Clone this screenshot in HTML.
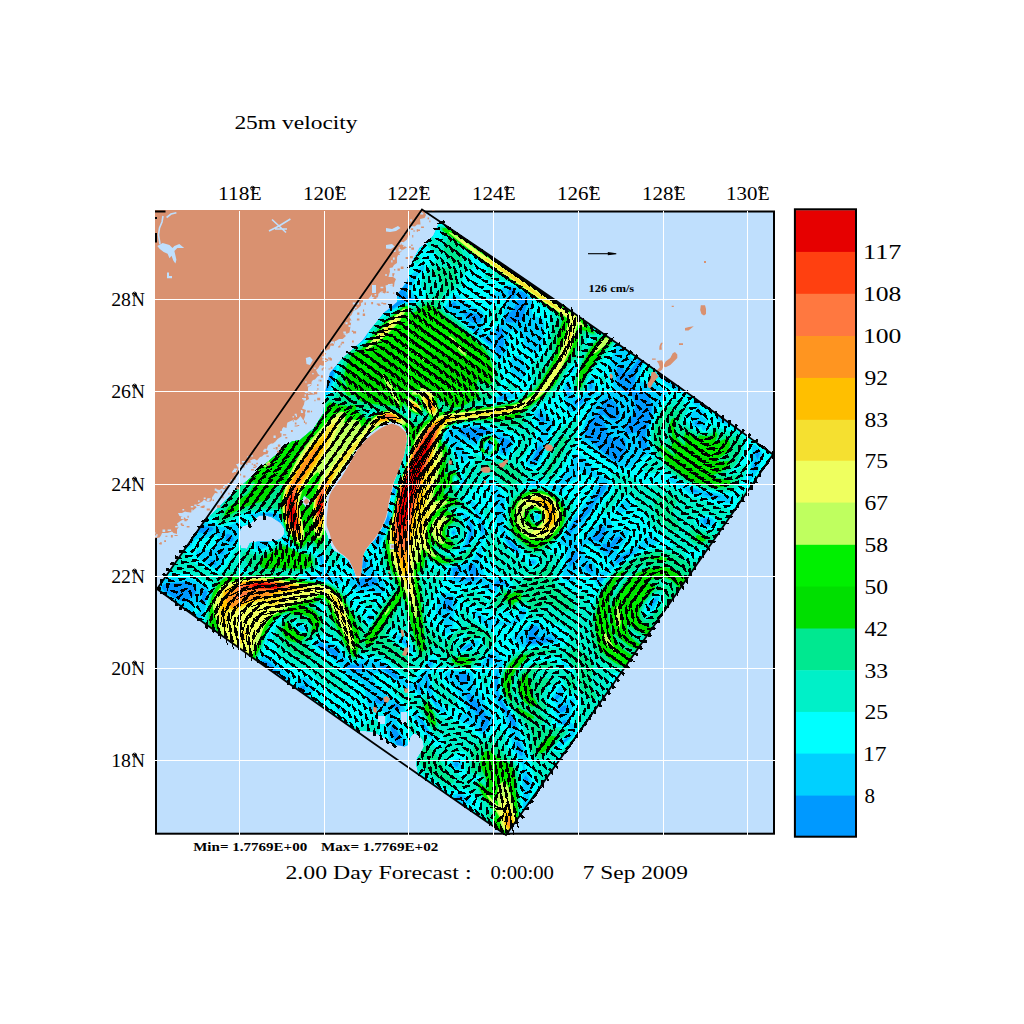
<!DOCTYPE html>
<html><head><meta charset="utf-8"><title>25m velocity</title>
<style>html,body{margin:0;padding:0;background:#fff}svg{display:block}text{font-family:"Liberation Serif",serif;fill:#000}</style>
</head><body>
<svg width="1024" height="1024" viewBox="0 0 1024 1024">
<rect width="1024" height="1024" fill="#fff"/>
<rect x="156" y="211.5" width="618" height="622.2" fill="#bfdffd" stroke="#000" stroke-width="2"/>
<clipPath id="dc"><path d="M439.5 221.5 466.4 239.4 510.6 269.5 554.7 299.8 598.6 330.4 642.4 361.1 686.1 392 729.6 423.2 773 454.5 740 502.3 706.9 550.1 673.6 597.7 640.3 645.3 606.9 692.9 573.4 740.3 539.7 787.7 506 835 462 804.7 417 773.3 418 771 416 764.2 417 758.4 421 752.5 424 746.6 423 740.8 420 736 414.2 733 410.3 736.9 408.4 744.7 404.5 746.6 394.7 744.7 388.8 740.8 381 736 374.2 732 365.4 731 357.6 730.4 330.8 713.1 287.2 682.2 243.7 651.3 200.3 620.2 157 589 166.3 576 180.5 555.7 191.1 540.5 199.8 528 211 515 223.6 502.4 236.3 489.7 251.5 477 261.7 467 277 454 292 441.5 300 440 314 428 323.5 413 325 392 330 372.5 343 358 357.5 345 362.5 340.6 370.3 329.7 384.4 312.5 397 302 397 295 400.5 290 407.4 281 410 268 413 260 420 247.5 427 243.5 434 234.5 439.5 221.5ZM393.1 420.4 400.3 423.1 406.2 431.3 407.6 438.2 406.1 447.2 404.4 455.9 401.2 464.3 398.7 471.7 393.9 483.5 392 492.7 390 501.6 388.4 510.4 386.8 517.6 382.5 527.8 378.4 534.4 374.7 539.7 370.1 545 366.6 549.4 364 554 362.7 559.2 362 568 360.9 576.8 357.8 579.7 355.4 576 353.8 571 351.3 566 348.7 561 343.6 556.4 338.9 553.2 334.4 551.2 331.5 547.1 328.9 540.9 327.1 535 324.9 529.9 323.9 526.7 323.9 518.3 324.5 510.2 325.1 502.2 326.3 495.3 328.9 489.6 332.5 484.6 335.3 480.2 338.9 475.8 343.2 468.9 347.7 461.6 352.1 454.4 356.4 447.6 361.3 441.8 366.7 435.8 371.8 431.8 376.9 428.1 381.7 424.9 386.9 422.3ZM239 533 242 526.6 250 523.4 255 519 259.4 515.6 266 515.5 272 517.2 281.2 523.4 284.4 529 284.4 534 280 539.5 270 541.5 258 541.5 250 543 247 549 241 548 238.5 540ZM400.5 712 407 712 407 724 400.5 724ZM378 715.4 385 715.4 385 724.2 378 724.2ZM304 495.5 312 501.5 306.5 508 301 501.5ZM389.5 543.5 395.5 543.5 395.5 549.5 389.5 549.5Z" clip-rule="evenodd"/></clipPath><g clip-path="url(#dc)" fill-rule="evenodd"><rect x="140" y="195" width="650" height="655" fill="#0099ff"/><path d="M141.5 199.2 199.5 239.7 203.5 241.4 205.5 240.5 205.2 238.5 201.5 235.2 146.1 196.5 151.5 195.5 222.5 196.5 227.5 199.6 233.5 196.1 241.5 195.3 297.5 195.1 325.5 196.3 337.5 195.2 365.5 195.1 386.6 196.5 395.5 199.5 397.5 199.1 400.4 196.5 405.5 195.7 439.5 195.2 461.9 196.5 457.6 202.5 457.5 204.5 459.5 206.6 467.5 204 473.5 206.1 479.5 205.4 480.6 204.5 477.5 200.9 468.3 196.5 475.5 195.6 583.5 195.1 649.5 195.8 654.9 196.5 653.5 199.1 645.5 202.5 644.6 204.5 644.8 206.5 647.5 209.3 650.7 208.5 654.1 202.5 656.7 200.5 663.5 200.4 669.5 205.2 673.5 205.7 675.6 204.5 681.1 196.5 689.5 196 692.9 196.5 683.2 210.5 683.4 212.5 685 214.5 687.5 216 689.5 216.1 691.5 214.5 704 196.5 711.5 195.9 716.5 196.5 698.7 222.5 700.3 226.5 703.5 227.9 708.2 226.5 729.1 196.5 737.5 196.5 713.9 230.5 713.4 232.5 717.5 234.8 744.4 196.5 755.5 195.3 769.5 195.4 773.4 196.5 737.2 248.5 737.5 249.5 739.5 250.2 777.1 196.5 779.5 195.4 787.5 195 789 196.5 788.8 416.5 787.5 426.3 784.1 426.5 783 428.5 783.5 430.5 787.5 433.2 788.2 436.5 787.7 458.5 783.3 462.5 787.5 466.2 788.5 478.5 787.5 484.8 783.5 483.9 781.5 484.5 781.3 486.5 782.8 488.5 787.5 491.1 788.6 496.5 789 558.5 787.5 574.6 779.5 571 775.5 571.4 773.5 572.5 767.5 580.2 763.5 582.8 762.5 578.5 764.9 568.5 763.9 566.5 761.5 564.6 757.4 564.5 741.5 580.6 737.1 590.5 731.1 596.5 731.3 600.5 736.7 608.5 738.2 614.5 737.5 617.5 735.5 620.3 727.8 626.5 728.1 640.5 727.1 644.5 723.5 647.6 719.5 648.3 717.2 646.5 712.3 636.5 709.5 634.9 707.5 635.4 705.5 637.1 704.1 640.5 705.5 648.5 703.5 650.5 699.5 650.3 695.5 651.5 678.6 664.5 669.7 672.5 671.5 673.3 681.5 667.9 690.7 660.5 697.5 658.3 701.5 658.7 707.5 662.7 713.5 664.8 727.5 664.3 731.5 663 733.5 660.2 734.3 656.5 730.2 646.5 730.3 642.5 744.9 616.5 747 600.5 759.5 589.2 761.5 590.1 765.5 595.4 769.5 595 775 592.5 775 584.5 776.7 580.5 781.5 577.3 783.5 576.9 785.5 578.3 786.5 584.5 775.8 592.5 779.5 595.6 787.5 599.2 788.4 602.5 788.9 622.5 787.5 656.2 782.2 652.5 775.5 644.9 773.5 645.2 768.2 650.5 766.8 654.5 768.1 656.5 771.5 658.6 781.5 661.9 787.5 664.9 788.4 670.5 788.5 750.5 787.5 752.7 773.5 743 771.4 742.5 771.4 744.5 787.5 756 788.5 758.5 788.8 810.5 787.5 828 739.5 794.6 737.5 794 735.5 795.3 733.2 800.5 734.9 802.5 787.5 839.1 788.4 848.5 787.5 849.4 759.5 848.7 737.5 849.8 717.5 849.6 712.4 848.5 703.5 842.9 701.6 844.5 702.3 846.5 704.9 848.5 695.5 849.7 682.6 848.5 682.7 846.5 681.5 845.4 679.5 845.5 675.5 848.5 657.5 849.6 613.5 849 585.5 849.8 569.5 849 555.5 849.9 495.5 849.8 482.7 848.5 491.1 844.5 492.5 842.5 491.5 840.8 489.5 840.3 481.5 843.5 471.5 845.1 469 846.5 469 848.5 465.5 849.2 447.5 849.9 433.5 849.2 430.8 848.5 423.5 843.1 419.8 838.5 416.2 824.5 418.8 814.5 411.4 804.5 398.3 792.5 397.2 788.5 398.2 786.5 403.9 782.5 399.2 778.5 393.5 776.4 391.5 776.5 389.5 778.5 391 786.5 390.5 796.5 391.5 802.2 403.5 811.5 411.5 814.9 414.2 820.5 413.9 840.5 413.3 842.5 407.5 848.9 397.5 849.7 381.8 848.5 383.5 844.5 382.7 842.5 381.5 842.3 378 844.5 376.9 848.5 369.5 849.7 329.5 849.8 313.5 848.6 257.5 849.4 227.5 848.6 241 828.5 239.5 821.2 237.5 820.1 232.8 824.5 216.2 848.5 205.5 849 203.4 848.5 230.5 810.5 231.3 808.5 230.7 806.5 227.5 804.9 197.4 848.5 189.5 849.8 173.5 849.1 172.2 848.5 204.3 802.5 204.9 800.5 203.5 798.6 200.6 800.5 167.1 848.5 161.5 849.6 141.5 849.9 140.1 848.5 140.5 776.5 141.5 771.3 148.7 760.5 148.9 758.5 147.5 758.1 145.5 759.1 141.5 764.1 140.2 754.5 140.6 706.5 141.5 702.1 143.5 702.9 145.5 702.3 146.6 698.5 145.5 696.4 141.5 695.5 140.3 684.5 140.8 670.5 141.5 668.7 145.3 666.5 145.7 664.5 141.5 663.5 140.3 654.5 140.8 604.5 140 538.5 141.1 520.5 140.2 478.5 141.5 466.8 149.5 465.8 150.3 462.5 147.5 456.9 143.5 454.8 141.5 455.5 140.9 448.5 140 376.5 141 298.5 141.5 294.6 163.5 309.1 167.5 309.3 169.1 308.5 169.7 306.5 168 304.5 141.5 286.8 140.1 278.5 140.2 252.5 141.5 246.8 177.5 271.9 181.5 273.2 183.3 272.5 141.5 242.8 140.3 238.5 140.3 222.5 141.5 217.8 191.5 252.7 195.5 253.6 196 252.5 192.9 248.5 141.5 212.7 140.5 206.5ZM251.5 202.5 249.5 203 248.5 204.5 249.5 207.1 251.5 206.5 252.6 204.5ZM441.5 209.2 439.5 209.2 437.5 210.8 433.8 216.5 432.2 220.5 433.5 221.8 437.5 220.2 442.1 216.5 443 212.5ZM617.5 208.6 616.1 210.5 617.5 215.1 627.5 222.1 629.5 222.8 631.5 222 632.3 220.5 631.2 218.5 623.5 213.7 619.5 209.3ZM269.5 214.1 267.5 215.8 267.5 218 269.8 216.5ZM518.2 214.5 515.5 213.4 505.6 218.5 505.1 220.5 507.5 221.9 511.5 221 516.1 218.5 518 216.5ZM449.5 215.4 446 216.5 444.5 218.5 445.2 222.5 447.5 224.1 449.5 223.4 451.4 218.5 451 216.5ZM473.5 216.8 471.5 217.9 470.3 226.5 466.6 234.5 466.8 236.5 469.5 238.9 471.6 238.5 477.5 224.8 476.3 220.5ZM553.5 216.8 551.5 216.9 548.7 222.5 548.4 228.5 549.5 234.4 552.3 230.5 554.5 224.5 554.8 220.5ZM651.5 238.5 653.5 240.3 663.5 237.8 671.5 239.8 681.5 241 686.5 240.5 688.2 238.5 670.4 232.5 666.5 230.5 661.5 225.6 659.5 226.3ZM340.2 228.5 347.5 237 351.5 239.3 352 238.5 347.5 232.1 343.5 228.6 341.5 227.7ZM423.5 230.7 420.7 232.5 419.4 234.5 419.5 236.5 421.5 237.1 423.5 235.2 424.6 232.5ZM493.5 235.7 490.5 236.5 480.2 246.5 481.7 248.5 491.5 253.4 495.2 252.5 498.5 246.5 496.8 238.5 495.5 236.5ZM547.5 240.5 545.5 243.1 543.1 250.5 542.5 254.5 543.5 257.2 545.5 256 547.5 250.8ZM512.6 242.5 509.5 242.1 505.5 243.3 500 246.5 503.5 247.8 507.5 247.4 511.9 244.5ZM699.5 243.6 697.8 244.5 697.1 246.5 698.1 250.5 704.2 254.5 705.3 256.5 705.3 262.5 702.1 274.5 703.3 276.5 705.5 276.3 707.5 274.9 708.6 272.5 710.8 262.5 710.9 256.5 705.1 246.5 703 244.5ZM273.5 249.6 270.3 252.5 270 254.5 271.5 256.7 275.6 256.5 277.4 254.5 276.1 250.5ZM221.5 257.9 220.7 270.5 217.5 276.5 216.9 280.5 219.1 282.5 241.5 293.3 244.9 292.5 243 290.5 235.5 287.3 224.7 278.5 221.9 272.5 222.5 260.5ZM378 262.5 377.5 264.5 378.4 266.5 383.5 271.1 385.5 271.2 389.6 266.5 389.5 264.2 381.5 261.7ZM634.4 262.5 633.5 261.4 631.5 261.1 623.5 263.7 613.5 263.4 606.4 266.5 611.3 268.5 615.5 268.5 625.5 266 631.5 265.6 633.6 264.5ZM685.5 262 681.5 262 679.5 264.5 681.5 270.8 683.5 270.4 686.6 264.5ZM289.5 263 289.3 264.5 295.5 270.1 297.9 270.5 298.7 268.5 297.5 267.2ZM337.5 264.8 335.5 264.8 334.2 266.5 334.2 270.5 335.5 271.4 339.2 268.5 339 266.5ZM562.9 282.5 569.5 292 573.5 294.3 575.9 292.5 578.3 288.5 586.1 284.5 589.5 274.4 597.2 268.5 595.5 267.8 591.7 268.5 585.5 273.4 575.5 275.9 571.5 266.4 569.5 264.8 567.5 264.7 564.6 266.5 562.5 270.5 561.7 276.5ZM184.6 274.5 189.5 277.8 194.4 278.5 195 276.5 191.5 274.4 187.5 273.8ZM719.5 278 717.5 277.3 713.5 279 712.4 282.5 713.5 284.9 715.5 285.8 718.4 284.5 720.1 280.5ZM331.5 279.1 327.1 292.5 326.9 296.5 329.5 299 335.5 299.6 340.1 296.5 341.3 294.5 333.5 279.6ZM359.5 278.9 359.1 280.5 361.5 283.2 365.5 285.6 367.5 285.6 368.3 284.5 365.3 280.5ZM413.4 298.5 406.6 294.5 406.5 290.5 408.5 284.5 408.4 282.5 407.5 282.2 396.9 294.5 400.8 300.5 391.5 304.5 381.8 304.5 373.5 298.6 361.5 298.6 357.4 300.5 359.5 302.7 371.5 307 378 310.5 383.5 311.4 391.5 309.2 405.5 301.4 412.4 300.5ZM647.5 281.5 647.5 286.9 649.5 291.6 651.5 291.9 652.4 288.5 651.5 285 649.5 281.9ZM685.7 282.5 687.4 286.5 689.5 288.6 693.5 290.6 697.8 290.5 695.5 284.9 693.5 282.6 687.5 281.5ZM372.3 288.5 373.5 293 375.5 296 379.5 295.2 381.5 292.7 381.4 290.5 379.5 288.1 375.5 287.3ZM511.5 288.1 509.5 288.8 507.8 292.5 511.5 300 513.5 298.9 516.4 292.5 515.5 289.8ZM285.5 288.8 283.5 289.2 282.6 296.5 280.5 302.5 280.9 304.5 283.5 306.3 285.5 305.3 286.6 302.5 286.2 290.5ZM523.9 292.5 521.5 291.3 519.5 291.5 518.9 292.5 518.2 298.5 516 304.5 512.5 310.5 507.5 314.1 505.4 318.5 505.5 322.2 517.5 322.4 521.2 320.5 522.6 318.5 528.4 298.5 528.4 296.5ZM699.5 292.5 701.1 294.5 705.5 296.9 708.7 296.5 709.5 294.5 708.3 292.5 705.5 291.5 701.5 291.4ZM625.5 298.6 623.5 298.2 621.5 299.5 618.2 304.5 614 314.5 599.6 328.5 601.5 329.7 613.9 324.5 615.4 322.5 617.1 314.5 622.2 308.5 625.5 302.5ZM673.5 299.7 671.5 297.9 667 298.5 664.4 302.5 662 310.5 653.5 313.8 647.5 314.6 645.5 313 643.1 308.5 641.5 307.8 639.5 308.6 636.1 312.5 635.1 316.5 639.5 328.2 641.5 328.8 645.5 327.5 659.5 317.7 665.5 310.5 673.7 304.5 674.4 302.5ZM450.2 306.5 455.5 307.4 457.1 306.5 455.5 302.8 453.5 302.1 451.5 303.5ZM723.4 304.5 722 306.5 723.5 310.2 725.5 311.2 727.8 310.5 729.1 308.5 728.8 306.5 726.3 304.5ZM215.5 304.7 211.5 306.3 210.9 308.5 213 318.5 215.5 320 220.4 316.5 224.2 310.5 223.7 308.5 221.5 306.6ZM462.6 312.5 469.5 320.5 473.5 323.2 477.5 323.6 479.5 322.7 481.1 320.5 480.8 316.5 477.5 314.2 463.5 311.2ZM683.5 311.1 681.5 311.2 679.5 313.2 672.8 326.5 673.5 329.7 677.5 329.6 679.5 331.3 679.2 334.5 675.4 344.5 675.5 346.5 677.5 347 685.5 335.6 696.4 322.5 697 320.5 694.5 316.5ZM321.5 314.2 320 316.5 320.3 318.5 323.5 321.6 324.5 320.5 324.5 318.5ZM155.5 320.9 153.5 321.7 145.7 334.5 144.1 340.5 143.9 348.5 145.2 354.5 152.4 366.5 159.5 386.1 163.5 391.7 164.4 388.5 164 384.5 155.2 362.5 151.5 348.5 151.5 344.4 156.3 324.5ZM468.4 324.5 473.5 330.4 477.5 333.2 478.7 332.5 473.5 325.9 469.5 323.3ZM361.5 325.1 359.5 324.8 358.9 326.5 361.4 332.5 360.9 336.5 357.5 340.3 353.3 342.5 358.8 342.5 361.9 340.5 365.2 336.5 365.7 330.5 363.5 326.5ZM707.5 325 705.5 325.3 703.7 328.5 703.5 334.5 705.5 336 707.5 333.5 709.5 328.5 709.4 326.5ZM501.5 326.9 496.5 330.5 496.1 332.5 497.5 342.5 495.5 348.5 497.5 354.1 499.5 353.6 501.5 351.3 503.9 344.5 503.9 336.5 502.6 328.5ZM750.3 328.5 747.5 327 743.5 328.1 741.6 330.5 740.9 334.5 741.5 335.2 745.5 334 749.8 330.5ZM205.2 332.5 201.5 332.3 197.5 335.6 184.8 356.5 184.1 360.5 185.5 363.7 187.5 365.4 189.5 366 191.5 365 198.9 352.5 205.5 338.5 206 334.5ZM243.1 332.5 239.5 332.2 235.5 334.1 217.5 347.1 205.2 354.5 194.4 370.5 194.2 374.5 195.5 377.8 197.5 379.2 199.5 379.2 203.3 376.5 209.5 364.6 219.5 350.4 227.5 347.4 233.5 349.1 237.5 347.1 241.7 342.5 243.7 338.5 244.1 334.5ZM272.9 336.5 275.5 338.2 278.5 336.5 278.6 334.5 275.5 333 273.4 334.5ZM482.5 336.5 487.5 342.2 491.5 344.8 492.4 344.5 492.4 342.5 489.5 338.9ZM625.5 335 624 338.5 625.5 341.1 627.6 336.5ZM666.3 336.5 663.5 337 659.5 339.7 655.5 344.8 657.5 344.9 663.5 341.2 666.1 338.5ZM265.5 347.3 263.5 347 261.5 348.3 258.4 352.5 250.6 368.5 251.5 371.3 253.5 371.6 265.1 352.5 266.2 348.5ZM307.5 347.4 305.9 350.5 307.5 352 309.4 348.5ZM701.5 348 699.5 347.5 697.5 348.9 695 352.5 695.5 354.7 699.5 355.9 702.8 354.5 702.7 350.5ZM643.5 355.2 639.5 358.3 631.5 368.9 627.5 372.7 625 372.5 621.5 365.7 619.5 365.2 617.1 368.5 616 374.5 616.8 380.5 619.5 386.6 623.5 391.5 632.4 396.5 635 402.5 635 408.5 631.5 417.4 626 424.5 625.2 428.5 625.8 432.5 627.5 434.2 637.5 432 641.4 448.5 643.4 450.5 645.5 450.8 647.6 448.5 645.3 434.5 651.5 414.1 651.8 406.5 649.6 398.5 647.5 394.7 643.5 392 636.9 390.5 635.1 388.5 634.2 384.5 636.1 374.5 644.7 356.5ZM323.5 357.6 322.3 358.5 322.1 360.5 327.9 366.5 329.9 370.5 329.6 374.5 324.8 388.5 325.5 390.5 327.5 390.8 333.7 374.5 334 368.5 331.5 362.4 326.6 358.5ZM715.2 364.5 715.4 366.5 717.5 369.2 721.5 370 723.2 368.5 722.5 366.5 719.5 364.3 717.5 363.8ZM223.5 366 221.5 366.6 220.5 368.5 218 378.5 218.3 382.5 219.5 384.6 221.5 385.8 223.5 385.5 225.6 382.5 225 370.5ZM760 366.5 757.5 365.8 753.5 367.2 751.3 370.5 751.5 373.4 755.5 374.7 759.5 373.2 761 370.5ZM661.3 370.5 660.4 372.5 661.5 374.5 669.5 381.3 675.5 383.8 676 382.5 663.5 370.5ZM295.9 372.5 294.5 374.5 291.1 386.5 291.5 391.3 293.5 391.7 297.8 386.5 297.5 372.8ZM733.3 374.5 734.2 376.5 737.5 377.5 743 376.5 743.8 374.5 737.5 373.4ZM591.5 381.5 589.5 383.6 589.5 389 591.5 388.9 592.7 386.5ZM567.5 386 566.5 388.5 567.5 394.5 569.5 396 569.5 389ZM306.6 398.5 309.5 399.1 314 396.5 314.2 394.5 311.5 392.8 307.5 393.2ZM238.7 396.5 237.5 396.1 235.8 398.5 233.9 406.5 223.9 424.5 223.5 426.7 225.5 429.6 227.5 430.1 230.3 428.5 234.8 418.5 239.8 402.5 240.1 398.5ZM498.4 398.5 499.5 399.7 501.5 399.6 510.9 396.5 501.5 395.6ZM605.5 398.4 603.4 400.5 600.2 410.5 595.5 414.9 591.5 420.5 585.5 432 585.1 434.5 587.6 438.5 610.3 458.5 613.5 460.6 617.5 461.5 620.2 460.5 626.1 448.5 625.3 440.5 623.5 437.6 611.5 438.4 607.5 431.6 601.4 416.5 603.5 414.3 609.5 419.2 615.5 420.5 619.1 418.5 620.2 412.5 617.9 406.5 614.8 402.5 609.5 398.6ZM573.4 402.5 574.2 404.5 577.5 405.7 581.5 403.7 584 400.5 583.5 399.3 573.5 400.5ZM214.1 406.5 211.5 407.8 209.7 410.5 208.7 414.5 209.5 415.8 211.5 415.6 213.9 412.5 215 408.5ZM750.8 406.5 751.2 408.5 753.5 409.1 755.3 408.5 756.2 406.5 753.5 405.1ZM726.5 410.5 725.3 412.5 729.5 418 733.5 419.3 736.2 418.5 737.5 416.9 737.3 414.5 733.5 410.8 729.5 409.1ZM537.5 414.1 539.5 418.9 543.5 422.5 544.8 420.5 543.4 416.5 539.5 413.2ZM279.5 414.9 275.5 417.1 271.4 422.5 271.5 424.9 275.5 422.8 280.6 416.5ZM694.4 422.5 695.5 425 699.5 425.5 701.7 422.5 697.5 420.7ZM458.9 430.5 461.4 434.5 475.5 442.2 477.5 441.1 481.5 435.4 485.5 433.8 494.1 432.5 485.5 428.9 477.5 427.4 461.8 428.5ZM499.5 436.3 499.2 438.5 501 444.5 500.6 450.5 501.4 452.5 505.5 453 510.6 442.5 509.5 440.2ZM489.5 443.6 488.4 444.5 489.5 450 491.7 446.5 491.5 444.2ZM541.5 445.3 539.5 446.3 537.5 449.2 532 460.5 531.8 462.5 533.5 463.2 535.5 462.5 538.9 458.5 542.1 450.5ZM195.5 449.4 193.5 449.9 191.1 452.5 190.3 462.5 191.5 466.7 195.5 468.8 197.3 468.5 197.8 462.5 201.7 454.5 199.5 450.7ZM755.5 449.8 755.2 454.5 757.5 459.7 759.6 454.5 759.3 452.5 757.5 450.1ZM367.5 455.2 365.5 456.5 362.6 464.5 356.5 470.5 357.5 472.2 364.4 468.5 367.9 464.5 369.8 458.5 369.2 456.5ZM755.5 459.7 752.8 466.5 752.7 470.5 753.5 471.8 757 466.5 757.2 462.5ZM201.5 471.5 200.8 472.5 203 476.5 208 480.5 208.3 478.5 206.5 474.5 203.5 471.8ZM605.5 483 603.5 482 601.5 483.4 593.2 500.5 573.5 521.7 567 532.5 566.6 536.5 569.5 535.3 577.5 524.5 589.3 512.5 596.1 500.5 601.5 495 605.8 488.5 606.5 484.5ZM529.5 484.5 533.5 485.7 537.6 484.5 533.5 482.9ZM393.5 488.9 392.6 492.5 395.5 494.9 395.5 490.2ZM689.3 490.5 693.5 492.3 703.6 492.5 697.5 491.5 697.1 490.5 691.5 488.9ZM704.2 494.5 715.5 497.6 719.5 497.8 721 496.5 709.5 493.7 705.5 493.4ZM363.5 500.2 360.2 504.5 361.5 506.5 367.5 505.1 369 506.5 369.2 514.5 371.5 517 372.8 516.5 376.3 504.5 373.5 502.6 369.5 502.3 365.5 500ZM771.5 505.2 769.5 505.8 767.5 508.4 763.4 522.5 763.4 528.5 765.5 529.6 767.5 529 769.7 526.5 776.5 512.5 775.6 508.5 773.5 506ZM259.5 514.5 275.5 516.6 277.5 518.5 277.8 522.5 279.5 525.8 280.1 522.5 279.5 520.4 277.6 518.5 276.6 514.5 269.5 513.5ZM387.5 513.2 386.7 518.5 385.2 520.5 385.5 523.7 387.5 524 389.5 522.6 389.6 518.5ZM704.3 518.5 703.3 520.5 704.6 524.5 708.4 524.5 711.1 520.5 707.5 518.2ZM174.8 534.5 179.5 538 181.8 542.5 183.5 543.7 185.5 543.6 191.5 533.2 193.5 531.8 205.5 533.2 211.5 531.1 213.7 528.5 211.5 526.9 203.5 526.3 197.5 522.4 191.5 521.6 189.1 522.5 188.5 526.5 187 528.5 176.2 532.5ZM469.5 522.1 469.3 534.5 466.3 544.5 467.5 545.4 471.5 539 472.7 534.5 471.6 524.5ZM481.5 522.5 481.5 531.9 483.5 533 483.9 528.5ZM605.5 528 603.5 526.5 599.5 528.6 592.1 536.5 591.8 538.5 594.2 540.5 599.5 541.8 601.3 540.5 604.9 532.5ZM453.5 531 452 532.5 453.5 534.3 455.1 532.5ZM226.3 534.5 225.4 538.5 226.7 540.5 229.5 542 231.5 542 233.2 540.5 233.7 538.5 231.5 535.1 227.5 533.8ZM362.8 534.5 363 536.5 365.5 538.8 369.5 539.8 373.5 539.5 377.5 542.1 379.5 541.8 381.6 538.5 379.5 536.1 375.5 536.1 365.5 532.5ZM621.5 536.7 619.5 536.2 615.5 537.8 612.8 540.5 611.5 543.2 609.5 544 603.5 543.8 602.6 544.5 604 550.5 607.5 553.2 609.5 553 612.8 546.5 617.5 544 621.3 540.5 622 538.5ZM507.3 538.5 506.9 540.5 509.4 544.5 515.5 550.7 517.5 551.4 518.3 550.5 517.2 548.5ZM729.5 545.9 727.5 546.3 726.7 548.5 727.5 552.5 729.5 551 730.6 548.5ZM219.1 550.5 219 552.5 221.4 554.5 223.5 553.4 223.5 551.3 221.5 549.5ZM575.5 551.5 572.8 552.5 570.2 556.5 569.1 562.5 569.5 567.6 577.5 558.3 578 554.5 577.1 552.5ZM633.5 551.6 629.5 551.8 618.3 558.5 615.4 562.5 617.5 562.9 631.2 554.5 633.7 552.5ZM319.5 554.1 318.2 554.5 320.3 558.5 321.5 564.5 322.5 562.5 322.1 558.5 320.9 554.5ZM354.1 556.5 353.5 558.5 354.1 560.5 361.5 567.2 363.5 568 365.5 567.4 366.6 564.5 366 562.5 361.5 557.6 357.5 555ZM209.5 560.1 210.5 562.5 213.5 564.7 215.5 565.2 216.3 564.5 216.1 562.5 213.5 560.1ZM723.5 558.8 719.5 559.7 717.5 561.6 716.3 564.5 717.5 568 719.5 567.8 722.9 564.5 724 560.5ZM530.8 562.5 533.5 563.7 534.7 562.5 533.5 561 531.5 561.3ZM480 576.5 479.9 574.5 473.5 563.6 467.6 566.5 467.5 568.5 470.1 574.5 469.5 576.7 467.5 578 463.5 578.2 461.5 577.4 458.6 572.5 460.7 568.5 459.5 567.7 455.5 567.4 452.3 568.5 453.3 572.5 452.2 576.5 455.5 578.4 463.5 578.9 465.5 580.5 469.5 580.7 477.5 579.1ZM586.9 564.5 585.2 566.5 586.6 570.5 589.5 572.8 592.9 572.5 593.3 570.5 591.5 566.7 589.5 564.9ZM711.5 573.8 709.5 574.9 708.8 576.5 709.5 578.5 711.5 579.3 713.3 576.5 712.7 574.5ZM151.5 574.7 149.5 575.6 148.3 578.5 148.3 580.5 149.5 581.9 151.5 581.3 153.1 578.5 152.9 576.5ZM305.4 576.5 311.5 578.6 327.5 579.5 330.6 578.5 323.5 577.3 313.5 577.3 309.5 576.1ZM603.5 575.9 599.5 577.1 598.6 578.5 599.5 581.6 602.1 580.5 603.5 578.5ZM357 584.5 358.9 586.5 361.5 587.3 369.5 586.8 375.8 584.5 377.1 582.5 377.1 580.5 373.5 577.1 365.5 577.1 358.8 580.5 357.1 582.5ZM508 584.5 503.5 581.2 499.5 580.2 497.5 580.7 493.6 584.5 493.3 588.5 495.5 590.6 497.5 584.6 499.5 583.3 503.5 583.8 507.5 585.8ZM161.9 586.5 162.2 588.5 163.9 590.5 173.5 597.4 183.5 601.9 185.5 601.8 193.2 596.5 196.7 590.5 195.8 586.5 193.7 584.5 187.5 582 167.5 583.5 163.6 584.5ZM205.5 590.1 202.4 592.5 201.9 600.5 203.5 605.9 205.5 601 207 592.5ZM656.2 598.5 652.6 600.5 649.8 604.5 649.5 606.6 651.5 606.1 656.3 600.5ZM447.5 598.5 445.5 598.9 443.2 602.5 443.9 606.5 447.5 611.8 449.5 611.3 452.6 602.5 451.5 600.2ZM185.5 608.8 185.1 616.5 187.1 622.5 193.5 628.4 195.5 629.1 197.5 628.5 199.1 626.5 199.3 622.5 197.5 620.6 192.9 618.5 187.5 609.9ZM523.5 610.2 522.2 612.5 522.2 614.5 523.5 615.3 524.9 612.5ZM712.8 610.5 712 612.5 716.1 626.5 717.5 627.6 721.5 628.1 726 626.5 727.2 624.5 727.3 620.5 725.6 614.5 720.7 610.5 715.5 609.7ZM154.8 614.5 155.3 616.5 157.5 618.3 159.5 617.7 159.8 616.5 157.5 613.9ZM371.5 617.6 369.5 617.2 368.8 618.5 369.5 620.7 371.5 618.8ZM695.5 620.8 691.3 626.5 690.3 632.5 691.9 632.5 696.1 626.5 696.7 622.5ZM526 640.5 526.2 642.5 527.5 643.9 531.5 644.3 547.5 642.2 551.5 640.5 551.9 638.5 549.5 636.9 541.5 638 537.5 636.5 538.5 628.5 537.2 626.5 535.5 625.7 532.7 626.5 530.6 628.5ZM177.5 632.4 179.5 636 195.5 651.6 211.5 661.6 214.3 662.5 214 660.5 209.5 654.9 200.7 648.5 183.5 631 179.5 630.3ZM401.5 640.5 409.5 647.8 410 646.5 407.5 643.2 403.5 640.2ZM317.5 644.2 319.5 647.1 327.5 650.8 335.5 657.3 338 656.5 338 652.5 335.5 649.4 329.5 648.1 321.5 643.3 319.5 642.9ZM472.7 644.5 468.6 644.5 462.2 648.5 463.5 649.4ZM493.5 654.4 491.5 654.5 487.1 658.5 485.8 660.5 487.5 662.3 492.4 658.5ZM259.5 662.4 254.7 668.5 254.1 672.5 255.5 675.6 257.5 676.1 265.5 674.5 269.5 675 274.9 678.5 277.5 685.3 279.5 684.6 282.7 680.5 282.6 678.5 278.6 674.5 273.5 666.5 269.5 662.8 265.5 661 261.5 661.2ZM431.5 662 429.2 662.5 428.1 664.5 428.9 666.5 431.6 664.5ZM346.3 666.5 347.5 668.6 351.5 671.3 357.5 672.4 362.3 670.5 364.1 666.5 363.5 664.5 361.5 663.4 355.5 665.5 347.5 664ZM378.4 664.5 379.5 666.5 393.5 677.3 397.5 679 398.7 678.5 396.4 674.5 387.5 667.1 381.5 664.3ZM182.2 672.5 182 674.5 185.5 680.2 187.5 681.6 193.5 683 199.5 689 203.5 689.2 208.4 686.5 205.5 683.4 197.5 680.1 189.5 673.4ZM225.5 672.5 226.5 674.5 229.5 676.2 231.3 674.5 227.5 671.4ZM497.5 671 495.5 675.9 494.7 682.5 497 696.5 500.4 704.5 508.1 716.5 511.5 725 513.5 727.5 515.5 727.1 516 724.5 515 720.5 502.3 702.5 498.5 694.5ZM457.9 674.5 457.4 676.5 461.5 683.8 463.5 685.1 465.5 684.2 468.9 678.5 468 674.5 463.5 673.5ZM751.5 674.3 749.5 674.2 747.4 676.5 742.7 688.5 743.5 688.6 750.5 680.5 752.4 676.5ZM425.5 674.6 425.5 680.2 429.5 693.3 430.3 692.5 427.5 677.8ZM725.5 677.1 723.5 679.8 720.7 690.5 712 702.5 711.5 706.6 713.5 706.3 716.9 702.5 722.6 690.5 726.6 684.5 727.5 680.1 727.2 678.5ZM419.5 681.9 417.2 686.5 419.5 691.4 420.6 686.5ZM407.1 684.5 407.5 687.2 409.5 688.7 410.7 688.5 411.5 686.5 409.5 684.8ZM304.7 686.5 303.5 685.4 299.5 686.8 295.5 691.7 293.5 696.7 295.5 696.7 304.1 690.5 305.1 688.5ZM693.5 684.6 682 696.5 680.9 698.5 681.5 699.2 685.5 697.2 692.8 690.5 695.1 686.5ZM273.5 689 271.5 690 269.5 692.5 269.6 694.5 271.5 696.5 273.5 696.4 275 694.5 275.4 690.5ZM741.5 688.7 724.3 708.5 723.5 712.8 727.5 710 738.6 696.5 742.2 690.5ZM467.5 692.2 466.2 694.5 466.9 698.5 473.8 710.5 481.1 718.5 479.9 728.5 481.5 730.6 483.5 730.7 486.1 728.5 488.3 724.5 489.3 720.5 488.8 718.5 471.5 694.4ZM559.5 691.5 555.6 696.5 554.8 698.5 555.5 699.2 557.5 699.2 560.1 696.5 560.9 692.5ZM375 700.5 375.5 702.6 379.5 703.9 384.6 702.5 386.2 700.5 383.5 697.8 379.5 696.7 375.8 698.5ZM432.1 698.5 435.5 705.1 437.3 704.5 433.5 698ZM231.5 700.1 227.8 702.5 226.4 706.5 232.5 716.5 229.5 738.5 227.4 746.5 228.4 748.5 231.5 749.8 236.2 748.5 236.9 746.5 237.2 736.5 239.7 726.5 239.8 716.5 239 708.5 237.5 704.6 233.6 700.5ZM289.5 701.4 285.3 704.5 284.4 706.5 285.5 708.7 287.5 708.2 289.1 706.5 290.4 702.5ZM391.5 704.5 392 706.5 395.5 709.8 397.5 709.9 400.3 708.5 400.2 706.5 397.5 704.2 393.5 703.4ZM565.5 705.3 561.5 706.5 559.1 708.5 558.3 710.5 561.5 712.4 565.5 710.8 567.2 706.5ZM635.5 714.5 633.5 714.1 627.5 716.8 619.5 717.3 617.5 718.6 615.7 722.5 615.9 728.5 615 730.5 609.5 736.3 604.6 746.5 604.3 750.5 607.5 753.2 611.7 752.5 617.5 746.6 621.5 744.2 627.5 744.3 628.7 746.5 622.2 756.5 620.8 760.5 621.5 766.4 623.5 769.3 626.3 770.5 623.2 776.5 612 780.5 608.1 788.5 605.5 790 599.5 789.7 595.5 786.3 593.5 786.5 591.5 788.5 590.8 790.5 591.5 793.2 595.5 794.5 597.9 796.5 599.3 800.5 599.7 806.5 601.5 808.6 605.5 807.8 609.5 804.9 614.8 796.5 623.5 785.6 636.8 774.5 648 762.5 651.5 756.7 653.5 744.5 652.9 740.5 651.5 738.3 643.5 733.4 637.5 726.4 635.8 722.5ZM421.5 719.6 419.9 720.5 427.5 732.9 428.3 732.5 428.1 730.5ZM565.5 720.2 563.5 720.5 561.8 722.5 563.5 724.5 566.9 722.5ZM305.5 721.2 303.7 724.5 304.2 726.5 305.5 728.2 307.5 728 308.6 724.5 307.5 722ZM255.5 724 252.4 724.5 249.5 727.2 245.1 740.5 238.2 748.5 239.7 752.5 243.5 755.6 245.5 755 258.2 730.5 257.8 726.5ZM391.5 724.5 390.6 728.5 393.6 738.5 397.5 745.2 403.5 751 404.2 750.5 403.6 746.5 398 732.5 393.5 725ZM315.5 732.4 313.2 734.5 312.3 740.5 313.5 742.9 321.2 746.5 322.9 748.5 323.6 752.5 321.5 758.5 321.5 762.5 323.5 765.8 325.5 766 327.2 762.5 328.3 754.5 331.5 750.5 332.7 746.5 321.5 733.3 319.5 732.2ZM568.7 738.5 567.5 737.8 561.3 742.5 561.5 743.5 563.5 743.1ZM517.5 741.1 516.1 742.5 516.4 746.5 519.5 754.4 521.5 756.3 522.7 754.5 521.9 748.5 519.5 743.1ZM681.5 746.7 678 748.5 677.6 750.5 679.5 752.2 683.3 750.5 683.7 748.5ZM717.4 756.5 723.5 757.2 729.5 762.7 733.5 762.5 745.9 758.5 731.5 751.5 723.5 752.5ZM638.8 754.5 637.9 758.5 635.6 762.5 631.5 766.9 627.5 769 628.9 764.5 631.5 760.4 637.5 753.6ZM693.5 754.1 690.3 756.5 690.2 758.5 693.5 761.1 695.9 760.5 697.3 758.5 695.5 754.7ZM265.5 756.3 257.6 768.5 257.1 770.5 259.5 772.9 262.8 770.5 264.7 766.5 266.1 760.5ZM716.7 758.5 715.5 757.6 706.3 760.5 703.2 762.5 702.9 764.5 705.5 766.5 707.5 766.3 710.6 764.5ZM455.5 762.1 453.8 764.5 455.5 766.5 457.5 766.8 458.6 764.5 457.8 762.5ZM565.5 766.3 565.2 770.5 567.5 771.5 567.5 768.4ZM599.5 764.5 598.6 768.5 599.5 771.2 601.5 772.9 603 770.5 603 768.5 601.5 765.3ZM665.5 765 663.5 765.3 660.7 768.5 660.2 772.5 661.5 774.7 665.5 772.8 667.8 770.5 667.8 766.5ZM525.5 775.6 523.8 778.5 525.5 785.2 527.5 784.9 528.6 782.5 527.9 778.5ZM273.5 778.4 272.1 780.5 273.2 784.5 279.5 790.3 281.5 791.1 282.6 790.5 282.6 786.5 279.5 781.8 275.5 778ZM212.2 788.5 213.5 790.5 215.5 790.2 220.7 784.5 225.5 784 229.5 785.1 239.3 790.5 245.5 795.7 247.5 794.6 245.5 791.9 238.2 786.5 223.5 778.8 221.5 779.2 218.7 782.5 213.5 786.1ZM657.5 780.3 653.5 782.7 643.5 797.3 640 804.5 640.4 808.5 641.5 809 643.5 807.3 648.1 796.5 656.3 784.5ZM681.5 782.9 679.5 784.8 676.2 792.5 670.9 800.5 670.5 802.5 671.5 803.4 675.5 801.3 686.2 792.5 687.3 790.5 685.6 786.5ZM713.8 788.5 711.5 786.5 709.5 786.4 702.5 788.5 700.3 790.5 703.6 792.5 709.5 794.3 712.5 792.5ZM352.3 792.5 352 794.5 355.5 798 359.5 800.6 361.5 800.3 362.3 798.5 359.5 794.9 355.5 792.4ZM456.7 796.5 456.8 798.5 459.5 800.3 461.5 800.2 463.3 798.5 461.8 796.5 459.5 795.5ZM549.8 798.5 550.7 800.5 553.5 802.8 557.5 803.5 559.5 802.5 559.2 800.5 555.5 797.6 551.5 797ZM297.5 800.7 295.2 802.5 292.3 812.5 284.9 828.5 287.5 831.3 307.5 844.9 308.6 844.5 307.6 842.5 302 836.5 297.7 828.5 297.5 812.5 299.7 802.5ZM583.4 804.5 581.5 803.1 579.5 803.6 574.2 806.5 573 808.5 575.5 810 577.5 809.4 582 806.5ZM453.5 810.5 454.9 814.5 463.5 821.9 469.5 826 473.5 826.9 472.1 824.5 455.5 810.2ZM241.5 811 239.5 811.1 237.5 812.5 239.5 818.5 243.5 816.8 244.9 814.5 244.1 812.5ZM381.5 814.2 379.5 814.2 376.3 816.5 375.1 818.5 375.5 820.7 377.5 821.8 381.5 820.5 382.9 816.5ZM549.5 817.7 547.5 816.9 545.5 817.8 541.8 822.5 539.2 828.5 540.6 830.5 543.5 830.3 548.4 824.5 550.4 820.5ZM330.3 822.5 333.5 825.5 349.5 833 353.5 833.6 355.7 832.5 343.5 827.6 333.5 821.7ZM561.5 825.5 558.7 828.5 555.7 836.5 557.5 839 567.5 846.3 569 844.5 565.2 836.5 567.4 830.5 567 828.5 565.5 826.4ZM387.5 827.1 385.2 830.5 385.5 837.2 387.5 837.3 389.5 835.6 390.8 832.5 389.9 828.5ZM691.5 831.7 689.8 834.5 691.5 836.8 693.2 834.5Z" fill="#00d0ff"/>
<path d="M141.5 204.8 197.5 243.9 203.5 245.3 207.5 244.1 209 242.5 208.9 238.5 205.5 234.5 151 196.5 184.2 196.5 215.5 218 219.5 216.2 237.5 196.4 303.5 195.9 308.6 196.5 308 200.5 308.9 202.5 311.5 203 321.5 200.6 329.5 199.6 331.6 196.5 335.5 195.9 377.6 196.5 393.8 204.5 397.8 208.5 403.5 218.1 405.5 218.8 407.5 217.1 408.1 214.5 405.9 202.5 407.1 196.5 431.5 195.7 444.4 196.5 442.9 202.5 435.7 208.5 427.5 222.7 417.6 232.5 416.3 236.5 417 240.5 419.5 241.2 423.5 239.3 430.5 228.5 437.5 223.9 441.5 223.6 451.9 226.5 457.5 213.2 459.5 211.8 463.5 211.7 465.5 213.1 467.3 218.5 466.8 224.5 463.6 232.5 463.6 234.5 465 236.5 480 248.5 490.3 254.5 495.5 256.2 513.5 246.4 528.9 228.5 530.5 224.5 524.2 220.5 522 212.5 519.9 210.5 515.5 210.3 507.5 213.5 501.5 213.9 476.7 196.5 519.5 195.5 587.5 195.6 605.5 196.5 621.5 195.8 633.5 196.5 638.9 204.5 642.3 212.5 645.5 213.6 653.5 213.5 656 214.5 656.8 216.5 655.7 224.5 647.7 240.5 647.7 242.5 649.5 244.3 657.5 246.4 663.4 252.5 667.5 253.7 668.7 252.5 669.8 246.5 673.5 244.4 687.5 244.9 690.7 246.5 692.1 248.5 693.1 254.5 692.8 256.5 691.5 257.4 677.5 258.4 674.5 260.5 676.4 276.5 680.6 286.5 689 292.5 703.5 299 713.5 301.5 715.5 303 720.1 312.5 721.5 313.9 725.5 315 731.5 313.8 733.5 311 733.6 306.5 731.5 298.6 729.5 297.9 719.5 298.6 717.5 297.5 716.6 294.5 717.2 292.5 723 286.5 724.5 278.5 727.9 268.5 727.5 267.2 725.5 266.4 717.5 271.1 714.8 270.5 713.8 266.5 714.2 256.5 710.2 244.5 709.8 240.5 711.5 239.8 719.5 239.8 722.7 238.5 752.1 196.5 763.5 195.8 770.9 196.5 736 246.5 735.2 248.5 735.5 250.5 737.5 252.2 739.5 252.1 779 196.5 787.5 195.5 788.5 196.5 788.3 414.5 787.5 422.8 783.5 422.9 781.5 424.1 779.7 426.5 778.9 430.5 779.3 434.5 781.5 438.2 787.5 443.3 787.5 447.1 781.5 454.5 776.1 458.5 774.7 460.5 775.5 464 777.5 466.4 787.5 472.2 787.6 478.5 787.5 479.5 777.5 478.1 775.5 479 774.3 482.5 775.4 486.5 778 490.5 787.5 495 788.5 556.5 787.5 570.8 773.5 567.1 761.5 559.2 757.5 557.6 755.5 558 737.5 577.9 733 586.5 726.8 594.5 725.2 600.5 723.5 603.4 717.5 604.9 707.5 604.3 703.5 603.3 697.5 599.9 692.9 614.5 686.3 624.5 685.1 632.5 682.8 638.5 677.7 644.5 670.3 650.5 671.5 651.5 679.5 647.4 697.3 632.5 702.3 622.5 705.5 619.9 707.5 622.5 707.5 624.6 705.6 628.5 700.7 634.5 697.3 644.5 685.1 656.5 669.5 668.8 654.8 678.5 652.6 682.5 652.9 684.5 655.5 686.2 661.5 685 691.4 664.5 695.5 663.1 699.5 663.5 707.5 668.5 717.5 672 719.5 673.8 720.4 676.5 719.5 685.1 716.1 692.5 709.5 702.5 707.7 708.5 709.5 711.1 717.5 709.2 719.5 715 721.5 716.9 723.5 716.4 754.6 680.5 756.6 676.5 755.9 672.5 753.5 669.7 745.5 668.1 742.8 666.5 740.5 654.5 736.6 644.5 736.9 640.5 739.5 634.5 749.2 620.5 751.9 608.5 753.5 606.7 755.5 606.3 761.5 609.9 763.5 610.1 766.2 608.5 769.6 602.5 773.5 600.2 781.5 600.4 787.5 603 788.5 616.5 787.5 631.9 783.5 628.3 779.5 627.2 775.7 634.5 769.5 639.2 761.8 648.5 760.5 652.5 761.9 656.5 765.5 659.8 779.5 666 787.5 671.1 788.4 686.5 788.4 742.5 787.6 750.5 771.5 740.3 768.9 740.5 768.1 742.5 771.5 747 787.5 758.2 788.3 766.5 787.5 780 761.5 761.8 753.5 754 743.5 749.7 737.5 744.7 723.5 746.8 712.2 754.5 705.5 756.9 701.5 755.6 697.5 750.9 689.5 749.7 685.5 744.9 683.5 744 679.5 744.5 676.2 746.5 674.4 748.5 673.3 752.5 673.5 754.6 675.5 756.2 683.5 756.8 689.5 764.4 696.8 766.5 703.5 771 707.5 770.9 717.5 766 719.5 766.2 725.5 770.2 729.5 769.8 739.5 766 745.5 765 753.5 765.5 757.5 767.1 787.5 788 788.2 806.5 787.5 821.9 742.7 790.5 739.5 789.4 735.5 791.1 732.6 794.5 729.1 804.5 729.2 810.5 725.5 811.2 721.5 814.6 716.2 822.5 715.6 826.5 747 848.5 731.5 849.3 717.5 848.8 705.5 841.1 703.5 840.7 699.6 842.5 698.9 848.5 685.8 848.5 687.5 842.5 693.5 838.8 695 836.5 695 832.5 693.5 828.7 691.5 828.7 689.3 830.5 685.5 840.2 679.5 841.5 677.5 840.9 675.8 838.5 673.1 826.5 671.5 824.2 667.5 822.4 666.4 826.5 666.1 840.5 664.5 844.5 661.5 848.4 646.6 848.5 648.6 844.5 648.6 840.5 641.1 828.5 639.8 824.5 640.4 818.5 647 810.5 650.5 800.5 653.5 795 665.5 778.9 669.5 776.2 673.5 774.9 674.6 780.5 673.4 788.5 666.1 800.5 661.6 810.5 661.5 814.8 665.5 817.9 670.6 810.5 679.5 804 687.5 800 699.5 797.5 703.5 798.4 704.9 800.5 704.3 804.5 699.5 814.5 701.5 816.2 706.8 810.5 711.7 800.5 716.9 792.5 718.6 788.5 718.7 784.5 717.5 782.1 713.5 781.2 697.5 784.5 691.5 784 681.5 774.6 675.5 774.4 671.5 762.9 669.5 760.5 661.5 759.9 658.7 758.5 657.3 752.5 658.6 744.5 658.1 738.5 654.6 732.5 642.9 720.5 641.4 716.5 640.5 704.5 639.5 702.7 631.5 707.5 629.5 708 627.4 706.5 629 700.5 637.5 692.2 638.7 686.5 635.5 682.3 631.5 680.5 625.5 679.3 621.5 680.4 621 682.5 622 694.5 620 708.5 613.4 718.5 610.7 726.5 601.3 744.5 599.9 748.5 599.6 756.5 595.8 762.5 597.6 778.5 596.4 780.5 589.4 786.5 585.4 796.5 576 802.5 567.5 805.6 561.5 797.8 555.5 794.3 547.5 793 544.8 794.5 544 796.5 544.5 800.5 547.6 806.5 547.7 808.5 543.5 812.7 537.3 822.5 535.6 826.5 535.5 831.3 537.5 834.1 539.5 834.9 547.5 835 565 848.5 553.5 849.4 509.5 849.4 488.8 848.5 495.2 844.5 496.5 842.5 496.5 840.5 493.5 837.8 484.8 834.5 476.5 824.5 466.3 816.5 460.3 810.5 457.5 806.5 458.2 804.5 469.5 803.5 471.6 802.5 470.8 800.5 466.9 796.5 459.5 793 453.4 794.5 452.8 796.5 455.3 804.5 451.5 806.8 450.6 808.5 451 812.5 453.5 816.1 465.5 827.8 480.3 836.5 479.3 838.5 475.5 839 463.5 834.9 455.8 834.5 455 836.5 455.8 838.5 463.3 848.5 449.5 849.3 435.3 848.5 425.5 840.5 421.1 834.5 420 826.5 423.6 812.5 422 808.5 413.6 798.5 412.5 794.5 417.5 793.6 429.5 796.9 433.5 797.1 438.3 794.5 440.4 792.5 440.7 790.5 436.2 786.5 429.5 782.7 425.5 781.5 415.5 781.1 407.5 779.1 397.5 773.9 383.5 769 373.5 763.2 369.5 764 365.5 767.8 364.4 770.5 365.2 774.5 375.5 782.5 383.5 784.7 385.5 787.5 386.4 792.5 386.1 800.5 384.9 804.5 383.5 806.7 373.9 814.5 371.7 818.5 371.9 822.5 373.2 824.5 379.5 827.7 381 830.5 381 834.5 379.5 838.2 374 844.5 373.3 848.5 347.5 849.4 322.3 848.5 313.3 842.5 309.4 838.5 305.6 832.5 305.5 828.7 306.6 826.5 313.5 819.5 319.5 819.6 329.4 826.5 349.5 835.8 355.5 836.8 359.5 836.4 362.6 834.5 362.2 832.5 347.5 826.8 335.5 820.3 321.5 817.5 313.5 812.1 311.5 812.2 307.5 814.4 305.5 813.7 303.7 810.5 304.3 804.5 303.1 800.5 299.5 796.9 291.5 796.4 289.5 793.5 286.1 784.5 279.5 774.2 277.5 772.8 269.5 773.4 267.8 772.5 268.9 762.5 274.1 744.5 274.3 732.5 273.5 726.4 271.5 724.5 265.5 723.8 259.5 718 257.5 717.2 249.5 718.4 247.5 717.9 244.9 714.5 241.4 700.5 237.5 696.2 233.5 694.9 227.5 696.9 222.4 702.5 218.4 720.5 223.5 727.4 224.9 732.5 225 736.5 222.5 744.5 222.8 746.5 225.5 750.7 235.5 754.9 243.5 760.8 247.5 762.5 250.1 762.5 253.5 754.5 257.5 749.8 259.5 751 257.8 758.5 252.4 766.5 254.3 772.5 259.5 776.3 265.5 776.7 269.1 784.5 277.5 794.6 281.5 797.5 289.5 798.5 290.1 800.5 289.8 808.5 287.5 814.7 283.5 821.8 277.1 828.5 277.2 830.5 280.5 836.5 265.5 841.1 261.5 841.3 255.5 832 247.5 825.2 247.1 822.5 249.5 820.8 251.5 820.8 258.2 824.5 261.5 825.3 264.8 824.5 265.7 822.5 264.8 820.5 261.5 818.2 253.5 817 245.5 809.3 235.5 806.6 229.5 801.3 227.5 800.7 225.5 801.6 219.5 812.7 194.4 848.5 185.5 849.3 174.9 848.5 205.7 804.5 209.5 796.7 211.5 795.1 218 792.5 223.5 788 227.5 787.6 238.7 792.5 247.5 800 249.5 800.4 251.2 798.5 249.7 794.5 245.5 789.7 235.5 782.9 221.5 775.8 219.4 776.5 211.2 784.5 206.8 792.5 198.5 798.5 163.6 848.5 141.5 849.4 140.6 848.5 140.4 822.5 141.5 775.7 153.5 759.5 164.9 752.5 163.5 750.4 155.5 751 147.5 754.8 141.5 760.4 140.5 734.5 141.5 706.9 147.5 707.6 153.5 706.1 162.8 698.5 163.5 694.5 161.5 690.8 141.5 689.4 141.5 672.3 145.5 671.3 157.5 664 163.5 662.9 164.7 664.5 165.2 668.5 165.1 686.5 165.5 687.3 171.9 688.5 174.6 692.5 175 696.5 171.5 701.9 170.9 704.5 171.5 708.5 173.5 710.2 175.5 709.7 177.3 706.5 177.7 698.5 178.7 696.5 185.5 690.8 189.5 690.2 195.5 693.2 203.5 693.3 215.5 690.6 217.9 686.5 217.1 684.5 201.5 677.1 191.5 669.9 175.5 661.7 165.5 659 161.5 653.3 159.5 652.8 155.5 653.7 143.5 659.6 141.5 659.9 140.8 612.5 141.5 607.2 145.6 606.5 141.4 598.5 140.5 534.5 141.5 526 143.5 525 144.9 522.5 145.4 514.5 147.5 506.5 145.5 500.2 143.5 498.3 141.5 498.2 141.2 474.5 141.5 472.2 145.5 473.2 151.5 478.5 155.5 479.8 157.9 478.5 158.8 474.5 152.1 456.5 145.3 448.5 141.5 441 140.6 426.5 140.5 376.5 141.5 353.6 144.8 360.5 151.5 370.6 155.5 383.8 157.8 396.5 155 410.5 155.4 416.5 157.5 419.3 161.5 420.3 166.8 418.5 168.9 416.5 170.4 412.5 171.2 406.5 171.1 392.5 169.4 386.5 161.2 370.5 159.4 364.5 158.8 358.5 160.2 352.5 165.4 344.5 163.4 334.5 166 318.5 167.5 315.7 173.5 311.5 174.9 308.5 174.5 306.5 171.5 303.6 162.7 298.5 141.5 283.8 140.5 272.5 141.5 248.9 177.5 273.9 189.5 280.2 197.5 281.7 202 280.5 202.2 278.5 195.5 273.2 181.9 268.5 141.5 240.4 140.7 230.5 141.5 220.3 193.5 256.7 197.5 257.3 199.4 252.5 197.5 246.9 193.5 243.2 141.5 207.1ZM253.5 199.5 249.5 199.6 245.9 202.5 245.7 206.5 247.5 210.3 251.5 209.2 254 206.5 254.8 202.5ZM615.5 205 613.2 208.5 614 218.5 627.5 227.3 629.5 227.6 633.5 226.1 637.8 220.5 637.8 216.5 627.5 211.9 619.5 205.5ZM477.8 212.5 479.5 210.9 482.1 210.5 491.5 213.9 497.5 217.8 501.5 224.5 503.5 225.9 507.5 225.8 517.5 223.3 519.5 223.8 520 226.5 518.1 232.5 513.5 237.1 505.5 239.3 503.2 238.5 499.5 232.8 497.5 231.3 485.5 230.6 483.5 228.2 478.3 216.5ZM555.5 209.3 549.5 210.7 546.3 214.5 543.5 220.5 544.6 234.5 538 258.5 538.4 262.5 539.5 264.6 541.5 265.4 545.5 264.6 552.1 260.5 553.1 258.5 551.7 246.5 552.1 240.5 557.1 226.5 559.4 216.5 559.1 212.5 557.5 210.1ZM269.5 211.5 266.3 214.5 265.7 216.5 266.1 220.5 267.5 221.5 271.2 216.5 271.6 212.5ZM663.8 212.5 665.5 211.1 669.5 210.6 677.5 212.2 683.5 217.7 693.1 222.5 694.8 226.5 694.9 230.5 692.4 232.5 687.5 233.2 681.5 232.6 676.3 230.5 668.5 224.5ZM332.8 224.5 335.5 228.5 349.5 241.6 355.5 244.5 357.5 242.7 350.5 232.5 341.5 223.8 335.5 222.4ZM583.5 222 575.5 228.1 571.8 234.5 571.6 240.5 573.5 244.6 575.5 246.2 577.5 246 581.5 243.4 585.4 238.5 584.7 224.5ZM241.5 223.4 237 228.5 233.8 236.5 235.5 237 240.5 230.5 242.1 226.5ZM261.5 231.6 257.2 236.5 249.8 256.5 249.5 261.1 251.5 263.6 253.5 264.1 255.4 262.5 256.4 254.5 261.4 244.5 263 236.5 262.5 232.5ZM285.5 239.1 281.5 240.1 268.5 248.5 266.7 250.5 263.5 259 259.5 262.8 255.6 264.5 257.4 270.5 260 274.5 275.9 290.5 277.6 294.5 276.5 304.5 279.5 308 283.5 309.7 287.2 308.5 288.7 306.5 291.1 286.5 289.5 283.9 281.5 278.6 277.7 274.5 274.2 268.5 273.6 264.5 275.5 262.4 279.5 262.5 287.5 267 295.5 273.1 297.5 273.6 299.5 273.1 301.5 270.5 300.1 266.5 286.2 256.5 282.2 252.5 281.5 248 287 240.5ZM411.5 248.2 409.5 247.3 407.5 247.9 396.9 256.5 391.5 259.2 379.5 258.1 375.5 259.3 373.5 262.5 374.3 266.5 381.5 276 383.5 277.5 385.5 276.6 393.5 267 408.7 254.5 411.5 250.5ZM555.6 262.5 557.5 276.5 560.3 284.5 569.5 296 575.5 297.8 578.4 296.5 582.1 292.5 587.9 288.5 595.4 278.5 601.1 274.5 607.3 272.5 635.5 267.8 637.5 265.7 638.1 262.5 637.5 259.5 635.5 258 623.5 260.4 613.5 259.6 587.5 259.8 583.5 258.3 575.5 249.9 573.5 249.6 558.3 258.5 556 260.5ZM223.5 250.6 220.1 254.5 215.5 272.4 208.8 280.5 209.3 282.5 214.1 286.5 237.5 294.9 245.5 295.8 251.5 295.4 251.9 294.5 249.6 292.5 235.9 284.5 227.1 276.5 225.2 272.5 224.7 268.5 225.9 252.5 225.5 250.8ZM697.5 258.4 699.5 259.2 701 262.5 700.1 268.5 697.5 273.1 695.5 274.8 691.5 275.3 689.3 272.5 689.7 268.5 693.5 258.7ZM316.9 314.5 320.5 322.5 323.5 324.5 325.5 324.4 327.3 322.5 327.3 320.5 324.5 308.5 325.1 306.5 327.5 305.5 337.5 305.7 345.5 303.2 349.5 303.3 365.5 309.9 373.5 315.1 377.5 315.7 391.5 311.1 403.5 303.4 413.5 302.4 419.8 298.5 412.2 292.5 411.2 290.5 411.5 287.8 418.1 274.5 423.5 270.5 424.6 266.5 423.5 264.8 421.5 265.9 417.5 270.1 407.5 277.1 397.5 288.4 393.5 291.2 389.5 292.1 386.8 290.5 381.5 283.5 373.5 282.8 365.5 277.6 345.5 269.7 339.5 262.6 335.5 261.8 333.5 263 331.5 266.5 326.8 284.5 322.3 294.5 320.7 302.5 317.4 308.5ZM339.5 274.6 343.5 273.6 349.5 276.9 362.3 288.5 363.6 290.5 363.5 292.5 355.5 294.5 351.5 293.9 347.5 291.8 341.8 286.5 339.1 282.5 337.9 278.5ZM645.5 273.1 642.8 274.5 641.6 278.5 642 284.5 644.2 294.5 643.8 298.5 642.6 300.5 631.5 307.5 629.7 306.5 630.5 300.5 629.2 296.5 625.5 294.4 621.5 295.1 618.3 298.5 609.5 312.6 599.5 322.1 596.4 326.5 596.5 328.5 599.5 332.9 607.5 328.7 611.5 327.8 615.5 328.6 618.7 332.5 618.5 340.5 609.3 364.5 613.5 386.5 613.3 390.5 611.5 392.1 597.5 394.1 593.5 378.1 591.5 377.1 588.9 380.5 586.1 392.5 581.5 396.9 577.5 397.6 573.5 395.4 569.3 380.5 567.5 379.7 565.5 382.3 563.6 388.5 564.1 394.5 567.2 408.5 569.5 412.4 575.5 411.5 587.7 404.5 591.5 398.5 595.5 394.6 596.4 396.5 596 398.5 591.5 406.5 581 432.5 581 438.5 583.5 442 609.5 463 615.5 465.8 625.5 467.9 629.5 467.9 631.5 466.9 637.5 460.7 648.7 454.5 650.5 452.5 650.7 448.5 648 436.5 649.4 428.5 657.5 407 660.2 402.5 667.4 394.5 665.1 390.5 661.5 387.5 653.5 383 643.5 382.4 641.5 381.3 640.1 378.5 640.3 372.5 643.3 364.5 649.5 354 653.5 350.2 669.5 340.8 671.5 341.2 672.2 350.5 673.5 352 675.5 351.9 680.6 348.5 689.5 336.8 693.5 334.3 695.8 334.5 697.3 336.5 697.6 340.5 695.8 344.5 689.9 352.5 689.1 356.5 689.9 358.5 693.5 360.3 703.5 362.1 707.4 364.5 710 368.5 711.4 376.5 713.5 379.5 717.5 379.6 720.3 376.5 723.5 375.6 725.5 376 727.7 378.5 727.4 380.5 722.8 382.5 721.1 384.5 721.4 390.5 725.1 400.5 724.8 404.5 720.8 410.5 719.5 415.3 715.9 416.5 716 418.5 718.1 420.5 725.5 424.9 729.5 423.7 735.5 424.9 739.2 424.5 741.5 423 742.1 420.5 741.7 412.5 731.6 404.5 729 400.5 730.7 388.5 730.4 382.5 734.5 380.5 743.5 379.5 765.5 380.7 767.8 386.5 769.5 388.1 771.5 387.4 773.5 384.5 773.7 382.5 771.5 380 768.1 378.5 767.8 372.5 769.6 368.5 776.2 362.5 778.3 358.5 771.5 357.8 755.5 361.6 751.5 363.6 747.2 368.5 743.5 370.7 733.5 370.8 729.5 369.6 721.5 362.5 711.5 357.7 707.3 352.5 706.2 348.5 706.3 344.5 713.3 328.5 714.1 324.5 713.5 322.3 711.5 320.4 703.5 317.6 688.8 308.5 682 302.5 675.5 294 661.5 290.4 651.5 276.6ZM453.5 295.4 445.1 306.5 445.3 308.5 461.5 320.1 471.5 330.5 489.8 346.5 499.5 360.4 504.2 356.5 506.9 352.5 509.5 333.1 511.5 330.5 517.7 330.5 522.1 332.5 524.7 346.5 529.5 351.8 535.5 352.8 540.7 348.5 542.6 342.5 544.1 326.5 543.7 320.5 541.5 317.7 533.5 316.3 532 312.5 532.3 298.5 528.1 294.5 519.4 288.5 511.5 285 507.5 284.8 504.1 286.5 499.5 291 491.3 294.5 489.2 296.5 488.8 300.5 491.5 302.6 499.5 299.5 503.5 300 505.2 302.5 505.7 306.5 501.5 322.6 497.5 326.2 492.7 328.5 487.5 334.5 483.5 332.9 481.1 330.5 485.1 324.5 484.7 316.5 483.3 312.5 481.5 310.8 469.5 305.1 457.5 295ZM211.5 298.7 208.4 300.5 206.5 304.5 205.5 321.1 202.7 324.5 195.5 330.4 190.7 336.5 181.5 352.5 180.1 356.5 180.1 360.5 182.6 366.5 188.3 374.5 191.1 382.5 192.8 384.5 197.5 386 207.5 384.4 211 386.5 213.5 390.5 214.5 394.5 214.1 396.5 206.4 412.5 206.1 416.5 207.5 419.1 211.5 420 215.5 418 222.3 406.5 223.5 400.3 225.5 398.6 227.5 400.1 227.5 405.4 223.5 415.6 218.8 422.5 218.6 426.5 220.5 430.5 223.5 432.9 227.5 434.4 233.5 434.4 236.1 432.5 238 422.5 244.6 404.5 245.8 398.5 243 392.5 234.5 386.5 231.4 382.5 228.5 372.5 228.5 366.5 229.6 362.5 232.9 358.5 247.5 347.8 251.5 346.7 252.9 348.5 252.7 352.5 248.1 366.5 247.9 370.5 249.5 373.8 251.5 375.2 255.3 374.5 268.7 352.5 271.6 344.5 273.5 342.5 280.5 338.5 281.7 334.5 280.7 332.5 277.8 330.5 272.4 330.5 268.7 332.5 265.5 339.4 263.5 340.6 257.5 341.1 255.5 339.1 253 328.5 248.1 324.5 243.5 323.7 239.5 325.2 223.5 338 217.5 340.8 213.5 340.9 212.1 338.5 213 330.5 215.5 326.5 226.7 314.5 228.9 308.5 227.5 305 223.5 301.5 219.5 299.6ZM669.5 316.7 670.6 318.5 669.4 324.5 665.5 332.1 645.5 349.4 633.5 357.9 631.5 358.3 630.7 356.5 631.5 350.5 633.7 344.5 637.5 338.5 655.5 324.1ZM357.5 318.7 355.5 318.6 353.5 319.9 353.3 322.5 358.1 332.5 357.4 336.5 355.5 337.9 351.5 338.4 341.5 334.4 339.8 336.5 343.5 341.8 348.6 344.5 353.5 345.4 359.5 344.1 364.4 340.5 368 334.5 368.2 330.5 366.7 324.5 363.5 321.1ZM755.5 326.1 753.5 324.5 747.5 322.7 741.5 323.7 739.3 326.5 733.6 340.5 733.5 345.1 735.5 346 737.5 345.1 744.5 338.5 753.5 332.4 756.5 328.5ZM309.5 344.3 307.5 344.9 304.4 348.5 303.8 352.5 305.5 354.7 309.5 353.3 311.6 350.5 311.7 346.5ZM333.5 358.9 325.5 354.3 321.5 354.6 319.3 356.5 318.7 358.5 319.9 362.5 325.6 368.5 327 372.5 323.5 382.3 321.5 385.5 319.5 386.7 315.5 385.9 309.5 381.9 303.5 379.5 301.5 377.4 298.4 368.5 297.5 367.8 295.5 368.8 292.4 374.5 288.8 384.5 286.4 398.5 284.3 404.5 280 410.5 273.5 415.9 267 424.5 265.9 428.5 267.5 430 271.5 429.3 285.5 417.4 305.5 405.6 320.1 398.5 323.5 394.5 327.5 394.2 329.5 393.1 336.5 370.5 336.2 364.5ZM515.5 355.8 511.6 358.5 510.2 364.5 510.5 370.5 513.5 375 517.5 377.6 521.5 378.6 523.5 377.6 525 374.5 525.6 368.5 525 364.5 521.5 357.9 519.5 356.3ZM575.5 364.9 571.5 369.7 570.7 372.5 571.5 373.5 573.5 372 575.5 368.4ZM659.5 368.6 657.3 372.5 657.7 376.5 665.5 384 679 392.5 687.5 394 688.5 392.5 688 390.5 684.7 386.5 663.5 367.4ZM494.7 400.5 497.5 401.7 511.5 398.7 515.6 396.5 515.9 394.5 501.5 391.4ZM695.5 399.9 691.6 402.5 697.1 406.5 697 408.5 687.2 416.5 692 418.5 692.2 424.5 693.5 426.5 697.5 428.2 701.5 426 701.6 428.5 703.5 431.1 708.2 426.5 702.7 424.5 707.8 420.5 701.8 416.5 705.1 412.5 699.7 408.5 698.6 406.5 699.5 406.2 700.4 402.5ZM746.3 408.5 748.1 410.5 753.5 411.4 757.5 410.1 759.5 406.5 757.5 403.5 751.5 403 748.2 404.5ZM541.5 408.2 535.6 410.5 533.5 414.5 539.5 426.5 540.7 434.5 539.6 438.5 531.5 454.4 526.4 462.5 527.5 465.2 531.5 467.2 535.5 466.1 540.6 460.5 544.8 450.5 548.8 434.5 554.6 424.5 554.8 422.5 543.5 409.3ZM444.6 436.5 444.7 438.5 451.7 444.5 457.5 456.3 461.5 460.1 463.5 460.9 467.5 460.3 468.3 456.5 460.8 444.5 460.5 442.5 461.5 441.9 471.5 444.2 475.5 446.4 477.5 444.4 480.1 438.5 483.5 435.7 489.5 434.1 493.5 434.8 497.5 438.2 500.3 444.5 500.1 448.5 498.6 452.5 499.5 454.4 505.5 456.1 508.7 454.5 514.3 442.5 513.3 438.5 509.5 436.1 491.5 428.2 477.5 425.3 453.5 426.9 447.5 431.1ZM391.1 430.5 388.6 430.5 386.5 432.5 384.9 438.5 385.5 442.5 387.5 443.2 388.9 442.5 391.5 439.2 392.4 432.5ZM193.5 441.7 189.5 444.9 186.2 450.5 186.2 456.5 188.3 466.5 211.5 487.8 213 486.5 212 472.5 217.5 466.1 217.9 460.5 215.5 456.3 206.6 446.5 197.5 442.3ZM489.5 441.9 487.3 442.5 485.5 446.3 485.5 448.5 487.5 450.9 489.5 451.1 492.1 448.5 492.4 444.5 491.5 442.4ZM755.5 445 753.5 444.7 752.1 446.5 752.4 458.5 749.2 472.5 744.2 482.5 743.8 484.5 745.5 485.1 749.5 481.9 758.2 470.5 762.7 454.5 761.1 450.5ZM369.5 452.8 367.5 452.2 365.5 452.8 358.9 464.5 348.9 474.5 344 484.5 345.5 485.8 349 480.5 353.5 477.1 363.5 473.1 371.5 471.8 372.6 470.5 373.1 458.5 371.5 454.5ZM575.5 453.7 573.5 455.1 572 458.5 571 466.5 563.5 472.3 560.4 480.5 555.5 483.7 547.4 486.5 559.5 493.1 562.8 492.5 567.5 483.6 577 478.5 578.1 476.5 578.4 472.5 579.5 471.8 593.5 476.9 595.6 478.5 596.1 484.5 590.6 496.5 573.5 517.3 559.1 542.5 559.5 544.8 565.5 545.6 567.1 546.5 567.4 548.5 562.8 574.5 563 578.5 564.4 580.5 569.5 582.5 573.5 581.5 574.9 578.5 575.5 571.9 577.5 569.4 579.5 570.3 583.4 574.5 593.5 578.9 597.5 586.1 601.5 583.9 608.5 572.5 612.3 568.5 641.5 549.8 654.9 544.5 657.7 542.5 657.7 540.5 653.5 536.5 649.5 535.9 645.5 538.3 638.6 544.5 621.5 552.7 617.5 553.7 616.7 552.5 617.2 550.5 624.1 542.5 629.7 530.5 627.5 529.8 617.5 532.1 613.5 532 611.5 529.3 611.4 522.5 609.5 519.8 605.5 520.5 597.5 524.9 585 536.5 581.5 541.5 577.5 541.9 575.5 541.1 575 538.5 579.6 528.5 590.7 516.5 597.8 504.5 608.4 490.5 609.9 486.5 609.1 482.5 605.9 478.5 597.5 474.2 589.5 463.3 581.5 455.8 577.5 453.6ZM482.6 456.5 485.5 457.7 489.5 456.5 483.5 455.7ZM373.5 472.2 373.3 474.5 374.9 478.5 379.5 485.7 381.5 487.2 383 482.5 381.5 477.9 377.5 473.8ZM240 474.5 235.5 473.3 231.5 475.5 230.5 478.5 231.5 483.6 233.5 483.7 237.5 480.6 240.1 476.5ZM463.5 476.1 461.8 480.5 458.7 484.5 459.5 486.4 462.2 484.5 464.1 480.5ZM667.3 478.5 672 482.5 681.5 487 689.5 493.6 727.5 503.2 731.5 502.7 732.6 500.5 732 498.5 729.5 496.3 685.5 485.8 673.5 478.4 669.5 477.3ZM524.9 486.5 529.5 487.2 538.2 486.5 544.2 484.5 537.5 481.5 533.5 481 527.5 483.2ZM491.5 483.5 490.5 484.5 490.4 488.5 495.5 501.4 497 522.5 498.1 526.5 507 544.5 514.9 552.5 519.5 554.5 521.5 552.5 520.7 550.5 511.7 540.5 503.9 528.5 503.3 522.5 505 502.5 504.4 498.5 495.5 485.4 493.5 483.7ZM393.5 486.5 391.5 490.5 391.4 494.5 393.5 496.2 395.5 496.4 395.8 488.5ZM363.5 497.4 358.1 502.5 357.4 506.5 358.7 508.5 364.8 512.5 369.5 520.7 373.5 522.4 375.5 520.9 378.7 502.5 377.5 500 365.5 497.1ZM467.5 500.2 476.8 514.5 479.5 528.9 481.4 546.5 479.5 548.1 473.9 558.5 469.5 562.3 465.5 564.2 453.1 566.5 447.4 568.5 449.8 572.5 448.6 578.5 451.5 581.5 463.5 584.7 469.5 585.3 481.5 584.4 483.5 585.8 486 590.5 495.5 593.3 497.5 592.1 498.4 586.5 499.5 585.1 501.5 584.7 507.5 587.9 509.5 588 510.6 586.5 510.1 584.5 503.5 579.2 497.5 578.5 489.5 582.4 487.5 582 486 580.5 483.9 572.5 479.6 564.5 481.5 554.4 482 542.5 485.4 532.5 485.3 526.5 475.5 503.7 471.5 500 469.5 499.4ZM773.5 499.1 769.5 499 765.5 502.4 758 524.5 757.9 530.5 759.5 532.8 763.5 535 769.5 534.8 775.6 532.5 785.5 516.7 785.2 512.5 783 508.5 777.5 502ZM629.5 501.6 625.5 500.5 621.5 503 617.5 508.5 617.5 512.3 619.5 512.9 623.5 512.2 629.5 509 630.9 506.5ZM172.4 508.5 170.5 510.5 171.3 512.5 178.5 518.5 180.1 522.5 179.3 524.5 173.5 528.7 170.1 534.5 170.6 538.5 175.5 541.3 181.5 546.4 187.5 547.8 191.1 546.5 192.6 542.5 195.5 539.3 205.5 537.7 213.5 535.3 217.5 535.8 218.5 538.5 217.5 542.2 209.5 550 198 550.5 195.9 552.5 197.2 556.5 205.5 563.6 215.5 569.6 217.5 570 219.5 569 222.1 562.5 227.5 556.2 230.5 548.5 235.5 544.1 237.7 540.5 241.5 526.5 240.7 522.5 237.5 521.9 227.5 526.2 221.5 527.2 217.5 525.8 213.5 522.6 209.5 523.3 205.7 522.5 200.2 516.5 190.9 514.5 181.5 505.4ZM389.5 509.7 387.5 510.3 383.8 522.5 379.5 529.6 377.5 530.3 365.5 528.6 361.5 530.3 359.6 532.5 359 536.5 361.5 542.4 365.5 544.5 371.5 543.4 373.5 544.4 374.9 546.5 375.5 551.4 379.5 546.2 389.5 523.6 391.8 514.5 391.5 511.4ZM248.4 516.5 274.9 518.5 276 524.5 281.5 531.3 282 530.5 279.5 514.9 277.5 513.3 269.5 512.1 259.5 512.4 249.6 514.5ZM461.5 511.5 460 512.5 466.3 522.5 467.8 532.5 464.8 542.5 457.5 552.7 463.5 550.7 468.4 546.5 472.5 540.5 474.6 532.5 474.3 526.5 471.9 520.5 466.9 514.5ZM537.5 513.7 534.8 516.5 535.5 519.4 537.5 520.2 539.4 518.5 539.8 516.5ZM698.9 520.5 701.5 525.3 707.5 526.9 710.6 526.5 715.4 522.5 712.1 518.5 707.5 516.7 701.5 517.6ZM333.5 520.1 331.5 521.1 331.1 528.5 333.5 532.5 335.5 532.5 342.1 528.5 344.1 526.5 344.4 524.5 341.5 521.9ZM453.5 528.9 451.5 530.5 450.8 532.5 451.5 534.4 453.5 536 455.5 535.4 456.8 532.5 455.5 529.6ZM283.5 533.2 284.3 542.5 290.4 546.5 292.5 546.5ZM265.5 534.8 261.5 535.2 257.5 539.8 255.5 544.5 256 548.5 259.5 549.4 263.5 548.6 268 546.5 269.7 544.5 267.5 537ZM733.5 540.7 729.5 539.7 723.5 539.7 721.1 540.5 719 542.5 717 552.5 712.9 558.5 711.5 567.3 706.7 574.5 707.3 578.5 709.5 581.3 711.5 582 714.4 580.5 717.5 574.2 725.3 566.5 732.8 554.5 736.5 546.5 735.9 542.5ZM584 544.5 587.5 543.8 593.5 545.2 597.5 548.2 603.5 555.6 610.2 558.5 611.4 560.5 609.7 566.5 607.5 569.4 601.5 572.2 598.1 570.5 593.1 562.5 585 556.5 583.1 550.5ZM350 554.5 347.3 560.5 348.1 564.5 352.2 568.5 353.8 572.5 352 576.5 347.9 580.5 347.6 582.5 353.5 589.3 357.5 591.6 371.5 591.7 381.5 593.5 383.5 592.7 385.9 588.5 381.2 576.5 373.3 568.5 372.6 564.5 373.1 558.5 371.5 557.3 367.5 559.3 365.5 558.9 363.7 556.5 361.5 549.7 359.5 548.9 355.5 549.5ZM301.8 576.5 307.5 578.8 325.5 581 337.5 584.5 342.8 582.5 343.4 580.5 335.5 574.8 327 572.5 323.4 556.5 321.5 553.9 319.5 553.4 316.4 554.5 319.5 562.5 320.6 572.5 322.9 574.5 315.5 575.1 302.4 574.5ZM528.4 560.5 528.5 562.5 531.5 565.7 535.5 564.8 536.8 562.5 536.4 560.5 533.5 558.9 529.5 559.4ZM149.4 572.5 144.9 580.5 143.5 587.2 145.5 588.3 153.5 588.7 179.5 607.5 181.8 614.5 181.8 622.5 180.8 624.5 175.5 628.8 174.3 632.5 176.1 636.5 191.8 652.5 197.5 657.3 219.5 669 225.5 677.6 234.7 680.5 241.5 684.8 245.5 685.8 253.5 685.8 263.5 682.8 265.5 683.5 266.3 684.5 265.8 692.5 267.5 696.8 271.5 700 273.5 700 276.7 698.5 280.9 690.5 291 680.5 291.4 676.5 281.5 669 269.5 656 265.5 654.8 261.5 656.4 255.1 664.5 249.3 668.5 249.1 672.5 247.5 675.4 243.5 677.2 239.5 677.2 235.5 675.6 217.5 661.6 201.2 642.5 199.1 636.5 201.7 628.5 202.6 616.5 206 606.5 209.3 588.5 207.5 586.7 203.5 585.8 193.5 580 187.5 578 169.5 578 159.5 579.2 157.5 578.1 153.5 572.2 151.5 571.5ZM445.5 592.6 441.5 594.3 439.5 597.2 437.6 602.5 436 612.5 436.9 614.5 441.5 617.9 443.2 620.5 445.5 632.5 447.5 633.8 449.6 632.5 453.3 626.5 453.9 612.5 457.5 602.5 456.4 598.5 454.6 596.5 449.5 593.6ZM658.5 596.5 655.5 596.4 650.8 600.5 646.5 606.5 645.9 608.5 646.5 610.5 647.5 611 653.5 609.7 659.3 598.5ZM195.5 604.9 197.5 605.3 198.8 608.5 198.4 612.5 197.5 613.6 195.5 613.4 193.6 610.5 193.5 607.6ZM526.5 612.5 525.5 608.7 521.5 608.4 519.5 606.5 519.5 613.6 517.5 617 511.5 620.8 505.5 622.1 501.5 621.5 491.5 615.4 489 618.5 487.5 619 485.5 618.4 477.5 611.8 475.5 610.8 474.1 612.5 477.3 618.5 481.1 622.5 489.5 628.6 493.5 630.1 495.4 628.5 495.5 626.3 497.5 625.2 511.5 625.3 517.5 623.5 523.5 618.3ZM149.5 609.4 149 610.5 154.4 618.5 157.5 620.6 161.5 620.4 162.6 616.5 160.1 612.5 155.5 610.2ZM371.5 613.8 368.5 614.5 367 616.5 367.2 620.5 369.5 622.9 372.9 618.5 373.3 616.5ZM504.4 614.5 509.5 615.6 513.3 614.5 511.5 613.2 505.5 613.7ZM681.5 619.9 679.5 621 677.5 624.5 677.5 627.3 681.3 624.5 682.4 622.5ZM301.2 624.5 298.5 626.5 298.2 628.5 301.5 631.3 305.5 630.5 306.2 628.5 302.7 626.5ZM511.8 638.5 517.5 642 521.5 646.5 523.5 647.1 551.5 644.3 557.4 642.5 558.5 640.5 557.7 636.5 555.5 633.9 545.5 629.4 541 624.5 537.5 622.6 533.5 622.9 529.9 624.5 521.5 631.6 513.3 636.5ZM270.3 632.5 269.5 632.4 267.1 638.5 266.6 642.5 267.5 644.7 270 638.5ZM395.9 636.5 398.3 640.5 411.5 651.9 413 650.5 411.5 645.9 405.5 638.8 399.5 635.4 397.5 635.3ZM315.5 640.7 313.7 642.5 315.5 646.5 329.5 656.2 338.8 664.5 347.5 674.3 361.7 682.5 364.5 688.5 366.8 702.5 370.1 708.5 373.5 710.5 383.5 711.2 385.8 712.5 386.6 714.5 386.2 726.5 389.8 742.5 392.6 746.5 403.8 756.5 407.5 758.2 409.5 755.6 408.5 746.5 406.3 740.5 397.8 724.5 396.2 718.5 396.6 716.5 398.5 714.5 405.2 710.5 404.9 708.5 401.5 704 391.5 697.7 378 686.5 373.7 680.5 373.5 674.5 377 672.5 381.5 673.7 401.5 684.5 407.5 690 415.5 691.1 419.5 695.3 421.5 693.5 423.5 685 435.5 707.2 439.5 711.4 444.4 712.5 445.6 710.5 439.5 704.1 433.5 694.8 429.6 680.5 429.1 672.5 434 664.5 433.5 659.3 431.5 658.7 427.5 662 421.5 675.7 419.5 675.3 417.5 676.8 415.5 682.6 413.5 684.1 405.5 680.4 393.5 669 383.5 662 377.5 660 367.5 659.7 363.5 658.5 361.5 658.7 357.5 663.1 353.5 663.1 348.5 660.5 343.7 656.5 339.5 647.2 337.5 645.2 321.5 640ZM479.5 642 477.5 640.3 471.5 641.8 463.5 645.8 458.8 650.5 459.5 651.6 461.5 651.7 471.5 648.6 477.5 645.2ZM787.5 640 787.5 645.5 785.5 642.5 786 640.5ZM495.5 649.6 491.5 651.7 487.5 655.6 481 664.5 481.3 666.5 483.5 666.9 491.5 664.3 493.5 664.7 494 668.5 492.8 684.5 494.1 696.5 496.6 702.5 504.8 716.5 507 724.5 510.5 732.5 512.4 746.5 523 766.5 521.8 778.5 523.3 798.5 522.8 814.5 523.5 819.8 525.5 817.6 529.3 796.5 532.5 786.5 532.4 782.5 524.3 766.5 526.5 758.5 526.4 754.5 520.3 736.5 518.4 722.5 505.2 704.5 499.8 692.5 498.7 684.5 499.2 676.5 503.7 660.5 499.5 657.1 497.8 650.5ZM560.8 662.5 567.5 667.2 569 666.5 563.5 661.9 561.5 661.6ZM447.5 672 445 674.5 445.4 678.5 452.1 684.5 458.3 692.5 464.1 702.5 467.5 710.5 467.1 712.5 465.5 713.6 457.5 715.7 457 716.5 458 718.5 463.5 722.8 473.5 726.3 479.5 733.5 481.5 734.3 485.5 733.6 489 730.5 492.9 724.5 493.4 718.5 475.5 686.5 472.4 672.5 453.5 670.6ZM741.2 672.5 741.9 678.5 739.5 685.4 727.5 699.6 723.5 703 722 702.5 733.5 675.4 737.5 672.3ZM305.5 677.6 301.5 677.8 296.8 680.5 288.5 696.5 281.7 704.5 281.3 710.5 283.5 712.4 289.5 709.7 294.5 702.5 299.2 698.5 311.5 694.5 313.2 690.5 312.8 686.5 309.9 680.5ZM698.8 680.5 695.5 679.5 691.5 681.8 676 698.5 674.4 702.5 674.8 704.5 677.5 705.2 681.5 703.3 693.5 693.1 698.3 686.5 699.3 682.5ZM561.5 686 559.5 686.9 551.2 698.5 551.3 700.5 557.4 704.5 554.6 710.5 554.5 712.5 558.8 716.5 558.9 718.5 556.9 722.5 557.2 724.5 567.5 725.4 571.1 728.5 571.4 730.5 569.3 734.5 558 744.5 557.1 746.5 559.5 747.3 571.5 737.9 574.3 734.5 575.4 730.5 573.5 724.5 570.4 722.5 570.3 712.5 574.3 704.5 574.8 700.5 573.5 698.5 571.5 698.4 565.5 700.8 562.1 700.5 563.5 690.5ZM767.5 689.9 765.5 689.9 764.3 692.5 765.5 695.8 768.4 694.5 768.8 692.5ZM336.1 706.5 337.4 710.5 341.5 711.8 342.4 710.5 341.5 708.3 339 706.5ZM413.4 714.5 413.8 716.5 424.4 732.5 431.5 739.2 432.9 738.5 430.8 732.5 421.5 716.9 417.5 713.9ZM305.5 717.4 302.4 720.5 301.5 724.5 302.4 730.5 305.4 736.5 306 744.5 307.5 746.9 313.5 750.6 316.5 754.5 319.5 769.6 321.5 771.6 327.5 774 330 782.5 333.5 786.3 337.5 787.7 343.5 788.1 345.1 786.5 342.2 780.5 337.8 774.5 332.9 770.5 331 766.5 331.4 760.5 338.6 750.5 339.8 746.5 339.2 744.5 325.5 730.4 321.5 728 313.5 725.1 309.5 719.3 307.5 717.7ZM184.9 732.5 184.8 734.5 187.5 736.7 201.5 732.7 205.5 733.3 209.5 736.9 211.5 736.5 206 728.5 199.5 724.3 195.5 724.1 191.5 725.4 187.4 728.5ZM459.5 757.8 453.5 760.2 451.4 762.5 451.2 764.5 455.5 769 459.5 770.2 461.2 768.5 461.3 760.5ZM563.5 760.2 560.1 764.5 559.9 768.5 561 772.5 563.5 776.5 565.5 778 570.8 778.5 572.7 776.5 572.9 774.5 570.1 764.5 567.5 760.9ZM605.5 759.8 611.5 759 615.5 761.7 616.6 768.5 615.5 771.5 613.5 773.3 609.5 774.3 607.5 772.8 604.8 762.5ZM652.8 770.5 653.1 772.5 651.8 776.5 638.7 798.5 634.5 808.5 633.1 822.5 636.3 838.5 635.9 842.5 634.7 844.5 631.5 846.3 627.5 847 611.5 845.1 607.5 846.4 605.3 848.5 585.5 849.2 574.3 848.5 575.5 841.9 582.6 836.5 583.5 834.5 583.2 832.5 580.7 830.5 573.5 827.8 567.5 821.9 557.5 820.5 555.5 818.6 551.8 810.5 553.4 808.5 565.5 807 568.7 812.5 571.5 814.3 587.5 809.2 595.5 815.3 599.5 816 605.5 815 611.8 810.5 629.3 786.5 647.5 771 651.5 769.4ZM317.5 774.2 313.5 775.3 312.7 776.5 313.5 779.3 315.5 779.8 317.9 778.5 318.5 776.5ZM345.8 788.5 349.2 796.5 353.5 800.3 359.5 804.3 361.5 804.4 364.2 802.5 365.5 798.5 363.5 794.1 355.5 789.2ZM395.5 818.3 403.5 819 406.7 820.5 408.6 822.5 410.5 830.5 409.8 838.5 405.6 844.5 404.1 848.5 386.3 848.5 393.9 834.5 394 820.5Z" fill="#00ffff"/>
<path d="M276.2 196.5 271.5 206.2 264.8 212.5 262.1 224.5 253.3 238.5 247.1 252.5 244.8 260.5 245.1 264.5 246.3 266.5 266.1 286.5 268.5 292.5 267.5 293.9 265.5 294.4 252 290.5 240.5 284.5 235.5 280.5 229 272.5 227.7 266.5 227.8 260.5 231 248.5 242.7 232.5 248.8 216.5 256 208.5 259.5 198.3 261.1 196.5ZM281.8 196.5 302.9 196.5 300.6 208.5 301.5 213.2 303.5 214.2 317.5 207.8 323.5 207.3 329.5 208.3 333.5 207.3 335.5 203.4 336.1 196.5 370.9 196.5 388.3 206.5 391.5 209.4 394.5 214.5 395.5 218.5 394.8 222.5 388.2 228.5 386.9 232.5 387.5 240.9 389.5 244.4 391.5 245.4 393.5 245 396.4 242.5 403.7 230.5 413.4 226.5 415.6 214.5 422.7 202.5 422.9 200.5 420.8 196.5 439.4 196.5 437.5 200 431.6 206.5 423.5 220.8 419.5 224.3 413.5 227.4 411.5 237.8 409.9 240.5 396.8 250.5 391.5 253.2 373.5 254.5 367.5 253.2 359.1 238.5 345.5 222 337.5 215.4 331.5 215.4 323.5 219.1 319.2 222.5 318.3 224.5 319.5 226.5 335.3 232.5 349.5 246.1 365.5 254.2 369.6 268.5 369.2 272.5 363.5 272.5 349.5 266.5 339.5 258 335.5 257.7 331.5 259.3 328.9 262.5 324.1 282.5 312.9 304.5 313 312.5 318.3 324.5 321.5 327.5 329.5 328.9 331.5 330 339.5 344.3 343.5 346.9 353.5 347.4 361.5 344.8 365.5 341.7 369.4 336.5 371.8 326.5 374.8 322.5 391.5 312.9 403.5 304.4 407.5 303.7 409.5 304.8 413.5 304.9 425.3 298.5 425.3 290.5 424.1 288.5 421 286.5 421 282.5 428.7 266.5 435.5 260.5 436.8 256.5 435.5 252.3 427.9 246.5 427.9 242.5 429.5 238 431.5 235.8 437.5 240.6 439.5 241.3 441.5 240.4 442.3 234.5 437.9 228.5 438.1 226.5 439.5 225.6 443.5 225.5 455.5 229.5 478.8 248.5 491.5 256.2 497.5 258.4 501.5 257.2 515.5 249 531.5 233.9 535.5 232.2 537.5 232.4 539.2 236.5 533.3 258.5 533.2 264.5 534.3 268.5 537.5 271.8 545.5 272.7 549.5 274.1 553.1 278.5 561.5 292.5 565.5 297.4 569.5 300 581.5 300.4 593.3 290.5 599.5 282.8 607.5 278.4 625.5 273.8 631.5 274.2 634.3 276.5 635.4 282.5 634.9 286.5 633.5 289.2 621.5 289.7 617.5 291.1 605.9 308.5 595.6 316.5 592.2 322.5 592.8 326.5 598.3 334.5 599.5 334.9 605.5 331.1 609.5 329.8 613.5 330.3 615.5 331.9 616.7 334.5 616.7 338.5 613.5 345.4 607.5 354.3 591.5 372.3 587.5 379.8 584.7 390.5 581.6 394.5 577.5 395.4 575.5 394.3 573.5 390.7 572.7 386.5 572.9 378.5 577.2 368.5 578.7 362.5 577.5 360.4 576.1 362.5 571.5 364.8 569.5 367.3 562.1 382.5 558.6 392.5 556.1 396.5 543.5 402.1 531.7 410.5 530.4 412.5 530 416.5 534.7 428.5 534.8 434.5 526.6 452.5 520.5 460.5 521.2 464.5 525.5 468.7 531.5 471.5 535.5 470.4 541.5 464.7 544.1 460.5 551.1 440.5 555.5 433.1 561.5 427.6 571.5 421.1 575.5 419.4 577.5 419.5 578.7 420.5 574.7 444.5 565.5 462.5 555.6 478.5 553.5 480.5 549.5 481.8 535.5 478.2 531.5 478.3 523.5 482.8 518.5 488.5 521.5 489.7 537.5 487.8 545.5 488.6 551.5 491 561.5 497.1 569.5 499.3 572.5 502.5 573.2 506.5 572.6 510.5 566.2 526.5 559.5 537.1 548.3 550.5 549.5 552.2 557.5 553.4 560.1 556.5 560.6 564.5 558.7 576.5 560.4 582.5 565.5 586.5 577.5 592.8 581.5 593.1 587.5 589.8 588.6 590.5 589.5 606.7 591.5 606.8 598.5 590.5 609.5 575.1 618.7 566.5 631.2 558.5 645.5 550.9 655.5 548.6 669.5 548.1 673.7 546.5 671.5 542.5 649.5 525.1 645.5 514.5 638.1 506.5 635 500.5 631.5 496.3 627.5 495.2 621.5 496.7 615.3 502.5 609.5 511 605.5 513.5 601.5 513.3 600.9 510.5 603.5 504.5 614.3 490.5 614.4 484.5 611.3 474.5 612.9 472.5 619.5 472.9 630.2 476.5 633.9 478.5 639.5 484.8 643.5 486.4 649.5 486.4 661.5 484.1 667.5 485.1 679.5 490.4 687.5 496.4 698.6 498.5 731.5 510.4 735.5 509.3 737.7 506.5 739.8 494.5 749.8 488.5 757.5 478.2 761.5 474.8 763.5 474.9 765.5 477.9 767.5 484.5 767.6 488.5 761.5 496.5 756.1 514.5 748.1 526.5 747.2 530.5 750.8 534.5 759.5 540.1 771.5 540.7 781.5 542.6 787.5 542.5 787.5 567 775.5 563.6 757.5 551 751.5 551.4 741.5 563.3 732.1 572.5 728.7 582.5 722.5 590.5 718.6 598.5 713.5 599.8 705.5 598.5 697.5 594.8 694.6 598.5 689.5 610.6 687.5 611.8 683.5 611.3 681.5 612.5 673.8 626.5 669.5 631.7 661.5 636.7 646.2 640.5 651.5 641.6 657.5 641.4 675.5 636.7 676.3 638.5 674.2 642.5 665 650.5 655.5 654.5 644.5 656.5 651.5 657.5 661.5 657 681.5 652.2 680.8 654.5 673.1 662.5 661.5 670.6 645.5 676.8 637.5 676.8 617.5 672.7 613.5 673 610.8 674.5 609.2 678.5 609.1 682.5 614.3 698.5 614.7 704.5 613.9 708.5 609.2 716.5 605.7 726.5 596.3 744.5 591.9 756.5 591.2 760.5 593.6 772.5 592.8 776.5 585.5 784.5 581.4 794.5 575.8 798.5 571.5 799.1 569.5 798.3 561.5 789.5 543.5 787 539.5 784.5 537.5 781.8 531.5 768.9 531.9 760.5 525.5 739.5 522.5 724.5 520.4 720.5 505.5 702.3 501.5 693.6 500 684.5 500.5 676.5 502.9 668.5 508.3 658.5 513.5 653 523.5 649.9 537.5 647.4 563.5 647.2 566.1 644.5 569.9 634.5 569.5 631.5 561.5 625.8 551.5 622.7 543.5 617.6 527.5 620.2 527 618.5 528.2 610.5 525.5 605.9 521.5 605.9 517.5 603.4 516.8 604.5 518 608.5 517.5 610.9 513.5 611.1 507.5 608.2 503.5 609.6 501.5 609.1 498.9 610.5 497.5 615.1 491.8 610.5 487.5 602.8 485.5 607.5 483.5 609.1 475.5 604.8 467.5 604.2 465.5 603.2 463.7 600.5 461.7 594.5 461.8 592.5 464.3 590.5 471.5 589.7 475.5 590.2 477.5 591.3 487.5 602.3 493.5 596.7 498.6 594.5 499.6 588.5 501.5 586.5 509.5 589.9 511.5 589 513.1 586.5 512.8 582.5 498.6 572.5 497.8 566.5 494.8 562.5 488 558.5 486.7 556.5 485.5 552 485.2 544.5 489.5 527.4 491.5 527.5 499.5 537.3 503.9 544.5 510.9 552.5 515.5 556.1 523.5 560.3 529.5 567.7 535.5 567.6 537.5 566.3 539.7 562.5 539.5 558.1 527.5 555.4 510.9 536.5 507.3 528.5 506.2 520.5 506.5 510.5 508.7 496.5 497.5 482.1 491.5 477.1 487.5 476 485 476.5 478.9 484.5 462.3 496.5 462.1 498.5 472.1 510.5 473.8 514.5 473.5 517.2 465.5 511.2 461.5 509.4 457.5 508.8 455.1 510.5 460.5 516.5 464 522.5 465.6 528.5 465.2 534.5 462.3 542.5 458.2 548.5 453.5 551.7 445.1 554.5 453.5 555.7 461.5 553.5 468.4 548.5 475.5 539.6 477.5 542.5 477.1 546.5 472.6 556.5 469.5 559.8 465.5 562.1 449.5 565.9 437.5 566 429.5 561.6 428.6 562.5 429.5 567.1 431.5 570 433.5 570.4 435.5 568.5 437.5 568.6 442.5 570.5 444.7 572.5 441.4 582.5 435.1 592.5 428.1 608.5 427 618.5 429.5 625.1 437.5 629.8 445.5 638.5 447.5 638 459.9 626.5 460.6 624.5 458.4 620.5 458.4 614.5 459.5 611.5 463.5 608.7 465.5 609.4 474.5 620.5 496.8 636.5 497.4 640.5 495.6 644.5 477.5 664.6 471.5 668.7 459.5 669.2 445.5 665.5 439.5 668.2 438.4 658.5 435.5 654.7 433.5 654.3 427.5 658.8 421.5 667.3 417.5 667.5 413.6 678.5 411.5 679.4 407.5 677.8 387.5 661.1 379.5 657.4 361.5 653.9 357.5 661 353.5 661.3 346 654.5 341.5 645.2 337.5 639.8 327.5 633.8 325.5 633.5 313.5 638.7 311.2 640.5 310.4 644.5 315.5 650.2 329.5 660.9 348.5 686.5 350 690.5 349.5 694.3 347.5 695.1 337.5 690.6 325.5 686.9 321.5 683.7 313.7 674.5 309.5 671.2 301.5 668 289.5 665.4 281.5 658.5 278.9 654.5 275.5 644.5 273.5 642.1 272.8 638.5 275.3 628.5 277.5 624.3 283.5 619.6 284.7 616.5 283.5 615.5 275.5 621.5 269.5 629.2 266.3 636.5 262.4 650.5 255.5 662 251.5 665.5 247.2 666.5 245.7 672.5 243.5 674.2 237.5 674 227.1 666.5 223.5 660.7 221.5 660.9 217.2 658.5 208.9 646.5 205.1 638.5 204.4 632.5 204.9 618.5 208.4 598.5 211.6 588.5 211.5 584.3 209.5 582.6 203.5 580.6 195.5 575.9 189.5 573.5 169.5 571.9 161.5 572.8 153.5 568.1 151.5 568.2 147.5 570.6 141.5 579.3 140.8 550.5 141.5 529.7 145.5 528.8 147.5 527.2 153.5 518.3 157.5 516.2 163.5 516.3 167.5 517.9 170.2 520.5 170.3 524.5 166.5 536.5 167.5 540.9 185.5 553.3 195.5 563.9 215.5 574.2 219.5 573.6 223.4 570.5 230.9 558.5 233.6 552.5 240.7 544.5 245.3 536.5 251.5 532.4 253.5 534.5 250.7 546.5 252.4 550.5 255.5 552.3 261.5 551.7 269.5 548.6 272.8 546.5 277.5 541.1 279.5 540.7 281.3 542.5 293.5 548.9 296.1 548.5 290.9 542.5 285.1 532.5 279.5 512.2 273.5 510.9 263.5 510.6 246.5 512.5 240.6 514.5 225.5 524.4 221.5 525.3 218.8 524.5 216.8 522.5 215.5 516.9 211.5 517.6 210 516.5 209.5 514.5 210.3 506.5 209.5 504.5 207.5 504 197.5 505.6 195.5 505.1 187.5 496.1 175.5 487.3 167.5 484.1 165.5 481.3 159.9 464.5 156.4 450.5 151.1 444.5 147.3 436.5 145.3 434.5 141.5 433.2 141.2 428.5 141.5 361.9 148.9 372.5 151.5 382.5 151.3 392.5 146.9 410.5 148.3 420.5 151.5 428.2 159.5 433.6 162.7 442.5 165.5 444.4 169.5 444.2 172.2 442.5 178.7 430.5 180.6 420.5 179 402.5 179.6 400.5 183.5 397.4 199.5 394.5 203.5 395.1 205.5 397.1 206.1 400.5 202.7 416.5 204 422.5 211 426.5 217.5 435.2 221.5 437.7 235.5 440.7 245.5 441.1 257.5 439.6 273.5 433.1 283.5 424.2 295.5 417.7 307.5 407.8 315.5 403.7 321.5 403 324.9 398.5 330.6 396.5 332.3 394.5 333.8 386.5 338.9 370.5 339.4 362.5 338.4 354.5 335.5 351.2 331.5 349.9 317.5 349.3 314.1 340.5 311.5 339.3 307.5 341.2 302.7 346.5 301.1 352.5 300.5 360.5 293.5 367 290.5 372.5 286.3 382.5 282.3 398.5 279.5 405.1 263.5 422.5 257.5 427.3 253.5 428.4 249.5 426.4 248.1 422.5 250.3 414.5 256.1 406.5 256.8 402.5 256.2 400.5 245.5 387.6 237.4 380.5 233.5 373.8 233.1 370.5 234.1 366.5 235.5 364.5 239.5 362.6 241.5 363 244.8 374.5 247.5 378 253.5 380.4 257.5 380.6 259.5 379.4 263.1 370.5 271.3 356.5 275.5 347.5 283.8 340.5 285.6 336.5 284.1 330.5 279.5 326.5 261.5 322.7 247.5 317.2 235.5 317.5 234.3 316.5 235.5 301.8 237.5 300.1 241.5 299.2 249.5 299.9 267.5 304.3 281.5 314 287.5 313.8 290.9 310.5 293.4 304.5 295.7 290.5 296 280.5 303 274.5 304.8 270.5 304.7 266.5 303.5 264.6 293 256.5 290.4 252.5 291.5 248.9 296.1 244.5 297 242.5 296.5 238.5 293.5 233.5 291.5 232.1 287.5 232.2 271.5 240.4 269.1 240.5 267.3 238.5 267 228.5 272.4 218.5 275 208.5 280.5 200.5ZM487.8 196.5 496.2 196.5 497.4 198.5 495.5 200.1 493.5 199.8ZM505.8 196.5 533.8 196.5 532.7 200.5 533.5 202.6 538.6 206.5 539.6 210.5 537.5 214.5 533.5 215.7 529.5 213.6 526.7 208.5 524 206.5 507.5 205.8 505.1 204.5 504 202.5ZM563.5 231 563.5 224.8 566.9 210.5 566.4 204.5 563.5 201.1 553.5 199.4 551.3 196.5 595.6 196.5 594.8 200.5 583.5 207.5ZM614.5 196.5 625.6 196.5 627.7 202.5 617.5 198.9ZM787.5 196 787.5 279.6 780.2 288.5 787.5 295.9 788.1 322.5 787.5 347.4 783.5 347.6 755.5 355.6 747.5 359.5 741.5 366.6 737.5 367.5 733.5 366.9 729.5 364.7 723.5 359.1 715.4 354.5 711.6 348.5 712.5 342.5 717.5 329.8 721.5 322.6 725.5 320.9 727.5 321 730.9 322.5 732.2 324.5 732.2 330.5 726.6 344.5 727.3 348.5 728.6 350.5 733.5 352.8 739.5 351.3 749.3 340.5 761.5 333.3 763.2 330.5 763.1 328.5 759.5 323.4 745.5 315.3 741.9 310.5 741.2 304.5 749.7 292.5 749.5 285.3 745.5 282.9 735.5 283.3 731.5 281.9 730.3 278.5 732.1 268.5 731.5 262.7 729.5 261 721.5 260.9 719.5 259.2 717.5 248.4 719.5 245.4 726.6 242.5 728.8 240.5 759.3 196.5 765.9 196.5 732.3 244.5 732.6 250.5 735 254.5 737.5 255 741.5 253.3 781.4 196.5ZM601.5 204.6 607.2 206.5 608.2 212.5 605.5 217.6 603.5 219.3 599.5 220 598 216.5 598 208.5 599.5 205.2ZM241.1 210.5 239.9 216.5 232.6 228.5 225.5 243.2 218.8 248.5 217.6 250.5 213.5 266.9 211.5 269.9 207.5 272.4 203.5 272 195.5 267 185.3 266.5 141.5 236.4 141.5 224.3 187.7 256.5 195.5 263.6 197.5 263.7 200.8 260.5 205.4 250.5 212.5 246.5 213.5 244.9 214 232.5 223.4 224.5 231.5 210.9 235.5 207.3 237.5 206.7 239.5 207.3ZM649.7 222.5 649.5 227.6 641.5 247.7 639.7 250.5 633.5 254.5 627.5 256.4 623.5 256.5 611.5 252.2 599.5 250.7 596.7 248.5 597.7 240.5 600 236.5 603.2 234.5 613.5 232.3 627.5 233.5 635.5 229.8 645.5 221.1 647.5 220.8ZM141.5 251.7 175.5 275.4 189.5 283.5 200.9 288.5 203 290.5 203.5 294.5 200.1 316.5 195.5 322.4 185.5 330.6 181.5 331.7 179.5 330.2 176.7 324.5 176.6 320.5 180.6 310.5 178.6 304.5 165.2 296.5 141.5 280ZM646.9 252.5 651.5 252.2 653.5 253.8 658.7 262.5 665.3 268.5 667.8 276.5 667 280.5 663.5 280.3 659.9 276.5 654.7 268.5 645.5 263.8 643.8 260.5 643.9 256.5ZM468.9 254.5 473.6 264.5 473.5 267.4 465.5 272.5 463.2 276.5 461.5 286.5 449.5 294.5 442.2 306.5 445 310.5 459.5 320.8 487.2 346.5 491.9 352.5 498 364.5 500.7 372.5 501.3 380.5 500.3 386.5 493.5 398.4 487.5 403.4 484.5 404.5 495.5 403.5 513.5 399.8 519.9 396.5 529.5 388 533.7 382.5 531.1 376.5 531.5 366.5 533.5 361.9 541.5 356.3 545.6 350.5 550.6 320.5 550.5 312.5 547.5 308.5 545.5 308.2 539.5 304.2 531.6 296.5 513.5 284.2 507.5 281.3 495.5 279.4 491.5 280.5 487.5 279.3 484.8 276.5 484.5 274.5 487.9 272.5 487.7 268.5 486.4 266.5 471.5 254.4ZM417.5 255.6 420.3 256.5 420.8 258.5 419.6 262.5 417.5 263.8 413.8 262.5 411.5 260.5 415 256.5ZM409.5 261.5 410.7 262.5 407.8 268.5 399.5 280.5 395.5 284.3 393.5 285.2 390.8 284.5 389.9 280.5 393.5 272.5 401.5 264.9 405.5 262.5ZM693 300.5 695.5 300.6 707.5 305.1 711.3 308.5 711.5 311.2 710.4 312.5 707.5 312.7 702 310.5 693.6 304.5 692.2 302.5ZM497.5 307.2 499.5 308.2 500.7 310.5 500.2 318.5 497.1 322.5 493.5 323.4 491.5 322.9 488.8 318.5 488.6 312.5 491.5 308.9ZM331.7 314.5 333.5 312.8 337.5 312.3 343.5 315 345.8 318.5 350 330.5 345.5 330.6 333.6 326.5 331.3 320.5ZM230.6 322.5 227.5 327.3 225.5 328.9 223.5 329 225.9 324.5 229.5 321.7ZM591.2 336.5 587.4 336.5 586.7 344.5 587.5 344.8 594.3 338.5ZM651.3 356.5 658.1 350.5 663.5 348 665.5 348 667.2 350.5 667.8 358.5 669.5 359.7 677.5 357.5 679.5 357.8 685.5 364.2 696.3 370.5 706.9 382.5 716.9 390.5 720.5 398.5 720.8 402.5 719.9 404.5 713.5 408 709.5 406.8 671.5 370.9 666.2 362.5 659.5 364.8 651.5 372.4 649.5 373.5 647.5 373.3 645.8 370.5 646 368.5ZM167.5 357.8 171.5 357.4 173.5 359.8 180.4 374.5 180.7 378.5 179.5 380.5 177.5 381 173.5 379.3 167.5 373 165.5 369.3 164.6 362.5ZM303.3 360.5 311.5 357.3 313.5 358.1 321.6 372.5 321.5 375.1 319.5 377.8 315.5 377.7 305.5 373.9 303.5 371.1 302.1 362.5ZM787.5 364.9 787.5 418.2 781.5 418.8 776.1 422.5 773.9 428.5 772.7 436.5 774.6 448.5 773.5 450.9 769.5 452.5 763.5 448 754.6 436.5 748.9 426.5 747.1 418.5 747.7 416.5 749.5 415.3 759.5 413.3 761.5 412.1 764.1 408.5 765.5 400.5 773.6 394.5 784.1 384.5 785.1 380.5 782.7 374.5 782.5 370.5 783.5 368.4ZM601.5 376 603.5 376.5 605.5 379.6 605.5 382.7 603.5 384.2 601.5 383.2 600 380.5 599.8 378.5ZM506 384.5 507.5 382 511.5 382.6 518.4 386.5 519 388.5 515.5 390.3 509.5 389.7 507.3 388.5ZM737.2 386.5 739.5 384.3 743.5 383.6 749.5 384 755.5 385.8 759.4 388.5 761.6 394.5 761.2 396.5 757.5 398.6 739.5 400.3 737 396.5 736.5 390.5ZM663.5 405 667.5 402.3 673.5 400 679.5 399.4 683.7 400.5 684.6 402.5 684 404.5 687.9 406.5 689.2 408.5 684.3 416.5 682.9 420.5 683.5 421.4 687.5 421.9 692.5 428.5 695.5 430.4 699.5 429.6 703.5 432.4 707.5 431.3 709.5 429.5 711.5 429.2 711.9 426.5 710.7 424.5 713.5 424.5 719.5 428.2 729.5 431 735.5 430.3 741.8 434.5 745.1 440.5 742.5 454.5 737.5 465.5 730 472.5 731.5 473.1 745.5 464.2 747.1 466.5 747.1 468.5 745.5 474.5 735.5 491.3 732.3 492.5 725.5 492.6 703.5 489 685.5 483.2 663.5 470.3 661.5 470.1 655.5 472.8 651.5 473.1 646.9 472.5 644.1 470.5 643.5 468.5 645 464.5 649.4 460.5 653.5 458.8 654.7 456.5 650.9 440.5 650.8 432.5 656.8 414.5ZM373.9 412.5 369.9 412.5 369.5 414.5 371.5 414.6ZM455.8 486.5 457.5 488.4 459.5 488.1 461.9 486.5 464.9 482.5 464.7 474.5 461.5 468.5 463.5 467.1 469.5 466.3 473.1 464.5 474 460.5 473.6 454.5 474.9 452.5 481.5 457.2 487.5 459.5 491.5 459.1 497.5 457 505.5 459 510.6 458.5 513.1 456.5 518.7 444.5 519.8 440.5 518.8 436.5 513.5 432.8 497.5 427.2 481.5 423.6 469.5 423.2 455.5 424.4 448.1 428.5 444.9 432.5 443.1 438.5 443.5 439.8 447.6 442.5 450.4 446.5 456.6 464.5 455.1 468.5 459.5 472.8 461.2 476.5 460.7 480.5ZM389.7 426.5 384.1 428.5 379.2 434.5 378.1 438.5 377.5 449.6 375.5 450.1 369.5 449 365.5 450.2 363.2 452.5 357.5 462.5 346.3 474.5 340.8 484.5 340.3 488.5 341.5 491.8 343.5 493 345.5 492.5 354.1 480.5 359.5 477.7 365.5 477.1 369.4 478.5 374.7 484.5 376.2 488.5 375.8 492.5 374.1 494.5 371.5 495.1 365.5 494.1 361.5 495 354.5 502.5 353.9 506.5 355.3 510.5 361.5 515.5 363.4 520.5 361.4 524.5 354.3 528.5 353 530.5 353.8 538.5 351.8 544.5 336.3 564.5 333.5 566.4 331.5 566.7 329.5 565.5 326.9 558.5 321.5 553 317.1 552.5 311.5 545.6 305.2 550.5 311.5 552.7 315.5 555.7 318 562.5 317.5 568.3 313.5 571.3 299.5 573.2 296.4 574.5 298.4 576.5 305.5 579.4 321.5 581.3 329.5 583.3 343.6 590.5 347.1 594.5 351.5 606.4 355.5 610.6 361.5 614.5 367.5 626.1 371.5 623.2 374.2 618.5 375.9 612.5 375.7 606.5 379.5 604.7 383.5 601 393.1 588.5 385.5 574 380.5 566.5 379.3 562.5 382.8 542.5 392 516.5 392.4 510.5 393.6 508.5 393.8 500.5 395.5 497.7 397.5 485.1 393.5 484.4 390.8 490.5 388.9 504.5 385.5 515.8 381.5 523.4 379.4 520.5 379.4 512.5 385.1 482.5 383.6 476.5 378.2 464.5 378.6 452.5 379.5 451.6 385.5 450.6 391.5 446.8 394.6 442.5 397.3 432.5 394.8 428.5ZM191.5 432.8 184.6 438.5 180 444.5 178.6 448.5 179.1 452.5 185 466.5 187.5 470.5 195.2 476.5 203.3 484.5 213.5 498 217.5 498.8 223.5 496.6 239.5 481.7 243.4 476.5 244.8 472.5 243.5 470.7 239.5 469.7 233.5 469.3 227.5 470.2 225.6 468.5 224.3 460.5 221.8 454.5 213.5 443 202.1 436.5 197.5 432.7ZM485.5 435.5 489.5 434.9 493.5 435.7 496.7 438.5 499 442.5 499.8 446.5 498.6 450.5 493.5 455.4 487.5 455.7 483.5 454.5 480.8 452.5 478.4 448.5 478.2 444.5 479.5 440.5 481.5 438ZM489.5 441 486.1 442.5 484.9 444.5 484.8 448.5 487.5 451.6 491.5 450.7 493.3 446.5 492.4 442.5ZM405.5 458.4 402.5 464.5 402.7 468.5 403.5 468.9 403.7 466.5 405.6 464.5ZM223.5 472.5 225.5 475.2 225.6 482.5 223.5 485.6 221.5 486.4 219.5 485.4 217.5 482.6 217 478.5 219.5 474.3ZM455.5 476.9 454.2 478.5 454.2 480.5 455.5 481.4 456.7 478.5ZM141.5 479.5 144.9 482.5 147.5 487.8 157.5 486.8 163.5 487.2 165.5 488.3 170.2 496.5 170.2 500.5 167.5 503 163.5 504.2 159.5 503.8 155.5 501.6 151.3 496.5 147.5 488.6 145.5 487.7 141.5 489ZM485.5 505.9 487.7 506.5 490.3 512.5 490.6 518.5 489.5 524.3 485.5 517.4 483.5 510.5 483.5 508.4ZM535.5 512.2 534 518.5 535.5 521.3 537.5 521.5 539.5 519.9 540.5 516.5 539.5 513.6 537.5 512.1ZM348.2 520.5 333.5 516.3 331.5 516.7 329.5 519.3 329 526.5 329.5 533.3 331.5 538.3 333.5 539.4 337.5 538.2 351.4 528.5 350.8 524.5ZM703.5 514.8 697.5 517.1 694.3 520.5 693.9 522.5 701.5 528.6 709.5 530.3 715.6 528.5 718.2 530.5 718.9 532.5 718.4 534.5 711.5 544.8 707.5 548 703.5 549.2 697.5 548.9 689.5 550.1 684.7 552.5 686.7 556.5 689.5 558.1 699.5 557.4 703.5 559.4 705.1 562.5 703.4 570.5 704.2 576.5 707.5 582.5 711.5 585.7 713.5 586 717.5 583.9 721.7 576.5 730.2 570.5 742.5 548.5 743.1 540.5 741.5 537.1 739.5 535.8 725.5 534.3 720.6 532.5 719.2 524.5 715.5 518.7 709.5 515.1ZM258.4 526.5 258.6 524.5 261.3 522.5 265.5 521.9 269.1 522.5 269.4 524.5 267.2 526.5ZM453.5 526.9 450.8 528.5 449.7 534.5 451.5 536.9 455.5 537.5 457.5 536.1 458.7 532.5 457 528.5ZM273.5 531.1 275.5 531.3 277.5 532.8 278.9 536.5 278.3 538.5 277.5 538.8 274.7 536.5 273.5 534.5ZM239.9 570.5 240.8 572.5 243.5 573.7 249.7 572.5 243.5 568.5 240.9 568.5ZM659.5 593.9 657.5 593.7 653.5 595.9 645.8 604.5 643.4 610.5 643.5 612.5 645.5 615.3 647.5 615.1 653.5 611.4 660.2 602.5 662 598.5 661.5 596.1ZM363.5 602 365.5 599.9 369.5 599.8 373.6 602.5 375.3 606.5 369.5 607.8 365.5 606.9 363.7 604.5ZM321.5 602.4 317.3 606.5 317.8 608.5 323.5 613.1 324.6 608.5 323.5 602.5ZM787.5 607.1 787.5 627.1 779.5 620.4 775.5 619.5 773.5 620.8 771.5 626.7 768.6 630.5 763.5 633.4 759.5 633.9 758.9 630.5 761.4 622.5 763.5 620.3 771.2 616.5 773.5 609.1 775.4 606.5 779.5 605.2ZM141.5 611.7 145.5 613.8 155.5 622.7 161.5 624.4 165.5 623.7 166.5 622.5 166.5 608.5 171.5 608.6 175.5 611.1 177.4 614.5 177.5 618.5 175.5 622.4 170.5 626.5 170.5 632.5 172.9 638.5 184.6 652.5 186.9 656.5 186.9 658.5 183.5 658.1 174.2 654.5 165.5 648.7 161.5 647.7 149.5 649.4 141.5 652.6 141.5 645.6 144.2 642.5 144.9 638.5 144 634.5 141.5 630.3ZM293.5 620.5 292.8 622.5 293.4 624.5 298.2 630.5 303.5 632.4 307.2 630.5 308.2 628.5 307.5 625.9 303.5 623.9 297.5 622.8ZM391 630.5 389.6 632.5 390 634.5 392.9 638.5 413.5 657.5 415.3 656.5 415.3 652.5 413.3 646.5 403.5 631.7 397.5 629.4ZM466.5 634.5 465.5 633.7 463.5 634.2 457.5 637.8 452.7 644.5 453.5 645.8ZM482.1 638.5 475.5 638.9 465.5 643.1 458.2 648.5 456.2 652.5 457.5 653.6 471.5 650.4 477.5 649.8 481.5 645.4 482.8 640.5ZM522.8 666.5 523.5 667.3 531.5 663.2 539.5 660.9 549.5 660.3 555.8 662.5 569.5 671.9 573.5 673.5 574.2 672.5 571.9 666.5 567.5 661.5 563.5 659 557.5 657.4 545.5 656.5 537.5 657.3 529.7 660.5ZM763.5 665.6 769.5 666.4 775.5 668.5 787.5 676.1 787.5 748.1 771.5 737.7 767.5 737.1 764.9 738.5 764.1 740.5 765.2 744.5 767.5 747.4 787.5 761.7 787.5 772.6 750.5 746.5 747.5 743.2 746.4 740.5 745.8 730.5 748.6 724.5 756.1 716.5 778.2 702.5 780.7 698.5 778.7 692.5 771.3 684.5 763.5 678.2 760.8 668.5 761.2 666.5ZM203.2 668.5 205.5 667.6 209.5 668.7 214.9 672.5 215.9 674.5 213.5 675.9 208.4 674.5 203.6 670.5ZM433.5 672.1 435.5 671.2 437.5 672.5 440.3 680.5 453.3 694.5 457.5 702.5 457.3 706.5 453.5 707.3 447.5 705.7 442.2 702.5 437.5 697.4 433.5 688.7 431.5 676.2ZM483.5 674.2 486.8 674.5 488.2 676.5 488.8 682.5 487.5 688 485.5 687.8 481.4 680.5 481.5 676.5ZM559.5 678.2 555.5 684.4 547 686.5 550.9 692.5 550.2 694.5 546.4 698.5 546.3 700.5 551.9 706.5 549.1 712.5 552.9 718.5 550.4 724.5 553.5 726.8 559.5 727.2 561.8 726.5 567.5 728.5 569.1 730.5 567.5 734.5 559.5 741 553.4 748.5 553.5 750.9 557.5 751.8 561.5 750.3 576.7 734.5 578 730.5 577.3 724.5 573.7 722.5 573.7 720.5 581.3 704.5 580 698.5 577.5 694.2 575.5 692.9 569.5 694.4 567.5 694 563.5 681.9 561.5 678.8ZM713.5 677.5 715.8 680.5 715.3 686.5 705.8 702.5 702.3 716.5 696.4 724.5 693.9 730.5 694.5 734.5 698 738.5 697.5 741.5 695.5 742.9 693.5 742.8 689.5 740.3 685.5 740.1 669.5 745 667.5 744.7 660 730.5 649.5 718.9 646.9 714.5 647.2 706.5 651.5 697.4 657.2 692.5 665.5 689.3 676.6 682.5 681.8 680.5 682.2 682.5 671 696.5 668.4 704.5 668.3 708.5 669.5 710.8 671.5 711.7 675.5 711.3 681.5 707.5 695.5 695.7 701.2 688.5 707.5 677.4 711.5 676.6ZM280.4 722.5 283.1 718.5 292.3 712.5 297.5 706.4 301.5 704 304.7 704.5 309.5 708.1 315.5 705.2 319.5 704.6 323.5 707.5 329.5 716.5 333.5 719.8 357.5 727.6 363.2 726.5 369.5 719.9 375.5 719.9 377.5 721.2 379.1 724.5 379.4 728.5 377.4 738.5 378.6 742.5 383.5 749 396.9 756.5 405.5 763 411.5 765.3 413.4 762.5 413.4 750.5 416 738.5 415.5 736.5 409.5 731.6 405.5 726.8 404 722.5 404.5 720.5 407.5 719.6 411.5 722 415.5 726.7 418.7 734.5 427.5 739.5 437.5 748.5 440.9 748.5 443.1 746.5 444.1 742.5 443.7 738.5 441.5 732.8 439.5 736.9 437.5 738.4 435.5 736.7 419.5 711.4 408.8 706.5 401.5 699.2 394.9 694.5 391.4 688.5 393.5 686.6 397.5 687.4 407.5 693.6 413.5 694.5 419.5 699.5 421.5 698.8 423.5 694.9 425.5 693.6 437.5 712.6 441.5 717.1 451.5 719.4 459.5 724.9 469.5 729.3 477.5 736.7 481.5 738 487.5 737.1 495.5 731.4 499.5 729.7 501.5 730.2 503.5 732.1 505.3 736.5 506.2 744.5 507.6 748.5 515.5 759.8 519.1 768.5 521.6 826.5 523.5 828.8 527.5 827.5 533.5 839.1 535.5 840.1 547.5 841.5 559.9 848.5 495.7 848.5 500.2 844.5 501 840.5 497.5 836.7 486 828.5 472.4 814.5 473.3 812.5 479.5 810.3 481.3 806.5 480.1 802.5 477.5 798.6 469.5 790.6 465.5 788.5 453.5 790.1 447.5 789.5 419.5 772.2 417.5 771.9 413.9 774.5 411.5 775 405.5 773.4 388.3 764.5 377.5 755.9 373.5 755.6 367.5 757 358.4 762.5 356.6 764.5 356.3 768.5 361.2 782.5 359.6 784.5 357.5 784.5 349.5 782.5 345.5 777.9 338.7 764.5 339.5 761.3 345.9 750.5 345.3 744.5 329.5 725.1 327.5 723.5 315.5 718.7 309.5 709 307.5 708.9 303.5 711.7 299.7 716.5 298.4 722.5 298.2 736.5 294.6 748.5 283.1 756.5 277.5 762.8 275.5 762.7 275.1 760.5 277.7 748.5 279.1 728.5ZM757.4 688.5 756.7 696.5 746.1 724.5 736.2 730.5 729.5 738.9 711.5 749.3 707.5 750 705.9 748.5 705.5 746.5 710.6 736.5 711.7 730.5 706.8 724.5 706.5 722.5 707.5 719.6 711.5 717.7 713.5 718.3 717.5 721.6 723.5 720 749.5 691.1 755.5 687.5ZM247.5 694.4 248.9 692.5 255.5 691.5 258.4 692.5 261.5 695.4 264.5 704.5 259.5 707.1 255.5 707.7 251.5 706.7 249 702.5ZM209.5 699.9 212.8 702.5 213.2 704.5 212.6 708.5 210.3 712.5 203.5 717.9 191.5 720.7 184.6 724.5 181 730.5 180.4 734.5 181 738.5 183.8 740.5 195.5 740.8 198.4 742.5 203.5 749.8 209.5 748.6 215.5 749.1 225.5 755.2 237.5 760.5 245.5 767.4 253.8 776.5 263.6 782.5 271.7 794.5 272.8 798.5 271.6 800.5 267.5 801.3 261.5 801 257.5 799.7 247.5 788.6 243.5 785.5 223.5 772.9 219.5 771.6 217.5 772.1 201.5 789.7 197.5 791.2 191.5 791 189.5 792.1 150 848.5 141.5 848.8 140.9 822.5 141.5 783.4 153.5 766.2 157.5 762.5 169.5 755.6 173.1 750.5 172.8 748.5 169.7 746.5 157.5 746.1 151.5 748.4 141.5 755.3 141.5 711.4 159.5 713.4 169.5 719.1 175.5 720.4 179.5 718.7 181.5 716.6 186.3 706.5 190 702.5 199.5 699.2 205.5 698.9ZM268.2 708.5 269.5 707.2 271.5 706.9 273.5 707.8 274 710.5 272 712.5 269.5 711.8ZM461.5 750.9 457.5 752.2 449.5 758.3 447.6 762.5 449.5 767.1 465.5 780.5 466.6 776.5 465.1 766.5 466.1 754.5 465.5 752.5ZM561.5 754.3 557.5 758 554.5 762.5 553.6 766.5 554.3 770.5 557.5 778.9 561.5 784.5 563.5 786.2 569.5 785.7 577.5 781.7 578.4 780.5 578.6 776.5 573.9 762.5 571.7 758.5 567.5 755.1 563.5 754ZM303.5 757.1 307.6 756.5 309.5 757.5 311.6 760.5 311.5 765.5 305.6 770.5 304.8 772.5 305.8 778.5 309.5 783.9 327.5 792.4 341.5 795.8 347.5 801.5 359.5 809.4 363.5 809.9 367.5 807.6 371.9 792.5 375.5 790.9 379.5 792 381.2 796.5 380.6 800.5 377.5 805.1 370 810.5 368.7 812.5 366.4 824.5 365.2 826.5 361.5 827.6 353.6 826.5 335.5 817.8 326.3 814.5 311.5 803.9 302.8 794.5 293.5 789.3 289.5 782.5 288.3 776.5 289.5 774 301 768.5ZM729.5 784.5 733.5 778.5 738.8 774.5 745.5 772.7 751.5 774.4 787.5 799.6 787.5 811.6 745.5 782.6 741.5 781.5 737.5 781.9 733.5 783.6 729.5 786.9ZM471.5 780.5 473.5 783.4 475.4 780.5 477.5 779.1 481.5 779.8 481.9 778.5 479.5 776.2 475.5 775.6 473.1 776.5 471.6 778.5ZM727.5 788 725 802.5 713.8 820.5 712 828.5 715.3 832.5 738.4 848.5 721.9 848.5 707.5 838.6 699.5 836.7 697.6 832.5 697.4 828.5 698.6 824.5 708.5 814.5 717.5 799.6 725.5 790.7 726.6 790.5ZM233.2 796.5 235.5 795.7 237.5 796.4 239.8 798.5 240.4 800.5 239.5 801.6 235.6 800.5ZM217.5 798.8 219.5 800.4 219.8 802.5 217.7 808.5 189.8 848.5 179.5 848.5 211.5 802.2 215.5 798.8ZM429.5 803.1 443.5 798.6 445.5 798.5 447.5 800.5 446.6 808.5 450.7 820.5 450 822.5 440.3 824.5 438.2 826.5 437.9 828.5 439.5 831.5 449.5 840.2 456.9 848.5 440.6 848.5 430.9 840.5 425.7 834.5 424.2 828.5 427.8 816.5 428 804.5ZM691.5 811 693.1 814.5 692.2 820.5 683.5 831.9 681.5 833 680.6 830.5 680.5 816.5 683.5 813.2ZM649.5 820.2 653.5 819.8 658.4 824.5 659.7 830.5 657.5 834 653.5 833 649.1 828.5 647.7 824.5 647.8 822.5ZM598.5 828.5 599.4 826.5 601.5 825.4 605.5 825.3 609.9 828.5 611.3 832.5 607.5 834.4 601.5 833.9 599.4 832.5ZM315 834.5 317.5 831.4 323.5 830.5 331.5 832.5 341.5 837.8 347.5 839.9 365.6 840.5 368.1 842.5 368.5 848.5 330.5 848.5 319.5 842.2 316.2 838.5ZM401.5 830.4 403.8 830.5 403.5 834.3 401.5 834.2ZM595.2 848.5 580.7 848.5 583.5 846.1 589.5 844.3 593.5 845.3Z" fill="#00f0c8"/>
<path d="M294 196.5 291.5 214.9 289.5 220.3 283.5 225.8 279.5 228.1 275.5 228.7 274.7 226.5 275.4 222.5 279.5 210.5 290.8 196.5ZM343.4 196.5 361.5 196.5 371.3 204.5 376.7 210.5 377.3 214.5 372.8 220.5 371.2 224.5 372.4 228.5 377.5 234.3 379.4 238.5 379.5 243.7 377.5 245.9 373.5 245.8 369.6 242.5 348.7 212.5 344.5 204.5ZM787.5 196.5 787.5 221.8 755.1 268.5 747.5 271.1 740.7 270.5 738.4 266.5 739.3 260.5 746.3 254.5 783.5 200.9ZM583.3 306.5 586.8 312.5 587.6 322.5 595.5 331.8 596.1 334.5 593.5 335.6 585.5 333.3 584.2 334.5 581.5 350.2 580.1 352.5 580 354.5 577.6 356.5 577.9 358.5 576.3 358.5 575.5 357.4 568.2 364.5 557.5 385.5 553.8 390.5 527.9 410.5 525.6 414.5 523.8 422.5 522.2 424.5 519.5 425.9 513.5 426.3 483.5 421.5 475.5 421.1 463.5 422.1 455.5 423.6 449.5 426.1 445.5 429.7 443.5 433.3 442 440.5 447 444.5 449.9 452.5 450.2 460.5 448.7 468.5 457.5 472.1 460.2 476.5 459.5 481.1 453.7 486.5 453 488.5 455.8 490.5 456.9 492.5 454.9 494.5 455.7 496.5 463 502.5 466.2 506.5 465.5 508.4 457.5 507 450.2 508.5 459.2 518.5 461.2 524.5 459.5 526.3 455.5 524.8 451.5 525.4 448.1 528.5 447.2 530.5 447.3 534.5 449.5 537.4 453.5 539.6 457.9 540.5 458.7 542.5 457 546.5 453.5 549.5 447.5 551.2 441.5 550.3 435.5 547.2 434.6 548.5 441.8 554.5 451.5 557.3 455.5 557.2 461.5 555.4 471.5 548.5 473 550.5 471.3 554.5 467.5 558.6 458.6 562.5 450.5 564.5 443.5 565 437.5 563.9 427.5 558.2 425.5 570.5 423.5 573.3 420.7 574.5 420 576.5 424.2 594.5 424 614.5 425.5 624.7 429.5 633.2 435.5 640.5 440 642.5 441.3 644.5 440.5 646.5 439.5 647 435.5 644.6 433.5 644.5 423.5 659 421.5 660.1 419.5 658.6 408.8 630.5 406.4 620.5 403.5 600 399.5 605 391.6 622.5 386.4 628.5 384.9 632.5 385.8 636.5 388.9 640.5 403.5 652.7 407.5 657.3 409.8 662.5 409.5 668.8 405.5 667.9 387.5 655.6 377.5 652 361.5 649.7 359.5 650.8 357.4 658.5 355.5 659.8 353.5 659.4 347.1 652.5 339.5 636.7 332.8 626.5 328.5 616.5 326.3 604.5 323.5 599.7 321.5 600 311.7 606.5 315.5 609 320.7 614.5 323.1 618.5 323.7 622.5 322.8 626.5 320.2 630.5 306.9 640.5 305.9 646.5 312.9 658.5 311.5 660 301.5 658.2 289.5 650.9 285.5 647.6 277.5 635.7 277.5 628.8 286 618.5 286.9 614.5 285.5 613.5 277.5 617.8 271.1 624.5 266.5 632.5 260.6 650.5 256.3 658.5 251.5 663.8 245.4 664.5 244.9 668.5 243.5 670.9 241.5 672.1 237.5 671.8 229.6 666.5 226.4 662.5 223.5 655 221.8 654.5 221.5 649 220.6 650.5 221.4 654.5 219.5 656.6 217.5 655.3 211 644.5 207.3 632.5 206.7 620.5 209.6 598.5 216.9 580.5 221.1 576.5 225.5 573.8 231.5 572 237.5 575.1 241.5 575.8 251.5 574.5 256.1 572.5 254.7 570.5 248.9 566.5 245.5 560.2 241.8 556.5 243.5 552.9 245.5 552.3 255.5 555.5 259.5 555 269.5 550.7 279.5 544.2 283.5 544.1 297.5 551.4 311.8 554.5 314.9 558.5 316 562.5 315.6 566.5 313.2 568.5 299.5 571.3 281.5 570.7 273.4 572.5 277 574.5 291.5 575.5 305.5 580.5 323.5 582.6 329.5 584.5 336.6 588.5 343.2 594.5 351.5 610.5 359.9 620.5 361.7 624.5 363.5 634 371.5 625.2 381 608.5 396.4 588.5 396.8 586.5 392.8 580.5 384.3 560.5 384.2 542.5 392.3 516.5 394.2 502.5 398.5 482.5 405.5 466 409.5 450.5 405.5 451.7 396.8 476.5 390.7 488.5 385.5 513 383.5 517.7 381.9 516.5 383.5 500.5 386.8 484.5 386.5 476.5 384.4 466.5 384.4 462.5 386.1 458.5 396.8 446.5 400.4 438.5 401.8 432.5 398.3 428.5 393.5 425.7 389.5 424.9 385.5 425.7 378.7 430.5 370.9 442.5 363.5 449.6 355.5 461.6 341.4 478.5 338 486.5 337.7 494.5 339.5 498.2 345.5 502.7 346.6 504.5 346.9 508.5 345.9 510.5 343.5 511.7 333.5 510.2 331.5 511.4 329.5 514.8 327.8 522.5 326.9 544.5 325.5 547.6 323.5 549.2 321.5 549.6 317.5 548.4 311.5 543.4 308 544.5 305.5 547.9 303.5 549 299.5 548.9 295.5 546.4 291.5 541.6 286.3 532.5 282.7 522.5 279.5 509.5 273.5 508.6 263.5 508.6 243.5 510.9 237.5 513.5 223.5 522.8 219.5 521.9 219 518.5 223.8 506.5 222.5 504.5 228.8 498.5 243.2 480.5 247.3 474.5 248.8 470.5 248.8 468.5 247.5 466.6 236.7 462.5 233.5 459.5 231.5 454.5 232.1 450.5 234.7 448.5 241.5 447.4 259.5 449.2 263.5 448.4 279.5 435.8 286.5 428.5 297.5 420.4 309.5 409.5 317.5 406.1 323.5 407.8 326.7 400.5 329.5 399.7 333.5 400.5 336.7 394.5 337.8 384.5 337 378.5 340.4 376.5 344.9 356.5 347.2 352.5 363.5 345.3 369.7 338.5 377.1 326.5 401.5 306.5 405.5 304.6 407.5 304.8 411.5 308 413.5 307.9 423.5 302.7 431 300.5 433.2 296.5 439.9 290.5 441 286.5 439.9 280.5 433.8 272.5 434.2 270.5 439.5 267.9 449.5 267.2 453.5 268.1 455.5 270.7 456.9 276.5 456 282.5 453.5 285.7 443.7 292.5 438.6 304.5 443.5 311.7 458.4 322.5 486.5 348.5 491.7 356.5 497.1 370.5 498.1 376.5 497.9 382.5 492.7 394.5 488.4 398.5 470.3 406.5 475.5 407.4 489.5 406.1 513.5 401.7 521.6 398.5 529.5 392.1 535.7 384.5 540.1 374.5 538.8 370.5 539.2 368.5 541.5 367.7 543.5 369.1 549.6 360.5 552.2 352.5 551 342.5 551.5 336.5 555.4 322.5 558.2 316.5 556.8 314.5 523.5 289.9 497.5 273.5 461.5 246.3 459.7 246.5 463 254.5 462.6 260.5 459.5 263.5 455.5 265 453.5 264.4 447.5 258.6 444 252.5 443.9 248.5 448.1 238.5 448 236.5 441.2 230.5 440 228.5 441.5 226.7 447.5 227.6 455.5 231.3 477.8 248.5 497.5 260.1 503.5 261.5 513.5 258 519.5 258.5 522 262.5 522.7 272.5 527.9 278.5 535.5 283 540.7 284.5 545.5 284.6 547.5 285.8 554.3 294.5 565.5 303.6 567.5 304.4 573.5 303.1 577.5 303.5ZM141.5 257.1 183.2 286.5 186.8 292.5 186.7 294.5 185.5 295.9 179.5 296 169.6 292.5 141.5 273.3ZM319.5 268.5 320.9 272.5 319.5 278.8 313.5 286.4 309.5 289.5 307.5 289.8 305.5 288.4 305.1 284.5 311.5 270.6 315.5 267.9ZM244.4 278.5 245.5 277.3 247.5 278.2 248.5 280.5 246.9 280.5ZM757.5 302.5 763.5 298.9 769.5 298.5 777.5 300.5 781.5 302.6 787.5 308.9 787.5 335.2 781.5 335.2 777.5 333.6 755.1 310.5 754.7 306.5ZM303.5 312.1 309.5 319.9 311 326.5 309.5 329.7 301.5 336.8 297.5 337.9 295.5 335.7 293.5 330.5 293.5 322.5 295.5 318.1 299.5 312.8 301.5 311.8ZM613.4 332.5 615.1 336.5 613.2 342.5 591.4 368.5 587.1 376.5 582.4 390.5 579.5 392.9 577.5 392.7 574.9 388.5 574.8 380.5 582.5 358.5 586.6 350.5 595.5 340.1 603.5 333.8 609.5 331.3ZM293.5 346.5 295.2 348.5 295.6 352.5 293.6 358.5 283.5 371.9 279.5 374.8 279 368.5 283.1 352.5 286.7 348.5 291.5 346.4ZM698.1 388.5 699.5 386.9 711 392.5 714.6 396.5 715.2 398.5 714.2 400.5 711.5 400.7 707.5 398.5 700.9 392.5ZM439.5 404.2 440.9 410.5 443.2 410.5 443 406.5ZM663.5 410.3 667.5 407.5 671.5 406.4 673.5 408.5 672.9 410.5 673.5 411 679.5 409.7 682.1 410.5 682.5 412.5 679.6 422.5 679.5 428.8 685.5 426 695.5 433.7 699.5 432.2 703.5 434.1 711.5 433.1 715.5 428 718.1 430.5 719.5 435 725.5 433.9 731.5 437 735.5 436.6 738.5 438.5 740.6 442.5 741 448.5 737.5 460.4 733.3 466.5 722.8 474.5 723.5 475.7 727.5 476.5 739.9 474.5 739 478.5 733.4 486.5 729.5 489.1 721.5 490.2 709.1 488.5 693.6 484.5 681.5 478.5 672.4 472.5 665.3 466.5 658.9 456.5 654.2 442.5 653.3 436.5 654.5 428.5 657.5 419.6ZM363.2 412.5 367.5 417.8 369.5 417.5 377.5 411.6 380.7 410.5 379.5 408.9 367.5 408.6 364 410.5ZM395.4 410.5 399.5 410.7 399.9 412.5 415.5 421.1 427.5 418 425.5 411.5 421.5 414.7 417.5 415.8 411.5 413.7 405.5 407.8 401.5 410.1ZM193.5 413.7 194.5 416.5 193.5 418.7 192 418.5 191.5 415.8ZM757.5 422.4 759.5 422.6 762.4 426.5 761.5 432.2 757.5 427.9 756.3 424.5ZM665.5 425 662.9 430.5 662.6 436.5 664.1 440.5 667.5 445.1 668 436.5ZM485.5 436.2 489.5 435.6 493.2 436.5 495.8 438.5 498.3 442.5 498.7 448.5 496.4 452.5 493.5 454.6 489.5 455.2 484.9 454.5 481.5 452 479.3 448.5 478.9 444.5 480.3 440.5ZM565.5 436.1 567.5 438.5 567.5 440.5 563.5 451.8 555 464.5 551.3 472.5 549.5 474.6 545.5 474.6 544.5 472.5 545.2 470.5 550.6 462.5 557.2 442.5 561.5 437.5ZM489.5 440.1 485.5 441.9 484.1 444.5 484 448.5 485.5 451.1 487.5 452.2 491.5 451.5 494 446.5 493.2 442.5ZM169.5 462.2 173.5 462.1 177.5 465.6 183.5 476.3 192.2 482.5 195.7 486.5 196.7 488.5 195.5 490.4 187.5 485.8 181.5 480.1 174 476.5 171.5 474.4 169.5 471.3 168.2 466.5ZM486.8 462.5 495.5 461.7 511.5 465 515.5 467.1 521.9 472.5 523.2 474.5 523 476.5 513.5 485.1 509.5 486.7 507.5 486 503.6 482.5 495.5 472.1 488.5 466.5 486.9 464.5ZM455.5 475.8 454.2 476.5 453 480.5 455.5 482.4 457.4 480.5 457.4 478.5ZM539.5 489.2 549.5 491.7 561.5 500.5 565 504.5 567 508.5 567.6 516.5 564.3 526.5 555.5 539 541.5 551.1 537.5 553.1 533.5 553.6 527.5 551.4 513.2 536.5 509.2 526.5 508.4 510.5 511.2 500.5 515.5 495.4 527.1 490.5ZM660.5 496.5 667.5 494.7 673.5 496.2 675.8 498.5 676.5 502.5 673 510.5 672.6 514.5 673.5 516.9 678.6 522.5 679.5 526.6 677.5 530.5 673.5 530.4 669.3 528.5 659.5 520.7 656.5 516.5 654 502.5 654.9 500.5ZM687.8 508.5 689.5 506.6 691.5 506.8 692.2 508.5 689.5 509.6ZM535.5 510.3 533.5 510.7 531.9 512.5 533 516.5 532.7 520.5 535.5 523 539.5 521.3 541.3 516.5 539.5 512.2ZM159.5 529.5 160.8 532.5 163.5 546.1 165.5 549.5 168.9 552.5 170 556.5 168.6 558.5 165.5 560.1 157.5 560.6 153.5 561.8 141.5 569.2 141.5 535.1 147.5 533.8 157.5 529.1ZM687.9 532.5 689.9 530.5 695.5 529.1 711.5 535.6 712.4 536.5 712.1 538.5 709.1 542.5 705.5 544.7 701.5 545.3 697.5 544.7 692.9 542.5 688.8 538.5 687.9 536.5ZM493.2 542.5 496.1 544.5 497.5 549.1 495.5 549.7 493 548.5 491.9 544.5ZM673.5 553.8 693.1 566.5 697.5 570.5 705.3 584.5 706.6 588.5 706.2 590.5 703.5 592.3 695.5 590.5 689.5 601.5 687.5 603.4 685.5 603.8 683.5 602.9 681.5 604.3 677.5 614.2 671.5 624.9 667.5 629.8 663.5 632.8 653.5 636.5 647.5 637 639.5 635 631.5 629.8 630.1 630.5 633.5 636.5 641.5 641.4 647.5 643.7 659.5 645.2 662.2 646.5 657.6 650.5 651 652.5 641.5 653.1 631.5 651.3 630.6 652.5 639.5 657 645.5 659 663.7 660.5 665.8 662.5 661.5 666.5 657.5 668.5 647.5 671.5 639.5 672.6 625.5 670.7 608.8 664.5 600.8 658.5 595.5 653.1 593 646.5 590.6 634.5 590.7 628.5 594.4 608.5 597.3 598.5 601 590.5 611.5 575.7 615.5 571.5 625.2 564.5 639.5 556.4 647.5 553.1 653.5 551.9 663.5 552ZM777.1 552.5 781.5 551.1 787.5 551.6 787.5 559.4 783.5 559 779.5 557.4 776.9 554.5ZM574.3 606.5 574 608.5 572.1 610.5 565.5 611.5 559.5 610.1 549.5 605.3 545.5 605 533.5 612.6 531.5 610.7 528.9 604.5 525.5 601.8 521.5 603.7 516.6 602.5 515.8 608.5 513.5 609 503.5 602.5 495.5 607.8 493.4 606.5 492.9 602.5 495.3 598.5 499.5 596.4 501.2 594.5 501.6 590.5 503.5 589.4 509.5 591.7 511.5 591.4 515.5 587.9 521.9 584.5 527.5 575 540.2 570.5 547.5 564.9 549.5 564.3 551.4 566.5 552.1 576.5 555 584.5 558.2 588.5 569.8 598.5ZM647.5 566.3 645.5 565.1 639.5 566.6 627.5 573.7 616.2 586.5 613.2 592.5 612.7 596.5 613.5 597.3 621.4 584.5 626.9 578.5 635.5 571.9ZM658.9 580.5 658.9 582.5 661.5 585.5 665.5 586 669.7 584.5 665.5 580.9ZM661.5 590.5 657.5 591 653.5 593.8 646.9 600.5 642.6 606.5 641.4 610.5 641.5 614.5 643.5 618.9 645.5 620.2 647.5 620.4 651.5 618.3 655.5 610.3 661.5 607.4 664.3 604.5 665.4 600.5 665 596.5ZM291.2 618.5 290.3 620.5 291.6 624.5 297.5 631.4 303.5 633.8 305.5 633.4 309 630.5 310 628.5 310 624.5 307.5 621.3 305.5 621.1 301.5 622.7 299.8 620.5 299.9 618.5 297.5 617.2 293.5 617.1ZM489.8 634.5 491.6 636.5 492.7 640.5 490.8 644.5 487.5 647.4 486.3 646.5 484.9 636.5 483.5 634.3 463.5 641 467.2 636.5 475.2 630.5 471.5 630.1 465.5 631.2 457.5 635.4 452.4 640.5 450.9 644.5 450.4 648.5 451.5 650.3 453.5 649.7 453.8 650.5 452.3 654.5 455.5 655.8 467.5 653.8 479.5 655.2 479.9 656.5 475.5 663.1 469.5 666.9 459.5 667.5 455 666.5 451.3 664.5 444.9 650.5 444.4 646.5 446.8 642.5 456.5 632.5 467.5 625.9 473.5 625 481.6 628.5ZM156.8 632.5 159.5 632.4 161.5 633.7 161.5 637.1 159.5 637.7 157.5 636.9 156.1 634.5ZM573.5 648.2 577.5 648.1 581.5 650.2 589.2 656.5 591.9 660.5 593.4 668.5 590.9 678.5 591 682.5 596.2 696.5 595.8 698.5 593.5 699.9 589.5 698.1 581.5 689 579.4 684.5 575.9 668.5 567.2 656.5 566.7 654.5ZM541.5 649.6 552.4 650.5 556.1 652.5 537.5 655.2 531.5 657.5 525.5 661.5 519.5 667.8 515.3 674.5 513.2 680.5 512.2 688.5 513.1 694.5 515.1 698.5 519.5 703 521.5 703.8 521.8 702.5 517.5 694.4 515.9 686.5 517.3 678.5 521 672.5 528.8 666.5 539.5 663.3 547.5 663.1 551.6 664.5 553 666.5 537.5 670.1 534.4 672.5 532.5 676.5 533.5 678.6 537.5 678.9 545.5 677.7 548.1 678.5 549.7 680.5 549.1 682.5 544.3 688.5 543.1 692.5 539.4 696.5 540.6 700.5 546.1 706.5 545.5 708.9 538.8 712.5 544.7 716.5 546 718.5 545.5 720.5 540.5 724.5 539.4 726.5 541.9 728.5 545.5 729.4 557.5 728.5 558.9 730.5 563.5 730.8 566 732.5 545.5 754.5 541.5 758 539.5 758.5 535.5 757.5 532.2 752.5 531.7 748.5 532.5 738.5 530 726.5 515.5 712.2 507.5 702.4 503.4 694.5 501.3 682.5 502.4 674.5 504.6 668.5 509.5 660.7 513.5 656.8 523.5 652.1 531.5 650.3ZM567.5 676.5 570 676.5 573.5 678.4 575.7 682.5 574.8 686.5 571.5 688.8 569.5 688.4 567.5 684.7 566.7 678.5ZM425.5 698.2 427.5 699.2 431.5 705.1 437.8 718.5 438.2 726.5 437.5 729.2 435.5 731.6 433.5 730.5 429.5 725.4 422.4 710.5 422 704.5ZM693.5 710 693.4 714.5 684.3 732.5 681.5 734.7 677.5 735.7 673.5 735 671.5 733.4 668.9 728.5 669.5 723.7 681.5 717 689.5 710.5ZM739.5 711.2 740.7 712.5 740.2 714.5 737.5 718.5 735.5 719.6 733.7 718.5 737.5 712.5ZM141.8 724.5 145.7 720.5 151.5 719.9 155.5 720.5 159.8 722.5 170.1 730.5 171.1 734.5 170.1 736.5 167.5 738 155.5 739 143.5 742.8 141.5 741.5ZM761.9 724.5 763.7 722.5 767.5 721.2 771.9 722.5 787.5 732.9 787.5 740.6 773.5 731.3 761.9 728.5 761.2 726.5ZM477.5 743.7 491.5 741.9 495.5 742.4 497.5 744.1 502.4 752.5 511.5 759.9 515.7 766.5 517.8 776.5 517.5 788.5 519 802.5 519.9 826.5 518 834.5 515.5 837.4 509.5 839 501.5 836 492.5 828.5 487.2 820.5 486.5 816.5 487.2 810.5 491.5 811.9 491.9 810.5 480.5 794.5 476.5 784.5 477.5 781.1 479.5 780.7 485.5 785.2 485.6 782.5 481.5 776.2 477.5 773.8 471.5 772.6 470.6 768.5 473.3 746.5ZM423.5 746.5 427.5 745.9 438.2 756.5 444.5 768.5 453.9 778.5 453.5 782.6 449.5 783.8 441.5 781 431.5 774.2 422.7 766.5 419.5 761.4 418.8 756.5 419.5 752.3ZM189.5 749.7 191.5 752.7 192.1 758.5 190.2 772.5 188.4 776.5 141.5 842.9 141.5 800.1 165.5 766.9 183.5 749.6 185.5 748.7ZM227.5 765.5 229.5 764.3 235.3 766.5 239.7 770.5 243.4 776.5 239.5 776.6 232 772.5 228.2 768.5ZM255.2 786.5 257.5 786.6 259.9 788.5 260.7 790.5 259.5 791.8 255.5 788.9ZM323.5 801 327.5 800.8 335.5 802.8 351.3 814.5 352.5 816.5 351.5 818.2 349.5 818.1 339.5 813.4 330.6 810.5 327.4 808.5 323.8 804.5 322.8 802.5Z" fill="#00e890"/>
<path d="M445.5 228 457.5 233.6 481.5 251.7 511.5 269.5 567.5 307.8 573.5 305.6 577.5 306.1 579.5 307.4 582.5 312.5 583.3 320.5 594.3 332.5 593.5 333.8 583.5 330.3 581.2 330.5 579.5 338.5 576.5 346.5 555 384.5 545.5 394.7 517.5 416 513.5 418.2 507.5 419.6 487.5 419.2 457.5 422.3 447.5 426.3 443.5 431.2 441.1 438.5 441 442.5 446.1 446.5 447.5 452.5 444.7 472.5 445.5 474.6 449.5 471.6 453.5 471.5 455.8 472.5 457.5 474.5 453.5 475.2 452.3 476.5 452 480.5 454 484.5 445.7 488.5 443.4 492.5 445.2 494.5 457.4 500.5 459.5 502.5 459.6 504.5 451.5 506 446 508.5 447 510.5 452.9 514.5 455.6 518.5 455.5 520.6 447.5 526.3 445 530.5 445.4 534.5 446.5 536.5 453.4 542.5 454.2 544.5 453.4 546.5 449.5 548.9 443.5 549.2 437.5 546.7 431.5 541.3 430.6 542.5 433.2 548.5 437.5 553.1 445.5 557.6 455.8 560.5 451.8 562.5 447.5 563.3 439.5 563 433.5 560.7 425.5 555.3 423.5 567.7 421.5 570.4 417.5 571.9 425.2 642.5 423.8 650.5 421.5 652.6 419.5 651.1 415.2 640.5 403.5 595 374.9 640.5 371.5 643.8 367.5 645 365.5 643.9 364.6 640.5 367 634.5 380.4 612.5 398.9 588.5 399.3 586.5 394.8 578.5 387.7 560.5 386.1 552.5 385.8 540.5 392.6 516.5 398.7 484.5 405.7 466.5 409.9 452.5 411.3 442.5 409.5 438.5 407.5 439.2 406.5 438.5 408 432.5 406.3 430.5 391.5 424 385.5 424.3 381.1 426.5 374.8 432.5 352.2 462.5 341.8 474.5 337.1 482.5 333.5 492.4 327.5 515.1 324.8 538.5 323.5 541.9 321.2 544.5 317.5 545 313.5 541 307.5 541.3 303.8 546.5 299.5 547.1 295.5 544.7 290.6 538.5 284.1 524.5 280.2 506.5 280.4 498.5 283.5 482.9 273.8 488.5 267.5 497.6 263.5 501.1 241.5 508 225.5 517.5 223.8 516.5 225.5 511.3 229.1 506.5 247 494.5 250.7 490.5 255 482.5 253.5 482.1 247.5 485.1 245.5 485.3 245 484.5 254.1 466.5 258.4 460.5 285.5 434.5 311.5 411.2 315.5 409.5 319.5 409.8 323.5 414.6 327.2 404.5 329.5 402.3 343.5 405.9 345.5 405.2 347.5 406.6 349.7 406.5 351.5 404.7 355.5 405 356.7 406.5 355.8 408.5 356.1 410.5 363.7 416.5 367.5 420.9 377.5 413 387.5 409.4 391.5 409.8 399.5 413.5 408.4 420.5 413.5 426.3 415.5 426.4 430.8 418.5 423.5 406.3 422.4 406.5 422.5 412.5 419.5 414.3 417.5 414.3 411.5 411.8 403.5 403.3 402.2 406.5 399.5 408.7 393.5 405.7 375.5 404.6 361.5 401.8 351.5 393.3 351.3 394.5 349.5 396 347.5 395.5 340.7 386.5 338 380.5 339.5 379.5 345.5 386.8 347.1 386.5 344.9 380.5 344.4 374.5 345.5 368.5 350.6 356.5 354.5 352.5 361.5 349.1 384.3 322.5 403.5 306.2 407.5 306 409.5 312.2 411.5 313.1 415.5 311.7 425.5 305.4 431.5 305.3 435.5 307.2 443.5 315 456.7 324.5 481.5 346.5 487.5 354 491.2 362.5 493.7 372.5 493.5 379.6 491.5 383.2 489.5 384.4 487.5 384.4 479.5 380 477.3 380.5 476.7 384.5 479.5 394.5 476.4 398.5 462.5 406.5 451.5 407.9 447.5 404.1 437.5 397.7 437.1 400.5 439.5 412.8 453.5 410 496.7 406.5 515.5 402.9 527.5 396.5 537.5 387 553.3 360.5 555 354.5 557.8 334.5 563.2 318.5 523.5 289.3 493.5 269.3 442.7 230.5 442.2 228.5ZM611.5 333.4 613.4 336.5 611.5 342.4 590.3 366.5 585 376.5 581.5 387.2 579.5 389.1 578.2 388.5 576.9 384.5 577.5 378.8 583.5 361.5 587.7 352.5 593.5 344.5 601.5 336.7 607.5 333.2ZM415.5 396.9 414 398.5 421.5 406.2 422.3 404.5 417.5 396.8ZM671.5 419.6 673.5 418.1 675.5 419.1 674.1 430.5 674.6 434.5 679 440.5 683.5 444.7 685.5 444.9 683.8 436.5 685.5 431.9 687.5 431.8 695.5 437.2 697.5 437.7 699.5 435.2 705.5 436.3 711.5 435.7 715.5 431.5 717.5 434.5 714.9 442.5 715.5 443.1 725.5 438.7 729 440.5 730.2 444.5 728 450.5 724.6 454.5 718.3 458.5 717.1 460.5 721.5 461.6 729.5 461.1 730.4 462.5 729.5 464.5 720.1 472.5 709.3 476.5 729.8 480.5 730.6 482.5 729.4 484.5 725.5 486.7 717.5 487.5 694 482.5 679.4 474.5 667.5 464.6 661.5 454.5 659.5 446.1 661.5 444.6 675.5 457.2 672.9 450.5 671.7 444.5 672.2 434.5 669.6 424.5ZM313.5 427.4 310.7 430.5 311.5 432.3 314.7 428.5ZM487.5 436.3 491.3 436.5 494.7 438.5 498.4 444.5 497.5 449.9 495.5 452.4 491.5 454.4 491.1 452.5 493.4 450.5 494.6 446.5 494.1 442.5 491.5 439.8 487.5 439.5 485.5 440.8 483.2 444.5 483 448.5 486.1 452.5 485.5 453.2 483.5 452.8 481.5 450.9 479.8 446.5 481.5 439.9ZM405.1 444.5 399.6 464.5 389.5 489.4 388.6 486.5 388.8 480.5 391.5 464.5 403.5 444ZM541.5 490.7 551.5 494.4 560.6 502.5 564.6 510.5 565 518.5 561.4 528.5 553.5 538.5 541.5 547 537.5 548.7 533.5 549.2 527.5 546.6 517.9 538.5 514.7 534.5 511.1 524.5 510.5 510.5 513.5 501.4 519.5 495.4 529.5 491.4ZM531.5 509.8 529.2 512.5 530.3 520.5 531.2 522.5 533.5 524.1 537.5 523.9 541.1 520.5 541.7 514.5 539.5 511 537.5 509.7ZM695.6 536.5 697.5 534.7 701.5 535.8 705.8 538.5 705.6 540.5 703.5 541.6 699.5 541.5 697.5 540.5ZM259.5 564.5 261.1 560.5 264.5 556.5 274.1 550.5 283.5 546.2 287.5 546.9 299.5 553.2 307.5 554.6 311.5 557.8 312.9 562.5 312.5 564.5 309.5 567 304.9 568.5 297.5 569.3 283.5 568.1 265.5 569 261.5 567.4ZM646.5 558.5 651.5 556.5 661.2 556.5 668.5 558.5 668.9 560.5 663.5 560.7ZM669.5 568.3 687.9 578.5 690.5 582.5 690.4 588.5 687.5 592.5 685.5 592.7 681.5 590.3 671.6 580.5 665.5 577.9 655.5 578.4 649.9 580.5 649.5 581.7 647.4 582.5 654 584.5 655.2 586.5 654.9 588.5 641.6 604.5 639.4 610.5 639.6 616.5 640.8 620.5 643.5 624 647.5 626.1 656 628.5 656.1 630.5 651.5 633.2 645.5 633.9 637.5 631.1 627.5 623.7 626.8 626.5 628.1 632.5 630.2 636.5 635.5 641.4 644 646.5 644.9 648.5 637.5 649.3 629.5 646.2 617.3 636.5 612.5 630.5 611.5 625.8 610.8 626.5 611.2 630.5 614.4 638.5 621.5 648.2 631.5 655.3 649.2 664.5 647.8 666.5 643.5 668 633.5 668.9 623.5 666.8 615.5 663.2 608.9 658.5 602.8 652.5 598.7 646.5 596.7 640.5 595.5 626.5 595.8 614.5 597.7 604.5 601.5 593.9 615.5 575.1 621.5 570.9 624.4 570.5 614.6 584.5 611 592.5 608.1 610.5 608.2 618.5 609.5 625.1 610.4 622.5 610.9 608.5 612.9 602.5 621.5 587.6 627.3 580.5 637.5 573.1 649.4 568.5 661.5 566.5ZM213 592.5 219.5 582.2 225.5 577.6 229.5 576.8 239.5 577.5 259.5 574.7 289.5 577.3 303.5 581.2 319.5 582.7 329.5 585.7 337.1 590.5 342.7 596.5 357 624.5 359.2 632.5 359.7 642.5 356 656.5 353.5 657.1 347.9 650.5 332 616.5 327.1 602.5 324.2 598.5 321.5 597.7 315.5 601.9 305.5 606 300.9 606.5 307.5 607 311.5 608.4 315.5 611.8 319.1 616.5 320.5 620.5 320.3 624.5 318.3 628.5 315.5 631.4 311.5 633.5 310.6 632.5 312.2 626.5 311.9 622.5 310 618.5 307.5 616.3 299.5 613.4 291 614.5 289.5 610.9 283.5 612.9 275.5 617.8 268.2 626.5 264.3 634.5 259.5 649.2 253.5 660.2 249.5 662.9 245.5 662.9 243.5 664.5 241.5 669 239.5 669.8 235.5 668.8 230.2 664.5 227.4 660.5 215.5 627.6 214.2 628.5 213.8 630.5 214.8 640.5 213.5 641.6 211.5 636.6 209.5 628 209 620.5 210.2 602.5ZM691.5 576.2 693.5 576.2 697.6 580.5 697.5 582.8 695.5 582.7 691.2 578.5ZM519.5 591.5 521.8 594.5 521 600.5 514.3 602.5 513.5 605 511.5 604.8 504.6 598.5 503.8 594.5 505.5 592.8 511.5 593.9 515.5 591 517.5 590.6ZM671.5 595.6 673.5 595.5 675.6 598.5 675.5 602.7 673.5 603.7 671.5 600ZM285.5 622.8 287.5 621.8 295.5 631.4 305.1 636.5 303.8 638.5 299.5 641.8 295.5 642.6 289.5 640.9 286.2 638.5 283.1 634.5 282 630.5ZM528.4 654.5 527.9 656.5 516.8 668.5 512.5 676.5 509.9 688.5 511.5 702.4 505.5 693.7 503.5 687.7 503 680.5 504.7 672.5 509.5 663.7 514.9 658.5 523.5 654.7ZM451.9 660.5 452.3 658.5 461.5 656.8 469.5 658.5 472.4 660.5 471.5 662.5 468.5 664.5 461.5 665.7 455.5 664.5ZM527.5 671.5 528.4 672.5 527.7 680.5 531.3 688.5 533.1 696.5 537.8 704.5 537 706.5 531.5 706.4 525.5 703.1 521.5 698.8 518.7 692.5 517.8 686.5 519.5 679.3 523.5 673.7ZM425.5 703.1 427.5 702.6 429.5 704.7 434.2 714.5 436 722.5 435.5 725.8 433.5 727 429.5 722.5 425.4 712.5 424.6 706.5ZM517.5 707 534 716.5 534.3 718.5 529.5 718.6 525.2 716.5 516.7 708.5ZM556.4 736.5 556.5 738.5 545.5 750.6 541.5 753.2 537.7 752.5 536.9 750.5 538.1 746.5 545.5 737.9 551.5 736.1ZM485.5 751 489.5 750.6 491.5 751.6 497.5 757.2 507.5 761.9 511.5 765.6 514.1 770.5 515.3 776.5 515.4 790.5 517.6 806.5 518.8 824.5 517 832.5 513.5 836 509.5 836.7 505.5 835.6 501.1 832.5 497.6 828.5 494 820.5 493.8 818.5 496 816.5 495.8 814.5 482.4 794.5 478.6 786.5 478.3 784.5 479.5 782.5 487.5 789.3 488.5 788.5 485.3 776.5 481.3 768.5 480.3 764.5 480.5 758.5 481.5 755Z" fill="#00df00"/>
<path d="M447.5 229.6 457.3 234.5 479.5 251.1 509.5 269.8 569.5 311 573.5 308.2 577.5 309.1 579.7 312.5 579.6 318.5 590.4 330.5 588.1 330.5 579.5 327.2 572.1 350.5 556.2 380.5 546.4 392.5 527.5 407 517.5 413.2 511.5 415.5 503.5 417.1 483.5 418.1 457.5 421.5 449.5 424.1 444.2 428.5 441.3 434.5 439.2 444.5 443.5 446.5 445.1 450.5 445.2 454.5 436.3 496.5 437.5 498.1 443.5 497.8 449.5 499 452.8 500.5 454.1 502.5 445.5 506.7 440 510.5 441.5 512.2 449 514.5 451.6 518.5 445.3 526.5 443.5 530.5 444.6 536.5 449.8 544.5 448.3 546.5 445.5 547.2 439.5 545.9 433 540.5 429.5 532.8 428.4 534.5 428.1 538.5 431.5 547.9 435.5 553 446 560.5 441.5 561.5 436.4 560.5 431.5 558.1 423.5 552.1 421.5 565.7 419.5 567.7 415.5 568.1 420.3 624.5 419.5 634.9 417.5 635.3 415.5 631.1 403.5 591.2 383.8 622.5 373.5 635.3 369.5 638 369.5 635.5 383.5 610.7 395.5 594.8 401.9 588.5 396.3 576.5 389 556.5 387.5 546.5 387.3 536.5 392.4 518.5 398.7 486.5 409.5 456.3 414.8 434.5 422 426.5 432.9 418.5 429 414.5 418.8 396.5 417.5 395.6 411.5 396 408.8 394.5 411.5 391.3 416.7 388.5 417.5 386.3 419.5 385.1 423.5 385.2 435.2 394.5 435.8 396.5 434.9 398.5 437.9 406.5 438.3 414.5 439.5 414.9 449.5 412 504.1 406.5 511.5 405 521.5 401.2 531.5 394.7 537.5 389.3 545.5 379 551.9 368.5 557.5 356.5 561 338.5 566.6 320.5 565.8 318.5 474.6 254.5 444.5 230.5 445.5 229.4ZM351.5 366.3 353.5 360.5 356.1 356.5 361.5 352.3 365.1 346.5 379.5 329.4 392.1 316.5 401.5 308.5 405.5 306.7 407.6 308.5 404.9 316.5 407.5 320.1 409.5 320.8 417.5 320 421.3 318.5 425.1 312.5 427.5 311 429.5 310.8 434 312.5 441.5 321.2 453.5 328.9 478.6 348.5 483.6 354.5 486.1 362.5 485.5 365.4 483.5 366.5 471.5 363.1 459.5 357.5 447.5 353.9 435.5 352 423.4 352.5 423.5 354.5 434.4 368.5 434.6 370.5 433.5 371.8 431.5 372 421.5 362.3 420.3 362.5 425.5 370.1 429.5 374.1 441.5 381.3 455.5 383.2 462 386.5 465 392.5 465 396.5 463.5 398.7 459.5 400.7 455.5 400.4 452 398.5 449.5 395.9 445.5 389 441.5 385.1 413.5 379.8 407.5 377.6 403.5 373.2 398.5 364.5 394.1 354.5 391.5 344.5 389.5 343.6 381.5 345.2 377.5 345 370.3 350.5 372.5 358.5 377.4 368.5 377.5 371.7 375.5 373.6 357.5 379.4 353.5 377.1 351.5 373.9ZM609.5 334.6 611.6 336.5 611.6 338.5 609.7 342.5 585.5 367.7 585.4 364.5 587.5 357.5 592.5 348.5 601.3 338.5 605.5 335.6ZM381.5 369.2 386.9 374.5 393.5 384.9 397.5 384.1 399.5 385.5 399.6 388.5 397.5 389.6 397.4 392.5 400.7 400.5 401 404.5 399.5 407 397.3 406.5 392.7 400.5 379.7 374.5 379.8 370.5ZM407.5 396.1 411.5 397.2 417.5 402.7 422 408.5 421.4 412.5 417.5 413.6 411.4 410.5 405.4 402.5 404.5 398.5ZM401.9 416.5 407.8 422.5 408.6 424.5 407.6 426.5 403.5 426.7 389.5 422.9 383.5 424 379.2 426.5 373.1 432.5 339.5 475.2 333.5 486.2 329.5 497.2 323.9 534.5 321.5 540.2 319.5 541.7 317.5 541.8 315.5 540.3 313.5 535.8 311.6 534.5 311.7 506.5 312.6 500.5 311.5 494.5 308.4 486.5 307.5 486 305.5 487.6 301.5 495.1 300.4 502.5 301 512.5 304.9 526.5 305.6 536.5 305.1 540.5 303.5 543.8 301.5 545.1 299.5 545.2 295.5 543 289.5 535 285.5 526.4 282.7 516.5 281.5 504.5 282.4 494.5 285.3 482.5 288.5 472.5 293.6 462.5 293.5 460.3 287.5 462.8 281.5 471.7 277.5 474.9 271.5 476.1 263.5 473.9 255.5 477.1 253.9 476.5 254.6 472.5 261.5 460.7 287.5 434.2 295.5 427.5 299.5 426.2 311.5 414.9 315.5 413.4 317.5 414.2 318 416.5 316.1 420.5 297.5 442.8 277.3 462.5 277.5 463.4 279.5 463.5 285.5 460.9 291.9 454.5 303.5 445.2 321.4 424.5 329.5 409.2 331.5 407.6 337.5 409.8 345.5 408.6 349.5 412.2 357.5 414.5 362.6 418.5 365.6 422.5 367.5 423.3 376.5 414.5 385.5 410.7 393.5 411.5ZM688.8 440.5 689.5 439.1 691.5 439.3 713.5 447.3 723.5 446.5 724.1 448.5 721.8 452.5 715.5 456.3 709.5 457.6 703.5 457 697.8 454.5 693.5 450.9 689.4 444.5ZM702.4 440.5 703.5 439.2 711.5 439.3 712.1 440.5 709.5 442.6 705.5 443.6ZM495.5 440.8 497.5 443.6 497.9 446.5 495.5 450.8ZM677.5 450.5 679.5 448.5 691.5 455.2 713.1 464.5 716.3 466.5 717 468.5 715.4 470.5 709.5 472.6 703.5 472.5 697 470.5 690.2 466.5 683.1 460.5 679.5 455.6ZM449.5 473.5 451.7 474.5 450.4 478.5 451.3 482.5 449.5 484.2 446.7 482.5 445.8 478.5 447.5 474.6ZM535.5 491.8 545.5 493 553.5 497.6 559.8 504.5 561.9 508.5 563.2 514.5 561.5 524.5 555.5 533.8 547.5 540.6 537.5 544.3 529.5 542.6 518.2 534.5 513.9 526.5 512.5 516.5 513.5 506.5 517.5 499.8 524.9 494.5ZM531.5 508.2 527.9 510.5 526.8 512.5 526.9 518.5 528.4 522.5 530.3 524.5 535.5 525.8 539.5 523.9 541.5 521.5 542.7 518.5 542.6 514.5 540.2 510.5 537.5 508.7ZM269.4 560.5 271.2 556.5 273.4 554.5 281.5 550.6 285.5 549.8 290.4 550.5 305.7 558.5 306.7 560.5 306.5 562.5 304.7 564.5 297.5 566.1 283.5 564.1 273.5 564.5 269.8 562.5ZM649.5 574.2 629.5 590.3 625 596.5 623.6 608.5 625.6 636.5 623.5 637.1 617.5 632.6 613.3 624.5 612.4 612.5 615.1 602.5 625.5 586.4 631.1 580.5 637.1 576.5 642.5 574.5ZM213.5 594.9 219.5 585.5 225.5 580.5 257.5 576.3 287.5 578.9 303.5 582.3 321.5 584 327.5 585.9 337.5 592.5 341 596.5 344.4 602.5 352.5 622.5 354.9 630.5 356.3 642.5 355.5 651.8 353.5 654.1 349.5 650.1 328.6 602.5 325.5 597.9 321.5 595.5 315.5 599.8 295.5 606.2 279.5 613.4 274.8 616.5 269.2 622.5 265.4 628.5 257.5 649.9 252.6 658.5 249.5 661 243.5 660.7 241.5 662.5 239.5 666.6 235.5 666.2 231 662.5 227.5 656.4 212.6 614.5 211.3 604.5ZM647.5 587.3 649 588.5 648.9 590.5 639.9 602.5 638 606.5 636.9 614.5 638 624.5 637.5 625.6 635.5 625.8 631.5 623.7 627.4 618.5 626.4 612.5 627.5 606.8 633.5 594.8 637.5 590 643.5 587ZM605.5 594 606.8 596.5 605.4 612.5 605.8 620.5 610.2 634.5 614.3 642.5 619 648.5 636.1 662.5 634.6 664.5 625.5 663.8 615.5 658.9 606.3 650.5 601.2 642.5 598.9 632.5 598.6 614.5 601.5 600.7ZM515.5 594.6 517.9 596.5 517.8 600.5 515.1 600.5 513.8 598.5 513.7 596.5ZM304.5 610.5 307.5 609.9 309.9 610.5 315.5 616.1 317.5 619.6 317.8 622.5 315.5 626.3 312.8 616.5 309.5 613.3ZM287.1 626.5 289.5 627.5 295.9 634.5 296.6 636.5 291.5 636.3 287.5 633.5 286.1 630.5ZM517.5 662.1 510.5 674.5 507.5 682.5 505.8 680.5 507.5 671.8 513.5 663.4 515.5 662ZM521.5 684.1 523.5 683.8 526.1 688.5 528.3 696.5 527.5 699.2 523.5 696.9 521.5 693.7 520.5 688.5ZM429.5 709.6 432.1 716.5 431.5 720.6 428 710.5ZM503.5 767.4 506.8 768.5 509 770.5 511.5 776.3 512.9 790.5 517 814.5 517.2 828.5 515.5 832.5 511.5 835.1 505.5 833.8 500.6 828.5 498.2 822.5 498 816.5 485.1 796.5 481.1 788.5 481.5 785.9 493.5 797.3 491.5 788.9 492.6 780.5 497.8 770.5 500 768.5Z" fill="#00f000"/>
<path d="M449.5 231.9 458.8 236.5 481.5 253.3 507.5 269.5 569.5 312.8 573.5 310.8 575.5 310.8 577.9 314.5 577.7 318.5 584.9 326.5 583.5 326.9 577.5 324.5 572 346.5 559.5 372.5 548.7 388.5 535.1 400.5 520 410.5 511.5 414.1 503.5 415.7 481.5 417.4 455.5 421.1 447.5 424.2 442 430.5 437.4 448.5 441.5 448.8 442.8 452.5 442.5 456.5 432.2 500.5 433.5 501.9 439.5 500.2 445.9 500.5 447.8 502.5 439.5 508.6 433.5 514.5 429.5 520.7 427.3 526.5 426.5 534.5 427.8 542.5 430.3 548.5 436.2 556.5 435.5 557.4 431.5 556.1 423.5 548.8 421.5 550.3 419.5 562 417.5 563.2 415.5 561.8 414 564.5 414.3 580.5 417.2 610.5 416.7 616.5 415.5 619.2 404.8 590.5 399.1 578.5 392.2 560.5 389.6 550.5 388.4 538.5 389 532.5 392.8 518.5 399.1 486.5 416.2 436.5 422.5 428.5 428.9 422.5 435.5 417.6 443.5 414.3 507.5 406.8 519.5 403.1 531.5 396 537.5 390.8 544.6 382.5 556.4 362.5 562.1 346.5 568.7 320.5 567.7 318.5 475.5 254.5 448.5 232.5ZM405.6 308.5 405.5 311.5 398.8 322.5 387.5 334.5 367.5 350.1 365.5 349.4 366.8 346.5 387.5 322.4 403.5 308.6ZM449.5 335.8 453.5 338.5 463.8 350.5 465.9 354.5 465.8 356.5 460.7 352.5 449.5 338.4ZM609.5 338.3 607.6 342.5 603.5 346.7 595.5 353 593.5 353.4 595.2 348.5 601.5 340.5 607.5 336.7ZM416.6 352.5 417.5 351.8 419.5 352.9 426.4 362.5 425.5 362.8 417 354.5ZM383.5 373.6 389.5 381.4 395.6 392.5 399.5 401.8 399.5 404.6 397.5 404.8 395.5 402.5 383.5 378 382.5 374.5ZM412.3 392.5 418.4 390.5 421.5 387.9 425.5 389 433.8 394.5 434 398.5 437.4 408.5 437.3 412.5 435.5 415.6 433.5 416.3 429.5 413.8 419.5 394.7 411.5 394.5ZM406.9 398.5 409.5 398.1 418.5 404.5 421.3 408.5 421.5 410.5 420 412.5 415.5 412.3 410.2 408.5 406.6 402.5ZM400.6 416.5 405.8 422.5 405.7 424.5 401.5 424.9 392.9 422.5 387.5 422.2 381.5 424 377.5 426.5 371.5 432.5 337.5 475.8 329.5 493 327.5 501.4 323.5 530.5 321.5 536.1 319.5 538.3 317.5 538.5 315.7 536.5 314.4 532.5 312.8 522.5 312.8 510.5 314.4 496.5 321.5 476 317.5 472.1 311.5 478 302.3 490.5 299.5 500.5 300.2 512.5 304 530.5 303.9 538.5 301.5 542.7 299.5 543.2 295.5 541.3 289.5 533.2 284.9 522.5 282.5 510.5 282.6 498.5 285.5 485.7 290.4 472.5 299.5 455 308.5 442.5 329.5 419 335.5 414.2 341.5 411.5 345.1 412.5 345.7 414.5 344.8 420.5 343.5 422.9 353.5 419.5 357.5 420.3 360.1 422.5 361.3 426.5 358.3 432.5 359.5 433.5 373.1 418.5 381.7 412.5 387.5 411.1 391.5 411.6ZM298.2 428.5 298.9 430.5 294.9 434.5 295.5 436.4 297.5 436.2 295.5 438.7 294.2 438.5 295.4 436.5 293.5 435.8 268.6 460.5 269.5 462 271.4 462.5 267.5 465.8 266.6 464.5 264.8 464.5 266.6 466.5 265.5 467.1 261.5 465.6 260.8 464.5 261.5 462.4 277.5 445.5 293.5 430.3 296.3 428.5ZM529.5 494.5 539.5 493.2 547.5 495.3 552.4 498.5 556.4 502.5 560.7 510.5 561.3 518.5 558.7 526.5 551.5 535.2 543.5 539.8 535.6 540.5 529.7 538.5 521.1 532.5 517.1 526.5 515.2 514.5 516.3 506.5 518.4 502.5 521.5 499ZM527.2 508.5 524.1 512.5 523.5 516.5 524.3 520.5 526.5 524.5 531.5 527.7 535.5 527.5 539.5 525.5 542.1 522.5 543.6 518.5 543.4 514.5 541.5 510.6 535.5 506.8 531.5 506.7ZM441.5 515.4 445.5 516.1 447.4 518.5 441.9 530.5 441.9 534.5 444.7 542.5 443.5 543.9 441.5 544 437.5 542.1 434 538.5 432.1 534.5 431.3 528.5 432.6 522.5 435.2 518.5 437.8 516.5ZM214.7 596.5 219.5 588.5 223.5 584.4 226.7 582.5 255.5 577.4 269.5 578 301.5 583.2 318.4 584.5 325.5 586.2 335.6 592.5 339.5 596.7 342.9 602.5 352 628.5 354.1 640.5 354 648.5 353.5 649.9 351.5 649.6 349.5 646.8 329.1 600.5 325.8 596.5 321.5 593.8 319.5 594 317 596.5 313.5 598.2 295.5 603.9 273.5 615.3 268.4 620.5 264.3 626.5 255.5 649.2 251.5 656.4 247.5 658.9 239.5 658.2 238.1 662.5 235.5 662.9 232.4 660.5 229.5 656.1 216.4 620.5 213 608.5 213.2 602.5ZM617.5 605.7 619.5 606.1 620.8 622.5 619.5 627.7 617.5 626.5 615.5 622.4 614.9 618.5 615.4 610.5ZM389.5 606.8 389.5 609.7 385.5 615.2 384.6 614.5 385.3 612.5ZM603.5 632.6 605.5 633 617.1 652.5 615.5 652.9 607.5 645.3 603.5 636.5ZM503.5 781.8 505.5 782.8 507.5 785.6 509.5 790.8 515.8 814.5 516.7 822.5 516.1 828.5 513.8 832.5 511.5 833.7 507.5 833.3 502.5 828.5 500.3 822.5 500.4 818.5 486.2 794.5 487.5 794 497.5 805.6 498.3 804.5 496.9 798.5 497.5 790 499.5 784.5 501.5 782.4Z" fill="#bfff5f"/>
<path d="M461.5 239.8 481.5 254.2 513.5 274.5 567.5 313 571.5 315.3 573.5 314.1 575.1 314.5 575.7 318.5 579.7 322.5 575.3 322.5 573.9 334.5 569.7 348.5 555.5 376.7 545.5 390.1 535.6 398.5 521.1 408.5 511.5 412.9 503.5 414.6 457.5 419.7 447.5 423.2 442.2 428.5 439.5 434.5 435 452.5 435.5 454.7 437.5 453.4 439.2 454.5 439.4 458.5 428.7 504.5 429.5 506.6 437.5 503 439.5 503 440.6 504.5 431.4 514.5 426.4 524.5 425.1 534.5 427.9 548.5 427.5 549.9 425.5 548.6 421.5 542.6 419.7 544.5 417.5 550.6 415.5 550.3 413.5 546.2 412.1 560.5 412.5 580.5 414.1 598.5 413.5 604.7 411.5 602.2 401 578.5 394.1 560.5 391 548.5 389.5 534.5 399.5 486.5 416.8 438.5 422.5 430.5 428.2 424.5 433.5 420.3 441.5 416.1 449.5 414.2 509.5 407.5 521.5 403.6 531.5 397.8 537.5 392.8 546.5 382.5 556.1 366.5 562.5 350.5 570.8 320.5 565.5 315.4 545.1 302.5 487.5 262.5 466.7 246.5 460 240.5ZM402.8 312.5 397.5 321.2 389.5 330.7 381.4 338.5 373.5 343.2 372.9 342.5 375.5 337.9 387.5 324.1 401.5 311.9ZM418.1 392.5 423.5 390.7 431.3 394.5 436.4 406.5 436.7 410.5 435.5 414 433.5 415.1 429.5 412.5 423.2 400.5 421.3 394.5ZM407.9 400.5 409.5 399.6 415.5 402.5 419.5 406.5 420.6 410.5 419.5 411.8 417.5 412.1 413.5 410.5 409.6 406.5 407.8 402.5ZM396.7 414.5 401.5 418.5 403.5 422.6 401.5 423.4 391.5 421.6 385.5 421.8 381.5 423 375.7 426.5 364.7 438.5 336.9 474.5 331.5 484.8 328.2 494.5 324 522.5 322.1 530.5 319.5 534.8 317.5 534.7 315.5 531.4 313.7 520.5 313.8 508.5 315 498.5 319 486.5 328.4 470.5 341.5 453.5 349.5 447 359.7 436.5 376.5 416.5 381.5 413.3 387.5 411.8 391.5 412.2ZM339.5 415.8 341.1 416.5 340.9 420.5 330.1 446.5 322.2 460.5 304.5 484.5 300.3 492.5 298.9 498.5 298.7 506.5 302.4 526.5 303 534.5 301.5 539.8 299.5 541.1 297.5 540.8 293.5 537.5 289.5 531.5 286.4 524.5 284.1 516.5 283.1 500.5 287 484.5 297.1 462.5 307.5 446.5 329.5 422.1 335.5 417.4ZM529.8 496.5 537.5 494.8 545.5 496.1 553.5 501.6 558.3 508.5 559.8 516.5 557.7 524.5 551.5 532.5 545.5 536.2 537.5 537.1 532.3 534.5 531.7 532.5 539.5 527.6 542.3 524.5 544.2 520.5 544.7 516.5 542.7 510.5 537.5 506.1 531.5 504.8 521.5 507.1 521.4 504.5 524 500.5ZM441.5 520 442 522.5 440 528.5 438.7 536.5 437.5 537.4 435.5 535.5 434.4 532.5 434.4 526.5 437.5 521.1ZM216 600.5 219.5 592.7 225.5 586.2 237.5 581.5 249.5 579 259.5 578.2 269.5 578.8 299.5 583.9 322.1 586.5 327.4 588.5 333.5 592.6 337.6 596.5 341.4 602.5 349.6 626.5 351.6 636.5 351.5 643.7 347.5 637.5 329.5 598.5 323.5 593.1 319.5 591.5 315.5 591.6 312.4 594.5 297.5 599.4 269.9 614.5 265.9 618.5 262 624.5 249.5 651.8 246.1 654.5 243.5 654.8 237.5 652.7 235.5 656.8 233.5 656.5 229.5 649.9 218.3 620.5 215.3 608.5ZM503.5 796.9 505.5 796.6 509.5 801.3 514.4 814.5 515.5 826.5 513.9 830.5 511.5 832.3 507.5 831.8 504.2 828.5 502.4 824.5 501.7 818.5 497.2 810.5 497.2 808.5 499.5 810.4 500.9 808.5 501.4 800.5Z" fill="#efff5f"/>
<path d="M484.1 258.5 486.9 258.5 509.2 272.5 559.6 308.5 559.5 309.8 543.5 300.5ZM393.5 321.4 393.9 322.5 389.5 328.2 381.5 335.5 380.8 334.5 385.5 328.6ZM571.5 327.3 571.5 335.3 567.5 347.9 566.6 346.5 567.5 341.1ZM425.5 393.5 427.5 394.2 431.5 397.7 435.1 404.5 435.9 410.5 435.2 412.5 433.5 413.8 431.5 413.2 429.5 411.2 425.1 402.5 423.4 396.5 423.6 394.5ZM409.5 402.1 411.5 401.4 416.9 404.5 419.8 408.5 419.7 410.5 417.5 411.4 413.5 409.7 410.6 406.5ZM517.2 408.5 507.5 412.5 479.5 415.3 455.5 419 447.5 422 443.5 425.2 441.1 428.5 438.6 434.5 430.9 462.5 431.5 465.2 433.9 464.5 434.2 468.5 424.4 512.5 425.5 513.9 429.5 509.9 431.3 510.5 425 522.5 422.5 534.5 421.5 536 419.5 531.7 417.5 536.7 415.5 537.2 413.5 534 410.6 552.5 409.5 586.8 407.5 585.6 401.5 574.6 395.3 558.5 392.3 546.5 390.8 532.5 399.5 487.7 413.5 448.3 417.5 439.6 424.1 430.5 429.8 424.5 435.5 420.2 443.5 416.5 505.5 409.7 515.5 407.9ZM401.4 420.5 399.5 422.1 389.5 420.8 383.5 421.4 371.4 426.5 375.7 418.5 380.8 414.5 385.5 412.6 389.5 412.5 395.4 414.5 398.3 416.5ZM333.5 423.7 334.9 424.5 334.5 428.5 327.5 446.5 319.7 460.5 302.9 484.5 299.2 492.5 298.1 498.5 298 506.5 301.9 532.5 301.2 536.5 299.5 538.7 297.5 538.8 295.5 537.7 291.5 533.2 287.5 525.5 285.3 518.5 283.6 504.5 285.5 492.2 293.5 472.4 305.5 452.1 323.5 431.6 329.5 426ZM358.3 442.5 355.5 448 336.6 472.5 332.2 480.5 327.3 494.5 322.1 526.5 319.5 531.2 317.5 530.9 314.8 522.5 314.4 508.5 315.7 498.5 319.5 487.8 325.5 477.3 335.5 464.8 353.5 445.6 357.5 442.1ZM533.5 498.1 539.5 496.8 546.6 498.5 552.1 502.5 556.4 508.5 558 514.5 557.3 520.5 553.5 527.4 547.5 532 543.5 533 541.3 532.5 541 530.5 545.1 522.5 545.5 514.5 544.2 510.5 541.5 507.1 531.1 500.5ZM219.5 617.3 218.5 606.5 223.1 590.5 237.7 582.5 253.5 579.4 267.5 579.4 281.5 581.3 306.8 586.5 309.3 588.5 295.5 591.5 282.7 592.5 281.6 594.5 283.1 598.5 282.7 600.5 281.3 602.5 275.5 605.5 269.5 605.5 263.5 600.5 261.5 601.6 253.8 602.5 247.5 604.5 235.5 611.9 229.5 610.1 227.5 615 226.5 626.5 225.5 629 221.5 622.7ZM329.8 594.5 331.5 594.2 335.5 597.2 339.5 602.6 345.5 621.9 345.5 626.5ZM245.5 630.9 246.3 634.5 245.4 638.5 241.5 644 239.5 643.6 238.2 640.5 239.5 635 243.5 631ZM505.5 805.7 507.5 805.8 509.5 807.6 513.6 816.5 514.3 826.5 513.5 828.8 511.5 830.8 507.5 830.2 503.8 824.5 502.6 814.5 503.5 808.3Z" fill="#f5e030"/>
<path d="M426.5 396.5 429.5 397.4 433.5 402.5 435.1 408.5 433.5 412.3 430.2 410.5 427.5 405.8 425.3 398.5ZM411.5 403.2 415.5 404.2 417.9 406.5 418.9 408.5 417.7 410.5 413.1 408.5 411.5 406.5ZM376 420.5 379.3 416.5 382.3 414.5 387.5 413 391.5 413.6 395.5 415.5 398.9 418.5 399.1 420.5 387.5 420.2 377.5 422.1ZM449.5 417.2 451.9 418.5 443.5 423.6 439.1 430.5 423.5 480.8 422.8 486.5 421.2 490.5 421.5 492.8 423.7 490.5 423.5 497.6 421.5 507.3 419.5 511.8 418.3 510.5 417.5 506.4 417.1 512.5 415.5 514.3 409.2 548.5 407.5 571.8 405.5 574.7 401.5 568.4 396.8 556.5 393.7 544.5 392 532.5 399.5 489.1 413.5 450.2 421 436.5 427.3 428.5 433.9 422.5 441.5 418.4ZM325.5 434.9 327.5 436.1 327.3 438.5 323.5 448.9 316 462.5 302.4 482.5 298.1 492.5 297.2 506.5 300.8 530.5 299.5 535.7 297.5 536.6 295.5 535.9 291.5 531.4 286.5 520.5 284.3 506.5 285.5 495.5 291.5 479.7 303.5 458.3 313.5 445.4ZM334 470.5 334.1 472.5 326.8 492.5 321.5 524.5 319.5 527.7 317.5 527.2 315.5 521.3 315.2 504.5 316.9 496.5 323.5 482.2 329.5 474.5ZM539.9 500.5 543.5 500.1 548.9 502.5 552.9 506.5 555.1 510.5 556 514.5 555.5 519.1 553.5 523.2 549.5 526.6 547.5 525.8 546.7 512.5 544.9 508.5 540.1 502.5ZM221.5 612.1 221.5 603.6 223.7 596.5 223.9 592.5 225.2 590.5 235.7 584.5 241 582.5 255.5 580 269.5 580.3 291.7 584.5 297.8 586.5 298.9 588.5 291.5 590.6 279.5 592 269.5 597.1 247.5 603.1 235.5 609.8 231.5 609 227.5 605.8 223.5 615.1ZM507.5 811.3 509.5 812.4 511.5 815.6 513.2 822.5 511.8 828.5 509.5 829.3 506.3 826.5 504.9 822.5 505.5 812.6Z" fill="#ffbf00"/>
<path d="M427.5 399.8 429.5 399.5 433.4 404.5 433.5 410.4 431.5 410.4 429.5 407.9 427.4 402.5ZM413.3 404.5 416.8 406.5 417.5 409 415.5 409.1 412.8 406.5ZM379.4 418.5 384.2 414.5 387.5 413.7 392.2 414.5 397.3 418.5 395.5 419.5 381.5 419.6ZM443.1 420.5 437.9 430.5 420.9 484.5 413.3 516.5 405.5 559.3 403.5 562.6 401.5 560.6 397.5 551.4 393.3 530.5 393.5 524.3 399.5 490.9 403.5 478.1 413.5 452.2 417.5 444 425.4 432.5 431.5 425.9 437.5 421.7ZM319.5 446.9 319 450.5 315.5 458.5 302.6 478.5 297.9 488.5 296.5 494.5 296.3 504.5 299.7 528.5 298.9 532.5 297.5 534.2 295.5 533.8 289.7 526.5 286.7 518.5 285 506.5 286.2 496.5 291.5 483.3 303.5 462.3 313.5 449.7 317.5 446.5ZM327.5 480 328.3 482.5 325.9 492.5 321.5 520.9 319.5 524.5 317.5 523.6 316.2 518.5 316.1 502.5 317.5 496.8 321.5 487.9ZM549.5 509.3 551.5 510.4 552.2 512.5 551.5 517.3 549.5 512.3ZM225.6 596.5 226.2 592.5 238.6 584.5 255.5 580.8 265.5 580.7 279.6 582.5 292.4 586.5 292.6 588.5 277.5 591.5 266 596.5 247.5 601.2 235.5 607.7 231.5 606.8 228.9 604.5 226.4 600.5ZM507.5 817.3 509.5 817.4 511.5 822 511.5 824.7 509.5 826.8 507.5 825 506.8 822.5Z" fill="#ff9520"/>
<path d="M431.5 403.9 432.2 406.5 431.5 408 429.5 404.5ZM383 416.5 387.2 414.5 389.5 414.5 393.8 416.5 393.7 418.5 384 418.5ZM437.5 424.3 437.8 426.5 431.7 448.5 418.2 488.5 405.5 543.8 403.5 549 401.5 550.1 397.5 542.2 394.7 526.5 397.5 503.8 401.5 485.5 413.5 454.2 417.5 446.3 427.5 431.8 433.5 426.1ZM295.5 482.1 296.3 484.5 295.3 494.5 295.6 504.5 298.6 526.5 297.5 531.1 295.5 531.6 291.5 527.9 288.8 522.5 286.6 514.5 285.8 506.5 287.5 495.6 291.5 487.5ZM323.5 487.7 324.9 488.5 323.8 504.5 321.5 516.5 319.5 521.1 317.3 518.5 316.4 504.5 319.5 494ZM235.8 588.5 242.3 584.5 259.5 581.3 275.2 582.5 283.7 584.5 287.9 586.5 287.4 588.5 275.5 590.4 238.2 590.5 237.5 591.3ZM233.7 596.5 235.5 594.5 240.1 592.5 245.5 591.8 251.6 592.5 237.5 598.7 234.6 598.5Z" fill="#ff7840"/>
<path d="M433.5 429.2 434.2 432.5 431.5 445 417 486.5 405.5 533.9 403.5 538.3 401.5 539.7 399.5 537.7 397.5 532 396.3 522.5 397.5 508.9 401.5 487.8 405.5 476 415.5 452.4 425.5 436.5 429.5 431.9ZM291.5 492.3 293.5 493.9 297.4 522.5 297.3 526.5 295.5 529.1 293.5 528.2 289.5 521.9 286.9 510.5 287.5 499.4ZM321.5 493.3 323.5 495.4 323.5 500.9 321.5 512.3 319.5 516.9 317.5 513.8 317.1 504.5 319.3 496.5ZM243.4 586.5 253.5 583 261.5 582.1 275.5 583.5 283.8 586.5 282.3 588.5 273.5 589.5 257.5 589Z" fill="#ff4010"/>
<path d="M429.5 435.3 431.4 436.5 429.5 446.4 416.2 482.5 405.5 522.8 403.5 527.9 401.5 529.1 399.2 524.5 398.6 514.5 399.5 503.5 403.5 484.3 415.5 455.5 423.5 442.2ZM321.5 496.5 322.2 504.5 321.5 508.7 319.5 512.5 317.9 508.5 317.9 504.5 319.5 498.4ZM291.5 497.4 293.5 503.7 295.8 518.5 295.5 525.6 293.5 525.8 291.5 523.5 288.1 512.5 288.2 502.5 289.5 498.5ZM252.4 586.5 253.1 584.5 261.5 583.2 275.4 584.5 279.6 586.5 275.5 588.4 271.5 588.6Z" fill="#e60000"/></g>
<g shape-rendering="crispEdges" clip-path="url(#fc)"><path d="M456.9 234.7L455.8 233.6M463.1 239.4L461.8 238M470.2 243.5L468 241.8M488.2 256L487.6 255.5M495 260.4L493.6 259.5M502.4 264.8L499.2 263.1M508.9 269.1L505.4 267.3M515.2 273.5L511.6 271.7M521.5 278.1L517.7 276M527.5 282.5L524.2 280.6M533.5 287.1L530.5 285.1M540.1 292.5L535.9 289.2M545.4 296.9L542.6 294.1M552.4 301.5L548.4 298M558.6 305.6L554.9 302.5M564.5 310L561.3 307.1M569 315.7L567 311.9M573.2 321.7L572.5 315.4M578.9 324.9L578.8 321M586.9 328.2L586 325.9M607.9 332.9L605.9 334.6M614.3 336.9L611.8 339.1M484 262.7L482.8 261.7M491 267.1L488.8 265.5M497 270.2L496.1 269.8M504 275.2L501.5 273.9M510.3 279.7L507.7 278.2M540.1 302.7L538.8 301.2M546.2 307.1L545 305.7M552.7 311.4L551.4 309.9M558.8 316L557.5 314.3M563 320.9L562.7 319.7M568.1 327.1L568.1 322.5M573.6 332.8L574.3 325.5M580 334.3L580.2 332.8M604.3 338.4L600.7 341.5M610.2 343.2L607.5 345.5M562.5 332.1L563.1 329.8M568.2 339.5L570.1 331.1M575.1 341.4L575.8 338M599.9 344.4L596.3 347.7M605.2 350.5L604.2 351.2M728.5 436.1L727.9 437.6M558.6 337.9L558.8 336.5M564.3 344.5L565.4 338.7M570.2 349.4L571.8 342.4M595 350.6L592.1 353.6M715.1 436.8L712.5 437.5M720.1 440.5L719.4 440.9M726.4 443.1L724.3 445.1M554.6 343.8L554.7 343.1M560.3 349.6L560.9 346M565.5 356.1L567.6 348.1M573.8 357.1L573.8 356.1M590 357L588 359.3M673.6 427.2L673.7 425.9M688.9 435.3L688.4 434.4M696.5 438.7L695.6 437.9M704 441.7L702.2 441.1M710.9 445.3L708.2 444.9M717.6 448.8L714.1 448.8M723.6 451.6L720.3 452.5M734.4 459.2L733.5 459.9M555.9 354.7L556.2 353.2M560.7 362.2L563.3 354.3M568.5 363.3L568.8 362.1M584.9 363.2L583.8 364.9M670.2 433.2L670.1 432.4M678.2 437L677.9 436.4M692.9 445.3L690.7 443.5M700.3 449.3L696.6 447.2M707.2 452.9L702.7 451.2M713.5 456.2L709.3 455.4M718.5 459.8L717 459.7M724.9 463.3L723.2 463.4M730.5 466.8L729.8 467.1M556.1 367.3L558.5 361.4M562.9 369.6L563.8 367.7M585.5 373.3L584.9 375M674.3 443.2L673.7 442.3M681.6 447.4L680.1 445.9M688.7 450.6L687 449.6M695.4 454.2L693.4 453.5M701.9 458.6L699.5 457.7M708.6 462.9L705.4 461.9M715.2 466.8L711.5 466M721.2 470.5L718.1 470.2M551.8 372.8L553.9 368.3M557.7 376.5L559.8 372.9M580.2 379.2L580 381.3M677.5 452.9L676.3 452M684.6 457.5L682 455.7M691.6 461.6L688 459.6M698.3 465.6L694.1 463.8M704.7 469.6L700.5 468M710.6 473.6L707.2 472.5M715.4 477.9L714.7 477.6M722.5 481.4L720.6 481.1M728.9 485.1L726.9 485.1M547.5 379L549.5 374.5M553.3 383.2L555.7 378.8M666.6 455.3L665.3 454M673.5 459.2L671.7 457.9M680 462.9L678.4 462M686.4 466.6L685 466.1M692.7 470.8L691.3 470.3M699.3 475.2L697.3 474.6M705.8 479.9L703.2 478.9M712 484.1L709.6 483.3M717.9 487.9L716.5 487.5M543.7 384.6L544.9 381.5M549 389.3L551.3 385.1M675.6 469.3L673.9 468.3M682 473.4L680.3 472.5M688.4 477.4L686.7 476.7M694.9 481.4L693 480.8M430.2 311.4L429.7 309.8M437.1 316L436.1 313.6M444.4 319.4L443.2 317.9M451.1 323.3L449.8 322.1M457.4 327.8L456 326.4M463.4 331.9L462.5 331M538.5 390.8L540.5 387.3M544.1 395.4L547 391.1M420.4 312.4L420 311.7M426.7 317.9L425.5 315.4M433.4 322.4L431.8 319.5M440.5 326.1L438.5 323.7M447.2 330L445 327.8M453.6 334.3L451.2 332.1M459.9 338.8L457.4 336.5M466 343.4L463.6 340.9M472.1 348L469.8 345.3M478.3 352.4L476 349.7M484.6 356.6L482.4 354.1M490.4 360.3L489.2 359M532.9 397L536.3 392.7M540.9 399.8L541.3 399.1M412.8 309.6L410.3 310M416.9 318.5L415.9 317.3M422.6 324.1L421.2 321.5M429.3 328.4L427.6 325.6M436.3 332.2L434.2 329.8M443 336.2L440.6 333.9M449.4 340.6L446.8 338.2M455.9 345.5L452.6 342.3M462.2 350.3L458.6 346.5M468.1 354.5L465.2 351.2M474.2 358.7L471.5 355.7M480.3 363.1L477.8 360.2M486.3 367.4L484.2 364.8M491.8 371.7L490.6 369.7M527.2 403.1L532.4 398.3M402.1 311L399.6 311.6M408.9 316.1L405.5 316.4M413.2 325.2L411.1 322.9M418.9 330.5L416.8 327.2M425.6 334.7L423.1 331.4M432.5 338.5L429.7 335.6M438.8 342.6L436.1 340M445.1 346.9L442.4 344.4M451.2 351.4L448.7 348.9M457.2 355.9L454.9 353.4M463.2 360.3L461.2 358M469.3 364.7L467.5 362.4M475.3 369.1L473.7 367M481.1 373.5L480 371.7M487.2 377.9L486.2 376.2M493.3 382.2L492.5 380.7M518.9 402.7L519.4 402.2M522.8 408.1L527.4 404.8M399.4 316.9L393.6 318.2M405.1 322.5L400.6 322.8M409.3 331.6L406.5 328.7M415.1 336.8L412.4 333.1M421.6 341L418.7 337.4M428.2 344.8L425.2 341.8M434.4 348.9L431.7 346.2M440.4 353.2L438.1 350.8M446.4 357.5L444.5 355.5M452.2 362L450.7 360.1M458.2 366.3L457 364.7M464.3 370.7L463.3 369.3M470.2 375.2L469.4 373.8M476.2 379.6L475.6 378.4M482.5 383.8L482 382.8M488.9 388.1L488.4 387.2M510.8 409L517.4 406.2M519.9 411.8L520.6 411.5M701.4 536.5L702.3 536.6M396 322.8L388.3 324.7M400.7 329.7L396.4 329.3M405 337.5L402.4 335M410.8 342.8L408.2 339.4M417.3 346.9L414.5 343.7M423.7 350.9L421 348.2M429.7 355.1L427.5 352.8M435.6 359.2L434 357.5M441.5 363.6L440.3 362.2M447.4 368.2L446.4 366.8M453.6 372.5L452.7 371.2M459.8 377L458.9 375.6M465.7 381.7L464.9 380M471.8 386L471.1 384.5M478.2 390.1L477.6 389M484.6 394.2L484.1 393.4M500.2 409.1L506.2 408M506.5 413.7L512.6 412.4M691.4 536.9L692 537.3M391.9 329.1L383.8 330.9M396 336.7L392.2 335.8M400.4 343.7L398.2 341.4M406.2 348.8L404 345.8M412.6 353.1L410.3 350.2M419.3 357.5L416.4 354.2M425.8 362.3L422.4 358.3M431.7 366.3L429 363.1M437.2 369.8L436 368.3M443.3 374.4L442.1 372.8M449.5 378.8L448.3 377.1M455.8 383.5L454.4 381.4M461.6 388.3L460.3 385.8M467.7 392.6L466.6 390.3M474 396.6L473.1 394.9M480 400.7L479.5 399.7M489 410.5L496.1 409.7M495.3 414.7L502.3 414.1M504.5 418L505.7 418.1M387.6 335.6L379.4 337.1M391.3 343.3L388 342.2M396 349.8L393.9 347.7M401.9 354.9L399.7 352.1M408.2 359.4L405.9 356.4M414.4 363.7L412.2 360.8M420.6 368L418.6 365.3M426.8 372.1L425 369.8M433.2 376.3L431.4 374.2M439.4 380.8L437.6 378.6M445.6 385.2L443.8 383M451.7 389.9L449.9 387.4M457.5 394.7L455.8 391.8M463.4 399.2L462 396.2M469.3 403.3L468.3 401M477.6 412.7L486.3 411.5M484.9 416.3L491.5 415.9M494.2 419.8L494.8 419.8M382.1 342.4L376.3 343.2M386.1 350.1L384 349.1M391.3 355.7L389.9 354.3M397.4 360.7L395.7 358.6M403.7 365.5L401.7 362.7M409.9 370L407.8 367.1M416.1 374.5L414 371.5M422.5 378.6L420.5 375.9M428.8 382.8L426.9 380.4M435 387.1L433.2 384.8M441.2 391.3L439.6 389.3M447.1 396L445.6 393.8M452.8 400.9L451.5 398.2M458.3 405.5L457.4 402.7M462.5 409.6L462.6 407.8M466.7 414.9L476 413.2M475.2 418.2L480 417.9M369 344.6L368.2 344.7M376.6 349.2L373.2 349.4M381.1 356.9L379.7 355.9M386.8 361.8L385.7 360.7M392.9 366.5L391.7 365.1M399.1 371.2L397.7 369.4M405.3 376L403.6 373.6M411.5 380.5L409.8 378M417.9 384.7L416.2 382.4M424.4 388.7L422.8 386.7M431.2 392.8L429.1 390.8M437.8 397.7L435 394.8M442.4 401.7L441.7 400.6M447.3 406.7L446.9 405.4M450.9 411.1L451.3 409.7M454.4 413.2L455.6 412.5M456.1 417.1L465.5 415.1M465.5 420.4L468.5 419.9M661 554.4L661.7 554.6M667.3 558.2L668.2 558.5M689.1 568.4L689.4 569.1M365.4 352.5L363 352M372 358.1L368.5 356.6M376.9 364L374.6 361.9M382.7 368.4L381 366.6M388.6 372.9L387.2 371.2M394.8 377.5L393.3 375.6M400.9 382.1L399.4 380M407 386.7L405.5 384.3M413.8 390.5L412.2 388.6M421.8 394.2L418.3 391.9M428.9 400.3L423.1 395.3M435.4 407.7L427.9 397.9M438.8 410.6L435.7 404.6M442.8 415.2L445.7 413.8M445.3 419L455.1 416.9M455.6 422.3L457.2 422M480.5 441.7L483.4 440.1M498.6 443.1L498.5 444.1M650.1 557.3L651.3 557.3M656.5 561.1L657.4 561.1M669.8 567.4L670.7 568.1M677.2 570.6L678 571.7M684.6 574.5L685 575.6M360.1 361.2L357.8 359.3M366.5 366.5L363.5 363.4M372.5 370.8L369.9 368M378.4 375L376.3 372.7M384.2 379.4L382.6 377.3M391 385.3L387.9 380.6M396.3 388.6L394.8 386.2M402.5 393.1L401.1 390.6M409.8 396.4L408.1 394.7M415.7 400.1L414.9 399.4M427.7 411.2L425.7 407.6M433.7 419.9L430.5 408.3M434.9 419.8L436.3 416.7M435.1 423.5L444.9 418.2M443.9 424.7L447.8 423.8M480.5 450.9L480.9 447.5M497.4 450.7L496.2 451.7M553.6 496.1L553.1 495.6M639.8 560.2L640.7 559.9M651.9 568.2L653.3 568.1M657.6 571.4L660.2 571.7M664.9 573.7L666.6 574.8M672.6 576.7L673.6 578.2M679.9 580.5L680.6 582.2M355.5 367.5L353.6 365.7M361.7 372.7L359.2 369.9M367.7 377.1L365.6 374.5M373.7 381.2L372 379.1M379.8 385.4L378.4 383.7M385.8 390L384.6 388.2M392.2 395.7L390 391.7M398.7 400.7L395.9 395.5M404.3 403.4L403.1 401.4M412 408.8L408.7 404.3M421.8 415.4L412.3 405.7M425.3 417.1L421.2 412.8M429.3 426.7L432.3 421.8M431.8 432.7L440.9 423.4M537.8 490.6L536.9 490.7M547 497.2L539.9 495.2M553.2 504.5L545.2 499.1M556.8 511L551.9 503.6M560.1 515.3L558.6 509.1M564.1 517.4L564.2 516M641.9 571.6L642.9 571.1M647.1 575.5L649.8 574.6M654.2 578.8L654.9 578.7M350.8 373.7L349.4 372.3M356.9 378.9L355 376.5M362.9 383.4L361.2 381M369 387.5L367.6 385.6M375.3 391.6L374.1 390.1M381.6 396L380.4 394.5M387.6 400.7L386.4 398.8M393.4 405.4L392.4 403.3M400.1 410.6L398.2 406.9M420 426.3L420.3 425.8M424.2 434.6L428.9 426.4M429 441.8L436.8 428M438.8 440.1L439.6 438.5M535.8 494.8L529.9 496.7M543.9 502.2L534.7 501.3M548.9 510.6L540.8 505.3M551.8 519L547 508.6M555 524.5L553.8 512.6M559.4 525.7L560.1 520.1M625.6 569.7L626.2 569.2M637.1 578.9L639.6 577.2M644.1 582.8L645.2 582.1M650 586L650.9 585.7M672.4 593L672.6 594.1M352.1 384.8L350.9 383.2M358.1 389.5L356.9 387.6M364.5 393.7L363.3 391.9M371 397.8L369.8 396.3M377.4 402.1L376.1 400.6M383.4 406.6L382.3 405.1M389.8 410.1L389.3 409.7M398.2 414L395 412.3M404.3 419.5L400.7 416.8M409.9 424L407.2 421.6M414.3 428.4L413.7 427.4M416.9 434L417.4 431.7M420.3 442.5L425.1 431.4M425.1 449.6L432.6 433M433.6 450L437 441.5M441.5 451.6L442.3 448.9M521.8 494.6L520 496.7M530.6 498.4L525 502.9M536.4 504.9L532.7 506.7M543.7 522.6L543.5 518.2M547.4 530.2L550 519.1M552.7 532.5L555.9 525.1M627.4 580.6L628.5 579.7M632.9 585.7L635.6 583.4M639.5 589.8L641.6 588.1M645.2 593.4L647.6 592.1M341.2 386.2L340.6 385.5M347.6 391L346.5 389.5M353.7 395.1L353 394.2M360.3 399.3L359.5 398.3M366.8 403.5L365.9 402.5M372.9 407.7L372.3 407.1M390.5 412.5L382.3 413.2M400.7 418.2L384.7 417.3M402.4 425.2L394.9 421.9M409.1 435L408.7 433.9M412.9 440.3L413.3 437.9M416.3 448.3L420.5 438.1M420.6 456.4L428.5 438.6M428.4 457.8L433.4 446.1M436.4 459.5L438.5 453.4M443.9 462.1L444.4 459.7M515.8 500L514.9 502.4M523.3 502.8L520.6 508.6M528.2 508.5L527.3 511.3M535.4 525.3L536.2 524.7M539.5 533.7L545.8 526.4M546.4 537L551.2 531.6M610.8 577.9L611.4 577.4M622.8 587.2L624.5 585.7M629.1 591.8L630.9 590.1M634.8 596.9L637.9 593.9M641.7 600.6L643.5 598.8M357.2 403.2L356.5 403M363.6 407L362.9 406.8M386.2 414.3L376.7 420.2M389.6 421.9L386.7 422.9M409.3 445.7L409.3 445M412.1 454.2L416 444.7M416 462.8L424.3 444.7M423.3 465.3L429.6 451M431.7 466.1L434.3 459.1M438.6 469.5L440.2 464.5M448.9 473.8L450 473.3M457.5 472.3L457.8 472.9M515.9 509.1L515.9 514M520.2 513.4L521.8 518.7M524.1 520.2L526.9 522.9M527.9 528.5L533.3 528.7M533.3 536L540.9 533.1M541.4 540.7L545.9 538.3M607.1 584.7L607.6 584.2M619.1 594.4L620.8 592.2M625.6 598.4L626.8 596.9M631.5 604L633.9 600.4M639 607.4L639.7 606.1M346.6 402.3L345.8 402.6M353.1 405.8L351.4 406.7M359.7 410L357.3 411.2M365.6 414.1L363.6 415.3M370.8 417.9L369.9 418.8M379.7 419.6L373.4 425.8M409 458.2L410.8 453.2M411.8 468.9L419.9 451M418.4 472.8L425.9 455.9M427.3 472.6L430 465.1M433.8 476.6L436.2 469.8M441.6 478.8L442 476.7M448.4 484.4L448.7 480M509.9 517.1L510.5 518.8M514.5 520.5L517 524.8M518.6 526.1L523.2 529.9M523.4 533.1L529.4 534.7M529.9 539.9L535.2 539.5M537.6 544.8L540.2 544.3M603.9 591.7L604.2 590.9M610.1 596.1L610.5 595.2M616.1 601.4L617.1 598.7M622.6 605.7L623.5 603.2M628.9 610.9L630.1 607M636.4 615.1L636.7 611.7M336.2 402.8L334.1 404.1M342.6 406.9L340.2 408.5M349.7 410.3L345.4 413.5M355.5 414.8L352 417.6M361.8 418.7L357.9 422.1M367.6 423.3L364.5 426.1M374.8 426.2L369.6 431.6M407.8 475L415.3 457.4M414 479.7L421.7 461.5M422.3 480.4L426.3 469.7M429.2 483.8L432.1 475.2M436.9 485.8L437.8 482.1M444.4 489.1L444.4 487.7M451.1 493.1L451.1 492.5M510.6 528.8L511.2 529.6M515.9 533.1L517.7 534.9M521 539.1L523.4 540.1M527.1 545.2L529.3 545.3M600.6 598.2L600.7 597.3M606.6 603.4L607 600.8M613.3 607.4L613.5 605.7M619.3 613.1L619.8 608.7M626.3 616.8L626.3 613.8M633.6 621.9L632.8 617.3M641.6 624.4L640.4 622.5M649.4 625.4L648.7 625.2M656.1 628.1L654.8 628.3M331.3 408.1L329.4 409.9M338.5 411.5L334.7 415.2M345.4 415.1L340.2 420.2M351 420.4L347.3 423.8M357.4 424.7L353.5 428.3M363.5 429.4L360 432.5M370.4 432.8L365.5 437.6M404.5 479.9L410.2 465.1M410.1 486.4L417.2 467.4M417.8 487.9L422.3 474.7M425 490.4L427.9 481M432.2 493.1L433.6 487.2M439.2 495.6L439.6 493.6M444.1 498.8L444.5 498.1M447.5 500.5L449.9 499.9M454.1 503.2L455.7 503.4M602.7 610.2L603 606.5M615.9 619.7L615.7 614.6M622.6 623.7L622.1 619.3M629.7 627L629 624.5M637.8 630.4L636.2 628.4M645.3 632.8L643.5 631.9M651.5 635.1L650.7 635.1M326.4 413.9L324.9 415.7M334 416.6L329.7 421.9M340.8 420.4L335.5 426.8M346.1 426L342.8 430M352.7 430.4L349 434.5M358.8 435.1L355.5 438.7M365.7 438.9L361.2 443.7M401.7 483.9L404.9 473.7M406.2 493L412.8 473.3M413.4 495.3L418.2 479.8M421 496.9L423.5 487M427.6 500.2L429.5 492.6M433.9 502.2L435 499.1M436.3 505L441.1 501.8M443.4 507.6L445.8 506.6M599.1 615.9L598.9 613.3M605.5 620.4L605.3 617.6M611.8 624.4L611.6 622.3M618.7 630.3L617.9 625.1M625.8 633.6L624.6 630.2M321.3 420L320.4 421.5M329.4 422.3L325.2 428.3M336.3 425.9L330.9 433.4M341.1 431.8L338.3 436M347.5 436.1L344.5 440.6M354.4 439.9L350.3 445.7M399.4 487.1L399.9 483.3M402.5 499.2L408.1 479.7M409.1 503L414.1 484.7M416.7 504.1L419.4 492.4M423.1 507.2L425.4 498M428.8 509L430.8 504.5M432.7 512.9L437.3 507.9M440.1 515.1L441.8 513.7M444.8 517.3L447.8 516.7M452.3 519L453 519.3M601.5 627.1L601 623.3M607.7 631.1L607.3 628M613.8 634.8L613.6 633.1M621.6 639.4L620.5 636.7M629.3 642.8L627.5 640.7M636.5 645.5L634.7 644.5M643.1 648.6L641.5 648.2M317.4 426.6L316.4 427.9M325.6 428.3L320.5 434.9M332.5 431.7L326.2 440.1M337 438.1L334 442.4M343.2 442.3L340.2 446.8M350.3 445.9L345.9 452.1M356.1 450.9L352.5 455.9M398.8 504.8L403.3 486.6M405.2 509.7L409.6 490.4M412.2 511.7L415.3 497.3M418.7 514L421.2 503.7M424 516.4L427 509.5M429.9 519.5L432.7 514.8M435.3 523.3L438.9 518.9M440.9 526.5L444.7 523.4M597.4 632.1L597.1 630.6M604.1 637.9L603.1 633.5M610.8 642.1L609.5 637.9M616.9 644.7L616.5 643.8M313.8 433.3L312.3 434.6M322.1 434.2L315.7 441.7M328.8 437.9L321.5 446.7M333.7 444.3L329.3 449.2M339.5 449L335.9 453.1M346.6 451.9L341.1 458.8M351.8 457.7L348.5 461.8M395.6 506.6L397.9 497.2M401.2 516L405.2 496.6M407.8 519L411.1 502.4M414.4 519.9L416.7 510.2M420.1 523.6L422.9 515M426.4 526.1L428.5 521.1M432.7 531.2L435.1 524.8M439.7 535.2L441.2 529.8M599.9 642.9L599.2 640.8M607.1 648.1L605.3 644.1M614.5 652.2L611.7 648M621.8 655.4L618.4 652.3M628.7 658.6L625.1 656.5M635.2 662.1L631.7 660.6M309.4 439L307.6 440.9M317.8 440.2L311.3 448.1M324.6 443.7L316.9 453.2M329.3 450.4L324.9 455.5M335 455.2L331.6 459.3M342.3 458L336.7 465.1M346.6 464.5L344.7 467.1M397.5 521.6L400.5 503.6M403.8 526.3L406.7 507.6M410.4 527.6L412.6 515M416.6 530.4L418.6 520.9M423.2 534L424.7 526.1M430 536.5L430.7 532.4M438.3 542.3L437.3 535.3M447.7 544.2L444.6 540.4M455.1 545.1L452.3 544.3M523.5 591.6L522.2 591.6M602 652.9L601.5 651.7M609.5 657.2L608.2 655.3M616.8 660.8L614.9 659.1M623.8 664.5L621.3 663M629.7 668.1L628.3 667.4M298.8 440.5L296.7 442.8M304.9 444.6L302.8 447.2M313.4 446L306.8 454.5M320.3 449.4L312.3 459.8M324.6 456.2L320.5 461.7M330.1 461.1L327.2 465.4M337.8 463.6L332.2 471.7M341.8 470.1L340 473.4M393.9 525.3L395.6 512.3M400.2 532.6L402.1 513.8M406.6 535.7L408.2 519.4M413 536.4L414.2 527.5M419.8 540.5L420.4 532.2M426.6 543.2L426.6 538.3M433.9 546.2L433.4 543.8M442.9 549.8L440.8 547.3M449.4 552.2L448.5 551.6M510.5 589.5L510 590.4M519.8 595.7L516.6 597M289.2 442.5L285.9 445.4M294.7 447.4L292.8 449.1M300.9 451.2L298.7 453.5M309.1 452.2L302.4 460.8M315.9 455.5L308 466.1M320.3 462L315.9 468.2M325.3 467.2L322.8 471.4M333.5 468.9L327.4 478.6M337.2 475.9L335.3 479.9M396.4 537.8L397.5 521.1M402.8 542.5L403.8 525.1M409.2 544.5L409.9 531.9M415.8 546.7L416 538.4M423.1 550.6L422.3 543.2M430.9 554L428.9 548.2M437.9 556L436.5 553.9M444.8 558.5L444.2 558.1M452.6 561.6L450.1 561M509.3 599.6L509.4 600.5M285.1 448.8L281.5 451.7M290.6 453.9L288.5 455.5M296.6 457.7L294.5 459.7M304.4 458.8L298.4 466.6M311.4 461.6L303.6 472.4M315.6 468.3L311.7 474.2M320.5 473.4L318.5 477.4M328.7 474.9L323.2 484.8M333.1 481.1L330.6 487M392.3 541.2L393 530.1M398.8 548.2L399.3 531.9M405.3 551.7L405.5 537.1M411.5 553.1L411.7 544.5M418.2 556.5L418 549.8M424.9 558.3L424.7 556.7M433.3 562.6L431.8 560.1M583.1 666.8L582.7 666M280.9 455.4L277.2 458M286.6 460.3L284.1 462M292.3 464.3L290.4 465.9M300 465.1L294.1 472.7M307.1 467.6L299.2 478.8M311.1 474.7L307.5 480.2M315.9 479.9L314.3 483.3M323.5 481.5L319.2 490.5M330 484.6L325 496M388 544.4L388.4 539.4M394.7 552L394.8 540.5M401.3 557.9L401 543.3M407.7 560.8L407.3 549.2M413.7 561.9L413.6 556.8M420.3 566.3L420 561.2M276.6 462.1L273.2 464.2M282.6 466.7L279.8 468.4M288.2 470.9L286.2 472.3M295.2 471.8L290.1 478.5M302.6 473.4L294.8 485.2M306.9 480.9L303.1 486.5M311.7 486.9L310.5 489.1M317.9 489.5L315.7 494.7M326.5 487.4L319.5 505.4M397.2 562.4L396.7 551.3M404 567.6L402.8 554.8M410.3 570.2L409.2 561M416.3 571.7L415.8 568.2M422.7 574.8L422.5 573.8M266 463.9L262.5 466M272 468.8L269.3 470.2M278.1 472.9L275.5 474.5M283.6 477.1L282.1 478.3M289.6 479.7L287.1 483M297.6 478.9L290.5 491.9M302.5 485.7L298.1 493.8M313.5 497.5L312.3 499.5M321.6 494.5L315.6 510.8M326.6 501.2L322.8 512.7M386 559.3L386 558.1M392.8 565.9L392.5 560.2M399.8 572.2L398.6 562.6M406.6 577.4L404.7 566.2M412.7 579.7L411.3 572.5M418.9 580.9L418.6 579.9M534.3 653.4L533.7 653.7M261.3 469.9L258.3 472M266.9 474.6L265.1 475.9M272.7 478.8L271.4 479.9M278.5 483.1L277.7 483.9M291.8 484.9L286.7 497.9M297.7 488.4L292.9 503M302.3 499.3L301.6 501.1M309.4 504.2L308.3 505.7M315.2 507.5L313.9 510.5M322.8 505.8L317.9 520.6M395.3 575.5L394.7 571.8M402.2 581.9L400.6 574M408.2 587.2L406.7 577.6M414.7 589.5L413.4 583.9M421 591.2L420.8 590.6M523.2 653.4L521.8 654.8M256 476.1L254.3 477.6M261.8 480.5L260.7 481.6M267.8 484.8L266.9 485.7M273.8 489.1L273.1 489.9M285.8 493.7L283.4 501.3M292.2 492L288.6 511.5M297.5 498.3L295.5 513.9M303.7 509.9L303.2 511.4M310.8 514.2L309.8 516.3M317.3 515.8L314.8 523.1M323.3 519.5L320.9 528M397.5 584.9L397.1 583.4M402.5 591.3L402.5 586M409.3 597.1L408.8 589M416.7 599.7L415.4 594.8M518.6 658.6L516.8 661.2M530.4 668.1L529.7 669.1M251 482.6L250.3 483.2M257.2 486.7L256.4 487.6M263.3 491L262.6 491.8M269.5 495.3L268.8 496.2M286.4 501.9L285.1 514M291.9 502L291.5 522.6M298.3 509L297.8 524.3M305 520.1L304.7 522.1M312 524.3L311.2 526.9M319 526.8L316.9 533.2M324.5 532.9L323.7 535.7M397.2 595.9L397.6 593.7M404.4 600.3L404.4 598.2M412.2 606.8L410.8 600.2M418 610.4L417.2 605.4M513.3 664.2L511.9 667.3M524.7 673.2L524.2 675.3M530.4 678.3L530.3 678.9M252.7 492.8L252 493.7M259 497.2L258.3 498.1M265.2 501.8L264.7 502.3M287.2 512.9L287.3 524.1M293.5 514.3L293.5 531.5M300.2 521.3L299.7 533.3M307.3 530.6L306.8 532.9M313.9 535.6L313.5 536.9M319.9 539.9L319.5 541.2M391.7 601.8L392.6 599.7M407 610.3L406.9 609.3M413.6 616.8L412.8 611.5M419.4 620.5L419.1 616.7M507.8 670.2L507.2 673.2M518.8 679.3L518.9 681.5M524.7 683.2L525.1 686.3M530.8 688.6L531.1 689.9M242 494.8L241.5 495.4M248.5 499L247.6 500.1M254.7 503.7L254.1 504.3M290.2 527L289.5 531.4M296.1 529.2L295.4 537.8M302.8 535.1L301.9 540.7M386.8 608.4L388.4 605.3M393.9 612L394.5 610.7M408.7 620.8L408.6 620M415.4 626.9L414.8 622.6M422 630.5L421.4 627.7M475.7 659.4L474.3 659.6M502.5 677.6L502.5 678.2M508.1 681.2L508.3 683.3M519.5 690L520.2 692.3M524.7 694.6L526.1 697.1M530.3 700L531.6 701.4M238.3 501.3L237.3 502.2M244.5 505.8L243.7 506.5M308.9 561.7L309.2 560.2M382.5 614.9L384.2 611.4M389.7 618.5L390.3 616.8M411.3 631.2L411.2 630.6M417.9 636.8L417.1 633.7M424.5 640.4L423.8 638.7M457.3 660.6L456.8 660.1M465.8 662.6L463 662.3M503.4 688.2L503.5 688.9M508.9 692.6L509.2 693.6M234.4 507.8L233 508.7M286.2 555.7L286.5 552.5M292.1 560.2L292.7 556.7M298.4 564.6L298.9 561.1M305.4 568.7L305.5 565.8M378.6 620.8L379.7 618.1M385.6 624.6L386 623.3M419.8 647L419.2 644.7M425.8 650.8L425.5 649.7M515.7 708.4L516.3 709.1M521.7 713.1L522.4 713.7M528 717.7L528.4 718.1M551.6 729.6L551.3 730.3M559.5 734.8L558.8 735.6M229.9 514.2L228.9 514.9M275.8 557.2L275.9 554.8M281.9 562.3L282.2 558.4M288.4 566.5L288.6 562.9M294.7 570.8L294.9 567.4M301.5 573.8L301.5 573.1M320.3 584.6L324.6 586.2M327.2 586.3L331.9 590.6M335.8 589.8L338.1 594.1M373.8 626.4L375 624.4M380 630.5L381 628.9M420.2 657.1L420.3 656.1M547.4 735.6L546.9 736.7M554.5 740.5L553.9 741.4M270.8 563.7L271.4 560.6M277.1 568.2L277.7 564.9M283.6 571.9L283.9 569.9M302.4 584.7L308.3 584.4M307.5 588.6L315.7 588.7M315.4 591.7L320.5 592.8M323 592.5L327.5 596.8M330.5 594.1L334.7 602.3M337.8 598.2L340.9 606.5M345.1 605.4L346.1 608.1M368.2 631.7L370 630M374.3 635.4L375.7 634.4M543.7 741.7L542.8 743.5M260.1 564.4L260.4 563.5M265.8 569.3L266.5 567.1M271.7 573L272.3 571.8M281.5 578.4L283 578.1M286.1 582.4L290.8 582M289.7 586.5L299.7 586.2M297.3 590.9L304.6 590.6M303.9 595.4L310.6 595M312.4 599.3L314.7 599.3M328.3 603.1L329.2 605.3M333.7 605.3L336.2 611.9M339.4 608.9L342.8 617.1M346 614.7L348.5 620.2M352.9 621.1L353.7 622.8M363.7 636.9L364.9 636.1M369.7 640.9L371 640.2M538.5 748.3L538.3 748.9M268.4 579.6L274.8 579.3M271.2 584.2L284.5 583.5M277.3 588.5L290.9 587.9M286.6 592.4L294.1 592.4M293.1 596.9L300.1 596.8M301 601.1L304.8 601.1M329.8 614.8L330.2 615.5M335.3 617.9L337.2 621.1M341.3 620.1L344.5 627.2M348.1 624.8L350.6 631.1M354.1 632.1L355.3 633.7M365.4 646.7L366.4 646.3M253.2 577.9L256.3 577.3M253.9 581.8L268 581M257.4 586L277 585.3M265.6 590.4L281.3 589.7M275.6 594.5L283.9 594.3M282.2 598.6L289.9 598.6M289.9 603L294.7 603M297.7 606.7L299.5 606.9M303.6 609.7L306.6 610.9M312.1 611.5L313.7 614M337.3 630.1L337.9 630.9M344.1 631.7L346 636.6M350.5 635.5L352.5 641.5M355.4 644.3L355.9 644.6M241.8 580.5L246.7 579M242.7 584.8L258.1 582.4M247.4 588.7L265.9 586.8M256 592.5L269.7 591.5M264.8 596.6L273.5 596.1M271.1 600.6L279.7 600.5M278 605L285.4 604.9M287.4 609.3L288.5 609.3M293.8 613.3L294.7 613.4M317.1 621.5L317.1 623.8M346.8 643.4L347.6 646M352.6 647.6L353.8 650.8M431.9 709.9L431.3 708.5M492.3 753.6L492.4 753M228.1 579.2L228.6 578.7M231.7 583.4L236.1 581.2M233 588.4L246.8 583.8M239.5 592L252.8 588.5M245.6 595.9L259.1 593M252.6 599.7L264.6 597.6M260.5 603.4L269.1 602.3M266.9 607.3L275.2 606.7M275.4 612L279.3 611.4M315.2 628.8L314.5 630M428 715.8L427.3 714.6M434.3 721.2L432.9 718.3M482.6 755.5L482.5 754.8M488.6 760.3L488.5 758.8M495.2 764.7L495 763.1M501.4 769.4L501.1 767.2M507 774.1L507 771.3M512.9 777.9L513 776.2M221.6 585.9L225.5 583.3M224.7 591.5L234.5 585.9M229.6 596L242 589.8M235.7 600.1L248.4 594.2M242.5 603.7L253.9 599M250.7 607L258.2 604.2M256.8 610.8L264.4 608.6M263.4 614.9L270.3 613.1M291.5 631L290.6 628.8M435.9 730.9L435.3 729.8M484.2 766.5L484.1 765.1M490.9 770.9L490.7 769.3M497 775.8L496.7 773.2M502.7 780.9L502.7 776.9M508.9 785.3L508.9 781.3M515.5 788.1L515.4 787.2M216.9 593.1L221.9 589.1M220.7 599.7L230.7 591.3M226.5 604.3L237.4 595.4M232.8 608.3L243.5 600M241.4 611.2L247.6 606.1M247.6 615.3L253.8 610.5M253.5 619L260 614.9M260.3 622.9L265.6 619.7M288.4 636.5L287 634.6M295.5 640.5L293.4 638.5M301.7 643.7L300.7 643M479.7 772.4L479.7 771.5M486.4 776.9L486.3 775.7M492.5 782L492.3 779.5M498.4 787.3L498.4 783M504.8 792.1L504.7 786.9M511.5 795.9L511.1 791.8M213.6 600.5L217.8 595.3M218.7 607L225.5 597.8M224.4 612.2L232.3 601.4M230.9 615.7L238.2 606.4M238.9 619L243.3 612.3M245.3 623.6L249.6 616.6M251.1 627.6L255.8 621M257 630.4L261.4 626.1M487 787.6L487.2 786.2M494 793.2L494 789.4M500.7 798.5L500.4 792.9M507.5 803.2L506.7 796.9M514.1 806.7L513.2 802.1M211.2 606.9L213.2 602.5M216.6 613.6L220.5 604.6M223 618.1L226.8 608.9M230.1 621.7L232.7 614.2M236.9 626.2L238.9 618.6M243 630.8L245.3 622.8M248.9 635L251.5 627.2M254.3 638.3L257.5 632.1M478.6 785.3L481.8 787.8M484.4 792.1L487 792.8M493.7 803.6L495.2 799.7M502.8 809.9L502.3 802.7M509.8 814.8L508.5 806.5M516.1 817.6L515 812.3M213.8 618.5L215.6 612.5M220.5 625L222.3 615M227.7 628.1L228.3 620.7M234.3 632.6L234.6 625M240.6 637.3L240.9 629M246.3 641.7L247.2 633.3M252 645.4L253.4 638.3M258.1 647.9L259.1 644.4M481.2 798.2L481.8 798.4M485.9 801.2L490 803.2M490.5 807.4L497.1 808.3M501.9 821.5L504.3 812.1M511.4 827.1L510.3 815.4M518.4 827.9L517.1 823.1M210 622.7L210.6 620.7M217.2 628.8L217.6 623.6M224.3 635L224 626.3M231 638.5L230.3 631.4M237.3 643.4L236.6 635.3M243.4 648L242.8 639.5M249.5 651.9L249.1 644.4M255.3 655L255.3 650M495.8 823.5L498.3 820.7M505.5 833.4L506.2 821.6M514.5 836.8L512.1 826.7M213.7 633.1L213.6 631.8M220.8 638.5L220.1 635.1M227.4 644.6L226 637.7M233.4 649.2L232.3 641.9M239.6 654L238.5 645.8M246 658L244.8 650.6M252 661.4L251.2 656M496.9 829.6L496.6 828.7M503.4 835L502.5 832.1M510.3 839.4L508.9 836.1" stroke="#000" stroke-width="1" fill="none"/><path d="M437.5 223.7L440.6 222L443.8 220.5L444.5 222.6L441 223.3ZM444 225.2L447.4 226.4L450.7 227.8L449.5 229.8L446.7 227.6ZM449.8 228.1L453.3 230.3L456.7 232.7L454.9 234.6L452.2 231.4ZM456.1 232.1L459.5 234.5L462.8 237.1L460.9 238.9L458.4 235.6ZM461.5 236.7L465.3 238.6L468.8 240.7L467.2 242.8L464.3 239.9ZM469.1 242.8L472.5 243.9L475.7 245.2L474.7 247.2L471.8 245.1ZM475.4 247L478.8 248.3L482 249.8L480.8 251.7L478 249.5ZM481.1 250.5L484.9 252.4L488.4 254.5L486.8 256.6L483.8 253.6ZM486.9 254.8L490.7 256.5L494.4 258.4L492.9 260.6L489.8 257.8ZM492.1 259.2L496 260.4L499.9 262L498.6 264.3L495.3 261.9ZM498 263.6L502.1 264.7L505.9 266.1L504.8 268.5L501.3 266.2ZM504.3 268L508.3 269.1L512.2 270.5L511 272.9L507.6 270.6ZM510.5 272.1L514.5 273.4L518.3 274.9L517.1 277.2L513.7 274.8ZM517 276.5L521 277.8L524.8 279.4L523.5 281.7L520.2 279.3ZM523.6 280.7L527.5 282.2L531.2 284L529.8 286.2L526.6 283.6ZM529.6 284L533.3 285.9L536.8 288.1L535.1 290.2L532.2 287.2ZM536.8 288.4L540.3 290.7L543.5 293.2L541.7 295.1L539.1 291.8ZM542.4 292.5L545.9 294.6L549.3 297L547.6 299L544.9 295.8ZM548.7 297.1L552.3 299.2L555.8 301.5L554 303.5L551.3 300.4ZM555.3 301.5L558.8 303.7L562.2 306.1L560.4 308L557.7 304.9ZM563.4 304.5L565.9 307.8L568.2 311.3L565.9 312.4L564.5 308.6ZM571.6 307.3L572.9 311.3L573.8 315.3L571.2 315.6L571.3 311.4ZM578.5 312.8L579.4 316.9L580.1 321L577.5 321.1L577.8 317ZM583 318.3L585.3 321.8L587.2 325.4L584.8 326.4L583.7 322.4ZM589.5 324.4L591.9 327.3L594 330.3L591.9 331.4L590.6 328ZM594.5 330.2L597.9 331.4L601.1 332.8L600 334.7L597.1 332.6ZM599.7 339.9L602.3 336.6L605 333.6L606.7 335.5L603.3 337.8ZM605.8 344.6L608.3 341.3L610.9 338.1L612.7 340.1L609.4 342.5ZM613.1 346.5L616 344.5L619.1 342.8L620 344.8L616.6 345.8ZM619.2 350.4L622.4 348.8L625.6 347.5L626.2 349.6L622.8 350.2ZM626.2 356.2L628.4 353.4L630.7 350.7L632.2 352.4L629.3 354.4ZM633.1 361.1L634.5 357.8L636.2 354.8L638.1 356.1L635.7 358.7ZM643.4 359.8L641.9 363L640.2 366.1L638.4 364.8L640.8 362.2ZM649.2 363.9L648.3 367.3L647.1 370.6L645.1 369.6L647 366.7ZM654.6 367.9L654.6 371.5L654.3 375L652.1 374.6L653.2 371.2ZM657.7 373.3L660.7 375.3L663.5 377.4L661.9 379L659.7 376.2ZM663.4 378.3L666.8 379.5L670 381L668.9 382.9L666.1 380.7ZM671.3 381.3L673.4 384.2L675.1 387.3L673.1 388.2L672.1 384.8ZM678.9 385.4L679.7 388.9L680.2 392.3L678 392.4L678.3 388.9ZM687.5 390.5L685.8 393.7L683.9 396.7L682.2 395.3L684.7 392.8ZM694.8 396.3L691.8 398.3L688.7 400L687.9 397.9L691.3 397ZM701.1 403.1L697.6 402.7L694.1 402L694.8 399.9L698 401.3ZM706.3 409L703.5 406.8L700.9 404.4L702.6 403L704.6 405.9ZM712 413.8L709.7 411.1L707.7 408.2L709.6 407.1L710.9 410.4ZM717.5 418.5L715.9 415.3L714.6 412L716.8 411.5L717.3 415ZM723.1 423L722.2 419.6L721.5 416.1L723.7 415.9L723.5 419.4ZM728.8 427.4L728.4 423.8L728.3 420.3L730.5 420.5L729.8 423.9ZM734.4 431.6L734.7 428.1L735.3 424.6L737.5 425.2L736.1 428.4ZM739.5 435.4L741.1 432.2L742.9 429.2L744.7 430.6L742.2 433.1ZM745.6 439.7L747.4 436.5L749.4 433.6L751.1 435.1L748.5 437.5ZM750.8 442.1L754.1 440.7L757.4 439.6L757.8 441.8L754.3 442.1ZM757.4 444L760.8 445.1L764.1 446.5L763 448.5L760.1 446.4ZM765.2 447L767.4 449.8L769.3 452.7L767.3 453.8L766.1 450.4ZM772.1 451.1L773.7 454.3L775 457.6L772.9 458.2L772.3 454.7ZM433 228.9L436.4 228.2L439.9 227.7L440 229.9L436.5 229.5ZM439.6 231.7L443 232.6L446.4 233.7L445.4 235.7L442.4 233.9ZM446.5 234.9L449.5 237.1L452.3 239.5L450.6 241.1L448.5 238.1ZM453.1 238.7L455.9 241.5L458.5 244.6L456.4 246L454.6 242.4ZM459 243.9L462 245.8L464.8 248L463.3 249.6L461 246.8ZM464.7 248.5L468.2 250.1L471.6 251.9L470.2 253.9L467.4 251.3ZM471 252.3L474.6 254.4L477.9 256.8L476.2 258.8L473.5 255.6ZM476.7 256.3L480.3 258.3L483.7 260.7L482 262.6L479.2 259.6ZM482.3 260.6L486 262.4L489.6 264.5L488 266.6L485.1 263.7ZM488.8 266.2L492.8 267.3L496.7 268.6L495.6 271L492.1 268.8ZM494.3 270L498.3 271.2L502.1 272.7L500.9 275L497.5 272.6ZM500.5 274.2L504.5 275.5L508.3 277.1L507 279.4L503.7 276.9ZM507.8 279.5L511.8 280.5L515.7 281.8L514.6 284.2L511.1 282ZM514.3 283.7L518.3 285L522.1 286.6L520.8 288.9L517.5 286.4ZM521 287.9L524.6 289.5L528.1 291.2L526.7 293.3L523.8 290.7ZM527.3 291.5L530.8 293.7L534.2 296.1L532.4 298L529.7 294.9ZM533.4 295L536.7 297.6L539.8 300.4L537.8 302.1L535.5 298.6ZM539.8 299.3L543.1 302L546 304.9L544 306.5L541.8 303ZM545.9 303.8L549.2 306.3L552.3 309L550.4 310.8L548 307.4ZM552.3 308L555.5 310.6L558.5 313.5L556.5 315.1L554.2 311.7ZM560.7 311.8L562.5 315.5L563.9 319.4L561.4 320L560.9 315.9ZM568.1 314.3L568.9 318.4L569.4 322.5L566.8 322.6L567.3 318.5ZM575.1 317.4L575.5 321.5L575.6 325.6L573 325.4L573.9 321.4ZM581.2 324.7L581.5 328.9L581.5 333L578.9 332.6L579.9 328.6ZM586.2 330.3L587.6 333.7L588.8 337.2L586.5 337.7L586.2 334ZM589.7 337.5L593.3 337.5L596.8 337.8L596.4 340L593 338.9ZM594.5 346.8L597.1 343.5L599.9 340.5L601.6 342.5L598.2 344.8ZM601.2 350.7L603.8 347.5L606.6 344.5L608.3 346.5L604.8 348.7ZM608.5 351.8L611.9 350.7L615.3 349.8L615.6 352.1L612 352ZM614.8 355L618.4 355L621.9 355.4L621.4 357.6L618.1 356.4ZM621.4 361.7L624.2 359.5L627.1 357.5L628.1 359.5L624.8 360.7ZM628.5 367.2L630.2 364L632.1 361.1L633.8 362.5L631.3 364.9ZM638.3 365.6L637.7 369.1L636.8 372.5L634.7 371.7L636.4 368.6ZM644.3 369.9L644 373.4L643.3 376.9L641.2 376.2L642.6 373ZM649.3 374.1L650.3 377.5L651 381L648.7 381.2L648.9 377.6ZM653.3 379.5L656.3 381.5L659.1 383.6L657.6 385.2L655.4 382.5ZM659.3 384.3L662.5 385.8L665.6 387.5L664.3 389.3L661.7 386.9ZM666.6 387.7L669 390.4L671.1 393.1L669.2 394.3L667.8 391.1ZM675.2 391.6L675.3 395.2L675.2 398.7L673 398.4L674 395ZM683.2 396.8L681.4 399.9L679.5 402.9L677.8 401.4L680.4 399ZM689.8 401.5L687.6 404.4L685.3 407L683.8 405.3L686.7 403.3ZM696.9 407.5L693.6 408.9L690.2 410L689.8 407.8L693.3 407.5ZM702.2 415.1L699.2 413.1L696.5 410.9L698 409.3L700.2 412.1ZM707.9 419.9L705.4 417.4L703.1 414.7L705 413.4L706.6 416.6ZM712.9 424.8L711.6 421.5L710.5 418.1L712.7 417.7L712.9 421.2ZM718.4 429.2L717.8 425.7L717.5 422.2L719.8 422.3L719.2 425.7ZM724.2 433.6L724.1 430L724.2 426.5L726.4 426.8L725.5 430.2ZM729.6 437.6L730.4 434.2L731.5 430.8L733.5 431.8L731.7 434.8ZM736.1 442.5L736.6 438.6L737.3 434.8L739.7 435.6L738 439.1ZM742 446.3L743 442.9L744.2 439.6L746.2 440.6L744.2 443.5ZM748.6 450.9L749.2 447.4L750 443.9L752.1 444.7L750.5 447.8ZM753 453.5L755.8 451.3L758.8 449.4L759.8 451.5L756.4 452.6ZM763.8 453.2L763 456.6L762 460L759.9 459.1L761.8 456.1ZM770.6 457.8L769.2 461.1L767.6 464.2L765.8 463L768.1 460.3ZM435.1 238.2L438.6 238.8L442.1 239.7L441.2 241.8L438.1 240.1ZM442.2 241.3L445.1 243.3L447.9 245.5L446.3 247.1L444.2 244.3ZM448.4 244.9L451.5 247.7L454.4 250.6L452.3 252.2L450.2 248.6ZM454.4 249.6L457.8 252L461 254.6L459.1 256.4L456.6 253.1ZM461 254.2L464 256.5L466.8 258.9L465 260.5L462.9 257.4ZM468.1 258.2L470.3 261L472.4 263.9L470.4 264.9L469.1 261.6ZM473.9 262.9L476.6 265.3L479 267.9L477.1 269.2L475.4 266.1ZM479.3 268.2L482.6 269.5L485.8 271L484.6 272.9L481.9 270.7ZM485.2 273.4L488.7 273.8L492.2 274.4L491.5 276.6L488.3 275.1ZM491.3 278.2L494.9 278.1L498.4 278.3L498.1 280.5L494.7 279.5ZM497.6 282.6L501.2 282.5L504.7 282.6L504.3 284.9L501 283.9ZM503.9 286.7L507.5 286.9L511 287.4L510.4 289.5L507.2 288.2ZM512.6 295.3L512.9 291.8L513.5 288.3L515.6 288.9L514.3 292.1ZM522.1 299L519.3 296.8L516.8 294.4L518.5 292.9L520.4 295.9ZM526.3 297.2L526.8 300.7L527.1 304.2L524.9 304.2L525.4 300.7ZM532.9 301.6L533.1 305.2L533 308.7L530.8 308.4L531.7 305ZM538.9 306L539.4 309.5L539.5 313L537.3 312.9L538 309.4ZM544.5 310.3L545.6 313.7L546.5 317.2L544.2 317.4L544.2 313.9ZM550.8 314.7L551.9 318.1L552.7 321.5L550.5 321.8L550.5 318.3ZM558 318.6L558.3 322.7L558.2 326.7L555.7 326.4L556.7 322.5ZM565 321.8L564.8 326L564.3 330.1L561.8 329.4L563.2 325.6ZM571.8 323.1L571.7 327.3L571.3 331.4L568.8 330.8L570.1 326.9ZM577.4 329.9L577.4 334.1L577.1 338.2L574.5 337.7L575.8 333.8ZM582 336.3L583.3 340L584.3 343.7L581.8 344L581.8 340.2ZM585.3 344.5L588.8 343.7L592.3 343.3L592.3 345.5L588.8 345.1ZM590.2 353.2L592.7 349.9L595.4 346.7L597.2 348.7L593.8 351.1ZM597.5 355.8L600.4 352.9L603.5 350.1L605 352.3L601.3 354.2ZM604.2 357L607.7 356.9L611.3 357.1L610.9 359.3L607.5 358.3ZM611.2 359.7L614.3 361.4L617.3 363.4L615.8 365.1L613.4 362.5ZM616.7 366.2L620.2 365.6L623.7 365.3L623.6 367.5L620.1 367ZM624.3 373.5L625.9 370.3L627.7 367.2L629.4 368.6L627 371.1ZM635.8 373.5L633 375.7L630.1 377.6L629.1 375.6L632.4 374.4ZM640.1 376.1L639.6 379.7L638.9 383.1L636.7 382.4L638.3 379.2ZM644.8 380.3L645.9 383.7L646.8 387.1L644.6 387.4L644.5 383.9ZM648.8 385.9L651.9 387.7L654.9 389.6L653.4 391.3L651 388.7ZM654.9 390.5L658.2 392L661.3 393.7L659.9 395.5L657.4 393.1ZM663.1 393.6L664.7 396.8L666 400L663.9 400.6L663.4 397.1ZM672 398.3L670.9 401.7L669.6 404.9L667.6 403.8L669.7 401ZM678.8 403L677.1 406.1L675.2 409.1L673.5 407.7L676 405.3ZM685.5 407.5L683.3 410.6L681 413.5L679.4 411.8L682.3 409.5ZM691.8 412.2L689.5 415L687.2 417.6L685.7 415.9L688.6 413.9ZM698.9 418.5L695.4 419.5L692 420.2L691.8 418L695.3 418.1ZM705 424.1L701.5 423.9L698 423.4L698.5 421.2L701.8 422.5ZM706 430.5L707.3 427.2L708.8 424L710.7 425.2L708.5 427.9ZM713.8 436.3L713.3 432.2L713.1 428L715.8 428.2L715 432.3ZM718.5 439.7L719.8 435.9L721.3 432.3L723.5 433.6L721.1 436.7ZM724.9 445.3L725.7 441.2L726.7 437.1L729.1 438.1L727.2 441.7ZM730.9 448.8L732.2 444.8L733.7 441L736 442.2L733.6 445.6ZM738.3 453.4L738.5 449.3L739 445.2L741.5 445.8L740 449.6ZM745.2 457.3L744.8 453.8L744.7 450.2L747 450.4L746.2 453.9ZM751.8 461.7L751.1 458.2L750.6 454.7L752.9 454.7L752.5 458.2ZM761.1 460.8L758.4 463.2L755.6 465.3L754.4 463.3L757.7 462ZM766.7 464.4L764.8 467.4L762.7 470.2L761.1 468.7L763.8 466.5ZM424.6 242.8L427.5 240.7L430.5 238.8L431.4 240.8L428.1 241.9ZM430.7 244.7L434.2 245L437.7 245.6L437.1 247.7L433.8 246.3ZM437.9 247.5L440.8 249.6L443.5 251.8L441.9 253.4L439.8 250.5ZM444.5 251.2L447.2 254L449.7 256.9L447.7 258.3L445.9 254.8ZM450.5 255.7L453.5 258.3L456.2 261.1L454.2 262.7L452.2 259.3ZM457.4 259.9L459.8 262.8L461.9 265.9L459.8 267L458.5 263.5ZM464.2 264.3L466 267.3L467.7 270.4L465.6 271.2L464.7 267.8ZM469.6 269.1L472.2 271.5L474.6 274.1L472.7 275.4L471.1 272.3ZM475 274.4L478.3 275.7L481.5 277.3L480.2 279.1L477.5 276.9ZM480.9 279.5L484.4 280L487.9 280.7L487.1 282.9L484 281.3ZM487 284.2L490.6 284.4L494.1 284.8L493.6 286.9L490.3 285.7ZM493.4 288.2L497 288.8L500.4 289.6L499.6 291.7L496.5 290.1ZM501.2 290.8L503.6 293.4L505.8 296.2L503.9 297.4L502.4 294.2ZM511.3 295.3L509.8 298.6L508.1 301.6L506.3 300.3L508.7 297.8ZM518.5 304.4L515.2 303.1L512 301.7L513.1 299.8L515.9 301.9ZM523.6 303.9L522.4 307.3L520.9 310.5L519 309.3L521.2 306.6ZM528.8 307.9L528.7 311.4L528.4 315L526.2 314.5L527.4 311.1ZM534.9 312.2L535 315.8L534.9 319.3L532.7 319L533.6 315.6ZM540.1 316.6L541.3 319.9L542.2 323.3L540 323.7L539.9 320.1ZM546.1 321L547.5 324.3L548.7 327.6L546.6 328.1L546.2 324.6ZM553.1 325.1L553.9 328.8L554.3 332.5L552 332.5L552.4 328.8ZM560.2 328.4L560.3 332.6L560.1 336.7L557.5 336.2L558.7 332.3ZM567 330.6L567 334.8L566.7 338.9L564.2 338.4L565.4 334.5ZM573.6 334.4L573.5 338.6L573.1 342.7L570.5 342.1L571.9 338.2ZM577.5 342.1L579 346L580.1 350L577.5 350.4L577.4 346.3ZM581 350.9L584.4 350L587.9 349.3L588 351.6L584.5 351.4ZM586.5 359.5L588.7 356L591.2 352.7L593.1 354.5L589.9 357.1ZM593.6 361.7L596.6 358.7L599.7 356.1L601.1 358.3L597.4 360.1ZM600.1 362.3L603.6 363.2L606.9 364.2L606 366.3L603 364.4ZM608.1 365L610.2 367.9L612 370.9L610 371.8L608.9 368.5ZM614.3 369.4L616.4 372.2L618.3 375.2L616.3 376.2L615.2 372.8ZM619.8 379.5L621.6 376.5L623.5 373.5L625.2 375L622.6 377.4ZM631 383.6L627.9 381.8L625 379.8L626.4 378.2L628.8 380.8ZM636.1 382.5L635.2 386L634.2 389.3L632.1 388.4L634 385.4ZM640.7 386.5L641.6 390L642.2 393.5L640 393.6L640.2 390.1ZM644.3 392.4L647.6 393.8L650.6 395.5L649.3 397.4L646.7 395ZM650.4 397.1L653.8 398.2L657 399.5L655.9 401.5L653.1 399.4ZM659.1 399.7L660.4 403.1L661.3 406.4L659.1 406.8L659 403.3ZM667.3 404.3L666.6 407.8L665.6 411.2L663.6 410.4L665.3 407.3ZM673.6 408.5L672.9 412.2L672 415.8L669.8 414.9L671.5 411.6ZM680.3 412.5L679.3 416.5L678 420.4L675.6 419.3L677.8 415.8ZM684.9 417.2L685.4 420.7L685.7 424.2L683.5 424.1L684.1 420.6ZM690.4 421.6L691.7 424.9L692.8 428.3L690.6 428.7L690.3 425.2ZM695.7 426.3L697.9 429.1L699.8 432.1L697.8 433L696.7 429.7ZM700.2 433L703.7 433.1L707.2 433.5L706.7 435.7L703.4 434.5ZM704.6 439.5L708.3 437.7L712.2 436.2L712.8 438.8L708.7 439.3ZM712 444.6L715.3 442L718.8 439.7L720 442.1L716.1 443.5ZM718.3 450.7L720.7 447.3L723.4 444.1L725.2 446L721.9 448.5ZM725.4 454.2L727.9 450.8L730.7 447.7L732.4 449.7L729 452ZM732.4 459.2L734.1 455.4L736 451.8L738.2 453.3L735.4 456.3ZM739.1 462.9L740.6 459.6L742.3 456.5L744.1 457.9L741.7 460.4ZM745.6 467.4L746.8 464.1L748.3 460.8L750.2 462L748 464.8ZM750.3 469.5L753.6 468.1L756.9 467L757.4 469.2L753.8 469.5ZM760.5 469.7L760.7 473.3L760.5 476.8L758.3 476.4L759.3 473.1ZM421.1 250.2L422.9 247.1L424.9 244.1L426.6 245.6L424 248ZM426.2 252.4L429.6 251.2L433 250.3L433.3 252.5L429.8 252.6ZM433.6 253.6L436.5 255.8L439.1 258.1L437.5 259.6L435.4 256.7ZM440.6 257.5L442.8 260.3L444.8 263.2L442.8 264.3L441.6 261ZM446.7 261.8L449.1 264.7L451.3 267.6L449.3 268.7L447.9 265.4ZM453.6 265.9L455.5 269.2L457 272.5L454.8 273.3L454.1 269.6ZM460.3 270.3L461.7 273.6L462.9 276.9L460.7 277.4L460.4 273.9ZM465.3 275.3L467.9 277.7L470.2 280.3L468.4 281.6L466.7 278.5ZM470.6 280.7L473.9 281.9L477.1 283.4L476 285.3L473.2 283.1ZM476.5 285.8L480.1 286.2L483.5 286.9L482.8 289L479.6 287.5ZM482.7 290.5L486.3 290.6L489.8 290.9L489.3 293.1L486 291.9ZM489.3 294L492.7 295L496 296.3L495 298.2L492.1 296.3ZM498.6 296.5L499.3 300L499.8 303.5L497.6 303.5L497.9 300ZM506.4 301.2L505.5 304.7L504.4 308L502.4 307.1L504.3 304.1ZM514.5 310L510.9 309.4L507.5 308.6L508.3 306.5L511.4 308.1ZM517.8 309.7L518.1 313.2L518.2 316.7L516 316.5L516.8 313.1ZM524.1 314L524.4 317.6L524.5 321.1L522.3 320.9L523 317.4ZM530.4 318.4L530.7 322L530.6 325.5L528.4 325.2L529.3 321.8ZM535.2 322.9L536.9 326.1L538.4 329.3L536.2 329.9L535.6 326.5ZM541 327.5L543.1 330.3L545 333.3L543 334.3L541.9 330.9ZM548.2 331.6L549.5 334.9L550.4 338.3L548.2 338.6L548.1 335.1ZM555.5 335L555.9 339.1L556 343.3L553.4 343L554.3 339ZM562.3 337.9L562.4 342.1L562.2 346.2L559.7 345.8L560.8 341.8ZM569.7 340.1L569.4 344.3L568.9 348.4L566.3 347.7L567.9 343.9ZM573.9 347.9L574.7 352L575.1 356.1L572.5 356.1L573 352ZM576.6 356.9L580.1 356.2L583.6 355.8L583.6 358L580.1 357.6ZM582.8 365.6L584.8 361.9L587 358.5L589 360.1L586 363ZM589.5 368.2L592.1 365L595 362L596.6 364.1L593.2 366.3ZM596.1 368L599.3 369.4L602.4 371.1L601.2 372.9L598.5 370.6ZM604 371.1L605.8 374.1L607.5 377.3L605.4 378.1L604.5 374.6ZM610.4 375.4L612.1 378.5L613.6 381.7L611.5 382.4L610.8 379ZM615.2 380.8L618.2 382.6L621.1 384.7L619.5 386.3L617.3 383.6ZM621.2 385.5L624.4 386.9L627.5 388.7L626.2 390.5L623.6 388.1ZM630.6 388.4L631 391.9L631.1 395.5L628.8 395.3L629.6 391.8ZM636.3 392.8L637.2 396.2L637.9 399.7L635.6 399.8L635.8 396.3ZM639.7 399L643.1 400L646.4 401.3L645.3 403.3L642.5 401.2ZM645.6 405.2L649 404.3L652.5 403.7L652.6 405.9L649.1 405.7ZM654.7 405.9L656 409.3L657.1 412.6L654.9 413L654.7 409.5ZM662.6 410.1L662.3 414L661.8 417.8L659.4 417.1L660.9 413.6ZM668.4 414.2L668.7 418.2L668.6 422.2L666.1 421.9L667.1 418ZM674.7 417.8L675 421.9L675 426.1L672.4 425.8L673.4 421.8ZM678.8 423.8L681 426.6L683 429.5L681 430.5L679.8 427.2ZM684.5 427.2L687.1 430.4L689.5 433.8L687.2 435L685.7 431.2ZM689.4 432.6L693 434.6L696.5 436.9L694.8 438.9L692 435.9ZM694.4 438.3L698.6 438.9L702.6 439.8L701.7 442.3L698 440.5ZM700.1 443.4L704.3 443.3L708.4 443.6L707.9 446.2L704 444.9ZM705.9 448.7L710 447.9L714.1 447.5L714.1 450.1L710 449.6ZM712.4 454.7L716.2 452.8L720 451.2L720.7 453.8L716.6 454.4ZM720.3 458.9L723.9 456.8L727.6 454.9L728.5 457.4L724.5 458.3ZM726.7 464.5L729.6 461.5L732.7 458.8L734.2 460.9L730.6 462.9ZM733.9 468.2L736.4 465.7L739.2 463.4L740.4 465.3L737.2 466.8ZM740.5 472.9L742.6 470.1L745 467.5L746.5 469.2L743.5 471.2ZM745.9 475L749.4 474.3L752.9 473.9L752.9 476.1L749.4 475.7ZM755.2 475.9L756.3 479.3L757.1 482.7L754.9 483L754.9 479.5ZM416.6 256.2L418.6 253.2L420.8 250.5L422.4 252.1L419.6 254.2ZM421.9 258.6L425.3 257.4L428.7 256.5L429 258.7L425.4 258.8ZM429.5 259.7L432.2 262.1L434.6 264.6L432.9 265.9L431.1 262.9ZM436.7 263.5L438.5 266.6L440.2 269.8L438.1 270.6L437.2 267.1ZM442.8 267.5L444.9 271L446.7 274.5L444.3 275.4L443.4 271.5ZM449.5 271.6L451.2 275.4L452.6 279.3L450.1 279.9L449.6 275.8ZM455.9 276.3L457.4 279.8L458.6 283.4L456.3 283.9L456 280.1ZM461 281.5L463.5 284L465.9 286.6L464 287.9L462.4 284.8ZM466.2 286.9L469.6 288.1L472.8 289.6L471.6 291.5L468.9 289.3ZM472.2 291.9L475.7 292.5L479.2 293.3L478.4 295.4L475.2 293.8ZM478.4 296.5L482 296.8L485.4 297.4L484.8 299.5L481.6 298.1ZM485.2 299.9L488.4 301.3L491.5 302.9L490.3 304.8L487.6 302.4ZM494 302.7L495 306.2L495.7 309.6L493.5 309.8L493.6 306.3ZM501.3 307.2L501.2 310.7L501 314.3L498.8 313.8L499.9 310.5ZM509.2 312.4L507.3 315.5L505.2 318.3L503.6 316.8L506.3 314.5ZM510.2 317.5L513.5 318.8L516.7 320.3L515.4 322.2L512.7 319.9ZM518.3 320.4L520 323.5L521.5 326.7L519.4 327.4L518.7 323.9ZM525.3 324.6L526.3 328L527.1 331.5L524.8 331.7L524.9 328.2ZM530.4 329.3L532.5 332.2L534.5 335.1L532.4 336.1L531.3 332.8ZM535.9 334.2L538.7 336.4L541.3 338.8L539.6 340.3L537.6 337.3ZM543.8 337.8L545.1 341.1L546.2 344.5L544 344.9L543.8 341.4ZM551.2 342.1L551.4 345.7L551.4 349.3L549.1 349L550 345.5ZM558.1 345.2L557.9 349.4L557.5 353.5L555 352.9L556.3 349.1ZM565.8 346.5L565.3 350.7L564.5 354.7L562 353.9L563.8 350.2ZM570.5 354.1L570.4 358.3L570.1 362.4L567.5 361.9L568.8 358ZM574.5 359.8L576.4 362.9L578.1 366L576 366.8L575.1 363.4ZM579.2 371.7L580.8 367.9L582.7 364.2L584.9 365.6L582.2 368.8ZM585.7 375.1L587.6 371.4L589.9 367.9L591.9 369.6L588.9 372.4ZM591.7 374.3L595 375.7L598.1 377.2L596.9 379.1L594.2 376.8ZM599.7 377.3L601.5 380.4L603.1 383.5L601 384.3L600.2 380.8ZM606 381.7L607.8 384.8L609.3 387.9L607.2 388.7L606.5 385.2ZM611.3 386.5L613.9 388.9L616.3 391.5L614.5 392.8L612.8 389.8ZM617.2 391.2L620.2 393.2L622.9 395.5L621.3 397L619.2 394.2ZM624.2 395.1L626.5 397.8L628.6 400.6L626.7 401.7L625.3 398.5ZM631.2 399.1L632.9 402.3L634.3 405.5L632.1 406.2L631.5 402.7ZM636.2 404.2L639 406.4L641.6 408.8L639.9 410.2L637.9 407.3ZM641.8 413.2L644.3 410.7L647 408.4L648.3 410.2L645.1 411.8ZM649 412.7L651.6 415.2L653.9 417.9L652 419.1L650.4 416ZM658 416.4L658 420.1L657.7 423.8L655.3 423.4L656.5 419.8ZM664 420.3L664.3 424.4L664.4 428.6L661.8 428.3L662.7 424.3ZM669.4 424.2L670.6 428.2L671.4 432.3L668.8 432.5L668.9 428.4ZM674 429.2L676.6 432.5L679 435.8L676.7 437.1L675.2 433.2ZM679 434.8L682.7 436.7L686.2 438.9L684.6 440.9L681.7 438ZM684.3 438.4L688 440.3L691.5 442.5L689.8 444.6L687 441.6ZM689.5 443.2L693.4 444.5L697.3 446.1L696 448.4L692.6 445.9ZM695 448.3L699.2 449L703.2 450L702.3 452.4L698.6 450.5ZM701.3 453.8L705.5 453.8L709.6 454.1L709.1 456.7L705.2 455.4ZM708.9 458.9L713 458.5L717.1 458.4L716.9 461L712.9 460.1ZM715 464.2L719 463L723.1 462.1L723.3 464.8L719.2 464.6ZM721.9 469.4L725.6 467.4L729.4 465.8L730.1 468.3L726.1 469ZM729.1 473.5L732.3 471.8L735.5 470.4L736.1 472.6L732.7 473.1ZM735.4 478.7L738.4 476.2L741.5 473.9L742.7 476.1L739.1 477.5ZM741.6 480.5L745.2 480.6L748.7 480.9L748.2 483.1L744.9 481.9ZM750.9 482.1L752 485.5L752.8 489L750.5 489.2L750.6 485.7ZM412.1 262.2L414.3 259.4L416.7 256.8L418.1 258.5L415.2 260.5ZM417.9 265.9L420.7 263.7L423.7 261.8L424.6 263.8L421.3 265ZM426 265.5L427.9 268.4L429.6 271.5L427.5 272.4L426.6 269ZM432.9 269.5L434.3 272.9L435.4 276.5L433 276.9L432.8 273.2ZM438.9 273.8L440.5 277.3L441.9 280.9L439.5 281.4L439.1 277.6ZM445.5 277.7L446.9 281.7L447.9 285.6L445.3 286L445.3 281.9ZM451.9 282.5L453.1 286.1L454 289.7L451.6 290L451.6 286.3ZM456.7 287.7L459.2 290.2L461.5 292.9L459.6 294.1L458 291ZM461.9 293.1L465.2 294.4L468.4 295.9L467.3 297.8L464.5 295.5ZM467.9 298L471.4 298.7L474.8 299.6L474 301.7L470.9 300ZM474.1 302.5L477.6 303L481.1 303.8L480.4 305.9L477.2 304.4ZM480.9 306L484.1 307.5L487.1 309.3L485.8 311.1L483.3 308.6ZM489.2 309L490.6 312.3L491.8 315.6L489.6 316.1L489.3 312.6ZM496.2 313.3L496.9 316.8L497.3 320.3L495.1 320.3L495.5 316.8ZM502.1 317.7L503.2 321.1L504 324.6L501.8 324.8L501.8 321.3ZM505.9 323.5L509.2 325L512.2 326.8L510.9 328.6L508.3 326.1ZM513.3 326.9L515.6 329.6L517.7 332.4L515.8 333.5L514.4 330.3ZM520.5 330.9L522 334.2L523.2 337.5L521 338L520.6 334.5ZM525.8 335.7L528.2 338.4L530.3 341.2L528.4 342.3L527 339.1ZM531.3 340.7L534.3 342.6L537.2 344.6L535.6 346.3L533.4 343.6ZM539.6 344L540.8 347.4L541.7 350.8L539.4 351.1L539.4 347.5ZM547.3 348.4L547 352L546.5 355.5L544.4 354.9L545.7 351.6ZM554.3 352.5L553.4 356.5L552.2 360.4L549.8 359.3L551.9 355.9ZM561.7 353.9L560.9 358L559.8 361.9L557.3 360.9L559.4 357.3ZM567.4 360.3L566.4 364.4L565 368.3L562.6 367.1L564.9 363.6ZM573.6 366.6L572 369.8L570.2 372.8L568.4 371.4L570.9 368.9ZM576.5 377.4L577 373.5L577.7 369.6L580.1 370.4L578.4 373.9ZM582.5 382.8L582.9 378.7L583.7 374.6L586.2 375.4L584.5 379.1ZM587 383.9L590 381.8L593 380L593.9 382L590.5 383.1ZM596.6 383.3L597.2 386.9L597.5 390.4L595.2 390.3L595.8 386.8ZM603.1 387.7L603.5 391.3L603.6 394.8L601.4 394.6L602.1 391.1ZM607.7 392.4L609.7 395.3L611.4 398.4L609.4 399.2L608.4 395.9ZM613 397.3L615.8 399.5L618.4 401.9L616.7 403.3L614.8 400.4ZM620 401.2L622.2 404L624.2 406.9L622.2 408L621 404.6ZM627.2 405.3L628.5 408.6L629.6 411.9L627.4 412.3L627.2 408.8ZM633.4 409.6L634.8 412.9L635.9 416.3L633.7 416.7L633.4 413.2ZM637.7 419.7L639.9 416.9L642.4 414.4L643.8 416.1L640.8 418ZM643.2 421.6L646.7 421.1L650.2 420.9L650.1 423.2L646.6 422.5ZM653.3 422.7L653.6 426.3L653.7 429.8L651.4 429.6L652.2 426.1ZM659.3 426.3L660 430.4L660.4 434.5L657.7 434.4L658.4 430.3ZM664.1 431.7L666.1 434.7L667.8 437.8L665.7 438.6L664.8 435.2ZM669.2 435.5L672.1 438.5L674.8 441.6L672.6 443.1L670.8 439.4ZM674.4 440L677.9 442.4L681.1 445L679.2 446.8L676.7 443.5ZM679.8 445.6L683.8 446.9L687.6 448.5L686.3 450.8L683 448.3ZM685.7 450.7L689.8 451.3L693.8 452.3L692.9 454.7L689.3 452.9ZM691.7 455.1L695.8 455.6L699.9 456.5L699 459L695.3 457.2ZM697.5 459.6L701.7 459.9L705.8 460.6L705 463.2L701.2 461.5ZM703.5 464.4L707.6 464.4L711.7 464.7L711.2 467.3L707.3 466ZM710 469.4L714.1 469L718.3 468.9L718 471.5L714 470.6ZM718 473.8L722 473.6L725.9 473.6L725.6 476.1L721.8 475.1ZM723.8 479.2L727.8 477.9L731.8 476.9L732.1 479.5L728 479.5ZM730.5 483.8L734.3 482.3L738.1 481.1L738.5 483.7L734.5 483.9ZM737.6 485.8L741 486.8L744.3 488.2L743.2 490.1L740.3 488.1ZM746.3 488.4L747.6 491.7L748.7 495.1L746.5 495.5L746.3 492ZM407.3 267.7L410.1 265.6L413 263.6L414 265.6L410.7 266.8ZM413.3 269.7L416.8 269.9L420.3 270.4L419.8 272.5L416.5 271.2ZM422.3 271.5L423.6 274.8L424.6 278.2L422.4 278.6L422.2 275ZM429.1 275.8L429.9 279.3L430.5 282.8L428.2 282.8L428.5 279.3ZM435.2 280.2L436.2 283.6L436.8 287.1L434.6 287.2L434.8 283.7ZM442.2 284.3L442.5 288.1L442.5 291.9L440.1 291.6L441 288ZM448.5 289L448.7 292.5L448.6 296L446.4 295.7L447.3 292.3ZM453 293.5L454.9 296.6L456.5 299.7L454.4 300.5L453.6 297ZM457.4 299.7L460.8 300.5L464.2 301.6L463.2 303.7L460.2 301.8ZM463.4 304.6L467 304.9L470.5 305.5L469.9 307.6L466.6 306.2ZM469.7 309.1L473.2 309.2L476.7 309.6L476.2 311.8L472.9 310.6ZM476.8 311.9L479.8 313.8L482.7 315.9L481.1 317.5L478.9 314.8ZM486 315.2L486.3 318.8L486.3 322.3L484.1 322L484.9 318.6ZM493 319.7L492.5 323.3L491.8 326.7L489.7 326L491.2 322.8ZM498.8 324L498.8 327.6L498.5 331.1L496.3 330.6L497.5 327.3ZM501.7 329.6L504.8 331.3L507.9 333.1L506.5 334.8L504 332.3ZM508.9 333.1L511.3 335.8L513.4 338.7L511.4 339.8L510.1 336.5ZM516 337.2L517.6 340.4L519 343.6L516.9 344.2L516.3 340.7ZM521.4 342L523.8 344.6L526 347.3L524.1 348.5L522.6 345.3ZM526.9 346.9L530 348.8L532.8 350.8L531.3 352.5L529 349.8ZM534.6 350.4L536.4 353.4L538 356.6L535.8 357.3L535.1 353.9ZM542.7 354.6L542.7 358.2L542.5 361.7L540.3 361.3L541.3 357.9ZM549.9 359.1L549 362.7L547.8 366.3L545.6 365.3L547.6 362.1ZM557.4 360.8L556.3 364.9L555.1 368.8L552.7 367.7L554.9 364.2ZM563.9 365.8L562.6 369.8L560.9 373.6L558.7 372.3L561.2 369ZM570.1 373.7L567.5 376.1L564.7 378.3L563.5 376.4L566.7 375ZM573.8 383.4L572.7 380L571.8 376.6L574 376.3L574 379.8ZM579.1 389.4L578.7 385.3L578.6 381.1L581.3 381.4L580.3 385.5ZM586.3 392.2L585.2 388.8L584.4 385.3L586.6 385.1L586.6 388.6ZM595.3 391.4L592.5 393.7L589.6 395.7L588.5 393.7L591.8 392.4ZM601.2 395.2L598.9 398L596.4 400.5L595 398.7L598 396.9ZM607.7 399.9L605.1 402.4L602.3 404.6L601.1 402.7L604.3 401.2ZM614.3 407.1L610.8 406.8L607.3 406.3L607.9 404.2L611.1 405.5ZM617 407.1L617.9 410.5L618.6 414L616.4 414.1L616.5 410.6ZM624.1 411.5L624.2 415L624 418.6L621.8 418.2L622.8 414.8ZM630.6 415.9L630.4 419.5L630 423L627.8 422.4L629.1 419.1ZM633.1 425.6L635.7 423.1L638.4 420.9L639.6 422.7L636.4 424.3ZM639.1 429.4L642 427.4L645.1 425.7L646 427.7L642.6 428.7ZM648 429L649.3 432.3L650.2 435.7L648 436.1L647.9 432.5ZM654.2 432.8L655.6 436.7L656.8 440.5L654.3 441L654.1 436.9ZM659 437.4L661.7 440.5L664.1 443.9L661.8 445.2L660.3 441.3ZM664.3 443.4L667.8 444.9L671.2 446.7L669.8 448.7L666.9 446.2ZM669.8 447L673.5 448.8L677.1 450.9L675.5 453L672.5 450.1ZM675.2 451.1L679.1 452.8L682.8 454.6L681.3 456.8L678.2 454.1ZM680.8 455.7L684.8 457L688.6 458.5L687.3 460.8L684 458.4ZM686.6 460.5L690.7 461.4L694.7 462.6L693.6 465L690.1 462.9ZM692.7 465.3L696.9 465.9L700.9 466.8L700 469.3L696.3 467.4ZM699.4 470L703.5 470.5L707.6 471.3L706.8 473.8L703.1 472ZM707.1 474.5L711.2 475.3L715.2 476.4L714.2 478.8L710.6 476.8ZM712.5 479.7L716.7 479.6L720.8 479.8L720.4 482.4L716.4 481.2ZM718.7 484.7L722.8 484.1L726.9 483.7L726.8 486.4L722.8 485.7ZM726.6 488.6L730.2 488.6L733.7 488.9L733.3 491.1L729.9 490ZM734.1 491L736.9 493.2L739.4 495.7L737.7 497.1L735.8 494.1ZM742.3 494.6L743.3 498L744 501.4L741.8 501.6L741.9 498.1ZM409.1 275.4L412.6 276.1L416 277.1L415.1 279.2L412 277.4ZM418.6 277.6L419.3 281.2L419.7 284.7L417.4 284.6L417.9 281.1ZM424.9 282L425.5 285.5L425.9 289L423.7 289L424.2 285.5ZM431.2 286.4L431.8 289.9L432.1 293.4L429.9 293.4L430.4 289.9ZM438.1 290.5L438.1 294.4L437.9 298.2L435.5 297.8L436.6 294.1ZM444.5 295.2L444.3 298.8L443.9 302.3L441.7 301.8L443 298.5ZM449.3 299.6L450.6 302.9L451.7 306.2L449.5 306.7L449.2 303.2ZM452.7 307.1L456.3 306.7L459.8 306.6L459.6 308.8L456.1 308.1ZM459 312.4L462.3 311.1L465.7 310.1L466.1 312.3L462.6 312.5ZM466 318.3L468.3 315.6L470.8 313.1L472.2 314.9L469.2 316.7ZM476.3 323.8L474.4 320.8L472.7 317.7L474.7 316.9L475.6 320.3ZM484.6 323.9L481.5 325.6L478.2 327L477.6 324.8L481.1 324.2ZM490.9 328.2L487.7 329.9L484.6 331.4L483.9 329.3L487.3 328.6ZM497.2 334.4L493.6 334.3L490.1 334L490.6 331.8L494 333ZM497.5 340.4L499.6 337.5L501.8 334.8L503.4 336.4L500.5 338.5ZM504.7 339.3L507 342.1L508.9 345L507 346L505.7 342.7ZM511.6 343.4L513.3 346.6L514.6 349.8L512.5 350.4L511.9 347ZM517 348.2L519.5 350.8L521.7 353.5L519.8 354.7L518.3 351.5ZM522.5 353.2L525.6 355L528.5 357L527.1 358.7L524.7 356ZM529.8 356.8L532 359.6L534 362.5L532 363.5L530.8 360.2ZM537.4 360.8L538.4 364.2L539 367.7L536.8 367.8L537 364.3ZM544.7 365.1L544.6 368.8L544.3 372.4L542.1 372L543.2 368.5ZM552.9 367L552 371.1L550.7 375L548.3 374L550.5 370.4ZM559.7 371.6L558.4 375.6L556.8 379.4L554.6 378.2L557 374.8ZM564.6 378.8L563.3 382.1L561.8 385.3L559.9 384.1L562.2 381.4ZM570.5 389.3L568.4 386.4L566.5 383.5L568.5 382.5L569.6 385.8ZM575.1 394.2L574.6 390.5L574.3 386.8L576.7 386.9L576 390.6ZM581.8 398.4L580.9 395L580.1 391.5L582.4 391.3L582.2 394.8ZM591.1 398.1L588 399.9L584.9 401.5L584.1 399.3L587.6 398.6ZM597.2 402.1L594.4 404.3L591.4 406.2L590.5 404.2L593.8 403ZM603.8 408.8L600.2 408.7L596.7 408.3L597.2 406.1L600.5 407.3ZM608.8 415.2L606.1 412.8L603.6 410.3L605.3 408.9L607.2 412ZM616.2 417.8L612.7 417.4L609.2 416.8L609.9 414.7L613.1 416.1ZM622.1 419.3L619.5 421.7L616.8 424L615.6 422.1L618.8 420.6ZM628.3 423.5L625.8 426.1L623.2 428.4L621.9 426.6L625 424.9ZM632.6 433.3L631 430.1L629.7 426.8L631.8 426.2L632.4 429.7ZM636.8 437.6L637.3 434L638.1 430.6L640.2 431.4L638.6 434.5ZM641.9 436L644.7 438.2L647.4 440.5L645.7 442L643.7 439.1ZM648.8 440L651.1 442.7L653.2 445.5L651.2 446.6L649.9 443.4ZM654.2 444.4L657.4 446.9L660.3 449.6L658.3 451.2L656.2 447.9ZM659.5 448.3L663 450.6L666.2 453.1L664.4 454.9L661.8 451.7ZM665.1 453.1L668.9 454.8L672.5 456.9L670.9 459L667.9 456.1ZM671.1 458.2L675.1 459.4L679 460.8L677.8 463.2L674.4 460.8ZM677.3 463.2L681.4 463.9L685.4 464.8L684.5 467.3L680.9 465.4ZM683.5 467.8L687.6 468.3L691.7 469L690.9 471.5L687.1 469.8ZM689.5 472.1L693.6 472.6L697.7 473.3L696.9 475.8L693.1 474.1ZM695.5 476.2L699.6 476.8L703.6 477.7L702.7 480.2L699.1 478.3ZM701.8 480.7L706 481.2L710 482.1L709.2 484.5L705.4 482.8ZM708.5 485.7L712.7 485.8L716.8 486.3L716.2 488.8L712.3 487.4ZM716.1 490.1L719.6 490.5L723.1 491.1L722.4 493.3L719.2 491.8ZM723.3 493L726.2 495L729 497.2L727.4 498.8L725.2 496ZM732.2 496.4L732.7 499.9L732.9 503.5L730.6 503.3L731.3 499.9ZM739.6 501L738.9 504.5L738 507.9L735.9 507.1L737.6 504ZM404.5 282.6L408.1 282.3L411.6 282.3L411.3 284.5L407.9 283.7ZM414.3 283.9L414.9 287.4L415.3 290.9L413.1 290.8L413.5 287.4ZM420.1 288.3L421.2 291.7L422.1 295.1L419.8 295.4L419.8 291.8ZM426.3 292.7L427.5 296L428.4 299.4L426.2 299.7L426.1 296.2ZM433.4 296.6L433.8 300.6L433.9 304.5L431.4 304.3L432.3 300.4ZM439.7 301.3L440 304.9L440.1 308.5L437.8 308.3L438.6 304.8ZM443.5 306.4L446.1 308.8L448.6 311.4L446.8 312.7L445 309.7ZM448.6 312.2L452.1 313L455.5 314L454.6 316L451.6 314.3ZM454.8 316.9L458.3 317.3L461.8 318L461.1 320.1L457.9 318.7ZM461.1 321L464.6 321.7L468 322.7L467.2 324.7L464.1 323ZM467.2 326.2L470.8 326.1L474.3 326.2L473.9 328.4L470.5 327.4ZM478.8 328.2L477.5 331.5L476 334.7L474.1 333.4L476.3 330.7ZM486.6 334.6L483.4 336.2L480.1 337.4L479.5 335.3L483 334.8ZM491.9 342.4L489 340.3L486.2 338.1L487.9 336.6L490 339.4ZM494.9 347.6L495 344.1L495.4 340.6L497.6 341.1L496.4 344.4ZM499.6 346.1L502.5 348.1L505.2 350.4L503.6 351.9L501.5 349.1ZM507.4 349.6L508.9 352.8L510.2 356.1L508 356.7L507.6 353.2ZM512.8 354.4L515.1 357L517.3 359.8L515.3 361L513.9 357.7ZM518 359.6L521.2 361.2L524.2 363L522.9 364.8L520.4 362.3ZM525.3 363.1L527.7 365.8L529.8 368.6L527.8 369.7L526.5 366.5ZM532.8 367L534 370.4L535 373.8L532.8 374.1L532.6 370.6ZM539.9 371.3L540.3 374.9L540.5 378.5L538.2 378.4L538.9 374.8ZM548.1 373.9L547.3 378L546.1 382L543.7 381L545.8 377.4ZM555.3 377.9L554 381.9L552.5 385.7L550.2 384.5L552.6 381.1ZM559.2 384.6L559.1 388.1L558.7 391.7L556.5 391.2L557.7 387.8ZM563.6 389L565.3 392.1L566.8 395.3L564.7 396L564 392.6ZM567.7 398L570.7 396.1L573.8 394.5L574.6 396.6L571.2 397.4ZM574.7 403.5L576.7 400.6L579 397.9L580.5 399.5L577.7 401.6ZM585.6 402.7L584 405.9L582.2 409L580.5 407.6L582.9 405.1ZM592.3 407.5L590.2 410.4L587.9 413.1L586.4 411.4L589.3 409.4ZM599.5 414.5L596 414.9L592.4 415.1L592.6 412.8L596.1 413.5ZM604.8 421L601.8 419.1L599 417L600.5 415.4L602.8 418.1ZM611.8 424.3L608.3 423.6L604.9 422.7L605.7 420.6L608.8 422.3ZM618.3 427L614.9 428.1L611.4 428.8L611.2 426.6L614.7 426.7ZM624.6 431.4L621.1 432.4L617.7 433.2L617.5 430.9L621 431.1ZM629.5 438.9L626.8 436.5L624.4 434L626.1 432.6L627.9 435.7ZM634.1 444L632.9 440.6L632 437.2L634.3 436.9L634.3 440.4ZM640.1 448.4L639.2 444.9L638.5 441.4L640.8 441.3L640.6 444.8ZM642.8 450.3L645.9 448.6L649.1 447.1L649.8 449.2L646.4 449.9ZM648.9 453.3L652.5 452.9L656 452.8L655.8 455.1L652.4 454.3ZM655.4 456.7L658.9 457.3L662.4 458.3L661.5 460.3L658.4 458.6ZM661.2 460.3L665.2 461.6L669 463L667.8 465.4L664.4 463ZM666.8 464.2L670.8 465.5L674.6 467.2L673.3 469.4L670 466.9ZM672.9 468.9L677 470L680.9 471.3L679.7 473.7L676.3 471.4ZM679.1 473.6L683.2 474.4L687.2 475.5L686.2 477.9L682.6 475.9ZM685.2 478.3L689.3 478.8L693.4 479.6L692.6 482.1L688.8 480.3ZM692.4 482.9L696.5 483.5L700.6 484.4L699.7 486.8L696 485ZM699.5 487L702.9 488L706.2 489.2L705.1 491.2L702.2 489.2ZM706 490.9L709.2 492.4L712.3 494.2L711 496L708.4 493.5ZM718.3 495.9L715.4 498L712.4 499.8L711.5 497.8L714.8 496.7ZM724.8 501.1L721.5 502.4L718.2 503.5L717.7 501.3L721.2 501.1ZM731.1 505.5L727.7 506.8L724.4 507.8L724 505.6L727.5 505.4ZM737.1 509.1L734.2 511.1L731.2 512.9L730.2 510.9L733.6 509.9ZM400.2 288.4L403.8 288.5L407.3 289L406.8 291.1L403.5 289.9ZM410 290.1L410.6 293.6L410.9 297.1L408.7 297.1L409.2 293.6ZM414.8 294.8L416.8 297.7L418.6 300.7L416.5 301.6L415.5 298.2ZM421.1 299.1L423.1 302.1L424.8 305.1L422.8 306L421.8 302.6ZM427.2 302L429.2 305.6L431 309.4L428.5 310.2L427.7 306.2ZM432.8 306.1L435.2 309.6L437.3 313.1L434.9 314.2L433.7 310.2ZM438.1 311.5L441.3 314.2L444.2 317.1L442.2 318.7L440 315.2ZM443.9 316.4L447.4 318.7L450.7 321.1L448.9 323L446.3 319.8ZM450.1 320.7L453.6 322.9L456.9 325.4L455.1 327.3L452.5 324.1ZM456.6 325.3L460.1 327.5L463.4 330.1L461.6 331.9L459 328.7ZM463.3 329.8L466.7 332.2L469.9 334.9L468 336.7L465.6 333.4ZM469.9 334L473.1 336.7L476.1 339.6L474 341.3L471.9 337.7ZM476.5 338.6L479.5 341.2L482.2 344L480.2 345.6L478.2 342.2ZM482.5 343.7L485.6 345.6L488.5 347.6L486.9 349.3L484.6 346.6ZM488.3 348.7L491.7 349.9L495 351.2L493.9 353.2L491 351.1ZM495 352.6L498.1 354.3L501 356.2L499.6 358L497.2 355.4ZM503.2 355.8L504.6 359.1L505.7 362.4L503.6 362.9L503.2 359.4ZM508.6 360.5L510.8 363.3L512.7 366.2L510.7 367.2L509.6 363.9ZM513.7 365.8L516.9 367.4L519.9 369.3L518.5 371L516 368.5ZM520.5 369.7L523.2 371.9L525.8 374.3L524.1 375.7L522.2 372.8ZM528.2 373.3L529.7 376.6L530.9 379.9L528.7 380.4L528.3 376.9ZM535.7 377.6L535.9 381.2L535.9 384.7L533.7 384.4L534.6 381ZM544.5 380.2L543.2 384.1L541.6 388L539.3 386.7L541.8 383.3ZM551.5 384.3L549.9 388.1L548 391.8L545.9 390.4L548.5 387.2ZM554.2 390.7L554.8 394.3L555 397.8L552.8 397.6L553.4 394.2ZM558.9 395.4L561 398.3L562.8 401.3L560.7 402.2L559.7 398.9ZM564 400.7L567 402.4L570 404.4L568.5 406.1L566.1 403.5ZM570.8 404.5L573.4 406.9L575.8 409.5L574 410.8L572.3 407.7ZM580.3 408.4L579.8 411.9L579 415.4L576.9 414.6L578.5 411.5ZM587.3 413.1L586 416.5L584.5 419.6L582.6 418.5L584.8 415.7ZM594.3 418.2L592.1 421L589.7 423.6L588.3 421.9L591.2 419.9ZM601.3 425.9L597.7 425.5L594.3 424.8L595 422.7L598.1 424.2ZM607.7 428.9L604.3 429.9L600.8 430.6L600.6 428.4L604.1 428.5ZM613.7 432.3L610.7 434.2L607.6 435.9L606.8 433.8L610.2 432.9ZM619.9 436.6L617 438.6L614 440.4L613.1 438.3L616.5 437.3ZM624.9 445.3L622.4 442.7L620.2 440L622.1 438.8L623.6 442ZM629 450.2L628.6 446.7L628.4 443.1L630.6 443.3L630 446.8ZM634.5 454.4L634.9 450.9L635.5 447.4L637.6 448.1L636.2 451.3ZM639.6 458.2L641.3 455L643.1 452L644.9 453.4L642.3 455.9ZM645.2 461.9L647.7 459.3L650.3 456.9L651.6 458.7L648.5 460.4ZM651.3 465.9L654 463.6L656.9 461.5L657.9 463.5L654.7 464.8ZM657.3 469.7L660.4 467.9L663.6 466.4L664.3 468.5L660.8 469.2ZM663.4 473.5L666.8 472.3L670.2 471.3L670.5 473.5L667 473.6ZM669.7 477.7L673.1 476.6L676.5 475.9L676.7 478.1L673.2 478ZM676 482.3L679.3 481L682.7 480L683.1 482.2L679.5 482.4ZM682.9 488.1L685.3 485.5L687.9 483.1L689.2 484.9L686.1 486.6ZM692.7 493.9L691.3 490.6L690.1 487.3L692.3 486.8L692.6 490.3ZM701.5 493.7L698.4 495.5L695.2 497L694.5 494.9L698 494.2ZM708 499.4L704.4 499.9L700.9 500.1L701.1 497.9L704.5 498.5ZM714.2 504.2L710.6 504.3L707.1 504.1L707.5 501.9L710.9 502.9ZM720.5 508.4L716.9 508.7L713.4 508.6L713.7 506.4L717.1 507.3ZM726.7 512.9L723.2 513L719.7 512.9L720 510.7L723.4 511.7ZM733.1 516.8L729.5 517.4L726 517.8L726.1 515.5L729.6 516ZM402 297.7L398.8 296L395.9 294L397.3 292.3L399.7 294.9ZM408.2 302.2L405.1 300.3L402.2 298.3L403.7 296.6L406 299.3ZM408.4 303.5L412 303.5L415.5 303.8L415 306L411.7 304.9ZM415.8 304.8L418.6 307.8L421.2 311.1L418.9 312.4L417.2 308.7ZM422 307.9L424.5 311.3L426.7 314.8L424.3 315.9L423 312ZM427.9 312.2L430.5 315.5L432.9 318.8L430.6 320.1L429.1 316.2ZM433.3 317.3L436.5 320L439.5 322.8L437.5 324.5L435.3 321ZM439.1 322.2L442.6 324.4L445.9 326.9L444.1 328.8L441.5 325.6ZM445.2 326.5L448.8 328.7L452.1 331.2L450.3 333.1L447.7 329.9ZM451.5 330.8L455 333.1L458.3 335.5L456.5 337.4L453.9 334.2ZM457.9 334.9L461.3 337.3L464.5 340L462.6 341.8L460.2 338.5ZM464.4 339.1L467.7 341.7L470.7 344.5L468.8 346.2L466.5 342.8ZM470.7 343.5L474 346.1L477 348.8L475 350.6L472.7 347.1ZM476.9 348L480.2 350.5L483.4 353.2L481.4 355L479 351.6ZM483.6 353L487 355.5L490.2 358.1L488.3 359.9L485.8 356.6ZM491.1 357.9L493.9 360.6L496.5 363.5L494.5 364.9L492.7 361.5ZM498.9 362L500.3 365.3L501.3 368.7L499.1 369.1L498.9 365.6ZM504.6 366.5L506.5 369.6L508.1 372.7L506 373.5L505.2 370.1ZM509.4 371.9L512.6 373.7L515.5 375.6L514.1 377.3L511.7 374.7ZM515.7 376.3L518.8 378L521.7 380L520.3 381.7L517.9 379.1ZM523.3 379.7L525.3 382.7L527 385.7L525 386.6L524 383.2ZM531.5 383.9L531.6 387.4L531.4 391L529.2 390.6L530.2 387.2ZM541.5 386.3L539.5 390L537.4 393.5L535.3 391.9L538.3 389ZM546 392.4L544.3 396.2L542.4 399.9L540.3 398.4L543 395.3ZM549.7 396.9L550.4 400.4L550.9 403.9L548.6 403.9L549 400.4ZM554.5 401.7L556.6 404.5L558.5 407.5L556.5 408.4L555.4 405.1ZM560 406.5L562.8 408.7L565.3 411.2L563.6 412.6L561.7 409.6ZM567.1 410.3L569.2 413.3L570.9 416.3L568.9 417.2L567.9 413.8ZM575.6 414.5L575.5 418.1L575.1 421.6L572.9 421.1L574.1 417.8ZM582.6 419.2L581.7 422.6L580.5 425.9L578.5 425L580.4 422ZM588.9 423.5L587.9 427L586.8 430.3L584.8 429.3L586.7 426.4ZM594.8 427.8L594.2 431.3L593.5 434.7L591.4 434L592.9 430.8ZM601.2 432.2L600.5 435.7L599.5 439.1L597.5 438.2L599.2 435.2ZM607.2 436.5L606.8 440L606.1 443.5L603.9 442.8L605.5 439.6ZM612.6 440.7L613.1 444.2L613.3 447.8L611 447.6L611.7 444.1ZM615.8 446.5L619.1 448L622.2 449.7L620.8 451.5L618.3 449.1ZM622.3 455.2L624.5 452.4L626.9 449.8L628.3 451.5L625.4 453.5ZM628.7 459.7L630.7 456.8L633 454.1L634.5 455.7L631.7 457.8ZM634.7 463.8L637 461.1L639.6 458.7L640.9 460.4L637.9 462.2ZM641 468.3L643.3 465.5L645.8 463L647.2 464.7L644.2 466.6ZM647.5 472.9L649.5 469.9L651.7 467.2L653.3 468.8L650.5 470.9ZM654.4 477.7L655.7 474.4L657.2 471.3L659.1 472.5L656.8 475.2ZM662.6 482.7L661.8 479.2L661.3 475.7L663.6 475.7L663.2 479.2ZM670.1 486.8L668.2 483.8L666.5 480.7L668.6 479.9L669.4 483.3ZM676.2 491.3L674.4 488.2L672.9 485L675 484.3L675.7 487.7ZM682.8 495.5L680.7 492.6L678.9 489.6L680.9 488.7L682 492ZM690.7 498.3L687.3 497.3L684 496L685.1 494L687.9 496.1ZM697.4 501.2L693.8 501.8L690.3 502L690.4 499.8L693.9 500.4ZM703.6 506L700 506.1L696.5 506L696.9 503.8L700.3 504.7ZM709.8 510.6L706.3 510.5L702.7 510.1L703.2 507.9L706.6 509.1ZM716.1 514.8L712.6 514.9L709 514.7L709.4 512.5L712.8 513.5ZM722.4 519.3L718.8 519.2L715.3 518.9L715.7 516.7L719.1 517.9ZM728.7 523.7L725.1 523.6L721.5 523.3L722 521.1L725.4 522.2ZM397.7 307.2L401 305.3L404.4 303.8L405.1 306L401.4 306.7ZM402.2 311.2L406.1 309.8L410.1 308.7L410.5 311.3L406.4 311.4ZM410.6 311.1L413.9 313.7L416.9 316.5L414.9 318.2L412.6 314.7ZM417.4 314.2L420 317.5L422.4 320.9L420.1 322.1L418.6 318.2ZM423.3 318.7L426.1 321.7L428.7 324.9L426.5 326.3L424.7 322.6ZM428.8 323.6L432.1 326.2L435.2 328.9L433.2 330.6L430.9 327.2ZM434.6 328.3L438.2 330.5L441.5 333L439.7 334.9L437 331.7ZM440.7 332.7L444.3 334.9L447.7 337.2L445.9 339.2L443.2 336.1ZM446.8 336.5L450.3 338.8L453.5 341.3L451.7 343.2L449.1 340ZM453.1 340.5L456.4 342.9L459.6 345.6L457.7 347.4L455.2 344ZM459.7 345.1L463.1 347.6L466.2 350.4L464.2 352.1L461.8 348.7ZM466.1 349.6L469.4 352.1L472.5 354.9L470.6 356.6L468.2 353.2ZM472.5 353.9L475.8 356.5L478.8 359.3L476.8 361L474.5 357.6ZM479.1 358.4L482.3 361.1L485.2 364L483.2 365.6L481 362.1ZM486.1 362.9L489 365.8L491.6 369L489.5 370.4L487.6 366.7ZM493.5 367.8L495.9 371.2L498.1 374.8L495.7 375.8L494.4 371.9ZM500 372.8L502.1 375.7L504 378.7L501.9 379.7L500.9 376.3ZM505.1 378.2L508.2 379.9L511.2 381.8L509.7 383.5L507.3 380.9ZM511.2 382.7L514.4 384.2L517.5 386L516.2 387.8L513.6 385.3ZM518.5 386.1L520.9 388.8L523 391.6L521.1 392.7L519.7 389.5ZM527.9 390.3L527.2 393.8L526.3 397.2L524.2 396.3L525.9 393.3ZM538.4 392.7L536 396.1L533.3 399.3L531.5 397.3L534.9 394.9ZM541 399.3L539.7 402.7L538.2 405.8L536.3 404.6L538.5 401.9ZM544.5 403.3L546 406.5L547.3 409.8L545.2 410.3L544.7 406.8ZM550 407.9L552.3 410.7L554.3 413.6L552.3 414.7L551 411.4ZM556.3 412.3L558.5 415.1L560.5 418L558.5 419L557.3 415.7ZM563.8 416.3L564.9 419.7L565.7 423.1L563.5 423.4L563.5 419.9ZM571.9 421L571.1 424.4L570 427.8L568 426.9L569.8 423.9ZM578.7 425.7L577.3 428.9L575.6 432L573.8 430.8L576.1 428.1ZM585.6 430.6L583.4 433.4L581.1 436L579.6 434.3L582.5 432.4ZM592.7 437.8L589.1 438L585.6 437.8L586 435.6L589.4 436.6ZM599 441.2L595.6 442.3L592.2 443.2L591.9 441L595.4 441ZM604.7 444.1L602.2 446.6L599.5 448.9L598.2 447L601.4 445.5ZM609 447L608.7 450.6L608.2 454.1L606 453.5L607.4 450.2ZM612.5 451.8L614.9 454.4L617 457.2L615.1 458.4L613.7 455.1ZM618.8 462.2L620 458.8L621.4 455.6L623.3 456.7L621.2 459.5ZM625.1 466.5L626.3 463.2L627.7 459.9L629.6 461.1L627.4 463.9ZM630.9 470.6L632.6 467.5L634.5 464.5L636.2 465.9L633.7 468.3ZM637.3 475.1L638.8 471.9L640.6 468.8L642.4 470.1L639.9 472.7ZM644.2 479.8L645 476.4L646.1 473L648.1 474L646.3 476.9ZM653 484.4L651.3 481.2L649.8 478L651.9 477.4L652.6 480.8ZM660.5 488.1L657.7 485.9L655.1 483.5L656.8 482L658.7 485ZM666.8 492.3L663.9 490.3L661.3 488L662.9 486.5L665 489.3ZM672.8 497.2L670.1 494.6L667.7 491.8L669.6 490.4L671.3 493.7ZM678.9 501.7L676.4 498.9L674 496L676 494.8L677.6 498.1ZM686.3 504.6L682.9 503.5L679.6 502.2L680.7 500.2L683.6 502.3ZM693.2 507.7L689.5 508L685.7 508.1L686 505.7L689.6 506.5ZM699.3 512.3L695.7 512.4L692.1 512.2L692.4 509.9L695.9 511ZM705.2 517.5L701.8 516.7L698.4 515.6L699.4 513.5L702.4 515.4ZM708.7 516.9L709 520.5L709 524L706.8 523.7L707.6 520.3ZM716.4 521.8L715.2 525.1L713.7 528.4L711.8 527.2L714 524.4ZM724.4 528.8L720.9 529.8L717.5 530.6L717.3 528.4L720.8 528.5ZM391.3 311.3L389.9 308L388.8 304.7L391 304.2L391.3 307.7ZM391.6 313.5L395.4 311.8L399.3 310.3L399.9 312.9L395.8 313.4ZM397.3 317.1L401.3 316L405.4 315.1L405.6 317.7L401.5 317.6ZM405.6 316.8L409 319.3L412.1 322L410.2 323.8L407.8 320.4ZM412.4 320.3L415.3 323.3L417.9 326.5L415.7 327.9L413.9 324.2ZM418.3 324.8L421.4 327.6L424.2 330.6L422.1 332.2L420.1 328.6ZM424 329.8L427.4 332.1L430.6 334.7L428.8 336.6L426.2 333.3ZM430.1 334.4L433.7 336.6L437 339.1L435.2 341L432.5 337.8ZM436.4 338.8L440 341L443.3 343.5L441.5 345.4L438.8 342.2ZM442.8 343.1L446.3 345.4L449.6 347.9L447.7 349.8L445.2 346.6ZM449.4 347.3L452.7 349.8L455.9 352.5L453.9 354.3L451.5 350.9ZM455.9 351.7L459.2 354.3L462.2 357.1L460.2 358.8L457.9 355.4ZM462.3 356.1L465.5 358.8L468.5 361.6L466.5 363.3L464.3 359.8ZM468.9 360.4L471.9 363.2L474.8 366.2L472.6 367.7L470.6 364.1ZM475.6 364.7L478.5 367.8L481.1 371L478.8 372.4L477.1 368.6ZM482.1 369.1L484.8 372.2L487.3 375.5L485.1 376.9L483.4 373.1ZM488.5 373.6L491.2 376.8L493.6 380.1L491.3 381.4L489.8 377.5ZM495.1 379.1L497.8 381.8L500.2 384.8L498.2 386.1L496.5 382.7ZM500.4 384.9L503.8 386L507 387.4L505.9 389.3L503.1 387.2ZM506.8 389L510.1 390.4L513.2 392.1L511.9 393.9L509.3 391.6ZM515.4 391.9L516.6 395.3L517.6 398.7L515.4 399L515.3 395.5ZM525.6 396.8L523 400.1L520.3 403.2L518.6 401.3L522 398.9ZM534.2 400.2L531.3 403.2L528.2 405.9L526.7 403.8L530.4 401.8ZM537.2 406L535.3 409L533.2 411.8L531.5 410.3L534.3 408ZM540.4 409.4L541.7 412.8L542.7 416.1L540.5 416.5L540.3 413ZM546.7 413.8L548 417.1L549 420.5L546.8 420.9L546.6 417.4ZM553.5 418.1L554.3 421.6L554.8 425.1L552.5 425.2L552.9 421.6ZM561.2 422.8L560.5 426.3L559.5 429.7L557.4 428.8L559.2 425.7ZM568.2 427.6L566.6 430.8L564.8 433.8L563.1 432.5L565.5 430ZM575 432.4L572.8 435.3L570.5 437.9L569 436.2L571.9 434.2ZM582.1 438.4L578.8 439.8L575.4 441L575 438.8L578.5 438.4ZM588.1 444.8L584.6 444.1L581.2 443.2L582.1 441.1L585.2 442.9ZM594.3 449.5L590.9 448.5L587.5 447.3L588.6 445.3L591.5 447.3ZM600.6 453.7L597.1 452.9L593.8 451.8L594.7 449.8L597.7 451.6ZM607.1 457.5L603.5 457.3L600 456.8L600.6 454.6L603.9 456ZM613.2 462.4L609.7 461.6L606.3 460.6L607.2 458.6L610.3 460.4ZM618.1 468.4L615.6 465.7L613.5 463L615.4 461.8L616.8 465ZM623.3 473.2L621.8 469.9L620.7 466.6L622.8 466.1L623.2 469.6ZM628.9 477.6L628.1 474.2L627.5 470.7L629.7 470.6L629.5 474.1ZM634.9 482L634.3 478.5L634.1 475L636.3 475.1L635.7 478.5ZM642.2 486.3L640.6 483.1L639.3 479.8L641.5 479.2L642 482.7ZM650.2 489.6L647.1 487.8L644.2 485.8L645.7 484.1L648 486.7ZM656.8 493.6L653.5 492.2L650.3 490.6L651.6 488.8L654.2 491ZM662.8 498.5L659.6 496.5L656.6 494.3L658.2 492.6L660.6 495.5ZM668.4 503.6L665.7 500.8L663.3 497.8L665.4 496.5L667 500ZM674.6 508L672 505.1L669.7 502.1L671.8 500.9L673.3 504.4ZM681.9 511.1L678.5 509.7L675.3 508.1L676.5 506.2L679.3 508.5ZM688.8 514L685.1 514.2L681.4 514.1L681.8 511.8L685.3 512.8ZM694.9 518.7L691.3 518.6L687.8 518.2L688.3 516L691.6 517.2ZM698.8 525.6L697.1 522.5L695.5 519.3L697.7 518.6L698.4 522ZM707.1 528.3L703.7 527.2L700.4 526L701.4 524L704.3 526ZM713.5 529.6L710.5 531.6L707.5 533.4L706.6 531.3L710 530.4ZM719.7 533.8L716.8 536L713.9 537.9L712.9 535.9L716.2 534.8ZM382.9 313.1L386.4 313.4L389.9 314L389.3 316.1L386.1 314.8ZM385.6 320.1L389.5 318.3L393.3 316.9L393.9 319.5L389.8 319.9ZM392.4 323.2L396.5 322.1L400.6 321.4L400.7 324.1L396.6 323.8ZM400.8 322.9L404.2 325.2L407.5 327.8L405.6 329.7L403.1 326.4ZM407.6 326.4L410.6 329.3L413.5 332.3L411.3 333.8L409.3 330.2ZM413.6 331L416.8 333.7L419.7 336.5L417.7 338.2L415.5 334.7ZM419.5 335.9L422.9 338.2L426.2 340.8L424.3 342.7L421.8 339.4ZM425.8 340.5L429.3 342.8L432.6 345.3L430.8 347.2L428.2 344ZM432.3 345L435.8 347.4L439.1 349.9L437.2 351.8L434.7 348.5ZM438.9 349.4L442.3 351.9L445.5 354.6L443.5 356.4L441.1 353ZM445.6 353.7L448.8 356.4L451.7 359.3L449.7 360.9L447.5 357.4ZM452.2 358.1L455.3 360.9L458.1 364L456 365.5L454 361.9ZM458.6 362.5L461.6 365.4L464.4 368.5L462.2 370L460.3 366.3ZM465.2 366.7L468 369.9L470.5 373.1L468.3 374.5L466.6 370.7ZM471.8 371.1L474.4 374.4L476.8 377.8L474.5 379L473 375.1ZM478 375.6L480.7 378.9L483.1 382.2L480.8 383.5L479.3 379.6ZM484.2 380.1L487 383.2L489.5 386.5L487.2 387.9L485.6 384.1ZM490.4 385L493.4 387.9L496.1 391L493.9 392.5L492.1 388.8ZM496.4 390.6L499.5 392.3L502.5 394.2L501.1 395.9L498.6 393.4ZM504.8 393.8L506 397.1L507 400.5L504.8 400.9L504.7 397.3ZM514.9 400.5L511.8 402.3L508.6 403.7L507.9 401.6L511.4 400.9ZM525 402.9L521.5 405.3L518 407.4L516.9 405L520.9 403.8ZM528.4 408.9L524.7 411L521 412.8L520.2 410.3L524.2 409.5ZM533.9 414.5L530.4 415.4L527 416L526.9 413.8L530.4 414ZM539.7 420.8L536.3 419.7L533.1 418.3L534.2 416.4L537 418.5ZM546.4 423.7L542.9 424.2L539.4 424.4L539.5 422.1L543 422.8ZM551.5 425.2L549.7 428.3L547.8 431.2L546.1 429.8L548.7 427.4ZM557.6 429.5L556 432.7L554.2 435.7L552.4 434.3L554.9 431.8ZM564.1 433.8L562.3 437.1L560.3 440.1L558.5 438.6L561.2 436.1ZM570.7 438.6L568.5 441.5L566.1 444.3L564.5 442.5L567.5 440.4ZM577.6 444.2L574.5 446L571.3 447.5L570.6 445.4L574.1 444.7ZM583.9 450.7L580.4 450.4L576.9 449.9L577.5 447.7L580.7 449.1ZM590 455.5L586.5 454.7L583.2 453.7L584.1 451.7L587.1 453.5ZM596.3 459.9L592.8 459.1L589.4 458L590.4 456L593.4 457.8ZM602.7 464L599.1 463.5L595.7 462.7L596.4 460.6L599.6 462.2ZM608.9 468.5L605.4 467.9L602 467L602.8 464.9L605.9 466.6ZM614.5 473.9L611.4 472.1L608.5 470.1L610 468.4L612.4 471.1ZM619.7 479.1L617.5 476.3L615.6 473.3L617.6 472.3L618.8 475.7ZM625.3 483.7L623.8 480.5L622.5 477.2L624.7 476.7L625.1 480.2ZM631.5 488.1L630 484.9L628.8 481.6L630.9 481.1L631.4 484.6ZM639 492L636.4 489.5L634.1 486.9L635.9 485.6L637.5 488.7ZM646.2 495.3L642.9 494.1L639.7 492.6L640.9 490.7L643.6 492.9ZM652.6 499.7L649.1 498.5L645.8 497L646.9 495L649.9 497.2ZM658.5 504.8L655.3 502.8L652.3 500.5L653.9 498.8L656.3 501.7ZM663.9 510L661.4 507L659.1 503.8L661.3 502.6L662.7 506.2ZM670.1 514.3L667.6 511.3L665.4 508.2L667.6 507L669 510.6ZM677.5 517.5L674.1 515.9L670.9 514.1L672.3 512.2L675 514.8ZM684.3 520.7L680.6 520.4L677 519.8L677.7 517.6L681 519ZM690.4 525.3L686.9 524.7L683.4 523.9L684.2 521.8L687.4 523.4ZM695.6 531.3L692.8 528.9L690.3 526.4L692.1 525L693.9 528ZM702.9 535.3L699.2 533.5L695.6 531.4L697.2 529.4L700.1 532.2ZM710.4 538L706.2 538.1L702.1 537.9L702.5 535.3L706.5 536.5ZM715.7 541.9L712.1 542.3L708.6 542.4L708.8 540.2L712.2 540.9ZM378.6 319.2L382.1 319.7L385.6 320.4L384.9 322.5L381.7 321ZM380.3 326.6L384.1 324.9L388 323.4L388.6 325.9L384.5 326.4ZM388.2 328.4L392.4 328L396.5 328L396.3 330.6L392.2 329.7ZM396.4 329.4L399.9 331.6L403.3 334.1L401.4 336L398.8 332.8ZM403.2 332.9L406.3 335.6L409.2 338.6L407.1 340.2L405 336.6ZM409.2 337.4L412.5 340.1L415.5 342.9L413.5 344.6L411.3 341.1ZM415.4 342.2L418.8 344.6L422 347.2L420.1 349.1L417.6 345.8ZM421.9 346.8L425.3 349.2L428.5 351.9L426.6 353.7L424.1 350.4ZM428.5 351.4L431.9 353.9L435 356.6L433 358.4L430.7 355ZM435.2 355.8L438.4 358.5L441.3 361.4L439.3 363L437.1 359.5ZM441.8 360L444.8 362.9L447.5 366L445.3 367.5L443.4 363.8ZM448.1 364.4L451.1 367.3L453.8 370.4L451.6 371.9L449.7 368.2ZM454.5 368.7L457.4 371.7L460 374.9L457.8 376.3L456 372.6ZM461.1 372.7L463.7 376L466 379.4L463.7 380.6L462.2 376.7ZM467.5 377.2L470 380.5L472.3 383.9L469.9 385.1L468.6 381.2ZM473.7 381.8L476.4 385.1L478.8 388.4L476.5 389.7L474.9 385.8ZM479.8 386.5L482.7 389.5L485.2 392.7L483 394.1L481.3 390.4ZM486.3 391L489.1 394.2L491.6 397.4L489.4 398.8L487.7 395ZM494.7 395.6L495.4 399.1L495.9 402.6L493.6 402.6L494 399.1ZM504.5 403.1L501.1 404.1L497.6 404.9L497.4 402.7L500.9 402.8ZM514.3 406.6L510.4 408.1L506.5 409.3L506 406.7L510.1 406.5ZM520.6 410.7L516.7 412.3L512.8 413.7L512.3 411.1L516.4 410.7ZM524.2 416.7L520 417.4L515.9 417.7L516 415.1L520.1 415.8ZM529.3 422.3L525.8 421.6L522.4 420.6L523.3 418.5L526.3 420.3ZM534.7 427.9L531.8 425.8L529.1 423.5L530.7 422L532.8 424.8ZM541.1 432.1L538.1 430.2L535.3 428.1L536.9 426.5L539.1 429.2ZM548.4 434.2L544.8 434.8L541.3 435L541.4 432.8L544.9 433.4ZM553.5 435.9L551.6 438.9L549.6 441.8L547.9 440.2L550.6 438ZM559.6 439.8L558 443.3L556.2 446.5L554.3 445.1L556.8 442.4ZM565.9 444.1L564.3 447.6L562.5 451L560.5 449.6L563.1 446.8ZM572.2 448.9L570.5 452L568.5 454.9L566.8 453.5L569.4 451.1ZM579.5 454.8L576.4 456.6L573.3 458.1L572.5 456L576 455.3ZM586 459.9L582.6 461L579.1 461.8L578.9 459.6L582.4 459.6ZM592.2 464.6L588.8 465.4L585.3 465.9L585.2 463.7L588.7 464ZM598.5 468.9L595.1 469.8L591.6 470.4L591.5 468.1L595 468.4ZM604.8 473.7L601.2 474.1L597.7 474.3L597.9 472.1L601.3 472.8ZM610.4 479.8L607.2 478.4L604 476.7L605.3 474.9L607.9 477.2ZM615 485.5L613.2 482.4L611.6 479.3L613.7 478.5L614.5 482ZM620.4 490.1L619.4 486.6L618.6 483.2L620.9 483L620.8 486.5ZM626.9 494.4L625.7 491.1L624.7 487.7L626.9 487.3L627 490.8ZM634.7 498.1L632.1 495.7L629.6 493.2L631.4 491.9L633.2 494.9ZM642 501.3L638.6 500.3L635.3 499.1L636.3 497.1L639.2 499.1ZM648.2 505.8L644.8 504.7L641.6 503.3L642.7 501.4L645.5 503.5ZM653.8 511.1L650.9 508.9L648.2 506.5L649.9 505L652 508ZM659.4 516.2L657 513.1L654.9 509.9L657.1 508.9L658.4 512.5ZM665.8 520.5L663.3 517.6L661 514.4L663.2 513.2L664.6 516.8ZM673.2 523.9L669.8 522.2L666.5 520.2L668 518.3L670.7 521ZM679.9 527.4L676.2 526.6L672.6 525.6L673.5 523.4L676.8 525.3ZM686.1 531.8L682.5 531L679 529.9L680 527.7L683.1 529.7ZM692.4 536.5L688.7 535.4L685.1 534L686.2 531.8L689.4 534ZM699.2 541.2L695.3 540L691.4 538.5L692.6 536.2L696 538.5ZM705.4 545.3L701.3 544.2L697.4 542.9L698.6 540.5L702.1 542.8ZM710.2 550.4L707.3 548.3L704.6 546L706.3 544.5L708.3 547.3ZM374 325.4L377.8 325.8L381.5 326.5L380.8 328.8L377.3 327.3ZM375.8 332.8L379.6 331L383.5 329.6L384.1 332.2L380 332.6ZM384.2 333.9L388.4 334L392.5 334.5L391.9 337.1L388 335.6ZM392.3 335.7L395.8 338L399.1 340.5L397.2 342.4L394.7 339.1ZM399.1 339.3L402.2 342.1L405 345.1L402.9 346.6L400.9 343.1ZM405.2 343.8L408.4 346.5L411.3 349.4L409.3 351L407.1 347.5ZM411 348.1L414.3 350.6L417.4 353.4L415.4 355.1L413.1 351.7ZM417.1 352L420.4 354.7L423.4 357.5L421.4 359.2L419.1 355.7ZM423.7 356.8L427 359.4L430 362.2L428 363.9L425.7 360.4ZM430.8 362L434 364.7L437 367.5L435 369.2L432.7 365.7ZM437.2 366.2L440.3 369L443.2 372L441.1 373.6L439 370ZM443.5 370.5L446.5 373.3L449.4 376.4L447.2 377.9L445.2 374.3ZM449.8 374.6L452.8 377.6L455.5 380.7L453.3 382.1L451.4 378.5ZM456.5 378.6L459.1 381.8L461.5 385.2L459.2 386.4L457.7 382.6ZM462.9 383L465.5 386.3L467.7 389.7L465.4 390.9L464 387ZM469.2 387.7L471.8 390.9L474.2 394.3L471.9 395.5L470.4 391.7ZM475.7 392.4L478.3 395.7L480.6 399.1L478.3 400.3L476.9 396.4ZM483.7 397.3L484.8 400.8L485.7 404.4L483.4 404.7L483.4 401ZM493.9 404.7L490.5 406L487.1 406.9L486.7 404.7L490.3 404.6ZM504.3 408.9L500.3 410.1L496.3 411L496 408.4L500.1 408.5ZM510.5 413.4L506.5 414.6L502.4 415.4L502.2 412.8L506.3 412.9ZM513.9 418.8L509.8 419.3L505.6 419.4L505.9 416.8L509.9 417.7ZM519.4 423.9L515.3 423.6L511.2 423L511.9 420.4L515.7 422ZM524.6 429.2L521.3 427.7L518.2 426L519.5 424.2L522.1 426.6ZM529.9 434.5L527.4 431.9L525.1 429.2L527 428L528.6 431.2ZM535.8 439L533.6 436.2L531.7 433.3L533.7 432.3L534.9 435.6ZM543.1 442.6L540.1 440.8L537.2 438.8L538.7 437.1L541 439.8ZM549.5 442.4L547.2 445.2L544.8 447.8L543.4 446.1L546.3 444.1ZM554.8 445.8L553.7 449.4L552.4 452.8L550.3 451.7L552.4 448.7ZM560.9 449.9L560 453.7L558.9 457.4L556.7 456.4L558.6 453.1ZM566.7 454.5L566.3 458L565.6 461.5L563.5 460.8L564.9 457.6ZM571.6 458.7L572.6 462.1L573.2 465.6L571 465.7L571.2 462.2ZM577.6 463.1L578.8 466.4L579.8 469.8L577.5 470.2L577.4 466.6ZM584.9 467.4L585.1 471L585.1 474.5L582.8 474.2L583.7 470.8ZM591.9 472L591.3 475.5L590.5 479L588.4 478.2L590 475ZM598.8 476.7L597.5 480L596.1 483.2L594.2 482.1L596.3 479.3ZM606.6 483.2L603.4 484.7L600.1 486L599.5 483.8L603 483.4ZM608.3 491.7L608.8 488.2L609.5 484.7L611.7 485.5L610.1 488.6ZM614.4 496L615.1 492.5L616 489.1L618.1 490L616.4 493.1ZM621.2 500.6L621.3 497L621.8 493.5L623.9 494L622.7 497.3ZM630.4 504.3L627.7 502L625.3 499.4L627 498.1L628.8 501.1ZM638 506.7L634.4 506.6L630.9 506.2L631.4 504L634.7 505.2ZM644.1 511.6L640.6 510.9L637.1 510L638 507.9L641.1 509.6ZM649.1 517.5L646.5 515.1L644.2 512.4L646 511.2L647.7 514.3ZM654.6 522.3L652.7 519.3L651.1 516.2L653.2 515.4L654 518.8ZM661.4 526.5L659 523.8L656.8 520.9L658.8 519.8L660.2 523.1ZM668.7 530.1L665.4 528.3L662.4 526.4L663.8 524.6L666.3 527.2ZM675.3 533.8L671.8 532.8L668.4 531.5L669.5 529.5L672.5 531.5ZM681.5 538.2L678.1 537.2L674.8 535.9L675.9 533.9L678.8 535.9ZM687.9 542.3L684.4 541.6L681 540.5L681.9 538.5L685 540.3ZM694.2 546.7L690.7 545.9L687.3 544.9L688.2 542.9L691.2 544.7ZM699.5 552.3L696.7 550.1L694.1 547.7L695.8 546.3L697.8 549.2ZM703.3 557.5L702.8 554L702.6 550.5L704.8 550.6L704.2 554.1ZM369.6 332.1L373.4 332L377.1 332.3L376.6 334.6L373.1 333.5ZM371.4 338.7L375.3 337.1L379.2 335.9L379.7 338.4L375.6 338.7ZM380.2 339.7L384.3 340.2L388.4 341L387.6 343.5L383.8 341.7ZM388.1 341.9L391.6 344.3L394.8 346.8L393 348.7L390.4 345.4ZM394.7 345.6L397.9 348.4L400.7 351.3L398.7 352.9L396.6 349.3ZM400.9 349.9L404.1 352.6L406.9 355.6L404.8 357.2L402.8 353.6ZM407.2 354.3L410.3 357.1L413.2 360L411.2 361.6L409.1 358ZM413.6 358.8L416.7 361.6L419.6 364.5L417.5 366.1L415.4 362.6ZM419.9 363.4L423.1 366.1L426 369L424 370.6L421.8 367.1ZM426.1 367.9L429.4 370.6L432.4 373.4L430.4 375.1L428.1 371.6ZM432.4 372.3L435.6 374.9L438.6 377.8L436.6 379.4L434.4 375.9ZM438.7 376.6L441.9 379.3L444.9 382.2L442.8 383.8L440.6 380.3ZM445.2 380.6L448.2 383.5L451 386.6L448.8 388.1L446.9 384.5ZM451.9 384.5L454.6 387.8L457 391.1L454.7 392.4L453.2 388.5ZM458.5 388.8L461 392.2L463.2 395.7L460.8 396.8L459.5 392.9ZM465.2 393.5L467.5 397L469.6 400.5L467.1 401.6L466 397.6ZM473.4 398.5L474.3 402.5L474.9 406.6L472.3 406.7L472.7 402.6ZM483.5 406.1L480 407.9L476.4 409.4L475.7 407L479.6 406.4ZM494.5 410.4L490.5 411.7L486.5 412.8L486.2 410.2L490.3 410.1ZM499.7 415.5L495.7 416.5L491.6 417.2L491.5 414.6L495.6 414.9ZM503 420.8L498.8 421.1L494.7 421.1L495 418.5L499 419.5ZM508.5 425.4L504.7 425.4L500.9 425.1L501.4 422.7L505 423.9ZM514.4 430.2L510.9 429.7L507.4 428.8L508.2 426.7L511.4 428.4ZM519.9 435.8L516.9 433.9L514.1 431.8L515.6 430.1L517.9 432.9ZM524.6 441.1L523 438L521.6 434.7L523.7 434.1L524.3 437.6ZM529.9 445.6L529.2 442.1L528.8 438.6L531.1 438.7L530.6 442.1ZM536.5 450L535.5 446.6L534.8 443.1L537 442.9L536.9 446.5ZM544.6 448.2L543 451.3L541.1 454.3L539.4 452.9L541.9 450.5ZM550.1 452L549.4 455.5L548.4 458.9L546.3 458.1L548.1 455ZM556.3 456.1L555.7 459.9L554.8 463.6L552.5 462.8L554.3 459.4ZM562.1 460.6L561.9 464.2L561.5 467.7L559.3 467.1L560.6 463.8ZM567.2 464.9L568.2 468.3L568.9 471.8L566.7 472L566.8 468.4ZM573.3 469.3L574.5 472.7L575.4 476.1L573.2 476.4L573.1 472.9ZM580.8 473.7L580.7 477.3L580.4 480.8L578.2 480.3L579.4 477ZM587.6 478.3L587 481.8L586.1 485.2L584 484.4L585.7 481.3ZM594.1 482.7L593.2 486.2L592.1 489.5L590.1 488.6L592 485.6ZM600.1 487L599.5 490.5L598.6 493.9L596.5 493.1L598.2 490ZM603 497.4L604.6 494.2L606.4 491.2L608.2 492.6L605.7 495.1ZM609.5 502L610.8 498.6L612.3 495.5L614.2 496.7L612 499.4ZM616.3 506.6L617 503.1L618.1 499.7L620.1 500.6L618.3 503.7ZM626.5 510.1L623.5 508.3L620.6 506.2L622.1 504.6L624.4 507.3ZM633.7 511.6L630.3 512.8L626.9 513.7L626.6 511.5L630.1 511.4ZM639.9 517.3L636.3 517.2L632.8 516.8L633.3 514.6L636.6 515.8ZM644.4 524L642.1 521.2L640.1 518.3L642 517.3L643.3 520.6ZM649.8 528.7L648.3 525.4L647.2 522.1L649.3 521.6L649.7 525.1ZM657 532.7L654.7 530L652.6 527.1L654.6 526L655.9 529.3ZM664.3 536.1L661.1 534.6L658.1 532.8L659.4 531L662 533.5ZM670.9 540.1L667.5 539L664.2 537.7L665.3 535.7L668.1 537.8ZM677.1 544.5L673.7 543.4L670.5 542.1L671.6 540.1L674.4 542.2ZM683.6 548.5L680.1 547.8L676.7 546.8L677.5 544.8L680.6 546.5ZM689.5 553.4L686.2 552.1L683.1 550.5L684.3 548.6L687 550.9ZM693.7 559.3L692.2 556.1L690.9 552.8L693.1 552.2L693.6 555.7ZM697.7 563.4L698.5 560L699.6 556.6L701.6 557.6L699.8 560.6ZM365.4 339.2L368.8 338.3L372.3 337.6L372.4 339.8L368.9 339.7ZM368.2 344.4L372.1 343L376.1 341.9L376.5 344.5L372.4 344.6ZM376.7 345.3L380.7 346.5L384.6 347.9L383.4 350.2L380 347.9ZM384.1 348.5L387.6 350.8L390.8 353.4L389 355.2L386.4 352ZM390.5 352.3L393.7 354.9L396.7 357.8L394.7 359.5L392.5 356ZM396.7 356.2L399.8 359L402.7 362L400.6 363.5L398.5 360ZM403 360.4L406.1 363.3L408.9 366.3L406.7 367.8L404.8 364.2ZM409.4 364.7L412.4 367.6L415.1 370.7L413 372.2L411 368.6ZM415.5 369.3L418.6 372.1L421.5 375.1L419.4 376.7L417.3 373.1ZM421.8 373.9L425 376.6L427.9 379.5L425.8 381.2L423.7 377.6ZM428.1 378.4L431.3 381.1L434.2 384L432.2 385.6L430 382.1ZM434.4 382.9L437.6 385.6L440.6 388.4L438.6 390.1L436.4 386.6ZM441.1 386.9L444 389.9L446.7 393.1L444.5 394.5L442.7 390.8ZM447.9 390.8L450.4 394.1L452.7 397.6L450.3 398.8L449 394.8ZM454.9 394.9L456.9 398.6L458.7 402.3L456.2 403.1L455.4 399.1ZM463.3 399.6L463.8 403.7L463.9 407.9L461.3 407.7L462.2 403.6ZM472.6 407.2L469.5 409.7L466.4 411.9L465.2 409.7L468.8 408.3ZM484.1 411.8L480.2 413.3L476.3 414.5L475.8 412L479.9 411.7ZM488.1 417.3L484.1 418.4L480.1 419.2L479.9 416.6L484 416.7ZM491.4 422.6L487.9 422.8L484.3 422.7L484.7 420.5L488.1 421.4ZM497.7 427.2L494.1 427.2L490.6 426.9L491 424.7L494.4 425.8ZM504 431.3L500.4 431.5L496.9 431.5L497.2 429.3L500.6 430.2ZM510.2 435.9L506.6 435.9L503.1 435.7L503.5 433.5L506.9 434.6ZM514.6 442.7L512.4 439.9L510.4 437L512.4 436L513.7 439.3ZM518.8 447.4L518.6 443.9L518.7 440.4L521 440.7L520 444.1ZM524.3 451.6L524.9 448.1L525.8 444.7L527.9 445.5L526.2 448.6ZM530.4 455.9L531.2 452.5L532.2 449.1L534.3 450L532.5 453ZM540.1 454.2L538.7 457.5L537 460.6L535.2 459.4L537.5 456.7ZM546.1 458.4L545 461.8L543.6 465.1L541.7 464L543.8 461.1ZM552.5 462.6L551.3 466.2L549.8 469.7L547.8 468.5L550 465.5ZM558.9 467.3L557.5 470.6L555.9 473.8L554 472.5L556.3 469.8ZM565.4 471.9L563.7 475.1L561.8 478L560.1 476.6L562.6 474.2ZM572 476.6L569.9 479.5L567.7 482.2L566.1 480.6L569 478.5ZM578.4 481.1L576.2 483.9L573.7 486.5L572.3 484.7L575.3 482.8ZM584.7 485.6L582.4 488.3L579.9 490.8L578.5 489L581.6 487.2ZM591 490L588.7 492.7L586.2 495.1L584.8 493.4L587.8 491.6ZM597.9 495.5L594.7 497.1L591.5 498.6L590.8 496.4L594.3 495.8ZM600 504.3L600.1 500.7L600.5 497.2L602.7 497.7L601.5 501ZM605.9 508.5L606.4 505L607.1 501.6L609.2 502.3L607.7 505.5ZM613.2 513.1L612.6 509.6L612.3 506.1L614.5 506.1L614 509.6ZM622.8 515.5L619.3 514.6L615.9 513.5L616.9 511.5L619.9 513.4ZM629.4 518.2L625.9 519.1L622.4 519.7L622.3 517.4L625.8 517.7ZM635.4 523.9L631.9 523.4L628.5 522.7L629.2 520.5L632.3 522.1ZM639.2 530.5L637.7 527.3L636.5 524L638.7 523.4L639.1 526.9ZM644.7 535L644 531.5L643.5 528L645.8 528L645.4 531.5ZM652 539.2L650.3 536.1L648.8 532.8L651 532.2L651.6 535.7ZM660.1 542.1L656.8 540.8L653.6 539.3L654.9 537.4L657.6 539.7ZM666.7 545.9L663.2 545.3L659.8 544.3L660.6 542.2L663.7 544ZM673 550.2L669.5 549.6L666.1 548.8L666.8 546.7L670 548.3ZM679.3 554.5L675.8 554L672.3 553.2L673.1 551.1L676.2 552.7ZM685 559.9L681.8 558.3L678.8 556.5L680.2 554.7L682.7 557.2ZM689.9 565.3L687.9 562.4L686.1 559.3L688.2 558.4L689.2 561.8ZM695 570L694.1 566.5L693.4 563L695.7 562.8L695.5 566.4ZM360 345.8L364 344.5L368 343.4L368.3 346L364.2 346.1ZM365 349.9L369.1 348.9L373.1 348.1L373.3 350.7L369.2 350.5ZM373.1 351L376.8 352.8L380.4 354.8L378.9 356.9L375.9 354.1ZM379.9 354.9L383.4 357.2L386.6 359.7L384.8 361.6L382.2 358.4ZM386.3 358.9L389.6 361.5L392.7 364.3L390.7 366L388.4 362.5ZM392.6 362.9L395.8 365.6L398.7 368.6L396.6 370.2L394.5 366.6ZM399 366.9L402 369.8L404.7 372.9L402.6 374.4L400.6 370.7ZM405.3 371.1L408.2 374.1L410.9 377.2L408.7 378.7L406.9 375ZM411.5 375.7L414.5 378.6L417.3 381.6L415.1 383.1L413.2 379.5ZM417.5 380.5L420.7 383.1L423.8 385.9L421.8 387.6L419.5 384.1ZM423.2 385.1L426.7 387.4L430 389.9L428.2 391.8L425.6 388.5ZM429.2 389L432.6 391.3L435.9 393.9L434 395.7L431.5 392.5ZM437.1 393.7L440.1 396.7L442.7 399.8L440.6 401.3L438.7 397.6ZM444.7 397.5L446.6 401.2L448.2 405L445.7 405.7L445.1 401.7ZM453.6 401.8L453.3 406L452.6 410L450.1 409.3L451.7 405.5ZM462.7 408.4L459.6 411.2L456.3 413.7L455 411.4L458.8 409.8ZM473.5 413.4L469.7 415L465.7 416.3L465.2 413.8L469.3 413.4ZM476.6 418.8L472.7 420.2L468.7 421.2L468.3 418.6L472.4 418.6ZM480.9 424L477.3 424.6L473.8 425.1L473.9 422.8L477.4 423.3ZM486.9 429.5L483.4 429L479.9 428.2L480.7 426.1L483.9 427.7ZM493.4 432.4L490 433.4L486.5 434.2L486.3 431.9L489.8 432ZM499.2 438.9L495.8 437.7L492.6 436.2L493.7 434.3L496.5 436.5ZM503.6 438.2L503.1 441.7L502.3 445.1L500.2 444.4L501.8 441.2ZM506 448.1L508.2 445.3L510.7 442.7L512.1 444.4L509.1 446.4ZM513 453.1L514.4 449.8L516 446.7L517.9 448L515.5 450.6ZM519.5 457.6L520.6 454.2L522 451L524 452.1L521.8 454.9ZM526.2 462.2L526.8 458.7L527.7 455.3L529.8 456.1L528.1 459.2ZM537.2 464.2L533.6 464L530.1 463.5L530.7 461.4L533.9 462.7ZM542.7 465.4L540.5 468.2L538.1 470.8L536.6 469.1L539.6 467.2ZM549 469.4L546.8 472.6L544.5 475.6L542.8 473.9L545.8 471.6ZM555.1 474.1L553 477L550.7 479.6L549.2 478L552.1 475.9ZM561.9 479.1L559.2 481.4L556.3 483.5L555.2 481.6L558.5 480.2ZM568.2 483.5L565.4 485.8L562.6 487.9L561.5 485.9L564.8 484.6ZM574.2 487.5L571.8 490.1L569.3 492.6L567.9 490.8L571 489ZM580.4 491.9L578.1 494.5L575.5 496.9L574.2 495.2L577.2 493.4ZM586.7 496.2L584.3 498.9L581.8 501.4L580.5 499.6L583.5 497.8ZM593.5 501.7L590.4 503.4L587.1 504.7L586.5 502.6L590 502ZM595.5 510.4L595.8 506.9L596.3 503.4L598.5 504L597.1 507.3ZM601.7 514.8L602 511.3L602.6 507.8L604.8 508.4L603.4 511.6ZM609.3 519.3L608.3 515.9L607.5 512.5L609.7 512.2L609.7 515.8ZM618.7 521L615.1 520.9L611.6 520.5L612.1 518.3L615.4 519.5ZM625 524.5L621.5 525.3L618 525.8L618 523.6L621.5 523.9ZM630.9 530.5L627.5 529.6L624.1 528.4L625.1 526.4L628.1 528.3ZM634 536.8L633.4 533.3L632.9 529.8L635.2 529.8L634.7 533.3ZM639.8 541.2L639.6 537.6L639.7 534.1L641.9 534.4L641 537.8ZM648.1 545.3L646 542.4L644.1 539.4L646.1 538.4L647.2 541.8ZM656.3 547.2L652.7 547.1L649.2 546.8L649.7 544.6L653 545.8ZM662.6 551.2L659 551.5L655.5 551.5L655.8 549.3L659.2 550.1ZM669.7 556L665.6 556.1L661.4 555.8L661.9 553.3L665.8 554.5ZM676 560.9L671.9 560.5L667.8 559.8L668.6 557.3L672.3 558.9ZM681.4 566.4L677.6 564.7L674 562.8L675.4 560.7L678.5 563.4ZM686.2 572.1L683.6 568.9L681.2 565.5L683.5 564.3L685 568.1ZM691.8 577L689.8 573.3L688.1 569.5L690.6 568.8L691.3 572.8ZM350.6 345.9L354.1 346.4L357.6 347.1L356.9 349.3L353.7 347.7ZM355 350.3L359.2 350.4L363.3 350.7L362.8 353.3L358.9 352ZM360.9 353.5L365 354.3L369 355.4L368 357.8L364.4 355.8ZM368.6 356.3L372.1 358.5L375.5 361L373.7 362.9L371 359.7ZM375.3 360.7L378.7 363.1L381.9 365.7L380 367.5L377.5 364.2ZM381.9 364.9L385.2 367.6L388.2 370.4L386.2 372.1L383.9 368.6ZM388.3 369.1L391.4 371.8L394.3 374.8L392.2 376.4L390.1 372.8ZM394.7 373.2L397.7 376.1L400.4 379.2L398.3 380.7L396.4 377ZM401.1 377.4L404 380.5L406.6 383.6L404.4 385.1L402.6 381.3ZM406.9 382.4L410.1 385L413.2 387.8L411.2 389.5L408.9 386ZM411.4 387.4L415.3 389L419 390.8L417.6 393L414.4 390.3ZM416.8 390L420.5 392.1L423.9 394.3L422.2 396.3L419.4 393.3ZM422.9 391.4L426.1 394.2L428.9 397.1L426.9 398.7L424.8 395.2ZM432 397.2L434.6 400.5L436.9 404L434.6 405.2L433.1 401.3ZM443.3 405.2L442.3 408.6L441 411.9L439.1 410.9L441.1 408ZM453 410.2L449.7 412.7L446.3 415L445.1 412.6L449 411.2ZM463.1 415.1L459.3 416.8L455.4 418.1L454.9 415.6L459 415.2ZM465.3 420.6L461.4 422.1L457.5 423.3L457 420.7L461.1 420.5ZM470.1 424.8L466.9 426.5L463.7 427.8L463.1 425.7L466.6 425.1ZM470.3 427.9L473.5 429.6L476.4 431.5L475 433.3L472.6 430.7ZM475.8 434.1L479.4 433.9L482.9 433.9L482.6 436.1L479.2 435.2ZM490.6 436.1L487.4 438.8L484.1 441.2L482.8 438.9L486.6 437.4ZM494.8 445.1L491.4 443.9L488.2 442.4L489.4 440.5L492.2 442.7ZM497.5 452.3L497.2 448.1L497.2 444L499.8 444.3L498.8 448.3ZM505.1 455.5L503.7 452.2L502.5 448.9L504.7 448.4L505 451.9ZM509.9 459.9L509.9 456.3L510.2 452.8L512.4 453.2L511.3 456.6ZM516.4 464.3L516.2 460.7L516.2 457.2L518.4 457.5L517.6 460.9ZM524.6 468.4L522.5 465.5L520.7 462.4L522.7 461.5L523.8 464.9ZM532.7 470.8L529.2 470.2L525.7 469.3L526.6 467.3L529.7 468.9ZM539 472.9L535.9 474.6L532.6 476L532 473.8L535.5 473.3ZM544.7 476.1L542.4 478.8L539.9 481.4L538.5 479.6L541.5 477.8ZM550.4 479.9L548.8 483.1L546.9 486.1L545.2 484.7L547.7 482.2ZM555.2 483.6L555.2 487.2L554.9 490.7L552.7 490.3L553.8 486.9ZM561.4 488L561.4 491.6L561.2 495.1L559 494.7L560.1 491.3ZM568.9 492.8L567.6 496.2L566.1 499.4L564.2 498.2L566.4 495.4ZM575.6 497.5L573.8 500.6L571.9 503.6L570.2 502.1L572.8 499.7ZM582 502.1L580.1 505L577.9 507.8L576.3 506.3L579.1 504.1ZM588.5 506.7L586.3 509.5L583.9 512L582.4 510.3L585.4 508.4ZM590.3 516.3L591.5 512.9L592.9 509.7L594.8 510.9L592.7 513.7ZM596.9 520.9L597.7 517.4L598.8 514L600.8 515L599 518ZM605.2 525.5L603.9 522.2L603 518.8L605.2 518.4L605.3 521.9ZM614.4 526.6L610.9 527.1L607.4 527.4L607.5 525.2L610.9 525.7ZM620.6 530.2L617.3 531.5L613.9 532.5L613.5 530.3L617 530.1ZM625.6 538L622.9 535.6L620.4 533.1L622.2 531.7L624 534.8ZM628.9 543L629 539.4L629.4 535.9L631.6 536.4L630.4 539.7ZM635.2 547.3L635.3 543.8L635.7 540.3L637.8 540.8L636.6 544.1ZM645.5 549.6L642 548.9L638.6 548L639.4 545.9L642.5 547.7ZM652.1 552.4L648.6 553.4L645 554.2L644.8 551.8L648.4 552ZM659.5 556.8L655.4 557.8L651.4 558.6L651.2 555.9L655.3 556.2ZM665.6 561.8L661.4 562.3L657.3 562.4L657.5 559.8L661.5 560.6ZM671.3 566.9L667.1 566.6L663.1 566L663.7 563.5L667.6 565ZM677.4 572.9L673.6 571.2L670 569.2L671.5 567L674.5 569.9ZM682.5 578.5L679.6 575.6L676.9 572.4L679 571L680.9 574.7ZM687.6 583.4L685.5 579.8L683.7 576.1L686.2 575.2L687.1 579.3ZM345.9 351.4L349.9 352.5L353.8 354L352.6 356.3L349.2 354ZM351.6 354L355.2 356.1L358.7 358.3L357 360.3L354.2 357.3ZM357.7 357.6L361.2 359.9L364.4 362.5L362.5 364.3L360 361.1ZM364.2 362L367.6 364.4L370.8 367.1L368.9 368.9L366.5 365.6ZM370.9 366.5L374.2 369.1L377.3 371.8L375.3 373.5L373 370.1ZM377.6 370.8L380.7 373.6L383.6 376.5L381.6 378.1L379.5 374.6ZM383.4 373.8L386.3 376.7L389 379.9L386.8 381.3L385 377.6ZM390.6 379.2L393.4 382.3L396 385.5L393.7 386.9L392 383.1ZM396.9 383.5L399.7 386.6L402.2 389.9L399.9 391.2L398.3 387.4ZM402.2 388.9L405.7 391.2L409 393.7L407.1 395.6L404.6 392.4ZM408.8 393.9L412.4 396.1L415.8 398.4L414 400.4L411.3 397.3ZM417 398.1L419.2 401.1L421.1 404.2L419 405.1L417.9 401.7ZM421.9 400.3L424.5 403.6L426.9 406.9L424.6 408.2L423.1 404.3ZM428.4 400.4L430.3 404.1L431.8 407.9L429.3 408.6L428.7 404.5ZM439.7 409.3L438.8 413.3L437.5 417.3L435.1 416.2L437.3 412.7ZM452.1 414.3L448.9 417L445.5 419.4L444.2 417.1L448.1 415.5ZM455.8 421.8L452 423.6L448.2 425L447.5 422.5L451.6 422ZM459.5 428.5L456 428.3L452.5 427.9L453 425.8L456.3 427ZM465.2 434.2L462 432.6L458.9 430.8L460.3 429L462.8 431.5ZM470 439.6L468 436.7L466.3 433.6L468.3 432.7L469.3 436.1ZM476.9 443.7L474.4 441.2L472.1 438.5L473.9 437.2L475.5 440.4ZM481.9 439.4L482.2 443.5L482.2 447.7L479.6 447.3L480.6 443.3ZM488.9 446.3L488.1 449.8L487.1 453.2L485 452.3L486.8 449.2ZM490 457.1L492.6 453.8L495.4 450.7L497.1 452.7L493.7 455ZM503 460L499.7 458.9L496.4 457.5L497.5 455.6L500.3 457.7ZM508.2 465.5L505.7 463L503.4 460.4L505.2 459.1L506.8 462.3ZM514.6 470.3L511.9 467.4L509.4 464.4L511.5 463.1L513.2 466.6ZM521.5 474.2L518.2 471.9L515.2 469.4L517.1 467.7L519.4 470.9ZM528.1 477.5L524.7 476.4L521.5 475L522.6 473L525.4 475.2ZM534.8 480.7L531.2 480.8L527.7 480.7L528.1 478.5L531.5 479.5ZM536.9 481.1L538.3 484.4L539.4 487.7L537.2 488.2L536.9 484.7ZM541.1 486.8L544.3 488.3L547.4 490.1L546 491.9L543.5 489.5ZM546.7 490.5L550.4 492.4L553.9 494.6L552.2 496.6L549.3 493.7ZM554 494.1L557 497L559.7 500.2L557.5 501.6L555.6 497.9ZM562.3 498.1L563.5 501.9L564.3 505.8L561.8 506.1L561.9 502.1ZM570.3 503.2L569.6 506.7L568.6 510.1L566.5 509.2L568.3 506.1ZM577.6 508.2L575.7 511.2L573.7 514.1L572 512.6L574.7 510.3ZM583.9 512.6L582 515.6L579.9 518.4L578.3 516.9L581 514.7ZM585.3 522L587.3 519L589.4 516.2L591 517.8L588.3 520ZM591.9 526.7L593.5 523.5L595.2 520.4L597 521.8L594.6 524.3ZM599.5 531.7L599.6 528.1L600 524.6L602.2 525.1L601 528.4ZM609.5 530.8L606.9 533.2L604.2 535.4L603 533.5L606.2 532.1ZM615.1 534.3L613.4 537.5L611.5 540.4L609.7 539L612.3 536.6ZM616.8 544L618.6 540.9L620.6 538L622.3 539.5L619.6 541.9ZM623.3 548.6L624.8 545.4L626.5 542.3L628.3 543.6L625.9 546.2ZM630.9 553.6L630.9 550L631.2 546.5L633.4 546.9L632.3 550.3ZM641.3 553.6L638.1 555.2L634.8 556.5L634.2 554.3L637.7 553.9ZM648.5 557.6L644.8 559.5L641 561.2L640.3 558.7L644.4 558ZM654.3 562.3L650.6 564L646.9 565.5L646.3 563L650.2 562.5ZM661.5 567.1L657.5 568.4L653.5 569.4L653.2 566.8L657.3 566.8ZM668.4 572.6L664.2 573L660.1 573L660.4 570.4L664.4 571.4ZM673.6 579.1L669.7 577.6L665.9 575.9L667.3 573.7L670.5 576.2ZM678.4 584.8L675.4 582L672.6 579L674.7 577.4L676.7 581ZM683.6 589.8L681.4 586.3L679.4 582.7L681.8 581.7L682.9 585.7ZM341.7 357.7L345.6 358.8L349.3 360.2L348.1 362.4L344.9 360.2ZM347.5 360.2L351.1 362.4L354.4 364.8L352.7 366.7L350 363.6ZM353.8 363.8L357.1 366.3L360.2 369L358.2 370.8L355.9 367.4ZM360.3 368.1L363.6 370.8L366.6 373.6L364.5 375.3L362.3 371.8ZM366.9 372.8L370.1 375.4L373.1 378.3L371 380L368.8 376.5ZM373.4 377.3L376.5 380L379.5 382.9L377.4 384.6L375.3 381ZM379.9 381.5L382.9 384.4L385.7 387.5L383.5 389L381.6 385.3ZM386 384.5L388.7 387.7L391.1 391L388.8 392.3L387.3 388.5ZM392.1 388.3L394.7 391.5L397.1 394.9L394.8 396.1L393.3 392.3ZM399 394.3L401.8 397.5L404.3 400.8L402 402.1L400.4 398.3ZM403.8 397.7L406.9 400.5L409.7 403.5L407.6 405.1L405.6 401.5ZM406.6 399.8L410 402.2L413.2 404.8L411.4 406.6L408.9 403.3ZM415.6 406.8L419 409.3L422.2 411.9L420.3 413.7L417.8 410.4ZM428.8 413.6L427.3 416.8L425.5 419.8L423.7 418.5L426.2 415.9ZM436.6 414.8L435.2 418.7L433.5 422.5L431.2 421.1L433.8 417.9ZM446.7 417.5L444.4 421L441.9 424.3L440 422.5L443.2 419.9ZM448.8 427.7L445.9 430.1L442.8 432.4L441.6 430.3L445.2 428.8ZM453 437.1L451.1 434.1L449.5 431L451.6 430.2L452.4 433.6ZM460.7 440.5L457.6 438.8L454.7 436.8L456.1 435.1L458.5 437.7ZM467.2 444.6L463.9 443.2L460.8 441.5L462.1 439.7L464.7 442ZM473.6 448.7L470.2 447.6L467 446.2L468.1 444.3L470.9 446.4ZM480.3 451.8L476.8 452.1L473.2 452L473.5 449.8L477 450.7ZM482.2 452.4L483.8 455.6L485.1 458.8L482.9 459.4L482.5 455.9ZM492.8 460.7L489.3 460.8L485.8 460.6L486.1 458.4L489.5 459.4ZM499.3 465.8L495.4 465.2L491.6 464.3L492.5 462L495.9 463.8ZM505 471.4L501.4 469.5L498 467.4L499.6 465.4L502.4 468.3ZM511 476.3L507.6 473.8L504.5 471.1L506.4 469.4L508.8 472.7ZM517.4 480.5L513.9 478.2L510.6 475.7L512.4 473.8L515 477ZM523.2 484.4L520.2 482.5L517.4 480.4L519 478.7L521.2 481.5ZM525.9 489.7L526.3 486.2L527 482.7L529.2 483.4L527.7 486.6ZM528.7 490.8L532.8 489.9L536.9 489.4L536.9 492L532.8 491.6ZM532 493L536.2 493.3L540.3 494L539.6 496.5L535.8 494.9ZM538.4 494.5L542.3 496.1L545.9 498L544.5 500.2L541.3 497.5ZM547.3 496.8L550.3 499.7L553 502.8L550.8 504.3L548.9 500.6ZM556.6 501.2L558.4 505L559.8 508.8L557.3 509.4L556.8 505.3ZM565.1 507.8L565.5 512L565.6 516.1L562.9 515.8L563.9 511.8ZM572.6 513.9L571.5 517.3L570.2 520.6L568.2 519.5L570.3 516.7ZM573.7 521.9L577 520.7L580.4 519.7L580.8 521.9L577.2 522.1ZM580.8 528.1L582.9 525.2L585.3 522.6L586.8 524.2L583.9 526.3ZM587.2 532.6L589.2 529.6L591.3 526.8L592.9 528.4L590.2 530.6ZM593.7 537.2L595.4 534.1L597.3 531.1L599 532.5L596.5 534.9ZM604 535.9L602.8 539.2L601.4 542.4L599.4 541.3L601.6 538.5ZM608.7 539.7L609.2 543.3L609.4 546.8L607.2 546.7L607.8 543.2ZM611.2 547.6L614.7 546.9L618.2 546.5L618.3 548.7L614.7 548.3ZM618 553.8L620.6 551.4L623.4 549.2L624.6 551.1L621.4 552.6ZM630.3 554.6L627.6 557L624.8 559.1L623.7 557.1L626.9 555.8ZM636.9 558.7L633.9 561.4L630.8 563.8L629.5 561.7L633.2 560.1ZM643.1 563L640.2 565.8L637.2 568.3L635.8 566.2L639.4 564.5ZM650.2 567.4L647 570L643.5 572.3L642.3 569.9L646.2 568.5ZM657.7 572.3L654 574.2L650.2 575.9L649.4 573.4L653.5 572.7ZM663 577.7L659.1 579L655.1 580L654.7 577.4L658.8 577.4ZM667.8 584.5L664.5 583.2L661.3 581.7L662.6 579.8L665.3 582ZM672.3 590.8L670.4 587.2L668.8 583.6L671.2 582.9L671.9 586.8ZM677.5 595.5L676.6 591.5L676 587.4L678.6 587.3L678.2 591.4ZM337.7 364.2L341.2 365.1L344.5 366.2L343.6 368.2L340.6 366.3ZM343.5 366.5L347 368.8L350.3 371.3L348.4 373.2L345.9 370ZM349.9 370L353.1 372.8L356 375.6L354 377.3L351.8 373.8ZM356.5 374.3L359.5 377.2L362.3 380.2L360.1 381.7L358.2 378.1ZM362.9 378.9L365.9 381.8L368.7 384.8L366.6 386.3L364.6 382.7ZM369.1 383.6L372.3 386.3L375.2 389.3L373.1 390.9L371 387.3ZM375.4 387.9L378.6 390.7L381.4 393.7L379.4 395.3L377.3 391.7ZM381.9 392L384.8 395L387.5 398.1L385.3 399.6L383.5 395.8ZM388.6 396L391.2 399.3L393.5 402.7L391.2 403.9L389.8 400ZM394.5 399.6L397.1 402.9L399.4 406.3L397 407.5L395.6 403.6ZM402.7 406L404.3 409.3L405.6 412.7L403.3 413.3L402.9 409.6ZM409.9 410.3L410.5 413.8L410.9 417.4L408.7 417.3L409.1 413.8ZM417.2 414.9L416.8 418.4L416 421.9L413.9 421.2L415.4 418ZM424.8 418.8L423.2 422.7L421.4 426.5L419.2 425L421.9 421.9ZM433.1 419.3L431.7 423.3L430.1 427.1L427.8 425.8L430.3 422.5ZM440.8 420.9L439.5 424.8L437.9 428.7L435.6 427.4L438.1 424ZM443.6 431.3L442.3 435.3L440.8 439.2L438.5 437.9L440.9 434.5ZM449 437L448.1 440.4L446.8 443.7L444.9 442.7L446.8 439.8ZM456.5 442.3L454.1 445L451.6 447.5L450.3 445.7L453.3 443.9ZM463.5 449.1L459.9 449.5L456.4 449.7L456.6 447.5L460 448.1ZM469.7 453.7L466.1 453.9L462.6 453.8L462.9 451.6L466.3 452.5ZM476 457.3L472.6 458.3L469.1 459L468.9 456.7L472.5 456.9ZM482.2 461.5L478.9 462.7L475.5 463.5L475.2 461.3L478.7 461.3ZM488.6 466.1L485.1 467L481.6 467.7L481.4 465.4L485 465.6ZM494.9 471.3L491.2 471.4L487.6 471.3L487.9 469L491.4 470ZM500.7 476.9L497.2 475.7L493.8 474.3L495 472.3L497.9 474.5ZM506.7 482.1L503.3 480L500.1 477.8L501.8 475.9L504.4 478.9ZM512.9 486.7L509.6 484.4L506.5 481.9L508.3 480.2L510.7 483.3ZM517.6 491.5L515.7 488.4L514.2 485.3L516.3 484.5L517 488ZM519.7 495.3L522.1 492L524.7 488.9L526.5 490.8L523.2 493.2ZM522.1 499.1L525.7 497.1L529.5 495.4L530.3 497.9L526.2 498.7ZM526.5 500.5L530.7 500.1L534.8 500L534.5 502.6L530.5 501.7ZM534 500.8L537.8 502.4L541.6 504.2L540.1 506.4L537 503.7ZM543.7 501.1L546.1 504.5L548.2 508.1L545.9 509.1L544.6 505.2ZM553 504.5L554.2 508.5L555.1 512.5L552.5 512.7L552.6 508.6ZM561.2 512L561.4 516.1L561.4 520.3L558.8 519.9L559.8 515.9ZM567.9 520L567.2 523.5L566.2 526.9L564.1 526L565.9 522.9ZM570.6 530.3L572.3 527.1L574.2 524.2L575.9 525.6L573.3 528ZM577.2 534.9L578.5 531.6L580 528.4L581.9 529.6L579.6 532.3ZM584.5 539.7L584.7 536.2L585.1 532.7L587.3 533.2L586 536.5ZM594 543.3L591.1 541.2L588.4 538.9L590.1 537.4L592.1 540.2ZM601.3 545.7L597.8 545.8L594.2 545.6L594.6 543.4L598 544.4ZM607.5 550.6L603.9 550.1L600.5 549.4L601.2 547.3L604.4 548.8ZM608.3 556.6L609.8 553.4L611.6 550.4L613.4 551.7L611 554.3ZM614.7 561.1L616.1 557.8L617.7 554.7L619.6 556L617.2 558.6ZM625.8 560.6L623.3 563.2L620.7 565.5L619.4 563.6L622.6 562ZM632.8 564.3L630 567.4L627 570.2L625.5 568.1L629 566.1ZM637.9 568.9L636 571.8L633.8 574.6L632.2 573L635 570.9ZM646.4 572.5L643.5 575.5L640.4 578.2L638.9 576.1L642.6 574.2ZM651.9 577.3L649 580.4L646 583.1L644.5 581L648.1 579ZM658.6 582.9L655 585.1L651.3 586.9L650.4 584.5L654.4 583.5ZM664.2 590L660.3 589.6L656.5 588.9L657.2 586.5L660.8 588.1ZM668.9 596.9L666.1 593.7L663.7 590.4L666 589.1L667.6 592.9ZM673.8 602.2L672.4 598.3L671.3 594.3L673.9 593.9L674 598.1ZM333.4 370.4L336.8 371.3L340.2 372.5L339.2 374.5L336.2 372.6ZM339.9 373.2L343.3 375.7L346.4 378.3L344.5 380.1L342.1 376.8ZM346.1 376.5L349.1 379.4L351.9 382.4L349.8 384L347.8 380.3ZM352.5 380.7L355.4 383.7L358 386.9L355.8 388.3L354.1 384.5ZM358.7 385.1L361.7 388.1L364.4 391.2L362.2 392.7L360.3 389ZM364.8 389.8L367.9 392.5L370.8 395.5L368.7 397.1L366.6 393.5ZM370.9 394.2L374.2 396.9L377.1 399.8L375.1 401.4L372.9 397.9ZM377.4 398.6L380.5 401.3L383.4 404.3L381.3 405.9L379.2 402.3ZM383.6 403.8L387.1 406.1L390.3 408.7L388.4 410.6L385.9 407.3ZM387.7 408.6L391.7 409.7L395.6 411.2L394.3 413.5L390.9 411.2ZM394.1 411.9L397.9 413.7L401.5 415.7L399.9 417.8L396.9 415ZM401.1 416.1L404.7 418.3L408.1 420.6L406.3 422.6L403.6 419.5ZM409.2 420.5L412.1 423.5L414.8 426.7L412.6 428.1L410.8 424.4ZM419.1 423.7L419.1 427.8L418.7 432L416.1 431.4L417.5 427.5ZM428.3 423.9L427.4 428L426.3 432L423.9 430.9L425.9 427.4ZM436 425.5L435 429.6L433.8 433.6L431.4 432.5L433.6 428.9ZM440.1 433.9L439.3 438L438.2 442L435.8 441L437.8 437.4ZM444.7 441L444.3 445.2L443.6 449.2L441.1 448.5L442.7 444.7ZM449.9 447L450.1 450.8L450 454.5L447.6 454.2L448.6 450.6ZM454.9 451.6L456.3 454.9L457.5 458.3L455.3 458.7L455 455.2ZM461.6 455.9L462.6 459.4L463.3 462.8L461.1 463L461.2 459.5ZM470 460.8L468.8 464.2L467.3 467.4L465.4 466.2L467.6 463.5ZM476.8 465.6L475 468.6L473 471.6L471.3 470.1L473.9 467.7ZM483.4 470.3L481.1 473.1L478.7 475.7L477.3 473.9L480.3 472ZM490 475.2L487.3 477.5L484.5 479.7L483.4 477.7L486.6 476.3ZM496.7 481.3L493.2 482L489.7 482.4L489.7 480.2L493.2 480.6ZM502.5 487.4L499.2 486.3L495.9 484.9L497 483L499.9 485.1ZM508.3 492.5L505.3 490.6L502.5 488.5L504 486.8L506.3 489.6ZM512.3 497.9L511.3 494.5L510.7 491L512.9 490.9L512.7 494.4ZM514.8 503L516.8 499.4L519 495.9L521.1 497.5L518.1 500.4ZM518.5 508L521.2 504.8L524.2 501.8L525.8 503.9L522.3 506.1ZM525.3 510.2L528.6 507.7L532.1 505.5L533.3 507.9L529.3 509.2ZM533.7 511.3L537.2 511.3L540.8 511.5L540.3 513.7L537 512.6ZM543.1 510L544.1 514.1L544.8 518.2L542.2 518.3L542.5 514.2ZM551.9 511.1L551.8 515.3L551.3 519.4L548.7 518.8L550.2 514.9ZM559.1 517.6L558.2 521.7L557.1 525.6L554.7 524.6L556.8 521ZM564.2 526.3L562.8 529.8L561.1 533.3L559.1 531.9L561.6 529ZM571.2 536L568 534.4L565 532.5L566.4 530.7L568.9 533.3ZM574.3 541.7L574 538.1L574 534.6L576.2 534.8L575.4 538.3ZM582 545.9L580.3 542.8L578.9 539.5L581 538.9L581.7 542.4ZM590.3 548.6L586.9 547.5L583.6 546.2L584.7 544.3L587.6 546.3ZM596.7 552.7L593.3 552L589.9 551L590.7 548.9L593.8 550.7ZM602.3 558.1L599.3 556.2L596.5 554.1L598 552.5L600.3 555.2ZM606.9 563.5L605.4 560.2L604.1 556.9L606.3 556.4L606.7 559.9ZM614.3 567.3L611.7 564.8L609.5 562.2L611.3 560.9L612.9 564.1ZM621.6 566.9L619 569.4L616.2 571.6L615 569.7L618.2 568.2ZM628.4 570.6L625.6 573.7L622.5 576.5L621 574.3L624.6 572.4ZM634.9 574.5L632.2 577.7L629.3 580.7L627.7 578.7L631.2 576.5ZM641.9 578.2L639.3 581.4L636.4 584.4L634.8 582.4L638.2 580.2ZM647.8 582.8L645.2 586.1L642.4 589.1L640.7 587.1L644.2 584.8ZM654.7 588L651.5 590.7L648.2 593.2L646.9 590.9L650.7 589.3ZM659.7 595.2L656.2 595.8L652.7 596L652.8 593.8L656.2 594.4ZM662.4 602.9L661.8 599.4L661.4 595.9L663.7 596L663.2 599.5ZM668.1 608L667.9 603.8L668 599.7L670.6 600L669.5 604ZM329.4 376L332.6 377.6L335.6 379.4L334.3 381.2L331.8 378.7ZM335.8 378.9L338.9 381.7L341.7 384.7L339.6 386.2L337.5 382.6ZM341.8 382.8L344.8 385.7L347.6 388.7L345.5 390.2L343.5 386.6ZM348.3 387.4L351.3 390.3L354.1 393.4L351.9 394.9L350 391.3ZM354.2 392L357.5 394.6L360.5 397.5L358.4 399.1L356.2 395.7ZM360.3 396.6L363.7 399L366.9 401.6L365 403.4L362.5 400.1ZM366.7 401.1L370.1 403.5L373.3 406.2L371.4 408L368.9 404.7ZM373 406.5L376.5 408.2L379.8 410.1L378.4 412L375.6 409.4ZM374.2 413.8L378.2 412.7L382.2 411.8L382.4 414.5L378.3 414.3ZM376.6 416.9L380.7 416.3L384.8 416L384.7 418.6L380.6 417.9ZM387.4 418.6L391.5 419.5L395.4 420.7L394.4 423.1L390.8 421ZM405.7 426.3L407.9 429.8L409.9 433.4L407.5 434.4L406.4 430.4ZM414.4 429.8L414.7 434L414.6 438.1L412 437.7L413 433.7ZM423.6 430.5L422.8 434.6L421.7 438.6L419.3 437.6L421.3 434ZM431.9 431.1L430.9 435.2L429.7 439.1L427.3 438.1L429.4 434.5ZM436.5 438.5L435.7 442.6L434.6 446.6L432.2 445.5L434.2 442ZM441.1 445.6L440.6 449.8L439.7 453.8L437.2 453L439 449.2ZM446.1 451.7L446.1 455.9L445.7 460L443.1 459.5L444.5 455.6ZM450.7 457.8L452 461.2L453 464.5L450.8 464.9L450.6 461.4ZM457 462.2L458.2 465.5L459.3 468.9L457.1 469.3L456.9 465.8ZM464.9 466.7L464.5 470.2L463.9 473.7L461.7 473L463.2 469.8ZM471.6 471.2L470.7 474.7L469.6 478.1L467.6 477.1L469.5 474.1ZM478 475.7L477 479.1L475.7 482.4L473.7 481.4L475.7 478.5ZM484 479.9L483.3 483.4L482.3 486.8L480.2 485.9L482 482.9ZM490.3 484.3L489.5 487.8L488.5 491.2L486.4 490.3L488.3 487.2ZM498.2 490.1L495.5 492.5L492.7 494.7L491.6 492.7L494.8 491.3ZM504.8 497.3L501.2 496.9L497.8 496.3L498.4 494.2L501.6 495.6ZM508.3 504.1L507 500.8L506 497.4L508.2 497L508.4 500.5ZM512.1 510.1L512.8 506L513.7 502L516.2 502.8L514.3 506.5ZM517.2 516L518.2 511.9L519.4 508L521.8 509.1L519.6 512.6ZM524.8 519.1L525.3 514.9L526 510.9L528.5 511.7L526.8 515.4ZM534.2 522L532 518.4L530.2 514.8L532.6 513.9L533.5 517.9ZM542.7 519.8L539.9 522.9L537 525.7L535.4 523.7L538.9 521.6ZM551.1 520.1L549 523.8L546.8 527.2L544.8 525.5L547.8 522.7ZM556.7 525.5L554.6 529.1L552.2 532.5L550.3 530.8L553.4 528.1ZM561.1 533.1L558.4 536.3L555.4 539.2L553.8 537.1L557.4 535ZM566 543L563.5 540.4L561.3 537.7L563.1 536.5L564.7 539.7ZM570.4 547.9L569.7 544.4L569.3 540.9L571.5 540.9L571.1 544.4ZM578.3 551.9L576 549.1L574 546.2L576 545.2L577.3 548.5ZM586.4 553.4L582.9 553.8L579.3 554L579.5 551.8L583 552.5ZM592.5 558.5L589 558.2L585.5 557.7L586.1 555.5L589.4 556.9ZM597.8 564.5L594.9 562.4L592.2 560.1L593.9 558.6L596 561.4ZM602.9 569.6L601.1 566.5L599.5 563.4L601.6 562.6L602.4 566ZM610.8 572.8L607.6 571.2L604.5 569.4L605.9 567.6L608.4 570.1ZM617.7 572.1L615.1 575.4L612.3 578.4L610.6 576.4L614.1 574.1ZM623.8 576.9L621 580L618 582.9L616.5 580.8L620.1 578.7ZM630.8 580.4L628.2 583.7L625.4 586.7L623.7 584.7L627.1 582.4ZM637 584.5L634.5 587.9L631.8 591.1L630.1 589.1L633.4 586.7ZM643.8 588.2L641.4 591.6L638.8 594.8L637 592.9L640.3 590.5ZM649.5 593.2L647.1 596.6L644.4 599.8L642.6 597.9L646 595.4ZM653.5 598.2L652.5 601.6L651.3 604.9L649.3 603.9L651.2 601ZM656.4 608.7L657.5 605.3L658.8 602.1L660.8 603.1L658.7 606ZM662.2 613.3L663.7 609.6L665.5 606.1L667.6 607.5L665 610.5ZM327 387.8L327.2 384.2L327.6 380.7L329.8 381.3L328.5 384.6ZM331.8 386.1L334.6 388.3L337.3 390.6L335.6 392.1L333.6 389.2ZM337.6 390.1L341 392.6L344.1 395.2L342.2 397L339.8 393.7ZM343.2 394.9L346.9 396.7L350.5 398.7L349 400.9L346 398ZM348.7 400.5L352.8 401L356.9 401.7L356.1 404.2L352.3 402.5ZM354.8 405.6L358.9 405.4L363.1 405.5L362.6 408.1L358.7 407ZM362.1 409.7L365.6 410L369.1 410.5L368.5 412.6L365.3 411.3ZM368.6 416.5L371.4 414.4L374.4 412.5L375.4 414.5L372 415.6ZM369.8 424.5L372.8 421.6L376.1 419L377.4 421.3L373.7 423ZM378.9 425.6L382.5 423.5L386.2 421.7L387.1 424.2L383 425ZM409.3 436.8L410.1 440.9L410.6 445L408 445L408.5 440.9ZM419.1 437.1L418.3 441.2L417.2 445.2L414.8 444.2L416.8 440.6ZM427.7 437.3L426.7 441.3L425.5 445.3L423.1 444.2L425.3 440.6ZM432.9 443.5L432 447.6L430.8 451.5L428.4 450.5L430.5 446.9ZM437.1 451.4L436.4 455.5L435.5 459.5L433.1 458.6L434.9 455ZM442.7 456.7L442.2 460.9L441.5 464.9L439 464.1L440.7 460.4ZM447.4 463.2L447.8 467.4L447.9 471.5L445.3 471.2L446.2 467.2ZM457.5 470L454.1 472.4L450.5 474.5L449.5 472.1L453.4 470.9ZM461.5 480.2L458.9 476.9L456.6 473.5L458.9 472.3L460.4 476.2ZM467.6 477.6L466.3 481L464.9 484.2L463 483L465.2 480.3ZM473.5 481.8L472.6 485.3L471.6 488.7L469.5 487.7L471.4 484.7ZM479.1 486L479 489.5L478.5 493L476.3 492.5L477.6 489.2ZM485.1 490.3L485.2 493.9L485.1 497.4L482.9 497L483.9 493.7ZM491.7 494.8L491.5 498.3L491 501.8L488.8 501.2L490.1 497.9ZM499.5 499.9L497.6 503L495.5 505.8L493.9 504.3L496.6 502ZM505.2 509.8L502.8 507.2L500.5 504.5L502.4 503.3L503.9 506.5ZM509.5 515.5L508.8 511.4L508.4 507.3L511.1 507.3L510.4 511.4ZM515.9 522.2L515.1 518.1L514.6 514L517.2 514L516.7 518.1ZM524.1 526.6L522.2 522.9L520.5 519.1L523 518.3L523.7 522.4ZM532.7 528.6L529.2 526.3L525.9 523.8L527.8 521.9L530.4 525.1ZM541.5 529L537.4 529.7L533.3 530L533.4 527.4L537.4 528ZM548.6 530.3L545.1 532.5L541.4 534.4L540.5 531.9L544.5 530.9ZM553 534.3L549.8 537L546.5 539.4L545.2 537.1L549 535.6ZM557 541.1L553.6 542.6L550.3 543.7L549.8 541.5L553.3 541.2ZM560.8 549.6L559.1 546.5L557.7 543.2L559.8 542.6L560.4 546.1ZM565.2 554L565.4 550.5L565.7 547L567.9 547.5L566.7 550.8ZM571.4 558.4L571.6 554.8L572.1 551.3L574.3 551.9L573 555.2ZM580.7 556.6L579.1 559.8L577.3 562.8L575.6 561.5L578 559ZM587.3 561.3L585.3 564.2L583.1 567L581.6 565.4L584.3 563.3ZM592.2 571.5L590.4 568.3L589 565.2L591.1 564.5L591.8 567.9ZM597.1 576L596.7 572.5L596.5 568.9L598.7 569.1L598.1 572.6ZM607 578L603.4 577.5L600 576.9L600.7 574.7L603.9 576.2ZM612.7 577.8L610.8 581.5L608.6 585L606.5 583.4L609.5 580.5ZM618.8 582.8L616.7 586.1L614.5 589.3L612.6 587.6L615.6 585.1ZM625.8 585.6L623.9 589.4L621.9 592.9L619.8 591.4L622.6 588.4ZM631.8 590.3L630 594.1L627.9 597.7L625.8 596.1L628.7 593.1ZM638.4 593.5L636.8 597.4L635 601.1L632.8 599.7L635.5 596.5ZM643.5 598.8L642.3 602.8L640.9 606.7L638.5 605.5L640.9 602.1ZM645.8 604.4L648.1 607.2L650.2 610L648.2 611.1L646.9 607.8ZM650.5 613L653.6 611.2L656.8 609.7L657.5 611.9L654 612.5ZM657.1 618.9L659.5 615.7L662.1 612.7L663.8 614.5L660.6 616.8ZM326.4 395.7L329.6 394.3L332.9 393.1L333.4 395.3L329.9 395.7ZM332 399.7L336 398.6L340 397.7L340.2 400.3L336.1 400.1ZM338 405.2L341.6 403.1L345.4 401.3L346.2 403.8L342.2 404.6ZM344.1 410.4L347.3 407.8L350.8 405.5L352 407.8L348.1 409.3ZM350 415L353.3 412.4L356.7 410L357.9 412.4L354 413.8ZM356.6 419.6L359.7 416.8L362.9 414.2L364.3 416.5L360.5 418.2ZM364 424.5L366.4 421.1L369 417.9L370.8 419.8L367.5 422.3ZM367.6 431.6L370 428.1L372.5 424.9L374.4 426.7L371.1 429.3ZM413.5 445.5L412.9 449.6L412 453.6L409.5 452.8L411.4 449.1ZM423.3 443.5L422.3 447.6L421.1 451.5L418.7 450.4L420.8 446.9ZM429.2 448.4L428.3 452.5L427.1 456.4L424.7 455.3L426.8 451.8ZM432.8 457.4L432.2 461.5L431.3 465.5L428.8 464.7L430.6 461ZM438.8 462.1L438.3 466.2L437.4 470.3L434.9 469.4L436.7 465.7ZM443.6 468.6L443.6 472.8L443.3 476.9L440.7 476.4L442 472.5ZM449.4 471.8L449.9 475.9L450 480.1L447.4 479.9L448.2 475.8ZM451.4 483.1L455 481.7L458.7 480.6L459.1 483L455.3 483.2ZM462.5 483.5L462.1 487.1L461.3 490.5L459.2 489.8L460.7 486.6ZM468.9 487.9L468.3 491.5L467.5 494.9L465.4 494.1L467 491ZM474.4 492.1L474.6 495.7L474.5 499.2L472.3 498.9L473.3 495.5ZM480.5 496.5L480.9 500L481 503.6L478.8 503.4L479.5 499.9ZM487.3 501L487.1 504.5L486.7 508L484.5 507.5L485.8 504.2ZM494.3 505.6L493.4 509L492.2 512.4L490.2 511.4L492.1 508.4ZM502.4 512.1L499.2 513.8L496 515.2L495.3 513L498.8 512.4ZM506.8 520.6L504.7 517.8L502.7 514.8L504.7 513.8L505.9 517.2ZM513.2 526.6L511.1 523L509.3 519.2L511.7 518.4L512.6 522.4ZM521.1 531.9L518.3 528.8L515.9 525.5L518.1 524.2L519.8 528ZM529.5 535.1L525.9 533.1L522.4 530.9L524 528.9L526.9 531.9ZM537.3 536.8L533.2 536.6L529.1 536L529.7 533.5L533.6 535ZM543.4 538.8L539.4 539.9L535.3 540.8L535.1 538.2L539.2 538.3ZM548.2 542.6L544.3 544.3L540.4 545.6L539.9 543L544 542.7ZM552.1 549.9L548.8 548.7L545.6 547.2L546.8 545.3L549.5 547.5ZM555.3 556L554.7 552.4L554.5 548.9L556.7 549L556.1 552.5ZM560.3 560.1L561 556.6L562 553.2L564.1 554.1L562.3 557.1ZM565.2 563.4L567.5 560.7L570 558.2L571.4 559.9L568.4 561.8ZM573.4 562.2L574.9 565.4L576.1 568.7L573.9 569.3L573.5 565.8ZM579.6 566.6L581.2 569.8L582.5 573.1L580.3 573.6L579.8 570.2ZM583.8 572.5L587.1 573.8L590.3 575.3L589.1 577.2L586.4 574.9ZM589.5 579.1L593 578L596.4 577.3L596.6 579.5L593.1 579.4ZM597.5 580.1L599.9 582.7L602.1 585.5L600.2 586.7L598.7 583.5ZM607.2 583.2L606.5 587.3L605.5 591.3L603 590.4L605 586.7ZM613.5 587.6L612.8 591.7L611.7 595.7L609.3 594.7L611.3 591.1ZM620.1 591.1L619.4 595.2L618.4 599.2L615.9 598.3L617.8 594.6ZM626.1 595.5L625.6 599.6L624.7 603.7L622.2 602.8L624 599.1ZM632.3 599.1L632 603.3L631.3 607.3L628.8 606.6L630.4 602.8ZM637.4 603.6L637.9 607.7L638 611.9L635.4 611.6L636.2 607.6ZM641 611L643.7 613.3L646.2 615.8L644.4 617.2L642.6 614.2ZM646 618.9L649.3 617.4L652.7 616.2L653.1 618.5L649.6 618.8ZM651.9 624.3L655.3 621.8L658.8 619.6L659.9 622L656 623.3ZM322.9 403.8L324.9 400.7L327.1 397.8L328.8 399.4L325.9 401.7ZM327.2 408.4L330.2 405.5L333.4 402.9L334.8 405.2L331.1 406.9ZM333.3 413L336.3 410.1L339.5 407.4L340.9 409.6L337.2 411.4ZM338.8 418.3L341.6 415.2L344.6 412.4L346.2 414.5L342.6 416.5ZM345.5 422.6L348.2 419.4L351.2 416.5L352.8 418.6L349.2 420.7ZM351.7 427.4L354.3 424.1L357.1 421.1L358.8 423.1L355.3 425.4ZM358.5 431.6L361 428.2L363.7 425.1L365.4 427L362.1 429.4ZM363.8 437.4L366.1 433.9L368.6 430.6L370.5 432.5L367.3 435.1ZM406.6 454.6L407.6 458L408.3 461.5L406.1 461.6L406.2 458.1ZM418.6 449.9L417.7 454L416.5 458L414.1 456.9L416.2 453.4ZM424.9 454L424 458.1L422.9 462L420.5 461L422.5 457.4ZM429.1 462L428.5 466.1L427.5 470.1L425 469.2L426.9 465.6ZM434.8 467.4L434.2 471.5L433.4 475.6L430.9 474.7L432.7 471ZM439.6 474.1L439.5 478.3L439 482.4L436.5 481.8L437.9 477.9ZM444.7 479.5L445.4 483.7L445.7 487.8L443.1 487.7L443.7 483.6ZM450.5 484.3L451.6 488.3L452.4 492.4L449.8 492.6L450 488.5ZM458.9 490L457.7 493.4L456.2 496.7L454.3 495.6L456.4 492.7ZM465.9 495L463.8 498L461.6 500.7L460 499L462.8 496.9ZM472.4 499.8L470 502.4L467.4 504.8L466.1 502.9L469.2 501.3ZM478.2 503.6L476.4 506.7L474.3 509.5L472.7 508L475.4 505.7ZM483.5 507.3L482.8 510.8L481.8 514.2L479.8 513.4L481.5 510.3ZM489.9 511.8L489 515.2L487.9 518.6L485.9 517.6L487.8 514.6ZM496.8 516.5L495.2 519.7L493.4 522.8L491.7 521.4L494.1 518.9ZM504.3 522.9L501.1 524.4L497.8 525.6L497.3 523.4L500.8 523ZM509.9 530.3L506.8 528.6L503.8 526.7L505.2 525L507.6 527.5ZM516.3 536L513.1 533.3L510.2 530.5L512.2 528.8L514.4 532.3ZM523.6 540.6L520.1 538.3L516.8 535.8L518.6 533.9L521.2 537.1ZM531 543.3L526.9 542.5L522.9 541.3L523.9 538.9L527.5 541ZM537.5 546L533.3 546.5L529.2 546.6L529.4 544L533.5 544.8ZM542.9 550.2L538.8 550.8L534.7 551L534.8 548.4L538.9 549.2ZM546.8 557.2L544.2 554.7L541.9 552.1L543.8 550.8L545.4 553.9ZM550.6 562.2L550.4 558.6L550.4 555.1L552.6 555.4L551.8 558.8ZM556.1 566.3L556.7 562.8L557.6 559.4L559.7 560.2L558 563.3ZM561.5 570.2L563.1 567L564.9 564L566.6 565.4L564.2 567.9ZM567.1 569.7L570.3 571.3L573.3 573L572 574.8L569.5 572.4ZM574 573.4L576.7 575.8L579.2 578.3L577.4 579.7L575.6 576.6ZM579.3 578.9L582.7 580L586 581.2L585 583.2L582.1 581.2ZM585.2 584.4L588.8 584.3L592.3 584.3L592 586.6L588.6 585.6ZM591.9 587.7L595.3 588.7L598.6 590L597.5 592L594.6 589.9ZM601.9 589.2L602.1 593.4L602 597.5L599.4 597.1L600.5 593.1ZM608.4 592.7L608.5 596.9L608.3 601L605.7 600.6L606.9 596.6ZM614.2 597.5L614.6 601.7L614.8 605.8L612.2 605.6L613 601.6ZM620.7 600.5L621.1 604.7L621.1 608.8L618.5 608.5L619.5 604.5ZM626.2 605.6L627.1 609.7L627.6 613.8L625 613.8L625.5 609.7ZM631.5 609.2L633 613.1L634.1 617.1L631.5 617.5L631.4 613.4ZM636.1 615.5L638.9 618.6L641.5 621.8L639.3 623.2L637.5 619.4ZM640.7 623.2L644.9 623.4L649 624L648.4 626.5L644.5 625ZM646.6 629.3L650.6 628L654.6 627L654.9 629.6L650.8 629.6ZM323.4 415.4L325.9 412.1L328.5 408.9L330.3 410.9L327 413.3ZM328.7 420.8L331.1 417.4L333.8 414.2L335.6 416.1L332.3 418.6ZM334.4 426L336.8 422.5L339.3 419.3L341.2 421.1L337.9 423.7ZM341.3 429.4L343.8 426L346.4 422.9L348.2 424.8L344.9 427.2ZM347.4 433.9L349.9 430.5L352.6 427.4L354.4 429.3L351 431.7ZM353.9 437.9L356.4 434.6L359.2 431.5L360.9 433.5L357.5 435.8ZM359.6 443.3L361.9 439.8L364.5 436.6L366.4 438.5L363.1 441ZM401.8 460.9L403.2 464.1L404.5 467.4L402.3 468L401.9 464.5ZM413.2 457.5L412.4 461.6L411.4 465.6L409 464.6L410.9 461ZM420.2 459.7L419.5 463.8L418.5 467.9L416 466.9L417.9 463.3ZM425 467L424.4 471.1L423.5 475.1L421.1 474.3L422.9 470.6ZM430.3 473.1L429.9 477.3L429.1 481.4L426.6 480.6L428.3 476.8ZM435.6 479.3L435.4 483.4L434.9 487.5L432.4 486.9L433.9 483ZM441.1 485.5L441.2 489.7L440.9 493.8L438.3 493.3L439.6 489.4ZM448.8 491.1L447.4 495L445.7 498.7L443.4 497.4L446 494.1ZM457.9 498.1L454.1 499.8L450.2 501.2L449.6 498.7L453.7 498.2ZM463.8 504.1L459.7 504.5L455.5 504.7L455.8 502L459.8 502.9ZM468.6 509.6L464.9 508.7L461.4 507.5L462.4 505.4L465.6 507.4ZM474.3 514.6L471.1 513L468.1 511.1L469.5 509.4L471.9 511.9ZM480.9 518.4L477.5 517.4L474.2 516.2L475.2 514.2L478.1 516.2ZM485.5 518L484.7 521.5L483.6 524.8L481.6 523.9L483.4 520.9ZM491 522.1L491 525.7L490.8 529.2L488.6 528.8L489.6 525.4ZM497.4 526.5L497.3 530.1L496.8 533.6L494.6 533L495.9 529.7ZM504.5 531.2L503.5 534.6L502.2 537.9L500.2 536.8L502.2 534ZM512.1 540.5L508.8 539.3L505.6 537.8L506.7 535.9L509.5 538.1ZM517.5 545.8L514.8 543.5L512.4 541L514.1 539.6L515.9 542.6ZM524.9 548.8L521.4 548.1L518 547L518.9 545L521.9 546.8ZM531.6 551.8L527.9 552.5L524.2 553L524.2 550.6L527.9 551.1ZM537.6 556.9L534 556.8L530.5 556.5L531 554.3L534.3 555.5ZM541.1 564L539.8 560.7L538.7 557.3L541 556.9L541.1 560.4ZM545.7 568.4L546 564.7L546.6 561.1L548.9 561.7L547.4 565.1ZM551.3 572.5L552.4 569L553.7 565.5L555.7 566.6L553.6 569.6ZM557.1 576.4L558.7 573.2L560.6 570.2L562.3 571.7L559.8 574.1ZM562 577.8L565.6 577.3L569.1 577.1L569 579.4L565.5 578.7ZM568.9 580.4L572.2 581.8L575.3 583.5L574 585.3L571.4 583ZM574.8 585.6L578.3 586.1L581.7 586.9L581 589L577.8 587.4ZM580.8 591.2L584.3 590.5L587.8 590L587.8 592.3L584.3 591.9ZM587.2 594.9L590.7 594.9L594.2 595.1L593.8 597.3L590.5 596.2ZM596.3 596.5L597.6 599.8L598.6 603.2L596.4 603.6L596.2 600ZM603.5 598.4L604.1 602.5L604.3 606.6L601.7 606.4L602.5 602.4ZM608.9 604.6L610.2 608.6L611.2 612.6L608.6 612.9L608.6 608.8ZM615.4 606.4L616.4 610.5L617 614.6L614.4 614.6L614.8 610.5ZM621.3 611.2L622.5 615.2L623.5 619.2L620.8 619.5L620.9 615.3ZM626.8 616.6L628.6 620.3L630.2 624.2L627.7 624.9L627.1 620.8ZM631.2 621.9L634.3 624.7L637.3 627.6L635.2 629.2L633.1 625.7ZM636.2 628.3L640.2 629.4L644.1 630.8L643 633.1L639.5 630.8ZM642.5 634.7L646.6 634.1L650.8 633.8L650.6 636.4L646.6 635.7ZM319.7 422.1L321.6 418.4L323.9 414.9L325.9 416.6L322.9 419.4ZM324.5 428.2L326.5 424.5L328.7 421L330.7 422.7L327.7 425.6ZM330.3 433.2L332.3 429.5L334.5 426L336.5 427.6L333.6 430.5ZM337.5 436.3L339.5 432.6L341.8 429.1L343.8 430.8L340.8 433.7ZM343.5 440.6L345.6 437L348 433.6L350 435.4L346.9 438.1ZM349.9 444.7L352.1 441.2L354.5 437.8L356.4 439.6L353.3 442.3ZM355.5 449.6L357.8 446.1L360.2 442.8L362.1 444.6L359 447.2ZM397.2 467L398.9 470.3L400.4 473.7L398.1 474.4L397.5 470.7ZM407.3 465.9L406.8 470L406.1 474.1L403.6 473.3L405.3 469.6ZM415.4 465.5L414.8 469.7L414 473.7L411.5 472.9L413.3 469.1ZM420.6 472L420.2 476.1L419.5 480.2L417 479.4L418.6 475.6ZM425.6 479.1L425.4 483.3L424.8 487.4L422.3 486.7L423.8 482.9ZM431.5 484.6L431.3 488.8L430.8 492.9L428.2 492.2L429.7 488.4ZM437.7 491.3L437.1 495.5L436.3 499.5L433.8 498.7L435.6 494.9ZM447.9 497.3L445 500.2L441.8 502.9L440.4 500.7L444.1 498.9ZM453.4 503.4L449.9 505.7L446.3 507.8L445.3 505.4L449.3 504.2ZM457.4 507.7L455.1 510.4L452.6 513L451.2 511.2L454.2 509.3ZM464.4 514.3L460.9 515L457.4 515.3L457.4 513.1L460.9 513.6ZM470.1 516.8L467.5 519.2L464.8 521.4L463.6 519.5L466.8 518ZM475.4 525.9L472.9 523.4L470.5 520.8L472.4 519.5L474 522.6ZM480.6 530.8L479 527.6L477.8 524.3L479.9 523.7L480.4 527.2ZM484.8 528.5L486.6 531.5L488.2 534.7L486.1 535.4L485.3 532ZM491.1 532.8L492.9 535.9L494.4 539.1L492.3 539.8L491.6 536.4ZM497.5 537.2L499.2 540.3L500.6 543.5L498.5 544.2L497.8 540.7ZM503 541.9L505.4 544.5L507.5 547.3L505.6 548.5L504.2 545.2ZM508.3 547.1L511.5 548.7L514.5 550.5L513.1 552.3L510.6 549.8ZM516.7 550.2L518 553.5L519 556.9L516.8 557.3L516.6 553.8ZM524.3 554.6L524.3 558.2L524 561.7L521.8 561.2L522.9 557.9ZM529.5 558.9L530.5 562.3L531.4 565.7L529.1 566L529.2 562.5ZM533.4 569L535.7 566.2L538.1 563.7L539.5 565.4L536.6 567.3ZM539.5 573.7L541.9 570.6L544.5 567.7L546.1 569.5L542.9 571.7ZM545.6 577.9L548.2 574.9L551 572.2L552.5 574.1L549.1 576.1ZM551.7 581.4L554.6 579.3L557.7 577.4L558.6 579.4L555.2 580.5ZM557.8 583.6L561.3 583.6L564.8 583.8L564.4 586L561.1 584.9ZM564.4 587L567.8 588L571.1 589.3L570 591.3L567.1 589.3ZM570.5 591.6L574 592.4L577.4 593.4L576.5 595.4L573.5 593.7ZM576.5 597L580.1 596.7L583.6 596.7L583.3 598.9L579.9 598.1ZM582.8 601.6L586.3 601.1L589.8 600.8L589.7 603L586.2 602.5ZM590.6 603.2L593.1 605.8L595.4 608.4L593.5 609.7L592 606.5ZM598.5 605.1L599.5 609.2L600.3 613.2L597.6 613.4L597.9 609.2ZM604.6 609.4L605.8 613.4L606.6 617.5L604 617.7L604.1 613.5ZM610.8 614.1L612 618.2L612.9 622.2L610.3 622.4L610.4 618.3ZM616.5 617L618 620.9L619.1 624.9L616.6 625.3L616.4 621.2ZM621.9 622.5L624.1 626.1L625.9 629.8L623.4 630.7L622.5 626.6ZM627.9 629.4L630.7 631.9L633.4 634.6L631.5 636.1L629.6 632.8ZM633.1 635.6L636.6 636.1L640.1 636.9L639.3 639L636.2 637.4ZM639.1 640.7L642.8 640.4L646.4 640.4L646.1 642.7L642.6 641.8ZM316 428.5L317.5 424.6L319.3 420.8L321.5 422.2L318.9 425.4ZM320.4 435L322.1 431.1L324.1 427.5L326.2 429L323.5 432.1ZM326.1 440.1L327.9 436.3L329.8 432.6L332 434.2L329.2 437.2ZM333.9 442.9L335.4 439.1L337.2 435.3L339.4 436.8L336.8 439.9ZM340 447.4L341.6 443.5L343.4 439.8L345.6 441.3L342.9 444.4ZM345.6 452.4L347.3 448.5L349.3 444.9L351.4 446.4L348.6 449.5ZM400.9 475.2L401.2 479.3L401.2 483.5L398.6 483.1L399.6 479.1ZM410.4 471.8L410 475.9L409.4 480L406.8 479.3L408.5 475.5ZM416.2 476.8L415.9 480.9L415.4 485L412.8 484.3L414.4 480.5ZM421.2 484.4L421.1 488.6L420.7 492.7L418.1 492.1L419.5 488.2ZM427.4 490.1L427.2 494.2L426.6 498.3L424.1 497.7L425.6 493.8ZM434.2 497L433.3 501.1L432 505L429.6 503.9L431.8 500.4ZM442.8 501.9L440.6 505.4L438.2 508.8L436.3 507L439.4 504.3ZM448 508.3L445.4 511.6L442.6 514.7L440.9 512.7L444.4 510.4ZM455.8 514.9L452 516.6L448.1 517.9L447.5 515.4L451.6 515ZM460.8 521.9L456.7 521.4L452.6 520.5L453.5 518L457.2 519.8ZM465 527.6L462.3 525.3L459.8 522.8L461.5 521.4L463.4 524.4ZM471.1 532.1L468.5 529.6L466.1 527L468 525.7L469.7 528.8ZM475 537.1L474.7 533.5L474.6 530L476.9 530.3L476.1 533.7ZM478.5 539.5L481.3 537.4L484.3 535.5L485.3 537.5L481.9 538.6ZM486 539.4L488.5 542L490.7 544.7L488.8 545.9L487.3 542.7ZM492.6 543.3L494.8 546.4L496.8 549.6L494.7 550.6L493.5 547.1ZM498.2 548.2L501 550.7L503.5 553.3L501.7 554.7L499.9 551.5ZM504.1 553.1L507.2 555L510 557.1L508.5 558.7L506.2 556ZM511 556.9L513.5 559.5L515.8 562.2L514 563.4L512.4 560.2ZM517.9 560.9L519.9 564L521.6 567.1L519.5 568L518.6 564.5ZM523.1 566L526 568.1L528.7 570.4L527 572L525 569.1ZM528.2 572.8L531.8 572.3L535.4 572L535.3 574.3L531.7 573.7ZM534.1 578.6L537.8 576.6L541.5 574.8L542.3 577.3L538.3 578.1ZM540.4 583L544 581L547.8 579.3L548.6 581.8L544.5 582.5ZM546.5 586.3L550.5 585.3L554.5 584.6L554.7 587.2L550.6 586.9ZM553.1 589.4L557.1 589.7L560.9 590.4L560.2 592.8L556.6 591.2ZM559.8 592.9L563.5 594.2L567 595.8L565.8 597.9L562.7 595.5ZM566.2 597.3L569.8 598.6L573.2 600.1L572 602.2L569 599.9ZM572.2 602.5L575.9 602.9L579.5 603.7L578.7 605.9L575.4 604.3ZM578.5 607.4L582 607.3L585.6 607.4L585.2 609.6L581.8 608.7ZM585.4 610.2L588.6 611.8L591.6 613.6L590.3 615.4L587.8 612.9ZM593.6 612.6L595.2 616.4L596.6 620.3L594 620.9L593.6 616.8ZM600 615.1L601.3 619.1L602.3 623.1L599.7 623.4L599.7 619.3ZM606.2 619.8L607.6 623.8L608.6 627.8L606 628.1L606 624ZM612.7 625L614 628.9L614.9 633L612.3 633.3L612.4 629.1ZM617.4 629.1L619.7 632.6L621.7 636.2L619.3 637.2L618.2 633.2ZM622.3 634.4L625.6 637L628.6 639.9L626.5 641.6L624.3 638.1ZM627.6 640.5L631.6 641.8L635.4 643.3L634.1 645.6L630.8 643.2ZM633.6 646.1L637.7 646.4L641.8 646.9L641.2 649.5L637.3 647.9ZM311.2 434.3L313.2 430.6L315.3 427.1L317.4 428.7L314.4 431.6ZM315.6 441.4L317.4 437.7L319.5 434.1L321.6 435.7L318.7 438.6ZM321.2 446.7L323 442.9L325.1 439.3L327.2 440.9L324.3 443.9ZM329.3 449.1L331 445.3L332.9 441.6L335 443.1L332.3 446.2ZM335.5 453.6L337.2 449.8L339.1 446.1L341.2 447.6L338.5 450.7ZM341.1 458.7L342.8 454.9L344.8 451.3L346.9 452.8L344.1 455.9ZM347.7 462.5L349.5 458.7L351.5 455.1L353.6 456.6L350.8 459.7ZM392.9 485.5L396.2 486.7L399.4 488.3L398.2 490.2L395.4 487.9ZM405.3 478.6L405.1 482.8L404.6 486.9L402.1 486.3L403.5 482.4ZM411.5 482.5L411.4 486.6L410.9 490.7L408.4 490.1L409.8 486.3ZM417 489.3L417 493.4L416.6 497.5L414 497L415.4 493.1ZM423.1 495.7L422.9 499.9L422.4 504L419.9 503.3L421.3 499.5ZM430.3 502.1L429.4 506.1L428.2 510.1L425.8 509L427.9 505.5ZM436.9 507.7L435.5 511.6L433.8 515.4L431.6 514.1L434.1 510.8ZM444.1 512.6L442.1 516.3L439.9 519.8L437.9 518.1L440.8 515.3ZM451 518.2L448.4 521.4L445.5 524.4L443.8 522.4L447.3 520.2ZM455.7 526.2L452.3 527.4L448.9 528.3L448.6 526.1L452.1 526ZM459.1 534.5L457.8 531.2L456.8 527.8L459 527.4L459.2 531ZM464.1 538.9L464.1 535.3L464.3 531.8L466.5 532.2L465.4 535.6ZM469.2 542.8L470.4 539.5L471.9 536.3L473.8 537.4L471.6 540.2ZM474.9 546.8L476.8 543.7L478.8 540.9L480.5 542.4L477.8 544.7ZM481.3 545.9L484.1 548.1L486.7 550.5L485 552L483 549ZM488.6 549.7L490.5 552.7L492.1 555.9L490 556.6L489.2 553.2ZM494.1 554.5L496.7 556.9L499 559.5L497.2 560.8L495.5 557.7ZM499.9 559.2L502.9 561.2L505.6 563.4L504 565L501.9 562.2ZM507 563L509.2 565.8L511.3 568.6L509.3 569.7L508 566.4ZM513.5 567.2L515.5 570.2L517.3 573.3L515.2 574.2L514.2 570.7ZM518.5 572.5L521.6 574.3L524.5 576.3L523.1 578L520.7 575.4ZM523.5 579.1L527.5 578.4L531.4 578.1L531.3 580.6L527.4 580ZM529.6 584.6L533.4 582.8L537.3 581.4L537.9 583.9L533.8 584.4ZM535.9 589L539.6 587.2L543.5 585.7L544.1 588.3L540 588.8ZM542.1 592.4L546.2 591.5L550.3 590.9L550.3 593.6L546.2 593.1ZM548.7 595.4L552.8 595.9L556.8 596.7L555.9 599.2L552.2 597.5ZM555.5 598.8L559.2 600.4L562.8 602.3L561.3 604.4L558.3 601.7ZM561.9 603.1L565.5 604.8L568.9 606.8L567.4 608.8L564.6 606.1ZM568 608.1L571.6 609.2L575.2 610.5L574.1 612.6L571 610.5ZM574.3 613L577.8 613.6L581.2 614.4L580.4 616.5L577.3 614.9ZM581.1 616.4L584.3 618L587.3 619.9L585.9 621.6L583.4 619.1ZM588.9 619.7L590.8 622.7L592.4 625.9L590.3 626.6L589.5 623.2ZM595.4 622.5L597 626.4L598.3 630.3L595.8 630.8L595.4 626.7ZM601.2 625.5L602.9 629.3L604.3 633.2L601.8 633.8L601.3 629.7ZM607 630.1L609 633.7L610.7 637.5L608.2 638.3L607.5 634.2ZM613.4 636.2L615.7 639.7L617.8 643.3L615.3 644.3L614.2 640.3ZM619.1 642.2L622 644.4L624.6 646.7L622.9 648.2L620.9 645.3ZM624.5 647.8L628 648.6L631.4 649.6L630.5 651.6L627.4 649.9ZM630.6 652.9L634.1 652.9L637.6 653.2L637.2 655.4L633.8 654.3ZM306.2 440L308.7 436.7L311.4 433.6L313.2 435.6L309.8 437.9ZM310.4 447.9L312.4 444.3L314.7 440.9L316.7 442.6L313.6 445.4ZM316.2 453L318.2 449.3L320.5 445.8L322.5 447.5L319.5 450.3ZM323.8 455.3L326 451.7L328.3 448.3L330.3 450.1L327.2 452.8ZM330.6 459.4L332.7 455.8L334.9 452.3L336.9 454L333.9 456.8ZM336 465.2L337.9 461.5L340.1 457.9L342.2 459.6L339.2 462.5ZM343.4 468.2L345.3 464.4L347.5 460.9L349.6 462.6L346.6 465.5ZM394.8 494.6L391.3 494.2L387.8 493.6L388.4 491.5L391.7 492.9ZM399.9 489.3L399.7 493.4L399.2 497.5L396.6 496.9L398.1 493ZM406.8 488.6L406.8 492.8L406.4 496.9L403.9 496.4L405.2 492.4ZM412.7 494.4L412.7 498.5L412.4 502.7L409.8 502.1L411.1 498.2ZM418.6 502.2L418.5 506.4L418 510.5L415.5 509.9L416.9 506ZM425.5 507.2L425 511.4L424.2 515.4L421.7 514.6L423.4 510.9ZM431.7 513.5L430.9 517.6L429.7 521.6L427.3 520.6L429.4 517ZM438 517.1L437.3 521.3L436.3 525.3L433.9 524.4L435.8 520.7ZM443.5 521.9L443.2 526.1L442.5 530.2L440 529.4L441.6 525.6ZM447.8 529.4L448.6 532.9L449.1 536.4L446.8 536.5L447.2 532.9ZM450.8 538.2L454 536.6L457.2 535.3L457.8 537.4L454.3 538ZM457.7 543.9L460 541.1L462.4 538.6L463.8 540.3L460.9 542.2ZM463.2 546.5L466.6 545.4L470 544.5L470.3 546.7L466.8 546.7ZM470.3 553.2L472.4 549.9L474.8 546.8L476.5 548.6L473.5 551ZM476.3 552.8L479.6 554.2L482.7 555.9L481.5 557.7L478.8 555.4ZM484.7 555.8L486.2 559L487.4 562.3L485.2 562.8L484.8 559.3ZM489.8 560.6L492.3 563.2L494.6 565.9L492.7 567.1L491.2 563.9ZM495.6 565.4L498.5 567.4L501.2 569.7L499.6 571.2L497.5 568.4ZM502.9 569.1L504.9 572L506.7 575.1L504.7 576L503.6 572.6ZM509.2 573.4L511.2 576.4L512.9 579.5L510.9 580.3L509.9 576.9ZM513.9 579.2L517.2 580.5L520.4 582L519.2 583.9L516.4 581.6ZM519.2 585.8L523 584.7L526.8 583.8L527.1 586.3L523.2 586.2ZM525.4 591.2L529 589.1L532.7 587.2L533.6 589.7L529.6 590.6ZM531.7 595.7L535.2 593.5L538.9 591.5L539.8 594L535.8 595ZM537.9 599.3L541.7 597.8L545.7 596.5L546.2 599.1L542 599.4ZM544.4 601.9L548.4 602.2L552.2 602.7L551.6 605.1L548 603.7ZM551.5 605L554.9 606.7L558.1 608.6L556.6 610.5L554 607.9ZM558.1 609.2L561.2 611.2L564.1 613.4L562.5 615L560.2 612.2ZM564.1 614L567.4 615.5L570.5 617.2L569.2 619L566.6 616.6ZM570.2 618.7L573.6 619.8L576.8 621.2L575.7 623.1L572.9 621ZM577.1 622.2L580 624.3L582.7 626.6L581 628.1L579 625.3ZM584.4 626L586.4 628.9L588.2 631.9L586.1 632.8L585.1 629.5ZM590.7 629.9L592.8 633.3L594.6 636.8L592.2 637.7L591.3 633.8ZM596.7 633L598.7 636.6L600.5 640.4L598 641.2L597.2 637.1ZM602.1 636.5L604.4 640L606.5 643.5L604.1 644.6L603 640.6ZM607.2 641.1L610.1 644.1L612.8 647.3L610.6 648.7L608.8 645ZM612.4 646.7L615.9 648.9L619.3 651.3L617.5 653.2L614.8 650.1ZM618.1 652.3L622 653.7L625.8 655.3L624.5 657.6L621.2 655.1ZM624.1 657.6L628.2 658.3L632.2 659.4L631.2 661.9L627.6 659.9ZM301.9 446.8L304.1 443.3L306.6 440L308.5 441.8L305.3 444.4ZM306 454.4L308 450.7L310.2 447.2L312.3 448.9L309.3 451.7ZM311.7 459.6L313.7 455.9L315.9 452.4L317.9 454L314.9 456.9ZM319.6 461.7L321.6 458L323.9 454.6L325.9 456.3L322.9 459.1ZM326.4 465.6L328.4 461.9L330.6 458.5L332.6 460.1L329.6 463ZM331.7 471.6L333.6 467.8L335.7 464.3L337.8 465.9L334.8 468.8ZM339.9 473.8L341.6 470L343.6 466.4L345.8 467.9L343 470.9ZM396.6 505.5L393.1 504.8L389.7 503.8L390.6 501.8L393.7 503.5ZM401.9 495.5L402 499.7L401.8 503.8L399.2 503.3L400.4 499.4ZM408 499.5L408.2 503.6L408 507.8L405.4 507.4L406.6 503.4ZM413.9 506.9L414.1 511.1L413.9 515.2L411.3 514.8L412.5 510.8ZM420.3 512.9L420.3 517.1L419.9 521.2L417.3 520.7L418.7 516.8ZM426.3 518L426.3 522.2L426 526.3L423.4 525.8L424.7 521.9ZM431.9 524.3L432.1 528.5L432 532.6L429.4 532.2L430.5 528.3ZM436.2 527.2L437.6 531.2L438.6 535.2L436 535.5L436 531.4ZM439.3 534.1L442.6 536.7L445.6 539.6L443.6 541.3L441.3 537.8ZM444.5 541.9L448.6 542.3L452.7 543L451.9 545.5L448.1 543.9ZM452.5 548.2L456 547.2L459.6 546.5L459.7 548.8L456.1 548.6ZM458.9 553.1L462.2 551.6L465.5 550.4L466 552.6L462.5 553ZM465.2 558.9L468.2 556L471.3 553.4L472.7 555.5L469 557.3ZM471.6 559.9L475.1 560.4L478.5 561.1L477.8 563.3L474.6 561.7ZM480 562.1L481.8 565.2L483.4 568.3L481.3 569.1L480.5 565.6ZM484.9 567.3L487.9 569.3L490.7 571.4L489.1 573L486.9 570.3ZM490.9 572L494.1 573.6L497.1 575.5L495.7 577.2L493.2 574.7ZM498.4 575.4L500.6 578.2L502.5 581.1L500.5 582.2L499.3 578.8ZM504.6 579.8L506.8 582.6L508.8 585.5L506.8 586.5L505.6 583.2ZM509 587.1L512.5 586.6L516 586.3L515.9 588.6L512.4 588ZM514 591.7L518.1 590.8L522.2 590.3L522.2 592.9L518.1 592.5ZM520.8 596.8L524.7 595.3L528.7 594.1L529.1 596.6L525 596.9ZM527.4 601.9L530.9 599.7L534.6 597.7L535.5 600.1L531.5 601.2ZM533.7 606L537.3 604L541 602.4L541.7 604.8L537.8 605.5ZM540.3 608.7L543.9 608.5L547.4 608.5L547.2 610.7L543.7 609.8ZM547.5 611.2L550.5 613L553.4 615L551.9 616.7L549.6 614ZM554.1 615.2L556.9 617.5L559.4 619.9L557.7 621.3L555.8 618.3ZM559.9 620.1L563 621.7L566.1 623.6L564.7 625.3L562.2 622.8ZM565.9 624.8L569.3 626.1L572.4 627.6L571.2 629.5L568.5 627.2ZM573.2 628.1L575.7 630.6L578.1 633.3L576.2 634.5L574.6 631.4ZM580.1 632.2L582.1 635.1L583.8 638.2L581.7 639.1L580.8 635.7ZM586.2 636.6L588.3 639.5L590.2 642.5L588.1 643.4L587.1 640.1ZM592.6 640.5L594.7 643.9L596.4 647.3L594.1 648.2L593.2 644.4ZM598.4 644.1L600.7 647.6L602.8 651.2L600.3 652.2L599.2 648.2ZM603.5 648.6L606.5 651.5L609.2 654.6L607.1 656.1L605.2 652.4ZM608.7 653.7L612.3 655.8L615.7 658.2L614 660.1L611.3 657ZM614.3 658.8L618.2 660.2L622 661.9L620.7 664.1L617.4 661.6ZM620.9 664L624.9 665L628.9 666.2L627.8 668.6L624.2 666.4ZM291.3 449L293.4 445.4L295.7 442L297.7 443.7L294.6 446.4ZM297.6 453.6L299.6 449.9L301.8 446.4L303.8 448.1L300.9 450.9ZM301.8 461L303.6 457.3L305.7 453.7L307.8 455.3L304.9 458.3ZM307.4 466.4L309.2 462.6L311.3 459L313.4 460.6L310.5 463.6ZM315.6 468.3L317.4 464.5L319.4 460.9L321.5 462.5L318.7 465.5ZM322.7 472.2L324.3 468.3L326.1 464.6L328.3 466.1L325.6 469.2ZM327.5 478.4L329.1 474.6L331.1 470.9L333.2 472.4L330.5 475.5ZM336 480.6L337.3 476.6L338.8 472.8L341.1 474.1L338.7 477.4ZM391.8 512.6L388.6 510.9L385.6 509L387 507.3L389.5 509.8ZM396.7 504.2L397 508.4L396.9 512.5L394.3 512.2L395.4 508.2ZM403 505.7L403.4 509.9L403.4 514L400.8 513.7L401.7 509.7ZM409 511.3L409.5 515.4L409.5 519.6L406.9 519.3L407.8 515.3ZM415.3 519.3L415.5 523.5L415.5 527.6L412.9 527.3L413.9 523.3ZM421 524L421.5 528.2L421.7 532.3L419.1 532.1L419.9 528ZM426.7 530.1L427.5 534.2L428 538.3L425.3 538.3L425.8 534.2ZM431.9 535.8L433.5 539.6L434.7 543.6L432.2 544.1L431.9 539.9ZM435.5 541L438.8 543.6L441.8 546.4L439.8 548.1L437.5 544.6ZM441.5 547.3L445.5 548.8L449.2 550.5L447.8 552.7L444.6 550.2ZM449.3 551.6L452.2 553.6L454.9 555.9L453.3 557.4L451.2 554.6ZM453.7 559.3L457.6 557.7L461.5 556.5L462 559.1L457.8 559.3ZM461.2 564.5L463.9 562.3L466.8 560.2L467.9 562.2L464.6 563.5ZM469.7 570.7L469.8 567.1L470.2 563.6L472.4 564.1L471.2 567.4ZM476.1 568.2L477.5 571.5L478.6 574.8L476.4 575.3L476.1 571.8ZM479.8 574.8L483.3 575.3L486.7 576.2L485.9 578.3L482.8 576.6ZM486.1 578.9L489.6 579.7L493 580.8L492.1 582.8L489 581ZM492.2 584L495.7 584.1L499.3 584.4L498.8 586.6L495.4 585.4ZM502.5 592.6L501.2 589.2L500.1 585.8L502.3 585.4L502.6 589ZM505.8 597.5L507.2 593.5L508.8 589.7L511.1 591.1L508.6 594.4ZM509 600L512.5 597.7L516.2 595.8L517.1 598.2L513.1 599.2ZM517.8 599.1L521.2 601.6L524.3 604.3L522.4 606.1L520 602.7ZM523.6 605.7L527.1 606L530.6 606.5L530 608.6L526.7 607.3ZM529.5 612L533 610.3L536.6 608.8L537.2 611.2L533.4 611.7ZM536 615L539.6 614.7L543.1 614.7L542.8 616.9L539.4 616.1ZM543.3 617.3L546.2 619.3L549 621.4L547.4 623L545.2 620.2ZM550.1 621.2L552.6 623.7L554.9 626.4L553 627.7L551.4 624.5ZM555.6 626.2L558.7 628L561.7 629.9L560.2 631.6L557.8 629ZM561.6 631L564.9 632.3L568.1 633.7L566.9 635.7L564.2 633.5ZM568.6 634.5L571.4 636.8L573.9 639.3L572.1 640.7L570.3 637.7ZM575.6 638.5L577.7 641.3L579.6 644.3L577.6 645.3L576.4 641.9ZM581.8 642.9L584 645.7L585.9 648.6L583.9 649.6L582.7 646.3ZM588.3 647.1L590.3 650.1L591.9 653.2L589.8 654L589 650.6ZM594.7 651.3L596.6 654.5L598.2 657.8L596 658.6L595.2 655ZM600 656.1L602.7 658.7L605.3 661.5L603.4 662.8L601.5 659.6ZM605.5 661L608.9 662.9L612.1 665.1L610.5 666.9L607.9 664.1ZM611.6 665.9L615.1 667.3L618.4 668.8L617.1 670.8L614.3 668.5ZM618 670.4L621.3 671.7L624.5 673.1L623.4 675L620.6 672.8ZM279.6 450.7L282.2 447.4L285 444.4L286.7 446.3L283.3 448.6ZM286.6 454.6L289.2 451.2L291.9 448.1L293.6 450.1L290.2 452.5ZM293 459.5L295.3 455.9L297.7 452.6L299.6 454.4L296.4 457.1ZM297.4 467.3L299.2 463.5L301.3 460L303.4 461.6L300.5 464.5ZM303.1 472.7L304.9 468.9L306.9 465.3L309 466.9L306.2 469.9ZM311.2 474.9L312.9 471.1L314.9 467.4L317 468.9L314.3 472ZM318.7 478.5L320.1 474.6L321.7 470.8L324 472.1L321.5 475.4ZM323.1 485.6L324.6 481.6L326.3 477.9L328.5 479.3L326 482.5ZM331.9 487.3L332.9 483.3L334.2 479.3L336.5 480.4L334.4 483.9ZM391.9 517.6L391.6 521.2L391.1 524.6L388.9 524L390.3 520.8ZM398.1 512.9L398.6 517.1L398.8 521.2L396.2 521L397 517ZM404.2 516.9L404.8 521.1L405.1 525.2L402.5 525L403.2 521ZM410.3 523.7L410.9 527.8L411.2 532L408.6 531.8L409.3 527.8ZM416.2 530.2L416.9 534.3L417.3 538.4L414.7 538.4L415.3 534.3ZM421.5 535L422.7 539L423.6 543.1L421 543.3L421.1 539.2ZM426.3 540.4L428.3 544.1L430.1 547.8L427.7 548.6L426.8 544.6ZM431.7 547.2L434.8 550.1L437.6 553.2L435.4 554.7L433.5 551ZM437.4 553.4L441.3 555.1L444.9 557L443.4 559.2L440.3 556.4ZM442.1 559.1L446.3 559.3L450.4 559.7L449.8 562.3L445.9 560.8ZM450.1 564.6L453.7 564L457.2 563.7L457.1 566L453.6 565.4ZM461.2 572.3L459.3 569.4L457.6 566.3L459.6 565.4L460.6 568.8ZM468 576.4L465.6 573.8L463.4 571.1L465.3 569.9L466.8 573.1ZM473.3 581.2L471.8 578L470.5 574.7L472.7 574.2L473.1 577.7ZM475.9 584.3L478.3 581.7L480.8 579.2L482.2 581L479.1 582.8ZM481.5 587.2L484.9 585.9L488.2 584.9L488.6 587.1L485.1 587.3ZM488.3 589.2L491.6 590.4L494.8 591.8L493.7 593.7L490.9 591.6ZM494.6 597.2L497.1 594.8L499.9 592.5L501.1 594.4L497.9 595.9ZM501 602.8L503.1 599.2L505.5 595.8L507.4 597.6L504.3 600.3ZM510.8 608.6L509.3 604.7L508.1 600.7L510.7 600.3L510.9 604.4ZM519.3 610.3L516 609.1L512.7 607.6L513.9 605.6L516.7 607.9ZM526.1 612.9L522.6 613.5L519.1 614L519.1 611.7L522.6 612.1ZM525.7 618.7L528.6 616.6L531.5 614.7L532.5 616.7L529.2 617.8ZM531.6 621.5L535.1 620.9L538.6 620.5L538.6 622.8L535.1 622.3ZM539.6 623L542 625.6L544.1 628.4L542.2 629.5L540.8 626.3ZM546.8 627L548.3 630.2L549.6 633.4L547.5 634L547 630.5ZM551.5 632.2L554.4 634.2L557.2 636.4L555.6 638L553.4 635.2ZM556.9 638L560.4 638.4L563.9 639.1L563.2 641.3L560 639.8ZM563.7 641.3L566.9 642.9L569.9 644.8L568.5 646.5L566 644ZM570.5 645L573.3 647.4L575.9 650L574 651.4L572.2 648.3ZM576.7 648.9L579.7 651.8L582.4 654.8L580.3 656.3L578.3 652.7ZM583.5 653L586 656.2L588.1 659.6L585.8 660.7L584.6 656.9ZM590.1 657.5L592.2 660.7L594.1 664L591.9 664.9L590.9 661.3ZM595.8 662.5L598.4 664.9L600.7 667.6L598.9 668.9L597.2 665.7ZM601.6 667.2L604.6 669.2L607.3 671.4L605.8 673L603.6 670.2ZM607.8 671.6L610.8 673.6L613.6 675.7L612.1 677.3L609.9 674.6ZM614.3 675.8L617.1 678L619.7 680.4L618 681.8L616.1 678.9ZM275.1 456.8L277.8 453.6L280.7 450.7L282.3 452.7L278.8 454.9ZM282.1 460.5L284.8 457.3L287.7 454.4L289.4 456.5L285.8 458.6ZM288.7 465.4L291 462L293.6 458.7L295.4 460.6L292.2 463.1ZM293.4 473L295.2 469.3L297.4 465.8L299.4 467.4L296.5 470.3ZM298.8 479.1L300.6 475.3L302.6 471.6L304.7 473.2L301.9 476.2ZM307.2 481.1L308.8 477.2L310.6 473.5L312.8 475L310.1 478.1ZM314.9 484.7L316 480.7L317.3 476.8L319.7 478L317.4 481.4ZM319.2 492L320.5 488L322 484.2L324.3 485.5L321.9 488.8ZM327.3 494.5L328.2 490.5L329.3 486.5L331.8 487.5L329.7 491.1ZM389.8 528.7L386.3 527.8L383 526.7L383.9 524.7L386.9 526.6ZM393.4 521.9L394 526.1L394.3 530.2L391.7 530L392.4 526ZM399.5 523.7L400.2 527.8L400.6 532L398 531.9L398.6 527.8ZM405.6 528.9L406.3 533L406.8 537.1L404.2 537.1L404.7 533ZM411.9 536.3L412.6 540.4L413 544.6L410.4 544.5L411 540.4ZM417.7 541.6L418.6 545.7L419.3 549.7L416.7 549.9L417 545.7ZM423.5 548.5L424.9 552.5L426 556.5L423.4 556.8L423.3 552.7ZM427.7 553L430.5 556.2L433 559.5L430.7 560.8L429.1 557ZM433.7 559.1L437.2 561.4L440.4 564L438.6 565.8L436 562.6ZM440.7 563.9L443.6 566.1L446.2 568.5L444.5 569.9L442.5 567ZM450.3 567.6L450 571.1L449.3 574.6L447.2 574L448.6 570.7ZM453.9 578.4L455 575L456.3 571.7L458.2 572.8L456.2 575.6ZM459.2 582L461.4 579.2L463.7 576.5L465.2 578.2L462.3 580.2ZM464.9 585.4L467.8 583.4L470.9 581.7L471.8 583.8L468.4 584.7ZM471.1 589.7L474.1 587.8L477.2 586.2L478 588.2L474.6 589.1ZM477.2 593.2L480.6 592.1L484 591.3L484.2 593.5L480.7 593.5ZM483.5 596.2L487.1 596.5L490.6 597.1L489.9 599.2L486.7 597.9ZM490.2 603.9L492.7 601L495.4 598.3L496.9 600.2L493.6 602.2ZM496.7 608.3L499 605.4L501.4 602.7L502.9 604.5L499.9 606.5ZM502.8 612.3L505.3 609.7L507.9 607.4L509.2 609.2L506.1 610.9ZM513.7 617.8L511.4 615L509.3 612.2L511.3 611.1L512.6 614.4ZM520 622.1L517.6 619.4L515.5 616.6L517.5 615.5L518.8 618.7ZM522.3 626.1L524 623L525.9 620L527.6 621.5L525 623.9ZM528.9 630.8L530.2 627.4L531.7 624.3L533.6 625.5L531.4 628.2ZM539.2 629.4L537.6 632.6L535.7 635.6L534 634.2L536.5 631.8ZM544.7 633.3L544 636.8L543 640.2L540.9 639.3L542.7 636.3ZM546.3 639.7L549.8 640.3L553.3 641.2L552.4 643.3L549.3 641.6ZM552.4 645.7L555.8 644.6L559.2 643.8L559.4 646.1L555.9 646ZM558.7 648.8L562.3 649L565.8 649.5L565.2 651.6L561.9 650.4ZM565.2 652L568.8 653.4L572.3 655.1L570.9 657.2L568 654.7ZM571.7 655.3L575.1 657.7L578.3 660.4L576.4 662.2L573.9 658.8ZM578.7 658.9L581.4 662L583.9 665.4L581.6 666.7L580 662.8ZM585.6 663.2L587.9 666.7L589.9 670.3L587.5 671.3L586.4 667.3ZM591.5 668.5L594.1 671.2L596.4 674L594.4 675.3L592.8 671.9ZM597.5 673.2L600.3 675.5L602.8 678L601.1 679.4L599.2 676.4ZM604 677.4L606.6 679.9L608.9 682.6L607.1 683.8L605.4 680.7ZM610.6 681.6L612.9 684.4L614.9 687.3L612.9 688.3L611.6 685ZM270.5 462.7L273.4 459.7L276.5 456.9L278 459.1L274.3 461ZM277.3 466.5L280.3 463.6L283.4 460.9L284.9 463L281.2 464.9ZM284.2 471.3L286.8 468L289.6 464.9L291.3 466.9L287.8 469.2ZM289.1 479.2L290.9 475.5L293.1 471.9L295.1 473.5L292.2 476.5ZM294.5 485.5L296.2 481.7L298.1 478L300.3 479.5L297.5 482.6ZM303 487.1L304.6 483.2L306.4 479.5L308.6 480.9L306 484.1ZM310.8 490.7L311.8 486.7L313.1 482.7L315.5 483.9L313.2 487.4ZM315.7 497.9L316.7 493.8L318 489.9L320.4 491L318.2 494.5ZM321.8 503.5L322.6 499.4L323.8 495.4L326.2 496.5L324.1 500ZM385.7 534.3L382.1 534.1L378.6 533.7L379.1 531.5L382.4 532.7ZM389 531.2L389.5 535.3L389.7 539.5L387.1 539.3L387.9 535.2ZM394.9 532.3L395.7 536.4L396.1 540.5L393.5 540.5L394.1 536.4ZM400.8 535.1L401.7 539.2L402.3 543.3L399.7 543.4L400.1 539.3ZM407 541L408 545.1L408.6 549.1L406 549.2L406.3 545.1ZM413.5 548.6L414.4 552.7L414.9 556.8L412.3 556.8L412.8 552.7ZM419.4 553L420.5 557L421.3 561.1L418.7 561.3L418.9 557.1ZM426 560.3L426.9 564L427.5 567.7L425.1 567.8L425.4 564.1ZM433.5 565.1L433.1 568.6L432.4 572.1L430.3 571.4L431.8 568.2ZM439.8 569.5L439.3 573L438.7 576.5L436.6 575.8L438 572.6ZM444.9 573.7L445.6 577.2L446.1 580.7L443.9 580.7L444.3 577.2ZM448.1 580L451.5 580.9L454.9 582.1L453.9 584.1L450.9 582.2ZM454 585.7L457.5 585.2L461 585L460.9 587.2L457.5 586.6ZM460.3 590.5L463.7 589.6L467.2 589L467.3 591.2L463.8 591ZM466.6 595.3L469.9 594L473.3 592.9L473.7 595.1L470.1 595.3ZM472.8 599L476.3 598.3L479.8 598L479.8 600.2L476.3 599.7ZM479.2 602.3L482.8 602.8L486.2 603.5L485.5 605.6L482.3 604.1ZM485.5 608.9L488.6 607.1L491.8 605.6L492.5 607.7L489.1 608.4ZM495.1 615.7L494.4 612.2L494 608.6L496.3 608.7L495.8 612.2ZM503.5 619.3L500.8 616.9L498.4 614.4L500.2 613.1L501.9 616.1ZM510.6 622.7L507.3 621.5L504.1 620.1L505.2 618.1L508 620.3ZM512.4 628.5L513.3 625L514.4 621.6L516.4 622.6L514.5 625.6ZM518.6 632.8L519.5 629.4L520.7 626L522.7 627L520.8 630ZM526.9 637.5L525.7 634.1L524.9 630.7L527.1 630.4L527.1 633.9ZM536.2 638.2L532.7 639.1L529.3 639.7L529.1 637.5L532.7 637.7ZM536.2 640.7L539.4 642.2L542.5 644L541.1 645.8L538.6 643.3ZM541.7 647.3L545.2 646.5L548.7 645.9L548.8 648.2L545.3 647.9ZM547.7 651.7L551.5 650.8L555.3 650.1L555.4 652.6L551.5 652.3ZM554.3 655.8L557.8 655.2L561.3 654.9L561.2 657.2L557.7 656.6ZM560.7 659.3L564.2 659.6L567.7 660.2L567.1 662.4L563.8 660.9ZM567.8 662.3L570.8 664.2L573.6 666.2L572.1 667.9L569.8 665.2ZM575.1 665.6L577.3 668.7L579.2 672L577 673L575.9 669.3ZM581.4 669.3L583.5 672.9L585.3 676.6L582.8 677.4L582 673.4ZM587.4 674.3L589.8 677.4L591.9 680.7L589.7 681.8L588.4 678.1ZM593.4 679.3L596 681.8L598.3 684.4L596.4 685.7L594.8 682.5ZM599.9 683.5L602.3 686.2L604.4 689L602.4 690.1L601 686.9ZM606.6 687.7L608.6 690.6L610.3 693.7L608.3 694.6L607.3 691.2ZM266.1 468.4L269.2 465.6L272.5 463.1L273.8 465.3L270.1 467ZM272.7 472.6L275.8 469.8L279.1 467.2L280.4 469.5L276.7 471.2ZM279.6 477.1L282.4 474.1L285.5 471.3L287 473.4L283.4 475.4ZM285.1 484.9L287 481.2L289.1 477.7L291.2 479.3L288.3 482.2ZM290.3 492.1L291.9 488.2L293.7 484.5L295.9 485.9L293.3 489.1ZM298.5 493.3L300.2 489.5L302 485.8L304.2 487.3L301.5 490.4ZM306.2 496.1L307.6 492.2L309.3 488.4L311.6 489.7L309 493ZM312.6 502.3L313.4 498.2L314.5 494.2L316.9 495.2L314.9 498.8ZM316.5 513.1L317.2 509L318.3 505L320.7 505.9L318.7 509.5ZM378.6 536.2L378.6 539.8L378.4 543.3L376.2 542.9L377.2 539.5ZM384.4 540.1L385 544L385.3 548L382.8 547.9L383.4 544ZM396.2 543.1L397.3 547.1L398 551.2L395.3 551.4L395.6 547.2ZM402 546.6L403.2 550.6L404.1 554.7L401.5 554.9L401.6 550.8ZM408.3 552.8L409.5 556.8L410.5 560.8L407.9 561.1L407.9 557ZM414.8 560L416.1 564L417.1 568L414.5 568.3L414.5 564.2ZM420.9 565.7L422.5 569.6L423.8 573.5L421.2 574L420.9 569.9ZM427.5 571.2L428.8 574.5L429.7 577.9L427.5 578.3L427.4 574.7ZM434.1 575.5L435 579L435.7 582.4L433.4 582.6L433.6 579ZM439.6 580L441.3 583.2L442.7 586.4L440.5 587.1L439.9 583.6ZM443.9 585.9L447.2 587.2L450.4 588.7L449.3 590.6L446.5 588.3ZM449.6 592L453.2 591.4L456.7 591.1L456.6 593.4L453.1 592.8ZM456 597.4L459.2 595.8L462.5 594.5L463.1 596.7L459.6 597.2ZM462.6 602.5L465.4 600.3L468.3 598.3L469.3 600.3L466 601.5ZM468.8 606.8L471.6 604.6L474.6 602.7L475.6 604.7L472.3 605.9ZM474.7 609.3L478.3 608.9L481.8 608.8L481.6 611L478.2 610.3ZM481 613.7L484.5 613.3L488.1 613.2L487.9 615.4L484.4 614.7ZM487.4 619.5L490.5 617.7L493.7 616.2L494.4 618.3L491 619ZM495.4 625.8L496.4 622.4L497.7 619.1L499.7 620.2L497.6 623.1ZM501 629.8L502.8 626.7L504.7 623.7L506.4 625.2L503.8 627.6ZM507.5 634.3L509 631.1L510.7 628L512.5 629.4L510.1 631.9ZM515 639.3L515.1 635.7L515.6 632.2L517.7 632.8L516.5 636ZM522.9 643.7L521.4 640.4L520.2 637.1L522.4 636.6L522.8 640.1ZM526 647.3L527.8 644.2L529.8 641.3L531.5 642.8L528.9 645.1ZM531.1 649.7L534.5 648.3L537.9 647.2L538.4 649.4L534.8 649.7ZM536.9 653.9L540.8 652.6L544.7 651.6L545 654.1L541 654.2ZM543.8 658.8L546.9 657.1L550.1 655.6L550.8 657.7L547.4 658.4ZM550 662.6L553.3 661.4L556.8 660.6L557 662.8L553.5 662.8ZM556.2 666L559.8 665.8L563.3 665.9L563 668.1L559.6 667.2ZM562.9 669.1L566.3 670.3L569.6 671.7L568.4 673.6L565.6 671.5ZM570.7 672.1L572.9 674.9L574.8 677.9L572.8 678.9L571.6 675.6ZM577.1 676.2L579.2 679.4L581 682.6L578.8 683.5L577.8 679.9ZM583.1 680.3L585.5 683.7L587.7 687.2L585.3 688.3L584 684.3ZM589.1 685.1L591.7 688L594 691L591.9 692.3L590.4 688.8ZM595.5 689.7L597.9 692.4L600.1 695.3L598.1 696.4L596.7 693.1ZM602.2 693.9L604.2 696.9L606 699.9L603.9 700.8L602.9 697.4ZM255.5 470.3L258.6 467.5L261.8 464.9L263.2 467.2L259.4 468.9ZM262.1 474.2L265.3 471.5L268.7 469.1L269.9 471.4L266.1 472.9ZM268.5 478.8L271.6 475.9L274.8 473.4L276.2 475.6L272.5 477.3ZM275.6 483.3L278.3 480.2L281.3 477.3L282.9 479.3L279.3 481.5ZM282.1 489.5L283.9 485.7L286 482.2L288.1 483.8L285.2 486.7ZM286.6 499.1L287.9 495.1L289.4 491.3L291.7 492.5L289.3 495.9ZM294.3 501.1L295.5 497.1L297 493.2L299.3 494.4L296.9 497.8ZM308.4 506.7L309.6 502.7L311.2 498.9L313.5 500.2L311 503.5ZM312.7 518.5L313.4 514.4L314.3 510.4L316.8 511.3L314.9 514.9ZM320.3 520.5L320.8 516.3L321.6 512.3L324.1 513.1L322.3 516.8ZM371.5 543L374.1 545.4L376.5 548L374.7 549.3L373 546.3ZM379.2 546.8L380.5 550.1L381.6 553.4L379.4 553.9L379.2 550.4ZM386.3 549.9L387 554.1L387.3 558.2L384.7 558.1L385.3 554ZM392 552.1L393 556.1L393.8 560.2L391.2 560.3L391.4 556.2ZM397.5 554.5L398.8 558.4L399.9 562.4L397.3 562.8L397.2 558.7ZM403.3 558.1L404.8 562L406 565.9L403.4 566.4L403.2 562.2ZM409.6 564.5L411.3 568.4L412.6 572.3L410 572.8L409.7 568.7ZM416 572.1L418.1 575.7L419.8 579.5L417.3 580.3L416.5 576.2ZM422.3 577.7L424.4 580.6L426.2 583.6L424.2 584.5L423.1 581.1ZM429.3 581.8L430.7 585.1L431.8 588.4L429.6 588.9L429.3 585.4ZM435.4 586.2L436.9 589.4L438.2 592.7L436.1 593.3L435.6 589.8ZM440.1 591.4L443 593.5L445.7 595.8L444.1 597.3L442 594.5ZM445.3 598.2L448.8 597.7L452.4 597.4L452.2 599.7L448.8 599ZM453.4 605.8L454.5 602.4L455.8 599.1L457.7 600.2L455.7 603.1ZM460.8 610.6L460.6 607L460.7 603.5L462.9 603.8L462 607.2ZM467.5 615L466.9 611.4L466.6 607.9L468.9 608L468.3 611.5ZM473.8 619.4L473.2 615.8L472.8 612.3L475.1 612.4L474.6 615.9ZM480.4 623.7L479.4 620.3L478.8 616.8L481 616.7L480.8 620.2ZM487.3 628L485.7 624.8L484.4 621.5L486.5 620.9L487.1 624.4ZM491.9 632.4L492 628.8L492.3 625.3L494.5 625.8L493.4 629.1ZM497.6 636.6L498.3 633.1L499.3 629.7L501.3 630.6L499.6 633.6ZM504.7 641.2L504.5 637.6L504.6 634.1L506.8 634.4L505.9 637.8ZM513.3 645.1L510.9 642.5L508.7 639.7L510.6 638.5L512.1 641.7ZM518.9 649.8L517.1 646.7L515.5 643.5L517.7 642.8L518.4 646.2ZM521.4 653.2L523.6 650.3L525.9 647.7L527.4 649.4L524.5 651.4ZM526.2 657L529.6 654.6L533.2 652.5L534.2 654.9L530.3 656.1ZM533.4 661.1L536.3 659L539.3 657.1L540.2 659.2L536.8 660.2ZM539.1 665.1L542.6 663.2L546.2 661.7L546.9 664L543 664.7ZM545.6 669.3L548.9 667.7L552.2 666.3L552.9 668.5L549.3 669ZM551.9 673.5L555.2 672.1L558.5 670.9L559 673L555.5 673.4ZM558.2 676.2L561.8 676.4L565.3 676.9L564.7 679.1L561.4 677.8ZM565.9 678.2L568.5 681.1L570.9 684.2L568.8 685.4L567.2 681.9ZM572.6 682.4L574.8 685.5L576.9 688.8L574.7 689.8L573.5 686.2ZM578.7 687.2L581 689.9L583.2 692.7L581.2 693.8L579.8 690.6ZM585.2 691.2L587.4 694.3L589.2 697.6L587 698.5L586 694.9ZM591.3 695.6L593.6 698.7L595.7 701.9L593.5 702.9L592.3 699.3ZM598.2 700L599.9 703.1L601.4 706.4L599.2 707L598.6 703.6ZM251.6 476.7L254.5 473.7L257.5 470.9L259 473.1L255.4 475ZM258.5 480.8L261.3 477.7L264.3 474.9L265.8 477L262.2 479ZM265.2 485.4L267.8 482L270.5 479L272.3 480.9L268.8 483.3ZM272 489.8L274.3 486.3L276.7 483L278.6 484.8L275.4 487.4ZM279.2 494.3L280.8 490.5L282.6 486.7L284.8 488.2L282.1 491.3ZM283.7 505.5L284.5 501.4L285.5 497.4L287.9 498.3L286 502ZM290.3 510.8L290.8 506.6L291.6 502.6L294.1 503.4L292.4 507.2ZM298.2 508.6L299.2 504.5L300.4 500.6L302.8 501.6L300.6 505.2ZM303.7 512.5L305.4 508.6L307.3 505L309.4 506.4L306.7 509.5ZM310.4 517.9L311.4 513.9L312.7 509.9L315 511L312.9 514.5ZM315.4 528.4L315.9 524.2L316.7 520.2L319.2 521L317.4 524.7ZM367.5 549.1L369.8 551.7L372 554.5L370.1 555.7L368.6 552.4ZM374.8 553L376.2 556.3L377.4 559.6L375.2 560.1L374.8 556.6ZM382.1 557.3L382.5 560.9L382.5 564.4L380.3 564.2L381.1 560.8ZM387.8 560.9L388.8 565L389.6 569L386.9 569.2L387.2 565.1ZM393.3 563.7L394.8 567.6L396 571.5L393.4 572L393.2 567.9ZM398.9 566L400.6 569.9L401.9 573.8L399.3 574.3L399 570.2ZM405.5 569.5L406.9 573.4L408 577.4L405.4 577.8L405.3 573.6ZM411.6 575.9L413.3 579.7L414.7 583.6L412.1 584.2L411.7 580.1ZM417.8 583L420 586.5L422 590.1L419.5 591.1L418.5 587.1ZM425 588L426.3 591.3L427.4 594.7L425.2 595.1L425 591.6ZM431.7 592.3L432.6 595.8L433.3 599.2L431.1 599.4L431.2 595.9ZM437.5 596.8L438.9 600.1L440 603.4L437.8 603.9L437.5 600.3ZM444.7 601.1L445.1 604.6L445.3 608.1L443.1 608L443.8 604.5ZM453.4 611.3L450.3 609.5L447.4 607.5L448.8 605.8L451.2 608.4ZM458.4 616.5L456.4 613.6L454.6 610.6L456.6 609.7L457.6 613ZM464.5 621L462.6 617.9L461 614.8L463.1 614L463.9 617.5ZM472.1 624.5L469 622.6L466.2 620.5L467.8 618.9L470 621.6ZM479.5 627.8L475.5 627.2L471.7 626.2L472.6 623.9L476.1 625.7ZM485.7 632.3L481.8 631.6L477.9 630.5L478.9 628.2L482.4 630.1ZM490.6 638.5L487.7 635.7L485 632.6L487.1 631.1L489 634.7ZM494.8 643.1L493.9 639.6L493.2 636.2L495.5 636L495.3 639.5ZM502.3 647.2L500.2 644.2L498.5 641.2L500.5 640.3L501.5 643.7ZM509.7 650.7L506.7 648.8L503.8 646.8L505.3 645.2L507.6 647.8ZM513.8 656.2L512.7 652.8L511.9 649.3L514.1 649.1L514.1 652.6ZM516.2 660.8L518.4 657.2L520.9 653.9L522.8 655.7L519.6 658.3ZM523.3 664.1L525.4 660.9L527.7 658L529.4 659.7L526.5 662ZM529.1 668.1L531.8 665.2L534.6 662.6L536.1 664.6L532.7 666.4ZM535.8 672.5L538 669.7L540.4 667L541.9 668.7L538.9 670.7ZM543 677.6L544.1 674.2L545.5 671L547.5 672.1L545.3 674.9ZM548.8 681.7L550.5 678.5L552.4 675.5L554.1 676.9L551.6 679.4ZM554.3 685.2L556.9 682.7L559.7 680.5L560.8 682.4L557.6 683.9ZM561.4 684.9L564.1 687.3L566.6 689.8L564.8 691.1L563 688.1ZM569.4 688.6L570.5 692L571.3 695.4L569.1 695.7L569.1 692.2ZM574.1 693.6L576.7 696.1L579 698.7L577.1 700L575.5 696.8ZM581.8 697.4L583 700.7L584 704.1L581.8 704.5L581.7 700.9ZM588.3 701.7L589.3 705.1L590 708.6L587.8 708.8L587.9 705.3ZM595.2 706.1L595.6 709.6L595.7 713.2L593.5 713L594.2 709.5ZM248.1 483L250.7 479.7L253.4 476.6L255.2 478.6L251.7 480.9ZM254.9 487.3L257.2 483.9L259.8 480.6L261.6 482.5L258.4 485ZM261.5 491.8L263.6 488.2L265.9 484.8L267.9 486.6L264.8 489.3ZM268 496.3L269.9 492.6L272.1 489.1L274.1 490.7L271.2 493.6ZM275.1 500.8L276.3 496.8L277.9 493L280.2 494.2L277.8 497.6ZM281 509.1L281.4 505L282.2 500.9L284.7 501.7L283 505.5ZM287.2 519.6L287.1 515.4L287.4 511.3L289.9 511.8L288.7 515.7ZM294.4 522L294.1 517.8L294.2 513.7L296.8 514L295.7 518ZM300.7 519.2L301.2 515.1L302 511L304.5 511.8L302.7 515.6ZM306.2 523.6L307.3 519.6L308.6 515.7L311 516.8L308.7 520.3ZM312.2 530.8L312.7 526.7L313.6 522.6L316.1 523.5L314.3 527.2ZM318.8 535.9L319.1 531.7L319.7 527.6L322.2 528.3L320.6 532.1ZM363.5 555.1L365.5 558L367.3 561.1L365.2 562L364.3 558.6ZM371.2 559.2L371.9 562.7L372.2 566.2L370 566.1L370.5 562.7ZM377.8 563.6L378.1 567.1L378.1 570.6L375.9 570.4L376.7 567ZM383.1 568L384.4 571.3L385.4 574.7L383.2 575.1L383 571.5ZM388.7 572.5L390.6 575.5L392.3 578.7L390.2 579.5L389.3 576ZM395 575.5L396.8 579.2L398.4 583L395.8 583.7L395.2 579.6ZM402.5 577.8L403.3 581.9L403.8 586L401.2 586L401.7 581.9ZM408.3 580.8L409.3 584.8L410.1 588.9L407.5 589L407.7 584.9ZM413.3 586.9L415.2 590.6L416.7 594.5L414.2 595.2L413.6 591.1ZM420.8 593.4L422.1 597.4L423.1 601.4L420.5 601.7L420.5 597.6ZM428.1 598.6L428.3 602.1L428.2 605.7L426 605.4L426.9 602ZM434.3 603L434.5 606.5L434.5 610L432.2 609.7L433.2 606.3ZM441.2 607.5L440.8 611L440.1 614.5L438 613.8L439.4 610.6ZM449.2 613.1L446.8 615.7L444.2 618.1L442.9 616.3L446 614.6ZM455.3 621.8L452.2 620.1L449.2 618.2L450.7 616.4L453.1 619ZM461.2 626.6L458.4 624.4L455.8 622L457.5 620.5L459.4 623.5ZM469.2 628.4L465.2 629.1L461.2 629.5L461.2 626.9L465.2 627.5ZM474.9 633.1L471.4 633.4L467.8 633.4L468.1 631.2L471.5 632ZM481.2 637.5L477.6 637.7L474.1 637.7L474.4 635.5L477.8 636.4ZM484.5 644.9L483.3 641.5L482.3 638.1L484.5 637.8L484.7 641.3ZM489.7 649.4L489.5 645.7L489.6 642L491.9 642.4L491 645.9ZM498.8 652.8L496 650.6L493.4 648.3L495.1 646.8L497 649.7ZM505.9 656.1L502.5 655.2L499.2 654L500.1 652L503.1 653.9ZM508.6 662.4L508.4 658.8L508.4 655.3L510.7 655.6L509.7 659ZM512.1 668L513.8 664.1L515.7 660.5L517.8 662L515.1 665.1ZM520.6 671L520.9 667.5L521.5 664L523.7 664.6L522.3 667.9ZM525.3 676L526.8 672.1L528.6 668.4L530.8 669.8L528.2 673ZM533 679.7L533.5 676.2L534.2 672.7L536.3 673.5L534.8 676.6ZM539.1 684.5L539.7 680.5L540.5 676.7L542.9 677.5L541.1 681.1ZM544.2 687.6L546.2 684.7L548.4 681.9L550 683.5L547.2 685.7ZM551.3 692.6L552.3 689.2L553.6 685.9L555.6 687L553.5 689.9ZM555.9 692.9L559.4 693.3L562.9 693.9L562.2 696L559 694.6ZM566.5 695L566.1 698.5L565.5 702L563.4 701.3L564.8 698.1ZM569.8 699.8L572.3 702.3L574.6 704.9L572.8 706.2L571.2 703.1ZM578.6 703.6L578.7 707.2L578.6 710.7L576.3 710.3L577.3 706.9ZM585 708L585 711.6L584.6 715.1L582.4 714.6L583.6 711.3ZM591.8 712.5L591.2 716.1L590.3 719.5L588.2 718.6L589.9 715.5ZM244.5 489L246.8 485.5L249.4 482.3L251.2 484.2L248 486.7ZM250.8 493.6L253 490L255.4 486.7L257.3 488.4L254.2 491.1ZM257.2 498L259.3 494.4L261.6 491L263.6 492.7L260.5 495.5ZM263.6 502.4L265.6 498.8L267.8 495.3L269.8 497L266.8 499.8ZM270.2 506.7L272 503L274.1 499.4L276.2 500.9L273.3 503.9ZM277.9 511.5L278.3 507.4L279 503.4L281.5 504.1L279.8 507.9ZM284.3 522.1L283.9 517.9L283.8 513.8L286.4 514.1L285.5 518.1ZM291.3 530.8L290.6 526.7L290.2 522.6L292.8 522.6L292.2 526.7ZM297.5 532.5L296.8 528.4L296.4 524.3L299.1 524.3L298.4 528.4ZM303.2 530.2L303.2 526L303.4 521.9L306 522.4L304.8 526.3ZM308.8 534.8L309.2 530.6L310 526.5L312.5 527.3L310.8 531.1ZM314.4 541L314.9 536.8L315.7 532.8L318.2 533.6L316.4 537.3ZM321.4 543.6L321.8 539.4L322.4 535.4L324.9 536.1L323.3 539.9ZM328 545.9L328.6 542.4L329.4 539L331.5 539.8L329.9 542.9ZM369.6 566.8L367.2 569.4L364.7 571.9L363.4 570.1L366.4 568.3ZM374.2 570L373.7 573.5L373 576.9L370.9 576.2L372.4 573ZM377.9 574.4L380 577.4L381.8 580.4L379.7 581.3L378.7 577.9ZM383.4 579.3L386.2 581.6L388.7 584L387 585.4L385.1 582.5ZM390.3 583.3L392.5 586.1L394.5 589L392.5 590L391.3 586.7ZM399.1 585.7L399.2 589.8L398.9 594L396.3 593.5L397.6 589.5ZM404.4 590L405.2 594.1L405.7 598.2L403.1 598.2L403.6 594.1ZM409.2 592.2L410.8 596L412.1 600L409.6 600.5L409.2 596.4ZM415.9 597.3L417.4 601.3L418.5 605.2L415.9 605.6L415.8 601.5ZM423.8 604.5L424 608.4L423.8 612.3L421.4 611.9L422.5 608.1ZM430.7 609.3L430.2 612.9L429.4 616.3L427.3 615.6L428.8 612.4ZM437.2 613.8L436.4 617.3L435.4 620.7L433.3 619.8L435.1 616.7ZM444.2 618.6L442.6 621.8L440.8 624.8L439 623.5L441.5 621ZM451.7 625.1L448.4 626.4L445.1 627.6L444.7 625.4L448.2 625.1ZM458 629.4L454.7 630.8L451.4 631.9L450.9 629.8L454.4 629.5ZM464.2 633.5L461 635.2L457.8 636.6L457.2 634.5L460.6 633.9ZM470.9 637.6L467.4 639.6L463.7 641.4L462.9 639L466.8 638.1ZM474.8 646.5L472.7 643.6L470.9 640.5L473 639.6L474 643ZM477.5 650.4L479.1 647.2L480.9 644.2L482.7 645.6L480.2 648.1ZM483.8 654.8L485.4 651.6L487.2 648.6L489 650L486.5 652.4ZM495.6 657L492.1 657.1L488.5 656.9L488.9 654.7L492.3 655.7ZM501.9 660.5L498.5 661.5L495.1 662.2L494.9 659.9L498.4 660.1ZM504.2 668.6L504 665L504.1 661.5L506.3 661.8L505.4 665.2ZM508.6 674.8L509.5 670.8L510.7 666.8L513.1 667.9L511 671.4ZM517.4 677.4L516.6 673.9L516 670.4L518.3 670.4L517.9 673.9ZM522.3 683.3L522.5 679.1L522.9 675L525.5 675.6L524.1 679.5ZM529.2 687L528.9 682.9L529 678.7L531.6 679.1L530.6 683.1ZM534.8 691L535.3 686.9L536 682.8L538.5 683.6L536.8 687.4ZM541.1 695L541.6 691.2L542.4 687.4L544.7 688.2L543 691.6ZM547.7 699.1L547.9 695.6L548.4 692.1L550.6 692.7L549.3 696ZM558.1 701.5L554.6 700.8L551.2 699.8L552.1 697.7L555.1 699.5ZM563.8 702.2L561.6 705L559.2 707.7L557.8 706L560.7 704ZM567.6 705.4L568.1 708.9L568.3 712.5L566 712.3L566.7 708.8ZM574.7 709.9L574.3 713.5L573.7 716.9L571.6 716.3L573 713.1ZM580.8 714.2L580.6 717.8L580.2 721.3L578 720.8L579.3 717.5ZM587.6 718.7L586.9 722.3L585.9 725.8L583.8 724.9L585.5 721.7ZM234.7 490.5L236.6 487.1L238.6 484L240.4 485.5L237.7 488.1ZM240.8 495L242.8 491.5L245 488.1L246.9 489.8L244 492.5ZM246.6 499.9L248.7 496.3L251 492.8L252.9 494.6L249.9 497.3ZM252.8 504.2L254.9 500.6L257.3 497.2L259.2 499L256.2 501.7ZM259.2 508.4L261.4 504.8L263.7 501.4L265.7 503.2L262.6 505.9ZM266.1 512.1L267.9 509L269.9 506.1L271.6 507.6L269 509.9ZM273.4 517.1L274.1 513.6L275 510.2L277.1 511L275.4 514.1ZM281.7 521.7L280.3 518.4L279.2 515L281.4 514.6L281.7 518.1ZM287.3 532.3L286.5 528.2L286 524.1L288.6 524.1L288.1 528.2ZM293.6 539.7L292.7 535.6L292.2 531.5L294.9 531.5L294.4 535.6ZM299.3 541.5L298.7 537.3L298.4 533.2L301 533.3L300.3 537.4ZM304.8 540.8L305 536.7L305.5 532.6L308 533.2L306.6 537ZM310.7 544.6L311.3 540.5L312.2 536.5L314.7 537.3L312.9 541ZM317.3 549.1L317.6 545L318.3 540.9L320.8 541.6L319.2 545.4ZM323.8 552.4L324.2 548.6L324.8 545L327.1 545.7L325.6 549.1ZM329.8 556.5L330.5 553L331.5 549.6L333.6 550.5L331.8 553.5ZM336.3 560.9L336.7 557.4L337.4 553.9L339.5 554.6L338.1 557.8ZM343.9 565.5L343 562L342.3 558.6L344.5 558.4L344.4 561.9ZM352.2 569L349.4 566.8L346.8 564.4L348.5 563L350.5 565.9ZM365.9 575.9L362.3 575.8L358.8 575.4L359.3 573.2L362.6 574.4ZM371.8 577.8L369.1 580.1L366.2 582.1L365.1 580.1L368.4 578.9ZM371.7 582.6L375.3 583.2L378.7 584.1L377.9 586.1L374.8 584.5ZM378.2 586.6L381.6 587.6L384.9 588.9L383.9 590.9L381 588.9ZM386.1 589.4L388.2 592.3L390 595.3L388 596.3L386.9 592.9ZM395.9 592.2L395 596.2L393.8 600.2L391.4 599.1L393.5 595.6ZM400.9 597.3L400.9 601.5L400.6 605.6L398 605.1L399.3 601.1ZM405.7 601.2L407.1 605.1L408.2 609.1L405.6 609.5L405.5 605.4ZM411.7 603.4L413.1 607.4L414.1 611.3L411.5 611.7L411.4 607.6ZM418.3 608.5L419.5 612.5L420.4 616.5L417.8 616.8L417.9 612.7ZM425.3 615.4L425.8 618.9L426.1 622.4L423.9 622.3L424.5 618.8ZM431.5 619.7L432.1 623.3L432.4 626.8L430.2 626.7L430.7 623.2ZM438.3 624.2L438.4 627.7L438.2 631.2L436 630.9L437 627.5ZM444.9 628.6L444.6 632.2L444.1 635.7L441.9 635L443.3 631.8ZM452.4 633.6L450.8 636.8L449 639.8L447.2 638.4L449.7 635.9ZM459.2 638.5L456.9 641.3L454.5 643.9L453.1 642.1L456 640.2ZM465.5 643L463.2 645.7L460.7 648.1L459.3 646.4L462.3 644.6ZM465.9 651.1L468.7 648.9L471.6 646.9L472.7 648.9L469.4 650.1ZM472.1 655.4L475 653.2L478 651.3L478.9 653.3L475.6 654.5ZM478.4 659.8L481.3 657.6L484.2 655.7L485.2 657.7L481.9 658.9ZM488.1 659.1L488.5 662.7L488.7 666.2L486.5 666L487.1 662.6ZM496.7 664.7L494.6 667.5L492.2 670.1L490.7 668.5L493.6 666.5ZM500.7 674.8L499.7 671.4L498.9 668L501.1 667.8L501.1 671.3ZM505.4 681.2L505.5 677.1L505.9 672.9L508.5 673.5L507.1 677.4ZM513.1 684.2L512.1 680.2L511.4 676.1L514 676L513.7 680.1ZM519.6 689.7L518.4 685.6L517.6 681.6L520.2 681.4L520.1 685.5ZM526.2 694.5L524.8 690.5L523.8 686.5L526.4 686.2L526.4 690.3ZM532.6 697.9L531 694L529.8 690.1L532.4 689.6L532.6 693.7ZM539 701.4L537.2 697.8L535.7 694.2L538.1 693.5L538.7 697.4ZM546.3 704.8L543.7 702.4L541.3 699.9L543 698.5L544.8 701.6ZM553.7 707.7L550.2 707L546.9 706L547.7 704L550.8 705.7ZM559.4 713.1L556.3 711.3L553.4 709.3L554.9 707.6L557.2 710.2ZM566.4 714L563.3 715.8L560.1 717.3L559.4 715.1L562.8 714.5ZM570.6 716.2L570 719.7L569.1 723.2L567 722.3L568.7 719.2ZM575.5 720.4L576.3 723.8L576.8 727.3L574.6 727.4L574.9 723.9ZM583.1 725L582.5 728.5L581.6 731.9L579.6 731.1L581.2 728ZM230.5 496.8L232.2 493.4L234.1 490.1L236 491.6L233.4 494.3ZM236.1 501.6L238.2 498L240.5 494.6L242.4 496.3L239.4 499.1ZM242.1 506.2L244.2 502.6L246.6 499.2L248.6 500.9L245.4 503.7ZM248.4 510.2L250.7 506.7L253.2 503.4L255.1 505.2L251.9 507.8ZM255.1 513.5L257.4 510.8L259.9 508.3L261.3 510.1L258.3 511.9ZM263.7 512.2L264.8 515.6L265.7 519L263.4 519.3L263.4 515.8ZM288.2 539.5L288 535.3L288.2 531.2L290.8 531.6L289.6 535.5ZM294.8 546L294.3 541.9L294.1 537.7L296.7 537.9L295.9 542ZM300.7 548.8L300.5 544.6L300.6 540.5L303.2 540.9L302.1 544.8ZM307 549.7L307.3 546.1L307.9 542.7L310 543.3L308.7 546.5ZM313.5 554.1L313.6 550.6L313.9 547.1L316.1 547.5L314.9 550.9ZM317.6 556.9L320.2 554.5L322.9 552.3L324.1 554.2L320.9 555.7ZM325.8 562.8L326.1 559.3L326.7 555.8L328.9 556.4L327.5 559.7ZM332.8 567.3L332.4 563.8L332.2 560.3L334.5 560.4L333.8 563.9ZM340.8 571.4L338.7 568.5L336.8 565.5L338.8 564.6L340 567.9ZM347.9 575.2L345.1 573L342.4 570.7L344.1 569.2L346.1 572.1ZM353.8 579.9L351.3 577.3L349 574.6L350.9 573.4L352.4 576.6ZM359.5 584.6L357.5 581.6L355.7 578.5L357.8 577.7L358.8 581.1ZM361.3 587.3L364.1 585.1L367 583.1L368 585.2L364.7 586.3ZM367.2 590.7L370.6 589.4L373.9 588.4L374.3 590.6L370.8 590.8ZM373.5 594L377 593.8L380.6 593.8L380.3 596L376.8 595.1ZM381.6 595.7L383.8 598.5L385.8 601.4L383.9 602.4L382.6 599.2ZM392.1 598L391 602L389.6 605.9L387.2 604.7L389.5 601.3ZM397.5 603.1L396.8 607.3L395.7 611.2L393.2 610.3L395.2 606.6ZM401.6 608.5L402.7 611.9L403.5 615.3L401.3 615.6L401.3 612ZM407.9 611.8L409 615.8L409.9 619.9L407.3 620.1L407.4 616ZM413.6 614.5L415 618.5L416.1 622.5L413.5 622.8L413.4 618.7ZM419.7 619.7L421.3 623.6L422.7 627.5L420.1 628L419.7 623.9ZM425.7 626.1L427.8 629.2L429.6 632.4L427.4 633.3L426.4 629.7ZM432.3 630.5L434 633.6L435.5 636.8L433.4 637.5L432.7 634.1ZM438.3 635L440.3 637.9L442 641L439.9 641.9L439 638.5ZM445.4 639.1L446.6 642.5L447.5 645.9L445.3 646.2L445.2 642.7ZM452.5 643.5L452.8 647L452.9 650.6L450.7 650.3L451.5 646.9ZM457.1 648.1L459.1 651.1L460.8 654.2L458.7 655L457.8 651.6ZM460.4 656L464.5 654.9L468.5 654.1L468.7 656.7L464.6 656.5ZM466.2 660.8L470.1 659.4L474.1 658.3L474.5 660.9L470.4 661ZM473.7 664.1L477.3 663.8L480.8 663.7L480.6 666L477.1 665.1ZM483.2 665.3L484.2 668.8L484.9 672.2L482.7 672.4L482.8 668.9ZM490.7 669.8L490.4 673.4L489.9 676.9L487.8 676.3L489.1 673ZM499.5 677.7L496 678.3L492.5 678.5L492.6 676.3L496.1 676.9ZM502.1 686.4L501.5 682.2L501.2 678.1L503.8 678.2L503.1 682.3ZM509 691.4L507.8 687.4L507 683.4L509.6 683.2L509.5 687.3ZM515.9 694L514.2 690.9L512.6 687.8L514.8 687L515.5 690.5ZM522.7 700.1L520.7 696.5L519 692.8L521.5 691.9L522.2 696ZM530.1 704.3L527.4 701.1L524.9 697.8L527.2 696.5L528.8 700.3ZM536.9 707.6L533.6 705.1L530.6 702.3L532.6 700.6L534.9 704ZM543.1 711L539.5 708.9L536.1 706.6L537.8 704.6L540.6 707.7ZM548.4 715.3L545.6 713L543.1 710.6L544.8 709.2L546.7 712.1ZM555.5 718.7L552.1 717.6L548.8 716.2L550 714.2L552.8 716.4ZM561.6 723.3L558.3 721.9L555.2 720.2L556.5 718.4L559.1 720.8ZM562.4 728.1L564.5 725.2L566.8 722.5L568.3 724.2L565.4 726.2ZM567.7 730L571.2 729.4L574.8 729L574.7 731.3L571.2 730.8ZM579 731.3L578.1 734.8L577 738.1L575 737.1L576.9 734.2ZM225.6 502.5L228 499.5L230.5 496.7L232.1 498.6L228.9 500.6ZM231.1 507.6L233.7 504.3L236.4 501.2L238.2 503.2L234.7 505.5ZM237.4 511.8L240 508.5L242.9 505.5L244.6 507.5L241.1 509.8ZM243.9 514.1L247 512.5L250.3 511.1L250.9 513.3L247.4 513.8ZM251.6 514.6L254.1 517.2L256.3 519.9L254.4 521.1L252.9 517.9ZM281.9 537.6L285.2 538.8L288.4 540.3L287.2 542.2L284.5 540ZM290.7 547.3L290.4 543.7L290.4 540.2L292.6 540.5L291.8 543.9ZM297.8 551.6L296.7 548.3L295.8 544.9L298 544.6L298.1 548.1ZM307.1 551.9L303.8 553.2L300.4 554.3L300 552.1L303.5 551.9ZM310.9 552.2L310.9 556.4L310.5 560.5L307.9 560L309.3 556.1ZM316.1 557.8L316.9 561.3L317.4 564.8L315.2 564.8L315.5 561.3ZM318.9 565.7L322.4 565L325.9 564.5L326 566.8L322.5 566.4ZM327.8 573.4L328 569.9L328.6 566.4L330.7 567L329.4 570.2ZM336.1 577.8L334.3 574.6L332.8 571.4L335 570.8L335.6 574.2ZM342.7 582L340.6 579.1L338.8 576.1L340.8 575.2L341.9 578.5ZM346.7 586.6L346.8 583L347.2 579.5L349.4 580L348.2 583.3ZM351.2 590L353.3 587L355.6 584.3L357.1 586L354.3 588.1ZM356.6 592.5L359.9 591.2L363.3 590.2L363.7 592.4L360.2 592.6ZM362.9 596.8L366.2 595.6L369.6 594.7L369.9 596.9L366.4 597ZM369.1 600.5L372.6 600L376.2 599.8L376 602L372.5 601.4ZM376.6 602.4L379.4 604.6L382 607L380.2 608.5L378.3 605.5ZM387.8 604L386.7 608L385.4 611.9L383 610.8L385.2 607.3ZM393.1 609.1L392.5 613.3L391.5 617.3L389 616.4L390.9 612.7ZM397.2 614.7L398.4 618.1L399.3 621.5L397 621.8L397 618.3ZM403.3 619.1L404.6 622.4L405.6 625.8L403.4 626.2L403.2 622.7ZM409.1 622.7L410.9 626.4L412.4 630.2L409.9 630.9L409.3 626.8ZM415 625.8L416.8 629.5L418.4 633.4L415.8 634L415.3 630ZM421 631L423.2 634.6L425.1 638.2L422.6 639.1L421.7 635.1ZM427.4 636.4L429.7 639.7L431.8 643.2L429.5 644.2L428.3 640.4ZM433.5 641.2L435.9 644.1L438.1 647.1L436 648.2L434.6 644.8ZM439.1 646.1L442.1 648.3L444.8 650.7L443.1 652.2L441 649.3ZM446.7 649.3L448.6 653L450.1 656.7L447.6 657.4L447 653.4ZM450.8 654.5L454.4 656.7L457.7 659.2L455.9 661.1L453.2 657.9ZM454.9 661.3L459.1 661L463.2 661L462.9 663.6L458.9 662.6ZM462.4 666.2L466.6 665.5L470.7 665.1L470.6 667.7L466.5 667.1ZM470 668.6L473.3 670.1L476.4 671.8L475.1 673.6L472.5 671.2ZM479 671.6L479.8 675L480.4 678.5L478.2 678.6L478.5 675.1ZM485.5 675.9L486.1 679.5L486.4 683L484.2 682.9L484.7 679.4ZM491.5 680.3L492.4 683.8L493 687.2L490.7 687.4L491 683.8ZM496.7 691.4L497.3 687.9L498.2 684.5L500.3 685.3L498.6 688.4ZM505.1 697L503.5 693.1L502.2 689.2L504.8 688.7L505.1 692.8ZM512.1 701.3L509.9 697.7L508 694.1L510.5 693.1L511.4 697.2ZM518.3 704.9L516 701.6L514.1 698.2L516.4 697.2L517.5 701ZM524.1 709.2L522.3 705.9L520.8 702.5L523 701.8L523.7 705.5ZM531.5 713.5L528.6 710.5L526 707.3L528.2 705.9L530 709.6ZM538.6 717.4L535.1 715.1L531.8 712.6L533.6 710.8L536.2 714ZM545.3 721.2L541.4 719.5L537.7 717.6L539.2 715.4L542.3 718.2ZM550.5 725.7L547.6 723.7L544.9 721.4L546.5 719.9L548.6 722.7ZM554.7 731L553.7 727.6L552.9 724.2L555.1 724L555.1 727.5ZM557.7 734.4L560.1 731.4L562.7 728.5L564.3 730.4L561.1 732.5ZM563.7 737.7L566.6 735.7L569.6 733.9L570.5 735.9L567.2 736.9ZM575.3 737.9L573.7 741.1L571.9 744.1L570.1 742.8L572.6 740.3ZM220.9 508L223.7 505.6L226.8 503.5L227.9 505.6L224.4 506.9ZM226.3 513.5L229.2 510.5L232.2 507.7L233.8 509.8L230.1 511.8ZM233.4 516.4L236.3 514.4L239.4 512.6L240.3 514.7L236.9 515.7ZM240.1 517.4L243.3 518.8L246.4 520.5L245.1 522.4L242.5 520ZM248.1 520.5L249.8 523.6L251.3 526.8L249.2 527.5L248.5 524ZM271.7 538.9L274.7 540.8L277.6 542.8L276 544.5L273.8 541.8ZM280.1 541.5L281.3 545.5L282.2 549.5L279.6 549.8L279.7 545.7ZM287.3 544.3L287.7 548.5L287.8 552.6L285.2 552.4L286.1 548.4ZM294 548.6L294.1 552.8L294 556.9L291.4 556.5L292.5 552.5ZM300.2 553L300.4 557.1L300.2 561.3L297.6 560.9L298.8 556.9ZM305.7 557.6L306.4 561.7L306.8 565.8L304.2 565.7L304.8 561.6ZM311.1 563.3L312.6 567.2L313.8 571.2L311.2 571.7L311 567.5ZM315.2 569.9L318.5 571.3L321.6 573L320.4 574.8L317.7 572.5ZM321.3 578L324 575.7L326.8 573.6L328 575.5L324.7 576.9ZM332.5 583.6L330.1 581L327.8 578.3L329.7 577.1L331.2 580.3ZM338.3 588.2L336.3 585.3L334.5 582.3L336.5 581.4L337.5 584.7ZM342 592.7L342.5 589.2L343.3 585.7L345.4 586.5L343.8 589.6ZM346.8 596.1L349 593.3L351.3 590.6L352.8 592.3L349.9 594.3ZM352.4 599.2L355.5 597.5L358.7 596L359.4 598.2L355.9 598.8ZM358.6 603.5L361.8 601.9L365 600.5L365.7 602.6L362.2 603.2ZM364.8 607.3L368.2 606.2L371.6 605.4L371.9 607.6L368.3 607.6ZM372 608.9L375 610.8L377.8 612.9L376.3 614.5L374 611.8ZM383 610.5L382.1 614.6L380.9 618.6L378.5 617.5L380.6 614ZM388.5 615.4L388 619.6L387.3 623.7L384.8 622.9L386.5 619.1ZM393 620.9L394 624.3L394.8 627.8L392.6 628L392.6 624.5ZM398.7 625.4L400.3 628.6L401.5 631.9L399.4 632.4L398.9 628.9ZM404.2 630.1L406.5 632.8L408.5 635.7L406.6 636.8L405.2 633.5ZM410.3 633.9L412.8 637.2L415.1 640.6L412.8 641.8L411.4 637.9ZM416.9 636.8L418.8 640.5L420.5 644.3L417.9 645.1L417.3 641ZM423.5 641.7L425.3 645.5L426.8 649.4L424.2 650L423.7 645.9ZM429.8 647.2L431.6 650.4L433.2 653.7L431 654.4L430.3 650.9ZM433.9 653.9L437.4 654.4L440.9 655.1L440.1 657.2L437 655.7ZM440 659L443.5 658.7L447.1 658.7L446.8 660.9L443.4 660.1ZM446.4 662.8L449.9 663.1L453.4 663.6L452.8 665.8L449.5 664.4ZM452.5 668.6L455.9 667.5L459.3 666.6L459.6 668.8L456.1 668.8ZM458.8 673.2L462.1 671.8L465.5 670.8L465.9 673L462.4 673.2ZM468.3 673.4L469.2 676.9L469.9 680.3L467.7 680.5L467.8 677ZM475.7 677.9L475.5 681.4L475 684.9L472.8 684.4L474.1 681.1ZM481.3 682.2L481.8 685.7L482 689.2L479.8 689.1L480.4 685.6ZM486.8 686.6L488 689.9L489 693.3L486.7 693.7L486.7 690.1ZM491.9 691.4L494.2 694.1L496.3 696.9L494.4 698L493 694.7ZM497.7 701.5L499.3 698.3L501.2 695.3L502.9 696.7L500.4 699.2ZM507.7 706.3L505.5 703.5L503.6 700.5L505.6 699.5L506.8 702.8ZM514.7 710.9L511.7 708L509 704.9L511.2 703.4L513.1 707.1ZM521.6 715.4L518.3 712.8L515.3 710L517.3 708.3L519.6 711.7ZM528.2 719.5L524.7 717.2L521.4 714.6L523.3 712.8L525.9 716ZM534.5 723.6L530.9 721.5L527.5 719.1L529.3 717.1L532 720.3ZM539.5 728.2L536.8 725.4L534.4 722.5L536.5 721.2L538.1 724.6ZM544.4 733.1L543 729.5L541.9 725.9L544.2 725.5L544.5 729.3ZM548.4 738L549.1 733.8L550.1 729.8L552.5 730.8L550.6 734.4ZM553 741.5L555.3 738L557.8 734.7L559.7 736.5L556.5 739.1ZM564.3 745.5L562 742.9L559.8 740.1L561.7 738.9L563.1 742.2ZM571.4 744.5L569.3 747.4L567.1 750.1L565.5 748.5L568.3 746.4ZM216.5 513.8L219.5 511.9L222.6 510.2L223.4 512.3L220 513.1ZM222.1 519.5L225 516.5L228.1 513.8L229.6 516L226 517.9ZM228.8 521.6L232.2 520.6L235.7 519.8L235.9 522L232.3 521.9ZM236.2 523L239.1 525.2L241.7 527.5L240.1 529L238 526.1ZM260.2 542.3L263.8 542.4L267.3 542.9L266.7 545.1L263.5 543.8ZM268.4 544.3L270.5 547.2L272.4 550.2L270.3 551.1L269.3 547.8ZM276.6 546.6L277.1 550.7L277.2 554.9L274.6 554.7L275.4 550.6ZM283 550.2L283.4 554.4L283.5 558.5L280.9 558.3L281.8 554.2ZM289 554.7L289.6 558.9L289.9 563L287.3 562.8L288 558.8ZM295.2 559.2L295.8 563.4L296.2 567.5L293.6 567.4L294.2 563.3ZM300.9 564.9L302 568.9L302.8 573L300.2 573.2L300.4 569.1ZM305.2 571.1L308 573.3L310.7 575.6L309 577.1L307 574.2ZM317.2 577.6L313.9 578.8L310.5 579.8L310.1 577.5L313.7 577.4ZM324.2 583L320.1 583.3L315.9 583.3L316.3 580.7L320.3 581.7ZM332.3 589.2L328.2 588.5L324.2 587.5L325.1 585L328.7 586.9ZM337.9 596.2L334.3 594L331 591.6L332.8 589.7L335.5 592.8ZM341.8 601.4L339.2 598.1L336.9 594.7L339.2 593.5L340.7 597.4ZM345.4 604L344.3 600.1L343.5 596.1L346.1 595.9L345.9 599.9ZM350.5 607.8L350.7 604.2L351.1 600.7L353.3 601.3L352 604.5ZM355.9 611.8L357 608.4L358.4 605.1L360.3 606.2L358.2 609.1ZM362.3 616.2L363.3 612.8L364.5 609.5L366.5 610.5L364.5 613.4ZM366.7 617.1L370.2 616.8L373.8 616.7L373.5 619L370.1 618.2ZM379.1 617.3L377.7 621.3L376.1 625.1L373.8 623.7L376.3 620.5ZM385.4 622L383.9 625.9L382.1 629.6L379.9 628.2L382.5 625ZM390.9 627.7L389.6 631L388 634.2L386.1 633L388.4 630.2ZM396.7 631.8L395.9 635.3L394.8 638.6L392.7 637.7L394.6 634.7ZM403.1 636.2L402.1 639.7L401 643L399 642L400.9 639.1ZM406.7 640.4L408.4 643.5L409.9 646.7L407.8 647.4L407.1 644ZM413.8 644.6L414.7 648.1L415.4 651.5L413.2 651.7L413.4 648.2ZM420.4 647.9L421.1 652L421.6 656.1L418.9 656.1L419.5 652ZM426.8 653.3L427.3 656.9L427.5 660.5L425.2 660.3L425.9 656.8ZM429.4 660.6L433 660.6L436.5 660.8L436.1 663L432.7 661.9ZM436.3 667.7L438.7 665.1L441.2 662.6L442.6 664.4L439.5 666.2ZM442.9 672.5L444.9 669.5L447.1 666.7L448.7 668.3L445.9 670.5ZM450.9 677.8L451 674.2L451.3 670.7L453.5 671.2L452.3 674.5ZM459.1 682L457.3 679L455.7 675.8L457.8 675.1L458.6 678.5ZM467.7 683L464.2 683.8L460.7 684.3L460.7 682.1L464.2 682.4ZM472.8 684.9L471 688L469 690.9L467.3 689.4L469.9 687ZM477.5 688.5L477.4 692L477.1 695.5L474.9 695L476 691.7ZM482.4 692.8L483.7 696.1L484.7 699.5L482.5 699.9L482.3 696.4ZM487.3 697.7L489.8 700.2L492.2 702.9L490.3 704.1L488.7 701ZM493.1 702.4L496 704.5L498.7 706.8L497.1 708.3L495 705.5ZM499.7 706.6L502.4 709L504.8 711.5L503 712.8L501.2 709.8ZM506.9 717.1L507.4 713.5L508.2 710.1L510.3 710.8L508.7 714ZM515.8 721.3L513.7 718.4L511.8 715.5L513.8 714.5L515 717.8ZM522.2 725.6L520 722.8L518 719.9L520 718.9L521.2 722.2ZM528.2 730.1L526.2 727.1L524.5 724.1L526.5 723.2L527.5 726.6ZM533.9 735L532.4 731.4L531.1 727.7L533.5 727.2L533.9 731.1ZM539.5 740L538.6 735.9L538 731.8L540.6 731.7L540.2 735.8ZM544 744.4L544.7 740.3L545.7 736.3L548.2 737.2L546.2 740.9ZM549.3 748.3L550.9 744.4L552.8 740.7L555 742.2L552.3 745.3ZM561.5 750L558 749.4L554.5 748.5L555.4 746.4L558.5 748.1ZM567.6 751.6L564.8 753.7L561.8 755.7L560.8 753.7L564.2 752.5ZM212 519.6L215.2 518L218.5 516.8L219.1 519L215.6 519.4ZM218.6 524.9L221.3 522.5L224.2 520.3L225.3 522.3L222 523.7ZM224.6 526.3L228.2 526.8L231.6 527.5L230.9 529.7L227.7 528.1ZM232.1 529L234.8 531.4L237.2 534L235.4 535.3L233.6 532.3ZM253.5 541.5L253.7 545.1L253.6 548.6L251.4 548.3L252.3 544.9ZM258 546.1L259.9 549.1L261.6 552.2L259.5 553L258.6 549.6ZM265.6 549.7L266.3 553.7L266.7 557.8L264.2 557.7L264.7 553.7ZM272.8 552.5L272.9 556.7L272.7 560.8L270.1 560.3L271.3 556.4ZM279 556.8L279.2 561L279 565.1L276.4 564.6L277.6 560.7ZM285 561.8L285.3 565.9L285.2 570.1L282.6 569.7L283.7 565.7ZM291.7 567.8L291.3 571.4L290.6 575L288.4 574.3L289.9 571ZM299.5 573.2L297.3 576.1L295 578.8L293.5 577.1L296.4 575.1ZM306.6 579.6L303.2 580.7L299.8 581.5L299.5 579.2L303.1 579.3ZM316.5 584L312.4 585L308.4 585.7L308.2 583.1L312.3 583.4ZM323.9 588.8L319.8 589.6L315.7 590L315.7 587.4L319.8 588ZM328.5 594.5L324.3 594.4L320.2 594.1L320.8 591.5L324.7 592.8ZM333.5 602.5L330 600.2L326.6 597.8L328.4 595.9L331.1 599.1ZM338.5 609.6L335.9 606.3L333.5 602.9L335.9 601.7L337.3 605.6ZM343.7 614.2L341.5 610.7L339.6 607L342.1 606.1L343.1 610.1ZM349 615.8L346.8 612.2L344.9 608.6L347.3 607.6L348.3 611.7ZM354.6 618.8L352.5 615.2L350.7 611.6L353.2 610.8L354 614.7ZM360.6 622.8L358.9 619.5L357.4 616.2L359.7 615.5L360.3 619.1ZM368 626.5L365.3 624.1L362.8 621.7L364.5 620.3L366.4 623.3ZM376 624.5L373.5 627.9L370.9 631L369.1 629.1L372.4 626.7ZM382.4 629.6L379.5 632.6L376.5 635.4L375 633.3L378.6 631.3ZM388.5 636.4L384.7 637.6L380.9 638.6L380.6 636.1L384.5 636.1ZM394.5 641.9L390.8 641.9L387.1 641.7L387.5 639.4L391 640.5ZM400.3 647.1L396.9 646.2L393.5 645.2L394.5 643.1L397.5 645ZM406.3 651.9L403 650.5L399.9 648.9L401.2 647.1L403.8 649.4ZM412.9 655.8L409.4 655L406.1 653.9L407 651.9L410 653.7ZM419 656.9L416.3 659.3L413.5 661.5L412.4 659.5L415.6 658.1ZM424.1 660.1L422.8 663.5L421.3 666.7L419.4 665.5L421.6 662.7ZM431.1 669.8L428 668L425.2 666L426.7 664.3L429 667ZM434.2 675.3L434.1 671.7L434.3 668.2L436.5 668.6L435.5 672ZM441.3 679.7L440.3 676.3L439.7 672.8L441.9 672.7L441.7 676.2ZM449 683.7L446.7 680.9L444.6 678.1L446.6 677L447.9 680.3ZM455.6 687.8L453 685.4L450.6 682.8L452.4 681.5L454.1 684.6ZM462.8 691.3L459.5 689.9L456.3 688.3L457.6 686.5L460.2 688.8ZM469.6 693.3L466.2 694.4L462.8 695.2L462.5 693L466 693ZM474 695L473 698.4L471.8 701.7L469.8 700.7L471.8 697.8ZM477.8 699.1L479.3 702.3L480.6 705.6L478.4 706.1L478 702.6ZM482.3 704.5L485.4 706.3L488.3 708.3L486.8 710L484.5 707.4ZM488.7 708.8L491.7 710.7L494.5 712.9L492.9 714.5L490.7 711.7ZM495.9 712.4L498.1 715.3L500 718.3L497.9 719.2L496.8 715.9ZM503 716.5L504.4 719.8L505.5 723.2L503.3 723.6L503 720.1ZM511 721L510.7 724.5L510 728L507.9 727.4L509.3 724.1ZM519.2 730.6L515.9 729.3L512.7 727.8L513.9 725.9L516.6 728.1ZM524.3 736.1L521.9 733.4L519.8 730.6L521.7 729.5L523.1 732.7ZM529.7 740.8L528.1 737.7L526.8 734.4L528.9 733.8L529.5 737.3ZM535.2 746L534.2 741.9L533.6 737.9L536.2 737.8L535.9 741.9ZM538.9 750.7L540.1 746.7L541.6 742.9L543.9 744.1L541.6 747.5ZM546.3 754.5L546.8 750.3L547.6 746.3L550.1 747.1L548.4 750.9ZM556.6 757.2L553.4 755.5L550.4 753.7L551.8 751.9L554.3 754.4ZM563.6 760.1L560 760L556.5 759.7L556.9 757.5L560.3 758.7ZM201.4 521.3L204.6 519.9L208 518.8L208.4 521L204.9 521.2ZM207.6 525.2L211 524.2L214.4 523.5L214.6 525.8L211.1 525.6ZM216.7 525.9L218 529.2L219.1 532.5L216.9 533L216.6 529.4ZM224.5 530.3L224.3 533.9L223.8 537.4L221.6 536.8L222.9 533.5ZM232 535.3L230.4 538.5L228.6 541.5L226.8 540.2L229.3 537.6ZM237.9 539.4L236.7 542.8L235.3 546L233.4 544.9L235.5 542.1ZM250.3 548.1L249.3 551.5L248 554.8L246 553.7L248.1 550.9ZM255.8 551.9L255.7 555.7L255.3 559.5L252.9 559L254.2 555.4ZM262.2 555.5L262.1 559.6L261.7 563.8L259.1 563.2L260.5 559.3ZM269.2 559.3L268.6 563.4L267.8 567.5L265.3 566.6L267.1 562.9ZM275.7 564.4L274.7 568.4L273.5 572.4L271.1 571.3L273.3 567.8ZM283 571.3L280.3 573.7L277.5 575.8L276.4 573.8L279.7 572.5ZM291.1 576.5L287.2 578.1L283.3 579.4L282.8 576.8L286.9 576.5ZM298.9 581.3L294.9 582.4L290.9 583.3L290.6 580.7L294.8 580.8ZM307.9 585.8L303.9 586.8L299.8 587.5L299.7 584.8L303.8 585.2ZM312.8 590.2L308.8 591.2L304.7 591.9L304.6 589.3L308.7 589.6ZM318.8 594.5L314.7 595.5L310.7 596.3L310.5 593.7L314.6 593.9ZM322.9 599.3L318.8 600.1L314.7 600.6L314.7 598L318.8 598.5ZM326.6 605.9L323.4 604.2L320.5 602.3L321.9 600.6L324.3 603.2ZM331.9 613.1L329.8 609.5L327.9 605.8L330.4 604.9L331.3 608.9ZM339.1 619.6L336.9 616.1L335 612.4L337.4 611.5L338.4 615.5ZM346 624.7L343.6 621.2L341.6 617.6L344 616.6L345.1 620.6ZM351.9 627.7L349.5 624.3L347.3 620.8L349.7 619.7L351 623.6ZM357.6 630L354.9 626.8L352.6 623.4L354.9 622.1L356.4 626ZM364.3 632.7L360.9 630.5L357.8 628.1L359.5 626.3L362 629.4ZM371.8 631.7L368.8 634.6L365.6 637.2L364.2 635L367.9 633.3ZM378.3 636.5L375 639.1L371.6 641.4L370.4 639L374.3 637.6ZM384.4 643.5L380.3 643.9L376.2 644L376.4 641.4L380.4 642.3ZM390.4 648.6L386.3 648.2L382.3 647.5L383.1 645L386.8 646.7ZM396.4 653.7L392.5 652.5L388.7 651.1L389.9 648.8L393.2 651.1ZM402.3 658.6L398.6 656.8L395.2 654.8L396.7 652.8L399.6 655.6ZM408.6 662.8L404.9 661.2L401.4 659.3L402.9 657.3L405.8 659.9ZM415.1 666L411.4 665.6L407.9 665L408.5 662.8L411.8 664.3ZM421.1 667.8L418.2 669.9L415.2 671.8L414.2 669.8L417.6 668.7ZM426.7 671.3L424.6 674.2L422.4 676.9L420.8 675.3L423.7 673.2ZM431.5 681.4L429.8 678.3L428.3 675.1L430.4 674.4L431.1 677.8ZM438.3 685.6L436.1 682.8L434.1 679.8L436.1 678.8L437.3 682.1ZM445.2 689.5L442.4 687.3L439.9 684.9L441.6 683.4L443.5 686.4ZM451.5 693.9L448.7 691.6L446.1 689.2L447.8 687.8L449.8 690.7ZM458 698L455 696.1L452.2 693.9L453.8 692.3L456 695.1ZM464.4 702.2L461.3 700.5L458.4 698.5L459.9 696.8L462.2 699.4ZM470.8 706.5L467.6 704.9L464.6 703.1L465.9 701.3L468.5 703.8ZM477.4 710.3L474 709.3L470.7 708.1L471.7 706.1L474.6 708.1ZM478.5 715.9L480 712.6L481.8 709.6L483.6 711L481.1 713.5ZM483.7 715.9L487.1 716.8L490.5 717.9L489.5 720L486.5 718.1ZM493.2 718.3L493.8 721.8L494.1 725.3L491.9 725.3L492.4 721.8ZM500.6 722.9L500 726.4L499.3 729.9L497.1 729.1L498.7 726ZM507.5 727.6L506.2 730.9L504.8 734.1L502.9 733L505 730.2ZM514.6 732.7L512.3 735.5L509.9 738L508.5 736.3L511.5 734.4ZM521.3 740.9L517.9 739.9L514.6 738.7L515.6 736.7L518.5 738.7ZM525.6 747L523.8 743.9L522.2 740.8L524.3 740L525.1 743.5ZM530.8 751.6L530 748.1L529.5 744.6L531.7 744.5L531.4 748ZM535.4 756.6L536.1 752.5L537 748.5L539.5 749.4L537.6 753.1ZM543.4 760.5L542.5 756.9L541.9 753.2L544.2 753.1L544 756.8ZM551.8 763.9L549 761.6L546.4 759.3L548.1 757.8L550 760.7ZM558 768.3L555.2 766L552.7 763.5L554.5 762.1L556.3 765.1ZM196.9 526.8L200.4 526.1L203.9 525.7L203.9 527.9L200.4 527.5ZM208.8 528.4L207.3 531.6L205.5 534.6L203.7 533.3L206.2 530.7ZM215.5 533.1L213.5 536L211.2 538.8L209.7 537.1L212.5 535ZM222.3 538.2L219.6 540.5L216.7 542.6L215.6 540.6L218.9 539.3ZM229 544.6L225.5 545L221.9 545.1L222.1 542.9L225.6 543.6ZM235.1 547.6L232 549.3L228.8 550.8L228.1 548.7L231.6 548ZM240.8 550.9L238.5 553.6L236 556.1L234.6 554.3L237.6 552.5ZM246.7 554.4L244.9 557.9L242.9 561.1L241 559.6L243.7 556.9ZM252 557.8L251.4 562L250.5 566L248 565.1L249.8 561.4ZM258.6 562.2L257.7 566.3L256.5 570.2L254.1 569.2L256.2 565.6ZM266.2 567.5L263.9 570.9L261.3 574.2L259.5 572.3L262.7 569.8ZM273.5 573.9L269.7 575.7L265.8 577.1L265.2 574.6L269.3 574.1ZM283 578.9L278.9 580L274.8 580.6L274.7 578L278.8 578.3ZM292.7 583.1L288.6 584.1L284.6 584.8L284.4 582.2L288.6 582.5ZM299.1 587.6L295 588.6L290.9 589.2L290.8 586.6L294.9 587ZM302.3 592.4L298.2 593.2L294.1 593.7L294.1 591.1L298.2 591.6ZM308.3 596.7L304.2 597.5L300.1 598.1L300.1 595.5L304.2 595.9ZM313 601.2L308.9 602L304.8 602.4L304.8 599.8L308.9 600.4ZM316.8 606.2L313.1 606.2L309.5 606L309.9 603.7L313.4 604.8ZM322.4 611.9L319.1 610.5L316 608.9L317.2 607L319.9 609.3ZM327.4 617.4L325.2 614.6L323.2 611.7L325.2 610.7L326.4 614ZM334.4 622.5L331.6 619.4L329 616.1L331.3 614.8L333 618.6ZM341.4 628.2L338.6 625.1L336.1 621.8L338.4 620.5L340 624.3ZM347.9 634.7L345.5 631.3L343.3 627.8L345.7 626.7L347 630.6ZM353.7 638.7L351.4 635.2L349.4 631.6L351.8 630.7L352.9 634.6ZM360.2 640.2L357.1 637.4L354.2 634.4L356.3 632.9L358.4 636.5ZM367.5 639.2L363.9 641.2L360.2 643L359.3 640.5L363.4 639.7ZM374 643.1L370.5 645.5L366.9 647.5L365.9 645.1L369.9 643.9ZM379.9 649.4L375.9 650.1L372 650.5L372 647.9L376 648.5ZM385.8 654.5L382 654.4L378.3 653.9L378.9 651.6L382.4 652.9ZM391.6 659.6L388.2 658.7L384.8 657.5L385.8 655.5L388.8 657.4ZM397.5 664.5L394.3 663L391.3 661.2L392.7 659.4L395.2 661.9ZM403.9 668.9L400.6 667.4L397.4 665.6L398.8 663.7L401.4 666.2ZM410.5 672.6L407 671.8L403.6 670.8L404.5 668.7L407.6 670.5ZM416.9 676.5L413.4 676.2L409.9 675.7L410.5 673.5L413.7 674.9ZM422.4 677.6L420.3 680.4L417.9 683.1L416.5 681.4L419.4 679.4ZM426.9 680.9L426.8 684.4L426.4 687.9L424.2 687.4L425.4 684.1ZM434.5 691.4L431.8 689.1L429.3 686.6L431.1 685.2L432.9 688.2ZM440.9 695.7L438.1 693.5L435.5 691.1L437.2 689.7L439.1 692.6ZM447.1 700.2L444.3 697.8L441.8 695.4L443.6 694L445.4 697ZM453.4 704.5L450.6 702.2L448.1 699.8L449.8 698.4L451.7 701.3ZM459.4 709L456.9 706.6L454.5 703.9L456.3 702.6L458 705.8ZM465.6 713.4L463.1 710.9L460.8 708.3L462.7 707L464.3 710.2ZM471.9 717.8L469.4 715.3L467.1 712.7L468.9 711.4L470.5 714.5ZM476.2 722.8L475.5 719.3L475.2 715.8L477.4 715.8L476.9 719.3ZM481.6 727L481.8 723.5L482.3 720L484.5 720.6L483.2 723.8ZM490.2 724.8L489.4 728.3L488.4 731.7L486.3 730.8L488.1 727.8ZM496.6 729.3L495.7 732.7L494.5 736L492.5 735.1L494.4 732.1ZM502.8 733.6L501.9 737.1L500.8 740.4L498.7 739.4L500.7 736.5ZM508.9 737.9L508.2 741.4L507.3 744.8L505.2 744L506.9 740.9ZM514.9 742.2L514.5 745.7L513.9 749.2L511.7 748.5L513.2 745.3ZM523.1 751.7L519.7 750.5L516.5 749L517.7 747.1L520.5 749.3ZM527.5 757.6L525.7 754.5L524.1 751.4L526.3 750.6L527 754.1ZM533.3 762.1L532 758.8L530.9 755.4L533.1 755L533.3 758.5ZM540.6 766.1L538.3 763.4L536.3 760.5L538.2 759.4L539.5 762.7ZM547.1 770.4L544.6 767.8L542.3 765.1L544.2 763.9L545.8 767ZM553.1 774.9L550.8 772.1L548.8 769.2L550.8 768.2L552.1 771.5ZM198.3 530.3L196.6 533.4L194.8 536.4L193 535L195.6 532.6ZM204.5 534.6L202.9 537.8L201.1 540.8L199.3 539.4L201.8 537ZM210.8 539L209.2 542.2L207.3 545.2L205.6 543.8L208.1 541.3ZM217 543.3L215.5 546.5L213.7 549.6L211.9 548.3L214.3 545.7ZM224.1 548.5L221.6 551.1L218.9 553.4L217.6 551.5L220.8 549.9ZM230.1 552.6L227.9 555.4L225.5 558L224.1 556.3L227 554.4ZM235.8 556.5L234.3 559.7L232.5 562.7L230.7 561.3L233.2 558.8ZM242 560.8L240.5 564L238.8 567.1L237 565.8L239.4 563.2ZM247.9 564.9L246.9 568.3L245.6 571.6L243.6 570.5L245.6 567.7ZM255.5 570.6L252.9 573L250 575.1L248.9 573.2L252.2 571.8ZM264.3 575.6L260.5 577.2L256.6 578.6L256 576L260.2 575.6ZM276.2 580.5L272.2 581.5L268.1 582.3L267.9 579.6L272.1 579.9ZM285.2 585L281.2 586L277.1 586.6L277 584L281.1 584.3ZM289.5 589.4L285.5 590.4L281.4 591L281.3 588.4L285.4 588.7ZM292.1 594L288 594.9L284 595.6L283.9 592.9L288 593.3ZM298.1 598.7L294 599.5L289.9 599.9L289.9 597.3L294 597.8ZM302.9 603L298.8 603.8L294.7 604.3L294.7 601.7L298.8 602.2ZM307.6 608.1L303.5 608.3L299.3 608.2L299.7 605.6L303.7 606.7ZM314.2 613.8L310.1 613.1L306.1 612.1L307 609.6L310.7 611.6ZM318.3 620.8L315.4 617.8L312.7 614.7L314.8 613.3L316.7 616.9ZM323.2 624.4L320.8 621L318.7 617.5L321 616.4L322.3 620.4ZM330.4 627.2L327.3 625.4L324.3 623.4L325.8 621.7L328.2 624.4ZM337.2 630.7L333.7 629.9L330.3 628.8L331.2 626.8L334.3 628.6ZM343.2 637.2L340 634.6L336.9 631.7L338.9 630L341.2 633.5ZM349 644.3L346.7 640.8L344.8 637.1L347.2 636.2L348.2 640.2ZM355.1 649.2L353 645.6L351.2 641.9L353.7 641.1L354.6 645.1ZM362.7 649.3L358.9 647.6L355.2 645.7L356.7 643.5L359.8 646.3ZM368.8 650.5L365.5 651.8L362 652.9L361.6 650.6L365.2 650.4ZM375 654.6L371.8 656.2L368.5 657.5L367.9 655.3L371.4 654.8ZM381.3 659.2L378 660.6L374.6 661.7L374.2 659.5L377.7 659.2ZM387.6 664.5L384.1 665L380.6 665.1L380.7 662.9L384.2 663.6ZM393.3 670.6L390 669.2L386.9 667.6L388.2 665.7L390.8 668.1ZM399.8 674.6L396.4 673.6L393 672.4L394.1 670.4L397 672.4ZM406.4 677.5L402.9 678.1L399.4 678.4L399.5 676.1L403 676.7ZM412.6 682.7L409 682.4L405.5 681.9L406.1 679.7L409.4 681.1ZM416.3 689.5L414.8 686.3L413.6 683L415.7 682.5L416.1 686ZM420.3 687.3L422.4 690.2L424.2 693.2L422.1 694.2L421.1 690.8ZM427.6 691.4L428.7 694.8L429.5 698.2L427.3 698.5L427.3 695ZM436.7 701.8L433.8 699.7L431.1 697.5L432.7 695.9L434.8 698.8ZM441.9 706.9L439.9 703.9L438.1 700.9L440.2 700L441.2 703.4ZM447.5 711.4L446.1 708.1L445.1 704.8L447.3 704.4L447.5 707.9ZM453 715.9L452.4 712.4L452.1 708.8L454.3 708.9L453.8 712.4ZM458.3 720.1L458.7 716.6L459.3 713.1L461.5 713.7L460 717ZM462.8 723.2L465.2 720.6L467.7 718.1L469.1 719.9L466 721.7ZM468.8 727.1L471.6 724.9L474.5 722.9L475.5 724.9L472.2 726.1ZM474.7 730.1L478.1 729.2L481.6 728.5L481.7 730.7L478.2 730.6ZM484.1 730.8L485.1 734.2L485.9 737.6L483.7 737.9L483.7 734.3ZM491.6 735.3L491.4 738.8L490.9 742.3L488.7 741.7L490 738.5ZM498 739.5L497.7 743.2L497 746.9L494.7 746.2L496.2 742.8ZM504 744L503.9 747.5L503.6 751L501.4 750.6L502.5 747.2ZM510 748.3L510.2 751.9L510.1 755.4L507.9 755.1L508.8 751.7ZM517 752.9L516.4 756.4L515.6 759.8L513.5 759L515.1 755.9ZM525.5 760.4L522.1 761.2L518.6 761.8L518.5 759.5L522 759.8ZM530.9 767.2L527.8 765.4L524.9 763.4L526.4 761.7L528.8 764.4ZM536.7 772L534 769.7L531.5 767.2L533.3 765.8L535.1 768.8ZM542.6 776.7L540.2 774L538.1 771.2L540 770L541.4 773.3ZM548.6 781.2L546.5 778.3L544.6 775.3L546.6 774.4L547.7 777.7ZM192.9 535.9L192.4 539.5L191.7 542.9L189.6 542.2L191.1 539ZM199.3 540.3L198.7 543.9L197.8 547.3L195.7 546.5L197.4 543.4ZM205.3 544.6L205 548.2L204.3 551.7L202.2 551L203.6 547.8ZM210.8 548.9L211.3 552.4L211.4 555.9L209.2 555.8L209.9 552.3ZM215.8 553.4L217.5 556.5L218.9 559.8L216.7 560.4L216.2 556.9ZM223.3 557.6L223.8 561.1L224 564.7L221.8 564.5L222.4 561.1ZM230.4 562.1L230 565.7L229.4 569.2L227.3 568.5L228.7 565.3ZM236.7 566.5L236.3 570.1L235.6 573.5L233.5 572.8L235 569.6ZM244.3 571.6L242.4 574.7L240.4 577.6L238.7 576.1L241.4 573.8ZM254.6 576.8L250.8 578.7L247 580.3L246.3 577.8L250.4 577.1ZM266.2 581.1L262.3 582.6L258.3 583.7L257.9 581.1L262 581ZM274 586L270 587.2L266 588.1L265.7 585.5L269.9 585.6ZM277.9 590.9L273.9 592L269.8 592.8L269.6 590.2L273.8 590.4ZM281.7 595.6L277.6 596.7L273.6 597.4L273.4 594.8L277.6 595ZM287.9 600.3L283.9 601.2L279.8 601.8L279.7 599.2L283.8 599.6ZM293.6 604.7L289.5 605.6L285.4 606.2L285.4 603.5L289.5 604ZM296.7 609.1L292.6 610L288.5 610.6L288.4 608L292.5 608.4ZM302.9 613.9L298.7 614.4L294.6 614.7L294.8 612.1L298.8 612.8ZM308.5 618.9L304.4 618.8L300.3 618.3L300.9 615.8L304.8 617.2ZM313 625.8L310.2 622.8L307.6 619.6L309.8 618.2L311.5 621.9ZM317.1 632L316.3 627.9L315.8 623.8L318.4 623.8L317.9 627.9ZM325.7 633.7L322.9 631.6L320.2 629.3L321.8 627.8L323.9 630.6ZM333.1 636.3L329.5 636.2L326 635.8L326.5 633.6L329.8 634.8ZM339.3 640.6L335.8 640.5L332.3 640.2L332.7 638L336.1 639.2ZM344.1 647.2L341.6 644.6L339.3 641.9L341.2 640.7L342.8 643.9ZM350.1 653.9L348.1 650.2L346.4 646.4L348.9 645.6L349.7 649.7ZM356.8 658.4L354.6 654.9L352.6 651.2L355.1 650.3L356.1 654.3ZM364 659.1L360.6 658L357.4 656.5L358.5 654.6L361.3 656.8ZM369.2 658.9L367.8 662.1L366.2 665.2L364.3 664L366.7 661.3ZM372.3 662.8L374.2 665.9L375.8 669L373.7 669.8L372.9 666.3ZM377.6 667.7L380.3 670.1L382.8 672.6L381 673.9L379.2 670.9ZM383.4 672.6L386.5 674.3L389.5 676.3L388 678L385.6 675.4ZM390 676.6L392.8 678.8L395.5 681.1L393.9 682.6L391.8 679.7ZM397.4 680.3L399.2 683.4L400.8 686.5L398.7 687.3L397.9 683.8ZM403.3 684.8L405.5 687.7L407.4 690.6L405.4 691.6L404.2 688.3ZM407.7 692.9L411 691.7L414.4 690.7L414.8 692.9L411.2 693ZM413.9 697.2L417.3 696L420.7 695.2L421 697.4L417.5 697.4ZM421.6 697.9L424.3 700.7L426.8 703.6L424.7 705L423 701.5ZM427.9 701L430.4 704.5L432.5 708L430.1 709.1L428.9 705.1ZM433.3 707.9L436.6 709.3L439.7 710.9L438.5 712.7L435.8 710.4ZM439 714.9L442.3 713.5L445.7 712.5L446.1 714.7L442.6 714.9ZM445.5 719.9L448.5 718L451.6 716.3L452.4 718.4L449 719.3ZM451.6 723.6L454.9 722.3L458.3 721.3L458.6 723.5L455.1 723.7ZM457.8 727L461.3 726.7L464.9 726.6L464.6 728.8L461.2 728ZM464.1 731.4L467.6 731L471.1 730.9L470.9 733.2L467.5 732.4ZM470.6 734.7L474.1 735.5L477.5 736.5L476.6 738.5L473.5 736.7ZM478.7 737.3L480.7 740.2L482.5 743.2L480.4 744.1L479.4 740.8ZM486.3 740.8L487.1 744.8L487.7 748.9L485.1 748.9L485.5 744.9ZM492.9 744.8L493.4 749L493.7 753.1L491 752.9L491.8 748.8ZM498.9 749.4L499.7 753.5L500.2 757.6L497.6 757.6L498.1 753.5ZM505.2 753.9L506 758L506.4 762.1L503.8 762L504.3 758ZM512 758.3L512.2 762.4L512.2 766.6L509.6 766.2L510.6 762.2ZM519.1 763.5L518.3 767L517.3 770.4L515.2 769.5L517 766.4ZM527.2 769.8L524.2 771.7L521.1 773.5L520.3 771.4L523.7 770.5ZM532.3 778.3L529.7 775.9L527.2 773.3L529 772L530.8 775.1ZM537.6 783.2L535.8 780.1L534.3 776.9L536.4 776.2L537.1 779.6ZM543.5 787.7L542.1 784.4L541 781L543.1 780.6L543.4 784.1ZM190.3 543.5L187.8 546L185.1 548.3L183.9 546.5L187 544.9ZM196.3 547.5L194.1 550.3L191.8 553L190.3 551.3L193.2 549.3ZM202.8 552.1L200.4 554.8L197.8 557.2L196.5 555.4L199.5 553.6ZM208.8 556.3L206.7 559.1L204.3 561.7L202.8 560.1L205.8 558.1ZM215.1 560.6L213 563.5L210.7 566.1L209.1 564.5L212 562.4ZM221.2 564.9L219.2 567.8L217 570.6L215.5 569L218.3 566.8ZM226.9 568.7L225.6 572.1L224.1 575.3L222.2 574.1L224.4 571.3ZM234.5 572.9L232.1 576.4L229.6 579.6L227.7 577.7L231 575.2ZM243.4 577.5L240.1 580.1L236.7 582.4L235.5 580L239.4 578.6ZM254.6 581.3L251 583.3L247.2 585.1L246.4 582.6L250.5 581.8ZM260.7 586.4L256.9 588.3L253.1 589.8L252.4 587.2L256.5 586.7ZM267.2 591.2L263.3 592.9L259.4 594.3L258.9 591.7L263 591.3ZM272.6 596.2L268.7 597.7L264.8 598.9L264.3 596.3L268.4 596.1ZM277.2 601.3L273.3 602.6L269.3 603.6L268.9 601L273.1 601ZM283.4 606.1L279.4 607.2L275.3 608L275.1 605.4L279.2 605.6ZM287.4 610.1L283.5 611.6L279.6 612.7L279.1 610.1L283.3 610ZM291 613.2L288.1 616.1L285.1 618.8L283.6 616.7L287.2 614.8ZM297.1 618.4L294.3 620.5L291.3 622.3L290.3 620.3L293.7 619.2ZM303.6 623.3L300.4 624.9L297.1 626.2L296.6 624L300.1 623.5ZM307.3 632L305.8 628.7L304.6 625.4L306.8 624.9L307.2 628.4ZM310.4 637.1L311.7 633.1L313.3 629.3L315.6 630.7L313.1 634ZM320.6 640.5L318.4 637.6L316.5 634.7L318.5 633.7L319.7 637ZM328.7 642.7L325.1 642.4L321.6 641.8L322.3 639.6L325.5 641ZM335.1 645.8L331.6 646.8L328.2 647.4L328 645.2L331.5 645.4ZM340 653.2L337.3 650.9L334.8 648.4L336.6 647L338.4 650ZM344.5 658.3L343.4 654.9L342.6 651.5L344.8 651.2L344.8 654.7ZM351.6 662.5L349.7 659.4L348.1 656.3L350.2 655.5L351 659ZM359 666.2L356.1 664L353.5 661.7L355.1 660.2L357.2 663.1ZM362.3 664.5L363.6 667.8L364.6 671.2L362.4 671.6L362.2 668.1ZM366.4 670.2L369.6 671.8L372.6 673.6L371.2 675.4L368.8 672.9ZM372.6 674.6L375.9 676.1L378.9 677.9L377.6 679.7L375 677.3ZM378.7 679.2L382.1 680.5L385.3 682L384.1 683.9L381.3 681.7ZM385.1 683.4L388.4 684.9L391.5 686.6L390.2 688.4L387.6 686ZM392 687.1L394.8 689.4L397.3 691.8L395.6 693.2L393.7 690.3ZM398 691.8L401 693.7L403.8 695.8L402.3 697.4L400 694.7ZM403.4 697.7L407 697.9L410.5 698.4L409.9 700.5L406.6 699.2ZM409.6 703.2L413 702.3L416.5 701.6L416.6 703.9L413.1 703.6ZM416 706.1L419.6 706.7L423 707.5L422.2 709.6L419.1 708ZM423.1 707.6L425.9 710.7L428.5 714L426.2 715.3L424.5 711.5ZM429.4 710.9L431.9 714.3L434.1 717.8L431.8 718.9L430.4 715ZM435.4 718.1L438.6 719.9L441.6 721.9L440.1 723.7L437.7 721ZM440.9 725.1L444.3 724.1L447.8 723.4L448 725.7L444.4 725.5ZM447.2 729.6L450.6 728.5L454 727.7L454.3 729.9L450.7 729.9ZM453.4 733.3L457 732.9L460.5 732.8L460.3 735L456.9 734.3ZM459.6 737.4L463.3 737.2L467 737.4L466.6 739.7L463.1 738.7ZM466.3 740.6L469.8 741.7L473.1 743L472.1 745L469.1 742.9ZM473.9 743.3L476.4 746.3L478.6 749.5L476.5 750.6L475.1 747.1ZM481.4 746.6L482.7 750.6L483.8 754.6L481.2 754.9L481.1 750.8ZM487.9 750.6L489 754.6L489.8 758.7L487.2 758.9L487.4 754.7ZM493.9 755L495.2 758.9L496.3 762.9L493.7 763.3L493.6 759.2ZM500.3 759L501.5 763L502.4 767L499.8 767.3L499.9 763.2ZM507.1 763.1L507.9 767.2L508.4 771.3L505.7 771.3L506.3 767.2ZM513.8 768L514.2 772.2L514.3 776.3L511.7 776.1L512.6 772ZM520 773.8L520.3 777.4L520.3 780.9L518.1 780.7L518.9 777.3ZM523.2 779.5L526.3 781.2L529.3 783L527.9 784.8L525.4 782.2ZM530.5 789.2L531.5 785.8L532.8 782.5L534.7 783.5L532.8 786.4ZM537 793.7L537.8 790.2L538.8 786.8L540.9 787.7L539 790.7ZM186.5 552.1L183 552.4L179.5 552.4L179.7 550.2L183.1 551ZM192.8 555.9L189.4 556.7L185.9 557.3L185.8 555.1L189.3 555.4ZM199.1 560.7L195.6 561.1L192 561.3L192.2 559.1L195.6 559.7ZM205.3 565.6L201.7 565.5L198.2 565L198.7 562.9L202 564.1ZM211.3 570.7L207.8 569.8L204.5 568.7L205.5 566.7L208.4 568.5ZM217.8 574.4L214.2 574.2L210.7 573.8L211.3 571.6L214.6 572.9ZM224.2 576.4L221 578.6L217.6 580.5L216.7 578.3L220.4 577.2ZM232.3 578.7L229.3 581.7L226.2 584.4L224.8 582.2L228.4 580.3ZM241.7 581.9L238.5 584.6L235.2 587.1L233.9 584.8L237.7 583.2ZM249.3 586L246 588.6L242.6 590.9L241.4 588.6L245.3 587.2ZM255.8 590.7L252.4 593.2L248.9 595.4L247.8 593L251.7 591.7ZM261.5 595.9L258 598.2L254.4 600.2L253.4 597.8L257.4 596.7ZM265.9 601.4L262.3 603.6L258.6 605.4L257.7 603L261.7 602ZM272.3 606.3L268.6 608.2L264.8 609.8L264.1 607.3L268.1 606.7ZM278.2 610.9L274.5 612.8L270.6 614.3L270 611.8L274.1 611.2ZM280.5 615.4L277.5 618L274.3 620.3L273.1 618.1L276.7 616.6ZM282.9 618.2L284 621.6L285 625L282.7 625.3L282.7 621.8ZM287.8 621.1L290 624.6L291.9 628.3L289.4 629.2L288.4 625.2ZM293.3 627.1L296.5 629.8L299.4 632.8L297.3 634.4L295.2 630.8ZM297.9 634.6L302 634L306.1 633.7L306 636.3L302 635.6ZM305.1 640.5L308.2 638.5L311.3 636.8L312.2 638.9L308.7 639.8ZM311.6 645.2L314.4 642.9L317.2 640.9L318.3 642.9L315 644.2ZM317.9 646.3L321.3 647.3L324.6 648.6L323.5 650.5L320.6 648.5ZM325.6 649.2L327.8 652L329.9 654.9L327.9 655.9L326.6 652.6ZM330.3 655.2L333.8 656L337.1 657.2L336.2 659.2L333.2 657.3ZM336.5 662.4L339.5 660.4L342.6 658.7L343.4 660.8L340 661.7ZM343.3 667.6L345.6 664.9L348.1 662.4L349.5 664.2L346.5 666ZM349.5 667.7L352.7 669.2L355.8 671L354.4 672.8L351.9 670.4ZM355.5 672.6L358.9 673.6L362.2 674.8L361.2 676.8L358.2 674.8ZM361.6 677.3L365.1 677.9L368.5 678.7L367.7 680.8L364.6 679.2ZM368 681.3L371.4 682.3L374.7 683.5L373.7 685.5L370.8 683.5ZM374.1 686L377.6 686.7L381 687.6L380.2 689.6L377.1 687.9ZM380.5 690L384 691.1L387.3 692.3L386.2 694.3L383.3 692.3ZM387.8 693.2L390.5 695.6L392.9 698.2L391.1 699.5L389.3 696.5ZM393.8 697.8L396.7 700L399.3 702.3L397.7 703.8L395.7 700.9ZM398.9 704.7L402.5 704.1L406 703.8L405.9 706L402.4 705.5ZM405.9 711.2L408.3 708.6L410.9 706.2L412.2 708L409.1 709.7ZM412.3 715.8L414.5 713L417 710.5L418.4 712.2L415.4 714.1ZM418 716.5L421.5 717.3L424.9 718.3L424 720.4L421 718.6ZM425.9 719.2L428.1 722L430.1 724.9L428.2 725.9L426.9 722.6ZM431.6 722.4L434.2 725.7L436.5 729.2L434.2 730.3L432.8 726.5ZM436.9 729.6L440.3 730.4L443.7 731.5L442.8 733.5L439.8 731.7ZM443 736.4L446.1 734.8L449.4 733.4L450 735.5L446.5 736.1ZM449.1 740.4L452.5 739.1L455.8 738.1L456.2 740.3L452.7 740.5ZM455.4 744.4L458.8 743.5L462.3 742.9L462.4 745.1L458.9 744.9ZM462 747L465.4 747.9L468.7 749.1L467.7 751.1L464.8 749.2ZM470 749.6L472 752.6L473.8 755.8L471.7 756.7L470.7 753.2ZM477.3 752.9L478.4 757L479.2 761L476.6 761.2L476.8 757.1ZM483.6 756.9L484.7 760.9L485.4 765L482.8 765.1L483.1 761ZM489.5 761.1L490.9 765.1L492 769.1L489.4 769.5L489.3 765.3ZM496 765L497.1 769L498 773L495.4 773.3L495.5 769.2ZM502.7 768.7L503.5 772.8L504 776.9L501.4 776.9L501.9 772.8ZM509.1 773.1L509.9 777.2L510.3 781.3L507.6 781.3L508.2 777.2ZM515.1 779L516.1 783.1L516.7 787.1L514.1 787.2L514.4 783.1ZM520 784.8L522.2 787.6L524.1 790.6L522.1 791.6L520.9 788.2ZM524.4 793.2L527.6 791.6L530.9 790.3L531.5 792.5L528 793ZM531.6 799.2L533.6 796.2L535.7 793.4L537.3 795L534.6 797.2ZM182.1 558.8L178.5 558.6L175 558L175.6 555.9L178.9 557.2ZM188.5 562.5L184.9 563L181.4 563.1L181.6 560.9L185 561.6ZM194.7 567.3L191.1 567.3L187.6 567.1L188 564.9L191.4 566ZM200.7 572.4L197.3 571.7L193.9 570.7L194.7 568.6L197.8 570.4ZM206.7 577.3L203.4 576L200.3 574.4L201.5 572.5L204.2 574.8ZM213.2 581.4L209.7 580.4L206.4 579.2L207.5 577.2L210.4 579.2ZM220.1 582.5L216.7 584.9L213.1 587L212.1 584.6L216.1 583.4ZM228.3 583.9L225.6 587.1L222.7 590.1L221.1 588L224.6 585.9ZM237 586.1L234.4 589.3L231.6 592.3L229.9 590.3L233.4 588.1ZM243.7 590.2L241.1 593.5L238.2 596.4L236.6 594.4L240.1 592.2ZM250 595L247.2 598.2L244.3 601.1L242.7 599L246.2 596.9ZM253.9 600.9L251.3 604.1L248.4 607.1L246.8 605.1L250.2 602.8ZM260.3 605.5L257.6 608.6L254.6 611.5L253 609.5L256.6 607.3ZM266.9 610.6L263.9 613.4L260.7 616L259.3 613.8L263 612ZM272.6 615.4L269.5 618.3L266.3 620.8L264.9 618.6L268.7 616.9ZM275.2 621.1L273.2 624L271 626.8L269.5 625.2L272.3 623ZM275.9 625.6L279.5 627.3L282.9 629.2L281.4 631.2L278.5 628.5ZM282.1 628L285.2 630.8L288.1 633.8L286 635.4L283.9 631.8ZM287.6 632.7L291.1 635.1L294.4 637.6L292.5 639.5L290 636.2ZM293.9 638.3L297.7 640L301.4 641.9L299.9 644L296.8 641.3ZM300.4 644.1L304.3 644.7L308.1 645.5L307.3 647.9L303.8 646.1ZM307 648.6L310.6 649.1L314 649.9L313.3 652L310.1 650.4ZM313.7 652.2L317 653.6L320.1 655.2L318.9 657L316.2 654.7ZM320.3 656.1L323.4 658L326.2 660.1L324.7 661.7L322.4 659ZM326.4 660.7L329.6 662.4L332.6 664.2L331.2 666L328.7 663.4ZM332.2 665.8L335.7 666.6L339.1 667.7L338.2 669.7L335.1 667.9ZM338.4 670.4L341.9 671L345.4 671.8L344.6 673.9L341.4 672.3ZM344.9 674.2L348.3 675.4L351.5 676.8L350.4 678.8L347.6 676.6ZM351.1 678.9L354.5 679.8L357.9 680.9L356.9 682.9L353.9 681ZM357.3 683.3L360.8 684.1L364.1 685.2L363.2 687.2L360.2 685.4ZM363.8 687.2L367.1 688.6L370.3 690.1L369.1 692L366.4 689.7ZM369.9 692L373.3 692.9L376.7 694L375.7 696L372.7 694.1ZM376.4 695.9L379.7 697.3L382.8 698.9L381.6 700.8L378.9 698.5ZM386.8 699L386.2 702.5L385.4 705.9L383.3 705.1L384.9 702ZM394.7 704.6L392.2 707.2L389.6 709.6L388.3 707.8L391.4 706.1ZM399.8 714L397.5 711.4L395.4 708.5L397.3 707.4L398.7 710.7ZM411.8 723.1L410 720L408.4 716.8L410.5 716.1L411.3 719.5ZM418.5 727.3L416.3 724.5L414.3 721.5L416.3 720.5L417.5 723.8ZM424.4 731.8L422.5 728.8L420.9 725.7L422.9 724.9L423.8 728.3ZM426.3 731.4L429.7 732.3L433.1 733.4L432.1 735.4L429.1 733.5ZM433 735.1L436.1 736.7L439.1 738.6L437.7 740.3L435.3 737.8ZM438.5 741.2L442.1 741L445.6 741L445.3 743.2L441.9 742.3ZM445.1 747.6L447.9 745.4L450.9 743.5L451.9 745.5L448.5 746.6ZM451.2 751.5L454.3 749.7L457.5 748.2L458.2 750.3L454.7 751.1ZM457.4 753.8L461 754.1L464.4 754.6L463.8 756.8L460.6 755.4ZM466.5 755.7L467.7 759L468.7 762.4L466.5 762.8L466.4 759.3ZM473.4 759.5L474.1 763.5L474.6 767.6L472 767.6L472.5 763.5ZM479.5 763.3L480.4 767.4L481 771.5L478.4 771.6L478.8 767.5ZM485.3 767.6L486.6 771.6L487.6 775.6L485 775.9L485 771.8ZM491.7 771.3L492.8 775.3L493.6 779.4L491 779.6L491.2 775.5ZM498.3 774.8L499.2 778.9L499.7 783L497.1 783L497.5 778.9ZM504.5 778.7L505.4 782.8L506 786.9L503.4 787L503.8 782.8ZM510.3 783.6L511.5 787.6L512.4 791.7L509.8 791.9L509.9 787.8ZM516 790.4L517.9 793.9L519.6 797.5L517.2 798.3L516.4 794.4ZM520.6 796.5L523.8 797.9L527 799.6L525.7 801.4L523.1 799.1ZM526.9 805L529.3 802.3L531.8 799.9L533.2 801.7L530.1 803.4ZM177.8 565L174.2 564.8L170.7 564.3L171.3 562.1L174.6 563.4ZM184.1 568.5L180.6 569.2L177.1 569.6L177.2 567.3L180.7 567.8ZM190.4 573.2L186.9 573.6L183.3 573.7L183.5 571.4L187 572.2ZM196.4 578.6L192.9 577.9L189.5 576.9L190.4 574.8L193.5 576.6ZM202 584L199 582.1L196.1 580.1L197.6 578.4L199.9 581.1ZM208.2 588.5L205.2 586.5L202.5 584.3L204.1 582.7L206.2 585.5ZM214.7 588.2L212.4 590.9L210 593.4L208.6 591.7L211.5 589.8ZM222.9 589L221 592.7L218.8 596.2L216.8 594.5L219.7 591.6ZM230.3 591.2L228.6 595L226.5 598.6L224.4 597L227.3 594ZM237.1 594.8L235.4 598.6L233.4 602.2L231.2 600.7L234.1 597.6ZM243.2 600L241.3 603.7L239.2 607.3L237.1 605.6L240.1 602.7ZM247.8 605.4L246.2 609.3L244.4 613L242.2 611.6L244.8 608.4ZM253.9 609.7L252.4 613.6L250.7 617.3L248.5 615.9L251.1 612.7ZM260.7 614.4L258.9 618.2L256.9 621.8L254.8 620.3L257.6 617.2ZM267.3 620.3L264.9 623.8L262.3 627L260.5 625.1L263.8 622.6ZM270.6 627L268.9 630.2L267.1 633.2L265.3 631.8L267.9 629.3ZM271.5 632.6L275 633.5L278.3 634.7L277.3 636.7L274.4 634.7ZM278.3 635.7L281.5 638L284.4 640.4L282.7 642.1L280.4 639ZM284.9 639.4L287.8 642.3L290.5 645.5L288.3 646.9L286.5 643.2ZM290.7 644.4L294 646.7L297.2 649.2L295.3 651L292.9 647.8ZM296.3 649.7L300.1 650.9L303.7 652.5L302.5 654.6L299.3 652.3ZM302.6 654.2L306.3 655.3L310 656.7L308.8 658.8L305.7 656.7ZM309.3 658.1L312.7 659.8L315.9 661.6L314.5 663.5L311.8 661ZM315.9 662.2L319 664.2L322 666.4L320.4 668.1L318 665.3ZM322.2 666.6L325.3 668.6L328.2 670.8L326.6 672.4L324.3 669.6ZM328.3 671.4L331.5 672.9L334.5 674.7L333.2 676.5L330.7 674ZM334.4 676L337.7 677.3L340.9 678.8L339.7 680.7L337 678.4ZM340.7 680.3L344 681.7L347.1 683.3L345.9 685.1L343.2 682.8ZM346.9 684.8L350.2 686L353.5 687.4L352.3 689.4L349.5 687.2ZM353.3 689L356.5 690.4L359.7 692L358.4 693.9L355.8 691.6ZM360.1 692.8L362.9 694.9L365.6 697.2L363.9 698.7L361.9 695.8ZM366.4 697.1L369.2 699.3L371.8 701.7L370.1 703.1L368.1 700.2ZM374 700.8L375.6 703.9L377 707.2L374.9 707.8L374.3 704.3ZM383.2 705.6L381.8 708.9L380.2 712L378.3 710.8L380.6 708.1ZM390.5 711L387.8 713.5L385.1 715.6L383.9 713.7L387.1 712.3ZM397.1 718.3L393.5 717.9L390.1 717.3L390.7 715.1L394 716.6ZM402 724.5L399.4 722L397.1 719.3L399 718.1L400.6 721.2ZM408 729.1L405.7 726.3L403.6 723.5L405.6 722.4L406.9 725.7ZM414.1 733.5L411.9 730.7L410 727.8L412 726.7L413.2 730ZM420 738L418.2 735L416.6 731.8L418.7 731.1L419.5 734.5ZM424.5 742.6L424.4 739L424.6 735.5L426.8 735.9L425.8 739.2ZM429.1 746.2L430.8 743L432.7 740.1L434.4 741.5L431.9 743.9ZM434.6 749.5L437.3 747.3L440.2 745.2L441.2 747.2L438 748.5ZM441.3 754.6L443.4 751.7L445.7 749L447.2 750.7L444.4 752.8ZM447.3 758.7L449.8 756.1L452.3 753.6L453.6 755.4L450.6 757.2ZM452.9 760.9L456.4 760.3L459.9 759.9L459.9 762.2L456.4 761.7ZM463 761.9L463.4 765.4L463.5 768.9L461.3 768.8L462 765.3ZM469.4 766.3L469.7 769.8L469.6 773.4L467.4 773.1L468.3 769.6ZM476.4 770.8L475.9 774.4L475.1 777.8L473 777L474.6 773.9ZM484.5 776.7L481.9 779.1L479.1 781.3L477.9 779.4L481.1 777.9ZM488.5 778.1L488.7 782.3L488.5 786.4L485.9 786L487.1 782ZM494.1 781.2L494.9 785.3L495.3 789.4L492.7 789.4L493.2 785.3ZM499.9 784.7L501 788.8L501.7 792.9L499.1 793L499.3 788.9ZM505.7 788.8L507 792.8L508 796.8L505.4 797.1L505.4 793ZM511.6 794L513.2 797.9L514.5 801.8L511.9 802.3L511.6 798.2ZM517.7 801.5L519.8 804.5L521.5 807.5L519.4 808.4L518.5 805ZM521.9 809.7L525.3 808.4L528.7 807.5L529 809.7L525.5 809.8ZM173.3 571.7L169.8 571L166.4 570L167.2 568L170.3 569.7ZM179.8 574.6L176.3 575.4L172.8 576L172.8 573.7L176.3 574ZM186 578.6L182.7 579.8L179.3 580.7L178.9 578.5L182.5 578.4ZM192.3 584.2L188.7 584.1L185.2 583.8L185.6 581.6L189 582.8ZM195.7 591.3L194.4 588L193.4 584.6L195.6 584.2L195.8 587.7ZM200.6 595.6L200.7 592.1L201 588.6L203.2 589L202.1 592.4ZM209.3 593.5L208.3 596.9L207 600.2L205 599.1L207 596.3ZM216.6 595.1L215.6 599.1L214.4 603.1L212 602L214.2 598.5ZM223.8 597.1L222.9 601.1L221.7 605.1L219.3 604.1L221.4 600.5ZM229.9 601.4L229.1 605.5L228 609.4L225.6 608.4L227.6 604.8ZM235.3 606.5L234.8 610.6L233.9 614.7L231.4 613.8L233.2 610.1ZM241.1 610.7L240.8 614.9L240.2 619L237.7 618.3L239.2 614.5ZM247.5 614.9L247.1 619.1L246.5 623.2L244 622.5L245.6 618.6ZM254.1 619.4L253.6 623.6L252.8 627.6L250.3 626.8L252 623ZM261.3 624.9L260.1 628.9L258.7 632.8L256.3 631.5L258.7 628.1ZM266.5 632.4L264.8 636.3L262.9 639.9L260.7 638.4L263.5 635.3ZM267 639.2L270.5 639.7L274 640.4L273.2 642.6L270.1 641ZM274 642.3L277.1 644.2L279.9 646.3L278.4 647.9L276.1 645.2ZM281.1 646.1L283.5 648.7L285.6 651.6L283.6 652.7L282.3 649.4ZM286.7 650.9L289.6 653L292.4 655.2L290.7 656.8L288.6 653.9ZM292.3 656L295.7 657.2L299 658.7L297.9 660.6L295 658.4ZM298.7 660.4L302 661.6L305.2 663.1L304 665L301.3 662.8ZM305.3 664.2L308.4 666.1L311.3 668.1L309.8 669.8L307.5 667.1ZM311.8 668.4L314.7 670.5L317.4 672.7L315.8 674.3L313.7 671.4ZM318.1 672.7L321 674.9L323.6 677.2L322 678.7L319.9 675.8ZM324.3 677.2L327.2 679.2L330 681.4L328.4 683L326.2 680.2ZM330.4 681.8L333.5 683.6L336.4 685.5L334.9 687.2L332.5 684.6ZM336.5 686.4L339.7 687.9L342.7 689.7L341.4 691.5L338.8 689ZM342.6 690.9L345.9 692.3L349.1 693.8L347.8 695.7L345.1 693.4ZM349.2 694.8L352.3 696.7L355.1 698.8L353.6 700.4L351.3 697.7ZM356.2 698.7L358.7 701.2L360.9 703.9L359 705.1L357.5 702ZM362.6 702.9L364.9 705.6L367 708.5L365.1 709.6L363.7 706.3ZM369.7 706.9L371.3 710.2L372.6 713.4L370.4 714L369.9 710.5ZM377.5 711.3L377.6 714.8L377.3 718.4L375.1 717.9L376.2 714.6ZM391.9 721L389.9 724L387.7 726.7L386.1 725.1L388.9 723ZM398.3 730.1L395.2 728.4L392.3 726.4L393.7 724.7L396.1 727.3ZM403.1 735.5L401.3 732.4L399.7 729.3L401.8 728.5L402.6 732ZM409.2 739.9L407.5 736.8L406.1 733.6L408.2 732.9L408.9 736.4ZM425.8 753.4L426.3 749.5L427.1 745.6L429.5 746.4L427.8 750ZM432 757.8L432.6 753.8L433.3 750L435.7 750.8L434 754.3ZM438.6 762L438.8 758.3L439.3 754.6L441.6 755.2L440.3 758.6ZM445.5 766.3L445.1 762.8L445 759.2L447.3 759.5L446.5 762.9ZM454.5 769.8L451.6 767.7L448.9 765.4L450.5 763.9L452.6 766.7ZM461.8 771.3L458.4 772.3L455 773L454.8 770.8L458.3 770.9ZM467.4 773.8L465.1 776.5L462.6 779L461.2 777.3L464.2 775.4ZM473.7 778.2L471.3 780.9L468.8 783.4L467.4 781.6L470.5 779.8ZM480.7 787.1L476.8 785.5L473.2 783.6L474.6 781.4L477.7 784.1ZM488.3 792.9L484.5 791L481 788.9L482.6 786.8L485.5 789.7ZM495 794.8L490.8 794.6L486.7 794.1L487.3 791.5L491.2 793ZM498.3 792.1L497.5 796.2L496.4 800.2L494 799.2L496 795.6ZM501.7 794.5L502.8 798.6L503.6 802.6L501 802.8L501.2 798.7ZM507.2 798.4L508.6 802.3L509.8 806.3L507.2 806.7L507 802.5ZM513.4 804.3L515 808.1L516.3 812.1L513.8 812.6L513.4 808.5ZM518.9 812.6L521.6 814.9L524.1 817.4L522.3 818.8L520.5 815.8ZM168 579.2L165.2 577L162.5 574.7L164.2 573.2L166.2 576.1ZM175.3 581.8L171.8 581.6L168.3 581.1L168.8 579L172.1 580.3ZM181.7 584.6L178.4 586L175 587.1L174.6 584.9L178.1 584.6ZM187.6 588.2L184.8 590.3L181.8 592.2L180.9 590.2L184.2 589.1ZM191.9 597.4L190.1 594.3L188.6 591.1L190.7 590.4L191.4 593.8ZM197 601.9L196.3 598.4L195.9 594.9L198.2 594.9L197.7 598.4ZM206 605L202.9 603.3L199.9 601.4L201.3 599.7L203.7 602.3ZM211.3 603.1L210.4 607.2L209.3 611.2L206.9 610.2L208.9 606.6ZM217.8 604.6L217.5 608.8L216.8 612.8L214.3 612.1L215.9 608.3ZM223.7 606.9L223.8 611.1L223.6 615.2L221 614.7L222.2 610.8ZM229 612.5L229.5 616.7L229.6 620.8L227 620.6L227.9 616.6ZM234.9 616.8L235.6 620.9L235.9 625L233.3 624.9L234 620.9ZM241.2 620.8L241.9 625L242.2 629.1L239.6 629L240.2 624.9ZM248 625.2L248.4 629.3L248.5 633.5L245.9 633.2L246.8 629.2ZM254.9 630.2L254.9 634.4L254.6 638.5L252.1 638L253.3 634.1ZM261.3 636.5L261 640.7L260.4 644.8L257.8 644.1L259.4 640.2ZM263.9 643.8L266.5 646.1L269 648.7L267.2 650L265.4 647ZM269.4 648.9L272.6 650.4L275.7 652L274.5 653.9L271.8 651.5ZM276.6 652.4L279.1 654.9L281.3 657.6L279.5 658.9L277.9 655.7ZM282.4 657.2L285.3 659.2L288 661.4L286.4 663L284.3 660.2ZM288.1 662.2L291.4 663.5L294.6 664.9L293.5 666.8L290.7 664.7ZM294.7 666.1L297.8 667.9L300.7 669.9L299.2 671.6L296.8 668.9ZM301.6 669.9L304.2 672.4L306.5 675.1L304.6 676.3L303 673.2ZM307.6 674.5L310.4 676.7L312.9 679.2L311.2 680.6L309.3 677.6ZM313.8 679L316.6 681.1L319.3 683.4L317.6 684.9L315.6 682ZM320.1 683.3L322.9 685.5L325.5 687.8L323.9 689.3L321.9 686.4ZM326.2 687.8L329.2 689.8L331.9 692.1L330.3 693.6L328.1 690.8ZM332.3 692.4L335.4 694.2L338.3 696.1L336.9 697.8L334.5 695.2ZM338.3 697.1L341.6 698.5L344.7 700.1L343.4 702L340.8 699.6ZM345.1 700.9L348 703L350.7 705.2L349 706.8L346.9 703.9ZM352.1 704.7L354.3 707.5L356.4 710.4L354.4 711.4L353.1 708.1ZM358.5 709L360.6 711.9L362.5 714.9L360.4 715.8L359.4 712.5ZM365.3 713.2L366.9 716.4L368.3 719.6L366.2 720.2L365.6 716.8ZM372.5 717.4L373.2 720.9L373.7 724.4L371.5 724.5L371.8 720.9ZM378.9 721.8L379.5 725.3L379.8 728.8L377.6 728.8L378.1 725.3ZM384.8 726.2L385.8 729.6L386.4 733.1L384.2 733.2L384.4 729.7ZM390.1 730.8L392 733.8L393.6 736.9L391.5 737.7L390.7 734.3ZM394.8 740.5L397.2 737.9L399.7 735.4L401.1 737.2L398 739ZM403.6 746.3L403.2 742.8L403 739.2L405.2 739.4L404.6 742.9ZM422.1 759.9L421.9 755.8L422 751.8L424.5 752.2L423.5 756ZM428.9 764.4L428.1 760.3L427.7 756.2L430.3 756.2L429.7 760.3ZM436 768.6L434.4 764.8L433.2 761L435.7 760.5L436 764.5ZM443.4 772.5L440.8 769.4L438.5 766.2L440.7 765L442.2 768.7ZM450.6 776L447.2 774L444.1 771.8L445.7 770L448.2 772.9ZM457.2 779.5L453.7 778.4L450.3 777.2L451.3 775.1L454.3 777.2ZM463.6 783.1L460.1 782.9L456.6 782.3L457.2 780.2L460.5 781.5ZM470 785.8L466.7 787.2L463.4 788.4L462.9 786.2L466.4 785.9ZM475.8 789.2L473.2 791.5L470.3 793.7L469.2 791.7L472.5 790.3ZM482.5 794.5L479.2 796L475.9 797.2L475.4 795L478.9 794.6ZM489.5 801.2L485.4 800.6L481.4 799.6L482.3 797.2L486 799ZM497.3 806.9L493.3 805.8L489.4 804.4L490.6 802.1L494 804.4ZM505.2 809.5L501.1 809.7L496.9 809.6L497.3 807L501.3 808.1ZM506.4 804.1L506.2 808.3L505.6 812.4L503.1 811.7L504.6 807.9ZM509.5 807.3L510.7 811.3L511.6 815.3L508.9 815.5L509.1 811.4ZM514.9 815.2L516.8 818.9L518.4 822.8L515.9 823.5L515.2 819.4ZM161.4 586.3L160.6 582.8L160.2 579.3L162.4 579.3L162 582.8ZM167.2 590.6L166.9 587.1L167 583.5L169.2 583.8L168.3 587.2ZM170.5 590.7L174 590.9L177.5 591.3L177 593.5L173.7 592.2ZM182.7 593.5L180.6 596.4L178.4 599.1L176.9 597.5L179.7 595.4ZM189.8 601.1L186.3 601L182.8 600.6L183.2 598.4L186.6 599.6ZM194.7 607.5L192.1 605L189.8 602.4L191.6 601.1L193.3 604.3ZM200.9 611.9L198.4 609.4L196 606.8L197.9 605.5L199.5 608.6ZM207.5 610.7L205.7 613.9L203.8 616.8L202.1 615.4L204.7 613ZM213 612.8L212.6 617L211.9 621.1L209.4 620.3L211 616.5ZM218.3 615.5L218.8 619.6L218.9 623.7L216.3 623.5L217.2 619.5ZM223.7 618.1L224.7 622.2L225.3 626.2L222.7 626.3L223.1 622.2ZM229.6 623.3L230.8 627.3L231.6 631.3L229 631.6L229.2 627.4ZM235.8 627.1L237 631.1L237.9 635.2L235.3 635.4L235.4 631.3ZM242.3 631.3L243.4 635.3L244.1 639.4L241.5 639.5L241.7 635.4ZM248.7 636.2L249.7 640.3L250.4 644.3L247.8 644.5L248.1 640.3ZM255.4 641.8L256.2 645.9L256.7 650L254 650L254.6 645.9ZM260.1 649.6L262.3 652.5L264.2 655.4L262.2 656.4L261 653.1ZM264.9 655.4L268.2 656.6L271.5 657.9L270.4 659.9L267.5 657.8ZM272 658.8L274.7 661.1L277.2 663.6L275.4 665L273.6 662ZM277.8 663.6L280.9 665.4L283.8 667.3L282.3 669L280 666.4ZM283.8 668.3L287.1 669.7L290.2 671.4L288.9 673.2L286.3 670.8ZM291.3 671.6L293.6 674.3L295.6 677.2L293.7 678.3L292.4 675ZM298.9 675.5L299.9 679L300.7 682.4L298.5 682.6L298.5 679.1ZM303.4 680.6L306.1 683L308.5 685.5L306.8 686.9L305 683.8ZM308.8 685.9L312.2 687.2L315.3 688.8L314.1 690.6L311.4 688.4ZM315.6 689.6L318.5 691.7L321.3 693.9L319.7 695.4L317.5 692.6ZM322.2 693.8L324.9 696.1L327.3 698.6L325.6 700L323.8 697ZM328.2 698.3L331.1 700.4L333.8 702.7L332.1 704.2L330.1 701.4ZM334.1 703.2L337.3 704.7L340.3 706.5L338.9 708.3L336.4 705.8ZM340.9 706.9L343.7 709.2L346.2 711.7L344.4 713.1L342.6 710.1ZM348.1 710.8L350 713.8L351.7 716.9L349.6 717.7L348.7 714.3ZM354.4 715.1L356.3 718.2L357.9 721.3L355.8 722.1L355 718.6ZM361.1 719.4L362.6 722.6L363.8 725.9L361.7 726.4L361.2 722.9ZM368.1 723.7L368.9 727.1L369.4 730.6L367.1 730.7L367.5 727.2ZM374.3 728L375.1 731.5L375.7 735L373.5 735.1L373.8 731.6ZM380.1 732.5L381.4 735.8L382.4 739.2L380.2 739.5L380 736ZM385.6 737.1L387.6 740L389.4 743L387.4 743.9L386.4 740.6ZM390.7 742.2L393.7 744.2L396.6 746.3L395 747.9L392.8 745.2ZM417.5 765.6L417.6 762L418.1 758.4L420.3 759L419 762.3ZM424.6 770.4L423.8 766.5L423.4 762.7L425.8 762.7L425.4 766.5ZM431.9 774.7L430.1 771.1L428.6 767.5L431 766.8L431.6 770.7ZM439.3 778.5L436.5 775.7L433.9 772.7L436 771.3L437.8 774.8ZM446.3 782.3L442.9 780.2L439.7 777.9L441.4 776.1L443.9 779.1ZM452.3 786.5L449.2 784.6L446.2 782.4L447.8 780.7L450.2 783.5ZM458.4 790.8L455.4 788.9L452.6 786.8L454.2 785.2L456.4 787.9ZM465.7 793.3L462.1 793.5L458.6 793.3L458.9 791.1L462.3 792.1ZM471.2 795L468.9 797.7L466.4 800.2L465 798.4L468 796.6ZM476.3 798.4L475.4 801.8L474.2 805.2L472.2 804.2L474.1 801.2ZM481.3 802.4L481.7 806L481.8 809.5L479.6 809.3L480.3 805.8ZM487 806.6L488 810.2L488.7 813.9L486.3 814.1L486.5 810.3ZM495.2 811L494.3 815L493 818.9L490.7 817.8L492.8 814.3ZM503.8 814.6L501.7 818.2L499.3 821.6L497.3 819.8L500.4 817.1ZM506.6 813.4L507.2 817.5L507.5 821.7L504.9 821.5L505.6 817.5ZM510.2 818.7L511.9 822.5L513.4 826.4L510.8 827L510.4 822.9ZM153.6 589.9L156.8 588.3L160.1 587L160.7 589.1L157.2 589.7ZM159.8 592.9L163.4 592.7L166.9 592.7L166.6 594.9L163.2 594.1ZM166.6 595.9L169.9 597.2L173.1 598.6L171.9 600.5L169.2 598.3ZM175.1 598.7L176.5 602L177.6 605.3L175.4 605.8L175.1 602.3ZM184.1 603.6L182.6 606.9L181 610L179.1 608.7L181.5 606.1ZM191.4 612.5L188 611.5L184.7 610.2L185.8 608.2L188.7 610.3ZM196.4 618.2L194 615.6L191.8 612.8L193.8 611.7L195.2 614.9ZM204.4 619.4L200.9 620.3L197.4 620.9L197.3 618.7L200.8 618.9ZM207.9 620L207.9 624.1L207.7 628.2L205.1 627.8L206.3 623.9ZM213.1 623.7L214.2 627.7L214.9 631.8L212.3 631.9L212.6 627.8ZM218.5 627L220.1 630.9L221.4 634.8L218.9 635.3L218.5 631.2ZM224.5 629.6L226.1 633.5L227.3 637.4L224.8 637.9L224.5 633.8ZM231 633.8L232.5 637.7L233.6 641.7L231 642.1L230.8 638ZM237.4 637.7L238.7 641.7L239.8 645.7L237.2 646L237.1 641.9ZM243.5 642.5L244.9 646.4L246.1 650.4L243.5 650.8L243.3 646.7ZM250.1 647.9L251.4 651.8L252.5 655.8L249.9 656.2L249.8 652.1ZM255.9 655.8L257.9 658.7L259.7 661.8L257.6 662.7L256.6 659.3ZM260.5 661.6L263.9 662.8L267.1 664.2L266 666.1L263.2 664ZM266.5 666.6L270 667.1L273.5 667.8L272.8 669.9L269.6 668.4ZM272.6 671.7L276.2 671.4L279.7 671.5L279.4 673.7L276 672.8ZM279.6 674.3L282.8 676L285.8 677.8L284.4 679.5L281.9 677ZM288.9 677.4L289.3 680.9L289.5 684.4L287.2 684.3L287.9 680.8ZM296.2 682L295.5 685.5L294.6 688.9L292.6 688.1L294.2 685ZM298.2 687.7L301.5 689L304.7 690.6L303.5 692.5L300.8 690.2ZM303.9 694.1L307.4 693.3L310.9 692.8L311 695L307.4 694.7ZM310.6 696.7L314 697.8L317.3 699.1L316.2 701L313.4 699ZM317.7 700.1L320.5 702.3L323.1 704.7L321.3 706.2L319.4 703.2ZM324.1 704.3L326.8 706.7L329.2 709.2L327.5 710.6L325.7 707.5ZM329.9 709.1L333 711L335.8 713L334.3 714.7L332 712ZM336.4 713.3L339.3 715.4L342 717.6L340.4 719.2L338.3 716.4ZM343.3 717.2L345.6 719.9L347.8 722.7L345.9 723.8L344.4 720.6ZM349.6 721.6L351.9 724.3L354 727.1L352 728.2L350.7 725ZM356.3 725.7L358.2 728.8L359.8 731.9L357.7 732.7L356.9 729.2ZM418.3 775.7L419.7 772.4L421.3 769.2L423.1 770.5L420.8 773.1ZM426 780.6L425.8 777L426 773.5L428.2 773.8L427.2 777.2ZM433.8 784.8L432.1 781.7L430.7 778.5L432.8 777.8L433.4 781.3ZM441.1 788.7L438.5 786.3L436.1 783.7L437.9 782.4L439.6 785.5ZM446 793.7L444.6 790.4L443.6 787L445.8 786.6L446 790.1ZM450.7 798L450.9 794.5L451.4 791L453.5 791.5L452.3 794.8ZM454.4 799L457.8 798.3L461.3 797.8L461.4 800.1L457.9 799.7ZM462.8 800.2L464.8 803.1L466.5 806.2L464.5 807L463.5 803.6ZM468.8 804.6L471 807.4L473 810.4L471 811.4L469.8 808.1ZM474.6 809.3L477.2 811.7L479.6 814.3L477.8 815.6L476.1 812.5ZM481 813.6L483.5 816.1L485.8 818.8L483.9 820L482.3 816.9ZM487.6 817.3L489.9 820.5L492 824L489.7 825L488.5 821.2ZM494 820.9L496.1 824.6L497.9 828.3L495.4 829.1L494.5 825.1ZM500.1 824.2L502.1 827.9L503.7 831.7L501.2 832.5L500.5 828.4ZM505.7 828.6L508 832L510.1 835.6L507.7 836.6L506.5 832.7Z" fill="#000" stroke="#000" stroke-width="1"/></g>
<clipPath id="fc"><rect x="155" y="210" width="620" height="625"/></clipPath><path d="M155 210 424 210 425 212.5 426 215 424.5 218 420 219 420.5 224.5 417 224.5 415 226.5 410 226 408 228 410 232.5 410 235 408 236.5 407 239.5 404.5 241.5 401 244 407 247.5 403.5 249.5 399.5 253 398.5 254 397 257.5 397 258.5 397 263 394 265 392.5 267.5 389.5 268 390 271.5 388.5 277 393 277 396 279 394.5 282.5 394 287 392 286 389 284.5 385.5 285.5 386 288.5 386 292 385 293.5 380 292 377.5 297.5 374.5 297 372 297 372 294.5 367.5 300 363 299 363 302 361 303 361 305.5 359 307.5 356.5 309.5 353 311.5 351.5 315 349.5 317 351.5 320.5 351 323.5 350.5 326.5 350 329.5 349.5 332.5 346.5 334 345.5 336.5 342.5 339 341.5 339 339 339 335 341.5 333.5 346 330.5 345.5 329.5 349.5 327.5 349.5 326 353.5 324.5 356 324.5 357.5 329 360 324.5 363 323.5 366 320 365 318 368.5 316 370 318 374 320 375.5 317.5 376.5 315 379.5 313 380 311.5 382 311.5 385 308 387.5 308 391 315 394.5 308 395 309 399 304.5 401.5 304 404.5 302 408.5 306 410 305 413 305.5 414.5 303.5 420.5 300.5 416 298.5 418.5 296 420.5 293.5 419.5 292 420.5 287.5 422.5 287 424 286.5 428 283.5 427 282 429 281.5 434 281.5 436.5 277.5 439 275.5 441.5 273 443.5 271 443.5 268 445.5 266.5 450 268.5 451 267.5 454 264 454.5 262 456.5 260 457 257 460.5 254.5 459 252 459.5 251 462.5 246.5 463 243.5 464 241 465 239 463 236 464 238 467.5 238.5 467.5 238 470 237.5 473.5 234.5 475.5 236 479 234 480.5 233 483 227.5 483 228.5 486 225.5 489 222 488.5 219.5 490 215 489 216.5 491.5 218.5 493.5 215 493 212 497.5 212 500 210.5 501.5 207.5 502 204 499.5 202.5 501.5 199 503.5 195.5 506 194 502 196 506.5 196.5 507.5 193.5 510 191 512.5 188.5 512.5 185 511.5 182 513 178 513 179.5 516 184.5 517.5 186.5 519.5 183 519.5 180.5 521 177 523.5 178.5 527.5 177 529.5 177 534 173.5 533 172 531.5 167.5 533 165 533 162 533 161 535.5 159.5 537.5 155 538.3ZM392 423.4 399 426 405.7 432.2 407 439 405.5 448 403.8 456.6 400.5 465 397.9 472.3 393 484 391 493 389 501.5 387.5 510 386 517 382 527 378 533.5 374.5 538.7 370 544 366.6 548.4 364 553 362.7 558.2 362 567 361 575.8 357.9 578.7 355.5 575 354 570 351.5 565 349 560 344 555.5 339.3 552.3 336 548.5 333.4 544.5 331 538.5 329.5 532.8 327.5 528 326.6 525 326.8 517 327.6 509.4 328.3 502 329.5 495.7 332 490.5 335.4 486 338 482 341.2 478 345 471.5 349 464.5 353 457.5 356.9 450.8 361.5 445 366.6 439 371.5 435 376.4 431.2 381 428 386 425.4ZM663.3 366.2 665.6 361.5 670.3 358 672.7 353.3 675 352.1 677.3 354.5 677.3 358 673.8 361.5 670.3 365 665.6 367.3ZM656.8 360.9 662.1 360.3 663.9 365 662.1 369.7 658.6 372 656.3 370.9 659.8 367.3 658.6 363.8ZM651.6 372 655 372 658.6 376.7 656.3 379 652.7 383.8 650.4 388.4 648 387.3 647.5 383.8 650.4 379ZM652 358.5 655.7 358.5 655.7 359.8 652 359.8ZM661 342.7 662.7 342.7 661.5 346 661.8 349.8 659.2 349.8 659.5 346ZM679 343.3 683 343.3 683 344.9 679 344.9ZM685 328 689 327 693.8 326.3 691 328.5 688.5 330.4 685 330.4ZM700.8 305.2 705 305.2 706 309 706 314 704 315.4 701.5 314 700.2 310ZM671.7 305.8 673.8 305.8 673.8 307 671.7 307ZM609.4 375 611 373.2 612.9 376 612 379 610 378ZM480.2 469.9 482.1 467.6 486 466.7 489.9 467.6 490.9 469.9 489.1 472.8 483.7 472.8ZM498.4 463.9 502.3 462.4 506.2 459.3 508.6 460.8 505.4 464.7 503.1 467.8 500 467.1ZM544.3 447.2 546.7 444.3 551.3 444.8 553.5 447.9 551.3 451.2 546.7 450.7ZM448.7 460.6 451.8 460.6 451.8 464.4 448.7 464.4ZM483.8 480.8 486.1 480.8 486.1 483.2 483.8 483.2ZM400.6 629.7 403.3 629.7 404.4 636.5 401.7 636.5ZM405.1 647.2 409 648 405.9 656.2 402 655ZM383.4 697.5 386.9 696 390 699.1 387.6 702.8 384.1 701.8ZM373.1 706.8 376.9 707.6 376.6 712.9 373.4 711.9ZM404.3 688.2 408.2 688.6 407.6 693 404.5 692.5ZM306.5 498 309.6 501.5 306.5 505 303.4 501.5ZM391.3 545.3 393.7 545.3 393.7 547.7 391.3 547.7ZM388.3 571.3 390.2 571.3 390.2 573.2 388.3 573.2ZM431.9 208.1h2.8v2.3h-2.8zM429.3 220.5h1.1v1.8h-1.1zM427.6 217.6h1.4v1.6h-1.4zM417.1 229.4h2.9v1.6h-2.9zM421.1 226.4h2.8v1.6h-2.8zM413.2 230.4h1.9v1.2h-1.9zM416.7 229.3h1.4v2.4h-1.4zM412.2 235.1h1.1v2.4h-1.1zM410.8 228.3h2.4v1.7h-2.4zM409.0 246.3h1.8v1.8h-1.8zM411.3 247.4h2.7v2.3h-2.7zM411.2 244.4h1.4v1.6h-1.4zM410.0 256.1h2.8v2.1h-2.8zM405.6 257.1h2.9v1.8h-2.9zM398.3 253.8h1.5v1.3h-1.5zM400.7 266.5h2.8v2.5h-2.8zM397.5 268.4h2.4v2.3h-2.4zM392.3 273.2h2.3v1.2h-2.3zM392.4 274.6h1.5v1.9h-1.5zM394.1 269.0h1.2v1.6h-1.2zM389.8 279.0h2.0v1.1h-2.0zM391.8 279.2h1.3v1.2h-1.3zM393.0 292.4h1.3v1.3h-1.3zM386.5 291.5h2.2v1.6h-2.2zM381.3 302.6h1.9v1.2h-1.9zM376.8 303.6h3.0v1.2h-3.0zM377.9 304.7h2.7v1.1h-2.7zM383.2 303.1h3.0v1.4h-3.0zM371.2 302.0h1.9v2.3h-1.9zM372.8 298.5h3.1v1.4h-3.1zM373.8 297.5h1.1v1.5h-1.1zM373.7 297.2h2.7v2.3h-2.7zM364.5 302.6h1.4v2.5h-1.4zM362.7 313.5h2.4v2.5h-2.4zM363.0 309.5h1.1v2.2h-1.1zM356.9 318.6h2.5v2.0h-2.5zM357.2 312.6h2.2v2.1h-2.2zM351.8 330.4h1.6v1.7h-1.6zM353.0 331.2h3.1v2.4h-3.1zM352.0 340.6h1.8v1.9h-1.8zM340.6 343.6h1.1v1.7h-1.1zM341.4 341.8h2.7v1.8h-2.7zM338.1 346.3h2.1v1.2h-2.1zM339.0 345.4h1.4v2.0h-1.4zM329.4 358.3h2.6v2.1h-2.6zM328.0 357.4h3.0v1.4h-3.0zM330.7 366.7h1.7v2.0h-1.7zM328.5 368.5h1.9v1.0h-1.9zM320.9 375.3h2.0v2.4h-2.0zM321.7 368.2h1.5v2.2h-1.5zM322.8 367.4h2.8v1.1h-2.8zM318.4 379.7h3.1v1.9h-3.1zM317.3 388.3h1.2v1.4h-1.2zM317.1 384.2h1.4v1.8h-1.4zM314.0 392.1h3.2v2.2h-3.2zM316.0 390.8h2.1v1.3h-2.1zM314.4 399.7h1.1v1.5h-1.1zM317.2 397.7h3.0v2.5h-3.0zM310.9 410.7h1.2v1.5h-1.2zM307.1 410.6h2.7v1.9h-2.7zM294.8 422.4h1.7v2.2h-1.7zM305.3 422.2h1.3v2.1h-1.3zM294.6 425.4h3.1v1.1h-3.1zM303.9 420.4h1.1v2.5h-1.1zM292.8 420.2h1.1v1.2h-1.1zM297.5 424.9h1.7v1.1h-1.7zM291.1 430.0h1.6v1.9h-1.6zM283.0 434.2h3.2v1.4h-3.2zM285.3 437.1h2.0v1.3h-2.0zM279.8 448.1h1.2v1.1h-1.2zM275.6 447.1h2.0v2.5h-2.0zM277.9 444.6h2.4v2.2h-2.4zM273.5 447.7h1.1v1.4h-1.1zM277.0 450.8h2.1v1.7h-2.1zM266.4 455.6h2.4v1.2h-2.4zM267.2 463.2h2.9v2.4h-2.9zM255.5 465.8h1.3v1.2h-1.3zM251.7 463.5h1.3v1.3h-1.3zM256.3 462.7h1.6v1.6h-1.6zM253.3 466.8h2.5v1.2h-2.5zM253.6 464.2h2.0v1.9h-2.0zM251.1 468.9h2.9v1.6h-2.9zM239.2 473.8h1.9v1.7h-1.9zM246.2 462.3h1.1v2.6h-1.1zM237.0 462.4h1.4v1.6h-1.4zM243.2 465.3h1.3v2.4h-1.3zM243.2 475.4h2.2v2.2h-2.2zM240.8 483.5h1.6v1.5h-1.6zM236.0 486.4h2.3v1.1h-2.3zM236.6 487.4h2.6v1.8h-2.6zM220.7 490.7h1.1v2.5h-1.1zM222.3 496.5h1.3v1.8h-1.3zM228.3 492.7h1.2v1.8h-1.2zM222.7 488.1h3.0v1.1h-3.0zM212.7 499.4h1.3v1.6h-1.3zM217.0 505.2h3.2v2.5h-3.2zM196.5 505.1h3.1v1.0h-3.1zM206.7 508.4h3.2v2.1h-3.2zM200.6 506.3h2.0v1.5h-2.0zM202.1 506.0h1.8v1.9h-1.8zM202.6 505.4h2.1v2.1h-2.1zM184.4 519.6h2.3v1.7h-2.3zM187.5 515.7h1.2v2.1h-1.2zM185.0 519.1h3.0v1.2h-3.0zM173.5 520.2h2.3v2.4h-2.3zM186.7 526.1h2.8v1.4h-2.8zM181.4 524.8h2.6v1.3h-2.6zM180.7 523.2h1.8v1.7h-1.8zM174.5 535.0h3.1v1.1h-3.1zM164.2 540.3h1.8v1.8h-1.8zM170.9 535.1h1.9v2.5h-1.9zM165.4 535.8h2.0v1.0h-2.0zM159.1 542.9h1.2v1.3h-1.2zM159.9 542.3h1.9v2.2h-1.9z" fill="#d99170" clip-path="url(#fc)"/><path d="M157.3 246 162.7 243 169.5 245 172.5 248 174.4 246 179.3 244 184.2 248 177.3 248 174.4 251 176.4 259.7 175.4 263.6 173.4 260.7 171.5 255.8 169.5 258.2 167.6 253.8 163.7 251.9 159.8 249ZM167 272.4 169 272.4 169 276 172 276 172 278.2 167 278.2ZM386 228 392 229 398 226 400.5 228 396 231 390 232 386 231.5ZM386 245 392 244 394.7 246.5 391 249 386 248.5ZM372 285 376 285 376 293 372 293ZM305.8 358 310 356.8 312.8 360 310 365 306.5 364ZM421.7 212.8h1.6v1.6h-1.6zM419.6 212.4h2.3v1.7h-2.3zM420.2 212.3h1.7v2.2h-1.7zM410.4 219.3h1.3v2.2h-1.3zM403.2 234.0h2.9v1.0h-2.9zM399.8 242.8h1.0v1.9h-1.0zM400.8 241.9h2.4v1.5h-2.4zM398.6 249.1h2.3v2.3h-2.3zM399.8 249.7h3.3v1.1h-3.3zM403.3 245.7h1.1v1.3h-1.1zM393.1 250.1h2.5v1.9h-2.5zM398.5 247.4h1.5v1.1h-1.5zM392.9 257.4h1.8v2.3h-1.8zM391.2 260.3h1.3v2.1h-1.3zM385.1 274.2h1.9v1.5h-1.9zM395.0 276.8h1.7v1.4h-1.7zM390.8 283.8h1.9v2.0h-1.9zM388.1 284.0h2.9v1.3h-2.9zM380.5 286.7h2.8v1.6h-2.8zM372.9 290.2h2.4v1.6h-2.4zM378.4 293.6h1.8v2.0h-1.8zM380.8 291.4h2.3v1.2h-2.3zM374.6 293.9h1.7v1.7h-1.7zM355.6 302.6h3.4v1.8h-3.4zM353.6 306.7h3.1v1.5h-3.1zM352.8 302.4h2.0v2.0h-2.0zM354.7 303.4h3.3v1.1h-3.3zM353.6 308.8h1.5v1.6h-1.5zM348.0 312.6h2.9v1.5h-2.9zM345.5 322.2h2.1v2.0h-2.1zM348.5 324.9h2.2v2.0h-2.2zM349.8 320.5h2.1v2.2h-2.1zM343.6 333.3h2.9v1.1h-2.9zM345.0 333.5h1.6v1.9h-1.6zM343.3 331.6h2.6v1.3h-2.6zM330.2 342.6h1.3v1.2h-1.3zM334.9 340.9h2.2v1.0h-2.2zM332.7 341.5h1.4v2.3h-1.4zM330.9 341.6h2.9v1.3h-2.9zM325.0 350.6h3.1v2.3h-3.1zM321.0 350.3h1.8v1.1h-1.8zM325.0 359.9h1.6v1.2h-1.6zM324.4 361.9h1.7v2.0h-1.7zM322.5 358.6h2.4v2.2h-2.4zM322.2 356.2h2.9v1.9h-2.9zM314.3 367.6h1.2v1.3h-1.2zM317.2 380.4h2.9v1.1h-2.9zM312.0 373.2h1.8v1.1h-1.8zM308.3 383.9h3.0v1.2h-3.0zM307.4 384.4h2.4v2.0h-2.4zM305.4 381.2h1.1v1.5h-1.1zM304.8 392.1h3.0v1.0h-3.0zM308.1 392.6h1.5v1.2h-1.5zM306.0 391.6h1.3v1.6h-1.3zM304.6 394.2h1.3v2.4h-1.3zM303.3 398.0h2.7v2.4h-2.7zM302.0 397.9h3.5v1.4h-3.5zM300.9 411.3h2.2v1.6h-2.2zM292.5 416.3h1.5v1.1h-1.5zM294.7 413.8h2.0v1.8h-2.0zM300.8 410.0h1.6v1.3h-1.6zM295.9 415.2h1.1v1.8h-1.1zM304.9 413.2h1.0v1.3h-1.0zM280.2 431.1h3.0v2.1h-3.0zM273.5 435.6h2.2v2.4h-2.2zM264.3 448.8h2.3v1.4h-2.3zM263.3 449.7h2.5v2.3h-2.5zM250.2 455.2h2.8v1.4h-2.8zM247.4 456.0h1.8v2.3h-1.8zM250.4 460.0h3.0v1.8h-3.0zM241.9 461.1h3.3v1.4h-3.3zM233.8 468.6h3.3v1.5h-3.3zM232.3 471.0h1.3v2.1h-1.3zM232.9 469.9h3.2v2.1h-3.2zM228.2 483.7h3.0v1.8h-3.0zM230.7 479.6h2.5v2.3h-2.5zM223.1 485.9h1.7v2.2h-1.7zM224.4 484.2h3.3v2.1h-3.3zM214.7 488.5h1.7v2.3h-1.7zM217.1 493.6h3.4v2.1h-3.4zM207.3 498.3h3.3v1.3h-3.3zM206.1 501.9h2.3v2.0h-2.3zM198.2 500.2h1.3v1.7h-1.3zM206.7 499.2h2.8v2.3h-2.8zM203.7 497.6h2.0v1.5h-2.0zM191.4 509.5h1.3v2.4h-1.3zM195.2 509.8h3.0v1.9h-3.0zM190.8 506.0h2.5v1.6h-2.5zM194.3 504.4h1.2v1.8h-1.2zM194.8 504.5h1.8v1.7h-1.8zM182.4 509.0h1.8v1.4h-1.8zM187.1 512.6h2.4v1.6h-2.4zM183.8 513.3h3.3v1.4h-3.3zM180.9 517.0h3.0v2.1h-3.0zM167.6 529.6h3.5v1.5h-3.5zM175.2 526.0h2.6v1.6h-2.6zM156.4 534.1h1.1v2.3h-1.1zM162.5 529.6h2.7v2.4h-2.7zM152.3 531.9h3.1v2.0h-3.1zM154.0 535.4h2.7v1.9h-2.7z" fill="#bfdffd" clip-path="url(#fc)"/><path d="M160 244L158.5 235L159.5 228L162 222L163 216M166.6 217.5L171 214L176.4 212.8M269 231L279 226L290.4 219M272 219.5L279 226L286 232.5M275 229H287" stroke="#bfdffd" stroke-width="1.6" fill="none"/><path d="M155 211.5H165.5M156 233V242.5M156 217V219" stroke="#000" stroke-width="2" fill="none"/>
<path d="M422 209.5 466.4 239.4 510.6 269.5 554.7 299.8 598.6 330.4 642.4 361.1 686.1 392 729.6 423.2 773 454.5 740 502.3 706.9 550.1 673.6 597.7 640.3 645.3 606.9 692.9 573.4 740.3 539.7 787.7 506 835 462 804.7 418.2 774.3 374.4 743.7 330.8 713.1 287.2 682.2 243.7 651.3 200.3 620.2 157 589 289.5 399.2Z" fill="none" stroke="#000" stroke-width="1.8"/>
<rect x="795" y="210.2" width="61" height="42.2" fill="#e60000"/>
<rect x="795" y="251.9" width="61" height="42.4" fill="#ff4010"/>
<rect x="795" y="293.8" width="61" height="42.7" fill="#ff7840"/>
<rect x="795" y="336.0" width="61" height="42.4" fill="#ff9520"/>
<rect x="795" y="377.9" width="61" height="42.4" fill="#ffbf00"/>
<rect x="795" y="419.8" width="61" height="41.4" fill="#f5e030"/>
<rect x="795" y="460.7" width="61" height="42.4" fill="#efff5f"/>
<rect x="795" y="502.6" width="61" height="42.7" fill="#bfff5f"/>
<rect x="795" y="544.8" width="61" height="42.2" fill="#00f000"/>
<rect x="795" y="586.5" width="61" height="42.5" fill="#00df00"/>
<rect x="795" y="628.5" width="61" height="42.2" fill="#00e890"/>
<rect x="795" y="670.2" width="61" height="42.2" fill="#00f0c8"/>
<rect x="795" y="711.9" width="61" height="42.2" fill="#00ffff"/>
<rect x="795" y="753.6" width="61" height="42.5" fill="#00d0ff"/>
<rect x="795" y="795.6" width="61" height="41.5" fill="#0099ff"/>
<rect x="794.9" y="209.3" width="61.1" height="627.4" fill="none" stroke="#000" stroke-width="2"/>
<text x="863.0" y="259.2" font-size="22" textLength="38.4" lengthAdjust="spacingAndGlyphs">117</text>
<text x="863.0" y="301.1" font-size="22" textLength="38.4" lengthAdjust="spacingAndGlyphs">108</text>
<text x="863.0" y="343.3" font-size="22" textLength="38.4" lengthAdjust="spacingAndGlyphs">100</text>
<text x="864.4" y="385.2" font-size="22" textLength="23.6" lengthAdjust="spacingAndGlyphs">92</text>
<text x="864.4" y="427.1" font-size="22" textLength="23.6" lengthAdjust="spacingAndGlyphs">83</text>
<text x="864.4" y="468.0" font-size="22" textLength="23.6" lengthAdjust="spacingAndGlyphs">75</text>
<text x="864.4" y="509.9" font-size="22" textLength="23.6" lengthAdjust="spacingAndGlyphs">67</text>
<text x="864.4" y="552.1" font-size="22" textLength="23.6" lengthAdjust="spacingAndGlyphs">58</text>
<text x="864.4" y="593.8" font-size="22" textLength="23.6" lengthAdjust="spacingAndGlyphs">50</text>
<text x="864.4" y="635.8" font-size="22" textLength="23.6" lengthAdjust="spacingAndGlyphs">42</text>
<text x="864.4" y="677.5" font-size="22" textLength="23.6" lengthAdjust="spacingAndGlyphs">33</text>
<text x="864.4" y="719.2" font-size="22" textLength="23.6" lengthAdjust="spacingAndGlyphs">25</text>
<text x="863.0" y="760.9" font-size="22" textLength="23.6" lengthAdjust="spacingAndGlyphs">17</text>
<text x="864.4" y="802.9" font-size="22" textLength="10.5" lengthAdjust="spacingAndGlyphs">8</text>
<path d="M239.5 210.5V834.7M324.5 210.5V834.7M408.5 210.5V834.7M493.5 210.5V834.7M578.5 210.5V834.7M663.5 210.5V834.7M747.5 210.5V834.7M155 299.5H775M155 391.5H775M155 484.5H775M155 576.5H775M155 668.5H775M155 760.5H775" stroke="#fff" stroke-width="1" fill="none" shape-rendering="crispEdges"/>
<text x="234.4" y="128.9" font-size="18.5" textLength="123.2" lengthAdjust="spacingAndGlyphs">25m velocity</text>
<text x="218.1" y="199.9" font-size="18.5" textLength="31.4" lengthAdjust="spacingAndGlyphs">118</text>
<text x="249.9" y="199.9" font-size="18.5" textLength="11.6" lengthAdjust="spacingAndGlyphs">E</text>
<circle cx="252.7" cy="188.3" r="2" fill="none" stroke="#000" stroke-width="0.9"/>
<text x="303.1" y="199.9" font-size="18.5" textLength="31.4" lengthAdjust="spacingAndGlyphs">120</text>
<text x="334.9" y="199.9" font-size="18.5" textLength="11.6" lengthAdjust="spacingAndGlyphs">E</text>
<circle cx="337.7" cy="188.3" r="2" fill="none" stroke="#000" stroke-width="0.9"/>
<text x="387.1" y="199.9" font-size="18.5" textLength="31.4" lengthAdjust="spacingAndGlyphs">122</text>
<text x="418.9" y="199.9" font-size="18.5" textLength="11.6" lengthAdjust="spacingAndGlyphs">E</text>
<circle cx="421.7" cy="188.3" r="2" fill="none" stroke="#000" stroke-width="0.9"/>
<text x="472.1" y="199.9" font-size="18.5" textLength="31.4" lengthAdjust="spacingAndGlyphs">124</text>
<text x="503.9" y="199.9" font-size="18.5" textLength="11.6" lengthAdjust="spacingAndGlyphs">E</text>
<circle cx="506.7" cy="188.3" r="2" fill="none" stroke="#000" stroke-width="0.9"/>
<text x="557.1" y="199.9" font-size="18.5" textLength="31.4" lengthAdjust="spacingAndGlyphs">126</text>
<text x="588.9" y="199.9" font-size="18.5" textLength="11.6" lengthAdjust="spacingAndGlyphs">E</text>
<circle cx="591.7" cy="188.3" r="2" fill="none" stroke="#000" stroke-width="0.9"/>
<text x="642.1" y="199.9" font-size="18.5" textLength="31.4" lengthAdjust="spacingAndGlyphs">128</text>
<text x="673.9" y="199.9" font-size="18.5" textLength="11.6" lengthAdjust="spacingAndGlyphs">E</text>
<circle cx="676.7" cy="188.3" r="2" fill="none" stroke="#000" stroke-width="0.9"/>
<text x="726.1" y="199.9" font-size="18.5" textLength="31.4" lengthAdjust="spacingAndGlyphs">130</text>
<text x="757.9" y="199.9" font-size="18.5" textLength="11.6" lengthAdjust="spacingAndGlyphs">E</text>
<circle cx="760.7" cy="188.3" r="2" fill="none" stroke="#000" stroke-width="0.9"/>
<text x="111.2" y="305.8" font-size="18.5" textLength="19.8" lengthAdjust="spacingAndGlyphs">28</text>
<text x="131.5" y="305.8" font-size="18.5" textLength="13.4" lengthAdjust="spacingAndGlyphs">N</text>
<circle cx="134.6" cy="294.1" r="2" fill="none" stroke="#000" stroke-width="0.9"/>
<text x="111.2" y="397.8" font-size="18.5" textLength="19.8" lengthAdjust="spacingAndGlyphs">26</text>
<text x="131.5" y="397.8" font-size="18.5" textLength="13.4" lengthAdjust="spacingAndGlyphs">N</text>
<circle cx="134.6" cy="386.1" r="2" fill="none" stroke="#000" stroke-width="0.9"/>
<text x="111.2" y="490.8" font-size="18.5" textLength="19.8" lengthAdjust="spacingAndGlyphs">24</text>
<text x="131.5" y="490.8" font-size="18.5" textLength="13.4" lengthAdjust="spacingAndGlyphs">N</text>
<circle cx="134.6" cy="479.1" r="2" fill="none" stroke="#000" stroke-width="0.9"/>
<text x="111.2" y="582.8" font-size="18.5" textLength="19.8" lengthAdjust="spacingAndGlyphs">22</text>
<text x="131.5" y="582.8" font-size="18.5" textLength="13.4" lengthAdjust="spacingAndGlyphs">N</text>
<circle cx="134.6" cy="571.1" r="2" fill="none" stroke="#000" stroke-width="0.9"/>
<text x="111.2" y="674.8" font-size="18.5" textLength="19.8" lengthAdjust="spacingAndGlyphs">20</text>
<text x="131.5" y="674.8" font-size="18.5" textLength="13.4" lengthAdjust="spacingAndGlyphs">N</text>
<circle cx="134.6" cy="663.1" r="2" fill="none" stroke="#000" stroke-width="0.9"/>
<text x="111.2" y="766.8" font-size="18.5" textLength="19.8" lengthAdjust="spacingAndGlyphs">18</text>
<text x="131.5" y="766.8" font-size="18.5" textLength="13.4" lengthAdjust="spacingAndGlyphs">N</text>
<circle cx="134.6" cy="755.1" r="2" fill="none" stroke="#000" stroke-width="0.9"/>
<text x="193.2" y="851.3" font-size="12" textLength="114" lengthAdjust="spacingAndGlyphs" font-weight="bold">Min= 1.7769E+00</text>
<text x="321" y="851.3" font-size="12" textLength="117.4" lengthAdjust="spacingAndGlyphs" font-weight="bold">Max= 1.7769E+02</text>
<text x="285.5" y="878.6" font-size="18.5" textLength="186" lengthAdjust="spacingAndGlyphs">2.00 Day Forecast :</text>
<text x="490.6" y="878.6" font-size="18.5" textLength="63.3" lengthAdjust="spacingAndGlyphs">0:00:00</text>
<text x="582.8" y="878.6" font-size="18.5" textLength="105" lengthAdjust="spacingAndGlyphs">7 Sep 2009</text>
<path d="M588 253.7H609" stroke="#000" stroke-width="1.1" fill="none"/><path d="M607.8 252.1L616.3 253.3L616.3 254.2L607.8 255.3z" fill="#000"/>
<text x="588.5" y="291.8" font-size="10.5" textLength="45.7" lengthAdjust="spacingAndGlyphs" font-weight="bold">126 cm/s</text>
<rect x="704" y="261" width="2" height="2" fill="#d99170"/>
</svg>
</body></html>
